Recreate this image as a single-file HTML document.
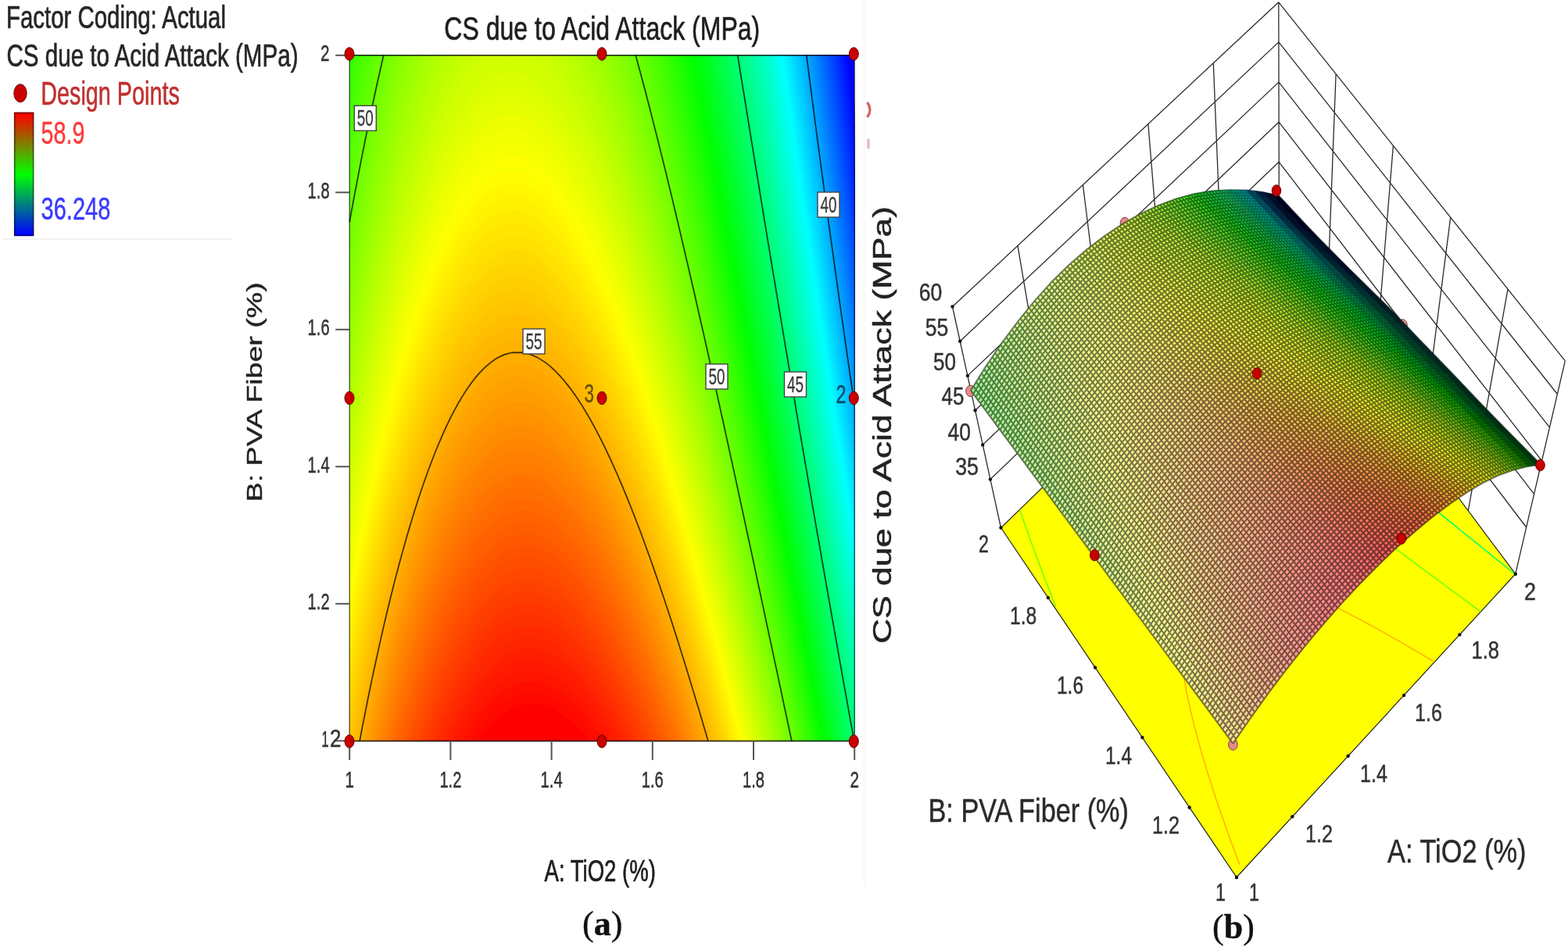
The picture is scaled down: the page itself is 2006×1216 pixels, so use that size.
<!DOCTYPE html>
<html><head><meta charset="utf-8"><title>Figure</title>
<style>html,body{margin:0;padding:0;background:#fff}body{width:2006px;height:1216px;overflow:hidden}svg{display:block}</style>
</head><body>
<svg width="2006" height="1216" viewBox="0 0 2006 1216">
<rect width="2006" height="1216" fill="#fff"/>
<g id="legend">
<text x="8.0" y="35.8" font-family='"Liberation Sans", sans-serif' font-size="40" fill="#262626" textLength="281.0" lengthAdjust="spacingAndGlyphs" stroke="#262626" stroke-width="0.7">Factor Coding: Actual</text>
<text x="8.5" y="85.3" font-family='"Liberation Sans", sans-serif' font-size="40" fill="#262626" textLength="373.0" lengthAdjust="spacingAndGlyphs" stroke="#262626" stroke-width="0.7">CS due to Acid Attack (MPa)</text>
<text x="52.3" y="134.3" font-family='"Liberation Sans", sans-serif' font-size="42" fill="#c03030" textLength="177.5" lengthAdjust="spacingAndGlyphs" stroke="#c03030" stroke-width="0.6">Design Points</text>
<ellipse cx="26.0" cy="119.3" rx="8.2" ry="11.5" fill="#c80000" stroke="#6a0000" stroke-width="1"/>
<defs><linearGradient id="cb" x1="0" y1="0" x2="0" y2="1"><stop offset="0" stop-color="#ff0000"/><stop offset="0.5" stop-color="#00ff00"/><stop offset="1" stop-color="#0000ff"/></linearGradient><linearGradient id="cbd" x1="0" y1="0" x2="0" y2="1"><stop offset="0" stop-color="#800000"/><stop offset="0.5" stop-color="#008000"/><stop offset="1" stop-color="#000080"/></linearGradient></defs>
<rect x="17.9" y="143.6" width="25.5" height="158.6" fill="url(#cbd)"/>
<rect x="19.5" y="145.6" width="22.3" height="155" fill="url(#cb)"/>
<text x="52.6" y="184.0" font-family='"Liberation Sans", sans-serif' font-size="41" fill="#ff3a3a" textLength="55.8" lengthAdjust="spacingAndGlyphs" stroke="#ff3a3a" stroke-width="0.5">58.9</text>
<text x="52.6" y="281.3" font-family='"Liberation Sans", sans-serif' font-size="41" fill="#3a3aff" textLength="88.7" lengthAdjust="spacingAndGlyphs" stroke="#3a3aff" stroke-width="0.5">36.248</text>
<line x1="3" y1="306" x2="298" y2="306" stroke="#f2f2f2" stroke-width="2"/>
<line x1="1105.5" y1="0" x2="1105.5" y2="1135" stroke="#f7f7f7" stroke-width="1.5"/>
<path d="M1109.5,131 q7,9.5 0,19" fill="none" stroke="#cc4444" stroke-width="3.2" stroke-opacity="0.85"/>
<rect x="1109.3" y="177.5" width="3.4" height="13" fill="#d0608a" fill-opacity="0.45"/>
</g>
<g id="contour">
<rect x="447.2" y="70.8" width="646.0" height="877.5" fill="#0000ff"/>
<path d="M447.2,948.3L1093.2,948.3L1093.2,130.8L1087.9,85.5L1086.2,70.8L447.2,70.8L447.2,948.3Z" fill="#0003ff"/>
<path d="M447.2,948.3L1093.2,948.3L1093.2,145.1L1087.9,100.3L1084.5,70.8L447.2,70.8L447.2,948.3Z" fill="#0008ff"/>
<path d="M447.2,948.3L1093.2,948.3L1093.2,159.3L1087.9,115L1082.8,70.8L447.2,70.8L447.2,948.3Z" fill="#000eff"/>
<path d="M447.2,948.3L1093.2,948.3L1093.2,173.5L1088,129.8L1081.9,78.2L1081.1,70.8L447.2,70.8L447.2,948.3Z" fill="#0014ff"/>
<path d="M447.2,948.3L1093.2,948.3L1093.2,187.5L1088,144.5L1081.9,92.9L1079.3,70.8L447.2,70.8L447.2,948.3Z" fill="#001aff"/>
<path d="M447.2,948.3L1093.2,948.3L1093.2,201.4L1088.1,159.3L1081.9,107.7L1077.6,70.8L447.2,70.8L447.2,948.3Z" fill="#001fff"/>
<path d="M447.2,948.3L1093.2,948.3L1093.2,215.2L1087.3,166.7L1081,115L1075.8,70.8L447.2,70.8L447.2,948.3Z" fill="#0025ff"/>
<path d="M447.2,948.3L1093.2,948.3L1093.2,228.9L1087.3,181.4L1081.1,129.8L1074.1,70.8L447.2,70.8L447.2,948.3Z" fill="#002bff"/>
<path d="M447.2,948.3L1093.2,948.3L1093.2,242.5L1087.4,196.2L1081.1,144.5L1074,85.5L1072.3,70.8L447.2,70.8L447.2,948.3Z" fill="#0030ff"/>
<path d="M447.2,948.3L1093.2,948.3L1093.2,256.1L1087.5,210.9L1081.2,159.3L1074,100.3L1070.5,70.8L447.2,70.8L447.2,948.3Z" fill="#0036ff"/>
<path d="M447.2,948.3L1093.2,948.3L1093.2,269.5L1087.6,225.7L1081.2,174L1074,115L1068.7,70.8L447.2,70.8L447.2,948.3Z" fill="#003cff"/>
<path d="M447.2,948.3L1093.2,948.3L1093.2,282.8L1087.8,240.4L1081.3,188.8L1074.1,129.8L1067,70.8L447.2,70.8L447.2,948.3Z" fill="#0041ff"/>
<path d="M447.2,948.3L1093.2,948.3L1093.2,296.1L1087,247.8L1080.5,196.2L1074.1,144.5L1066.9,85.5L1065.2,70.8L447.2,70.8L447.2,948.3Z" fill="#0047ff"/>
<path d="M447.2,948.3L1093.2,948.3L1093.2,309.2L1087.2,262.5L1080.6,210.9L1074.1,159.3L1066.9,100.3L1063.4,70.8L447.2,70.8L447.2,948.3Z" fill="#004dff"/>
<path d="M447.2,948.3L1093.2,948.3L1093.2,322.3L1087.3,277.3L1080.7,225.7L1074.2,174L1066.9,115L1061.5,70.8L447.2,70.8L447.2,948.3Z" fill="#0052ff"/>
<path d="M447.2,948.3L1093.2,948.3L1093.2,335.3L1087.5,292L1080.8,240.4L1074.3,188.8L1066.9,129.8L1059.7,70.8L447.2,70.8L447.2,948.3Z" fill="#0058ff"/>
<path d="M447.2,948.3L1093.2,948.3L1093.2,348.2L1087.7,306.8L1081,255.1L1074.4,203.5L1067,144.5L1059.7,85.5L1057.9,70.8L447.2,70.8L447.2,948.3Z" fill="#005eff"/>
<path d="M447.2,948.3L1093.2,948.3L1093.2,361L1087,314.1L1080.2,262.5L1073.5,210.9L1067,159.3L1059.7,100.3L1056.1,70.8L447.2,70.8L447.2,948.3Z" fill="#0063ff"/>
<path d="M447.2,948.3L1093.2,948.3L1093.2,373.8L1087.2,328.9L1080.4,277.3L1073.6,225.7L1067.1,174L1059.7,115L1054.2,70.8L447.2,70.8L447.2,948.3Z" fill="#0069ff"/>
<path d="M447.2,948.3L1093.2,948.3L1093.2,386.4L1087.4,343.6L1080.5,292L1073.8,240.4L1067.1,188.8L1059.7,129.8L1052.4,70.8L447.2,70.8L447.2,948.3Z" fill="#006eff"/>
<path d="M447.2,948.3L1093.2,948.3L1093.2,399L1087.7,358.4L1080.7,306.8L1073.9,255.1L1067.2,203.5L1059.7,144.5L1052.3,85.5L1050.5,70.8L447.2,70.8L447.2,948.3Z" fill="#0074ff"/>
<path d="M447.2,948.3L1093.2,948.3L1093.2,411.5L1086.9,365.8L1080,314.1L1073.1,262.5L1066.4,210.9L1059.7,159.3L1052.3,100.3L1048.6,70.8L447.2,70.8L447.2,948.3Z" fill="#007aff"/>
<path d="M447.2,948.3L1093.2,948.3L1093.2,424L1087.2,380.5L1080.2,328.9L1073.3,277.3L1066.5,225.7L1059.8,174L1052.3,115L1046.7,70.8L447.2,70.8L447.2,948.3Z" fill="#007fff"/>
<path d="M447.2,948.3L1093.2,948.3L1093.2,436.4L1087.5,395.3L1080.4,343.6L1073.4,292L1066.6,240.4L1059.8,188.8L1052.3,129.8L1044.9,70.8L447.2,70.8L447.2,948.3Z" fill="#0085ff"/>
<path d="M447.2,948.3L1093.2,948.3L1093.2,448.7L1086.8,402.6L1080.7,358.4L1073.6,306.8L1066.7,255.1L1059.9,203.5L1052.3,144.5L1044.8,85.5L1043,70.8L447.2,70.8L447.2,948.3Z" fill="#008bff"/>
<path d="M447.2,948.3L1093.2,948.3L1093.2,460.9L1087.1,417.4L1079.9,365.8L1072.8,314.1L1065.9,262.5L1059.1,210.9L1052.3,159.3L1044.8,100.3L1041.1,70.8L447.2,70.8L447.2,948.3Z" fill="#0090ff"/>
<path d="M447.2,948.3L1093.2,948.3L1093.2,473.1L1087.4,432.1L1080.2,380.5L1073.1,328.9L1066.1,277.3L1059.2,225.7L1052.4,174L1044.8,115L1039.1,70.8L447.2,70.8L447.2,948.3Z" fill="#0096ff"/>
<path d="M447.2,948.3L1093.2,948.3L1093.2,485.2L1083.6,417.4L1075.3,358.4L1067.2,299.4L1059.3,240.4L1052.4,188.8L1044.8,129.8L1038.1,78.2L1037.2,70.8L447.2,70.8L447.2,948.3Z" fill="#009cff"/>
<path d="M447.2,948.3L1093.2,948.3L1093.2,497.2L1087,454.2L1079.7,402.6L1072.5,351L1065.4,299.4L1058.4,247.8L1051.5,196.2L1044.8,144.5L1038.1,92.9L1035.3,70.8L447.2,70.8L447.2,948.3Z" fill="#00a1ff"/>
<path d="M447.2,948.3L1093.2,948.3L1093.2,509.2L1087.4,469L1080,417.4L1072.8,365.8L1065.6,314.1L1058.6,262.5L1051.6,210.9L1044.8,159.3L1038.1,107.7L1033.3,70.8L447.2,70.8L447.2,948.3Z" fill="#00a7ff"/>
<path d="M447.2,948.3L1093.2,948.3L1093.2,521.1L1083.5,454.2L1075.1,395.3L1066.8,336.3L1059.7,284.6L1051.7,225.7L1044.8,174L1038,122.4L1031.4,70.8L447.2,70.8L447.2,948.3Z" fill="#00adff"/>
<path d="M447.2,948.3L1093.2,948.3L1093.2,532.9L1087.1,491.1L1079.6,439.5L1073.3,395.3L1066,343.6L1058.9,292L1051.8,240.4L1044.9,188.8L1038,137.2L1030.4,78.2L1029.4,70.8L447.2,70.8L447.2,948.3Z" fill="#00b2ff"/>
<path d="M447.2,948.3L1093.2,948.3L1093.2,544.7L1083.2,476.4L1074.7,417.4L1066.3,358.4L1059.1,306.8L1052,255.1L1045,203.5L1038.1,151.9L1030.3,92.9L1027.4,70.8L447.2,70.8L447.2,948.3Z" fill="#00b8ff"/>
<path d="M447.2,948.3L1093.2,948.3L1093.2,556.4L1083.5,491.1L1075,432.1L1066.5,373.1L1059.3,321.5L1052.1,269.9L1045,218.3L1038.1,166.7L1030.3,107.7L1025.4,70.8L447.2,70.8L447.2,948.3Z" fill="#00beff"/>
<path d="M447.2,948.3L1093.2,948.3L1093.2,568.1L1087.2,528L1079.6,476.4L1073.2,432.1L1065.8,380.5L1058.5,328.9L1051.2,277.3L1044.1,225.7L1037.1,174L1030.2,122.4L1023.5,70.8L447.2,70.8L447.2,948.3Z" fill="#00c4ff"/>
<path d="M447.2,948.3L1093.2,948.3L1093.2,579.7L1083.3,513.2L1074.6,454.2L1066,395.3L1058.7,343.6L1051.4,292L1044.2,240.4L1037.2,188.8L1030.2,137.2L1023.4,85.5L1021.5,70.8L447.2,70.8L447.2,948.3Z" fill="#00c9ff"/>
<path d="M447.2,948.3L1093.2,948.3L1093.2,591.3L1087,550.1L1080.4,505.9L1072.8,454.2L1065.3,402.6L1058.9,358.4L1051.6,306.8L1044.4,255.1L1037.3,203.5L1030.2,151.9L1023.3,100.3L1019.4,70.8L447.2,70.8L447.2,948.3Z" fill="#00cfff"/>
<path d="M447.2,948.3L1093.2,948.3L1093.2,602.8L1083,535.4L1074.2,476.4L1066.6,424.7L1059.2,373.1L1051.8,321.5L1044.5,269.9L1037.3,218.3L1030.3,166.7L1023.3,115L1017.4,70.8L447.2,70.8L447.2,948.3Z" fill="#00d4ff"/>
<path d="M447.2,948.3L1093.2,948.3L1093.2,614.2L1083.4,550.1L1074.6,491.1L1067,439.5L1059.4,387.9L1052,336.3L1044.7,284.6L1037.4,233L1030.3,181.4L1023.3,129.8L1015.4,70.8L447.2,70.8L447.2,948.3Z" fill="#00daff"/>
<path d="M447.2,948.3L1093.2,948.3L1093.2,625.6L1087.3,587L1080.5,542.7L1072.8,491.1L1065.1,439.5L1058.6,395.3L1051.2,343.6L1043.8,292L1036.5,240.4L1029.3,188.8L1022.3,137.2L1015.3,85.5L1013.3,70.8L447.2,70.8L447.2,948.3Z" fill="#00e0ff"/>
<path d="M447.2,948.3L1093.2,948.3L1093.2,636.9L1083.2,572.2L1074.3,513.2L1066.6,461.6L1058.9,410L1051.4,358.4L1044,306.8L1036.6,255.1L1029.4,203.5L1022.3,151.9L1015.2,100.3L1011.2,70.8L447.2,70.8L447.2,948.3Z" fill="#00e6ff"/>
<path d="M447.2,948.3L1093.2,948.3L1093.2,648.2L1087.1,609.1L1080.3,564.9L1072.5,513.2L1065.8,469L1058.1,417.4L1050.6,365.8L1044.1,321.5L1036.8,269.9L1029.5,218.3L1022.3,166.7L1015.2,115L1009.2,70.8L447.2,70.8L447.2,948.3Z" fill="#00ebff"/>
<path d="M447.2,948.3L1093.2,948.3L1093.2,659.4L1083,594.4L1074,535.4L1066.2,483.7L1058.5,432.1L1050.8,380.5L1044.4,336.3L1036.9,284.6L1029.6,233L1022.3,181.4L1015.1,129.8L1008.1,78.2L1007.1,70.8L447.2,70.8L447.2,948.3Z" fill="#00f1ff"/>
<path d="M447.2,948.3L1093.2,948.3L1093.2,670.6L1082.4,601.7L1073.3,542.7L1065.4,491.1L1058.8,446.9L1051.1,395.3L1043.5,343.6L1037.1,299.4L1029.7,247.8L1022.3,196.2L1015.1,144.5L1008,92.9L1005,70.8L447.2,70.8L447.2,948.3Z" fill="#00f7ff"/>
<path d="M447.2,948.3L1093.2,948.3L1093.2,681.7L1082.9,616.5L1073.7,557.5L1065.8,505.9L1058,454.2L1051.4,410L1043.7,358.4L1036.2,306.8L1029.8,262.5L1022.4,210.9L1015.1,159.3L1007.9,107.7L1002.9,70.8L447.2,70.8L447.2,948.3Z" fill="#00fcff"/>
<path d="M447.2,948.3L1093.2,948.3L1093.2,692.8L1082.3,623.8L1073.1,564.9L1065.1,513.2L1058.4,469L1050.6,417.4L1044,373.1L1036.4,321.5L1028.8,269.9L1022.5,225.7L1015.1,174L1007.9,122.4L1000.7,70.8L447.2,70.8L447.2,948.3Z" fill="#00fffc"/>
<path d="M447.2,948.3L1093.2,948.3L1093.2,703.8L1082.8,638.6L1073.5,579.6L1065.5,528L1058.7,483.7L1050.9,432.1L1044.2,387.9L1036.6,336.3L1029,284.6L1022.6,240.4L1015.2,188.8L1007.9,137.2L1000.6,85.5L998.6,70.8L447.2,70.8L447.2,948.3Z" fill="#00fff6"/>
<path d="M447.2,948.3L1093.2,948.3L1093.2,714.8L1082.2,646L1074,594.4L1065.9,542.7L1058,491.1L1051.2,446.9L1043.4,395.3L1036.8,351L1029.1,299.4L1021.6,247.8L1015.2,203.5L1007.8,151.9L1000.6,100.3L996.4,70.8L447.2,70.8L447.2,948.3Z" fill="#00fff1"/>
<path d="M447.2,948.3L1093.2,948.3L1093.2,725.8L1082.7,660.7L1073.3,601.7L1065.2,550.1L1058.4,505.9L1047,432.1L1038.1,373.1L1030.4,321.5L1022.8,269.9L1015.3,218.3L1007.8,166.7L1000.5,115L994.3,70.8L447.2,70.8L447.2,948.3Z" fill="#00ffeb"/>
<path d="M447.2,948.3L1093.2,948.3L1093.2,736.6L1082.1,668.1L1073.8,616.5L1065.7,564.9L1054.2,491.1L1045.1,432.1L1037.3,380.5L1029.5,328.9L1021.9,277.3L1015.3,233L1007.9,181.4L1000.4,129.8L993.1,78.2L992.1,70.8L447.2,70.8L447.2,948.3Z" fill="#00ffe5"/>
<path d="M447.2,948.3L1093.2,948.3L1093.2,747.5L1082.7,682.8L1073.2,623.8L1061.5,550.1L1052.3,491.1L1044.3,439.5L1036.4,387.9L1029.7,343.6L1022,292L1014.4,240.4L1007.9,196.2L1000.4,144.5L993,92.9L989.9,70.8L447.2,70.8L447.2,948.3Z" fill="#00ffe0"/>
<path d="M447.2,948.3L1093.2,948.3L1093.2,758.3L1082,690.2L1073.7,638.6L1065.5,587L1058.4,542.7L1046.9,469L1037.8,410L1029.9,358.4L1022.2,306.8L1014.5,255.1L1007.9,210.9L1000.4,159.3L993,107.7L987.7,70.8L447.2,70.8L447.2,948.3Z" fill="#00ffda"/>
<path d="M447.2,948.3L1093.2,948.3L1093.2,769L1082.6,705L1073.1,646L1061.2,572.2L1051.9,513.2L1043.8,461.6L1037,417.4L1029.1,365.8L1022.3,321.5L1014.6,269.9L1008,225.7L1000.4,174L992.9,122.4L985.5,70.8L447.2,70.8L447.2,948.3Z" fill="#00ffd4"/>
<path d="M447.2,948.3L1093.2,948.3L1093.2,779.7L1082,712.3L1073.6,660.7L1065.3,609.1L1058.2,564.9L1051.1,520.6L1044.2,476.4L1036.1,424.7L1029.3,380.5L1021.4,328.9L1014.7,284.6L1007,233L1000.4,188.8L992.8,137.2L985.4,85.5L983.2,70.8L447.2,70.8L447.2,948.3Z" fill="#00ffcf"/>
<path d="M447.2,948.3L1093.2,948.3L1093.2,790.4L1082.7,727.1L1073,668.1L1065.8,623.8L1058.6,579.6L1046.9,505.9L1037.6,446.9L1029.6,395.3L1021.6,343.6L1014.9,299.4L1007.1,247.8L1000.5,203.5L992.8,151.9L985.3,100.3L981,70.8L447.2,70.8L447.2,948.3Z" fill="#00ffc9"/>
<path d="M447.2,948.3L1093.2,948.3L1093.2,801L1082.1,734.5L1073.5,682.8L1065.1,631.2L1053.2,557.5L1044.9,505.9L1036.8,454.2L1025.2,380.5L1016.1,321.5L1008.3,269.9L1000.5,218.3L992.8,166.7L986.3,122.4L978.7,70.8L447.2,70.8L447.2,948.3Z" fill="#00ffc4"/>
<path d="M447.2,948.3L1093.2,948.3L1093.2,811.6L1082.7,749.2L1072.9,690.2L1065.6,646L1058.4,601.7L1051.2,557.5L1044.1,513.2L1032.4,439.5L1023.2,380.5L1015.2,328.9L1007.3,277.3L1000.6,233L992.8,181.4L986.2,137.2L978.6,85.5L976.4,70.8L447.2,70.8L447.2,948.3Z" fill="#00ffbe"/>
<path d="M447.2,948.3L1093.2,948.3L1093.2,822.1L1082.1,756.6L1073.5,705L1061.3,631.2L1051.7,572.2L1043.4,520.6L1036.3,476.4L1029.3,432.1L1022.3,387.9L1014.3,336.3L1007.4,292L1000.6,247.8L992.8,196.2L986.2,151.9L978.5,100.3L974.1,70.8L447.2,70.8L447.2,948.3Z" fill="#00ffb8"/>
<path d="M447.2,948.3L1093.2,948.3L1093.2,832.6L1082.8,771.3L1072.9,712.3L1065.5,668.1L1058.2,623.8L1051,579.6L1043.8,535.4L1036.6,491.1L1029.6,446.9L1016.8,365.8L1007.6,306.8L995.1,225.7L986.1,166.7L978.4,115L971.8,70.8L447.2,70.8L447.2,948.3Z" fill="#00ffb3"/>
<path d="M447.2,948.3L1093.2,948.3L1093.2,843.1L1082.2,778.7L1073.5,727.1L1061.2,653.3L1051.4,594.4L1039.4,520.6L1029.9,461.6L1021.7,410L1014.7,365.8L1007.7,321.5L999.7,269.9L992.9,225.7L986.1,181.4L978.3,129.8L971.7,85.5L969.5,70.8L447.2,70.8L447.2,948.3Z" fill="#00ffad"/>
<path d="M447.2,948.3L1093.2,948.3L1093.2,853.5L1081.6,786.1L1072.9,734.5L1065.4,690.2L1058,646L1045.8,572.2L1037.4,520.6L1029.1,469L1022,424.7L1014.9,380.5L1002.1,299.4L993,240.4L986.1,196.2L978.3,144.5L971.6,100.3L967.1,70.8L447.2,70.8L447.2,948.3Z" fill="#00ffa7"/>
<path d="M447.2,948.3L1093.2,948.3L1093.2,863.9L1082.3,800.8L1073.5,749.2L1061,675.5L1051.2,616.5L1043.9,572.2L1036.6,528L1029.4,483.7L1022.3,439.5L1010.5,365.8L1001.1,306.8L993,255.1L980.5,174L971.5,115L964.7,70.8L447.2,70.8L447.2,948.3Z" fill="#00ffa2"/>
<path d="M447.2,948.3L1093.2,948.3L1093.2,874.2L1081.7,808.2L1072.9,756.6L1065.4,712.3L1052.9,638.6L1044.3,587L1032.2,513.2L1022.6,454.2L1014.3,402.6L1007.2,358.4L1000.1,314.1L993.1,269.9L980.5,188.8L971.4,129.8L963.5,78.2L962.4,70.8L447.2,70.8L447.2,948.3Z" fill="#00ff9c"/>
<path d="M447.2,948.3L1093.2,948.3L1093.2,884.5L1082.5,822.9L1073.6,771.3L1061,697.6L1051,638.6L1043.6,594.4L1036.3,550.1L1029,505.9L1021.7,461.6L1014.5,417.4L1007.4,373.1L1000.3,328.9L993.3,284.6L980.5,203.5L971.3,144.5L963.4,92.9L960,70.8L447.2,70.8L447.2,948.3Z" fill="#00ff96"/>
<path d="M447.2,948.3L1093.2,948.3L1093.2,894.8L1081.9,830.3L1073,778.7L1065.4,734.5L1052.8,660.7L1044.1,609.1L1036.7,564.9L1029.3,520.6L1022.1,476.4L1014.8,432.1L1007.6,387.9L1000.5,343.6L987.5,262.5L979.4,210.9L971.3,159.3L958.7,78.2L957.5,70.8L447.2,70.8L447.2,948.3Z" fill="#00ff91"/>
<path d="M447.2,948.3L1093.2,948.3L1093.2,905L1082.6,845.1L1073.6,793.4L1060.9,719.7L1052.1,668.1L1043.4,616.5L1031,542.7L1022.4,491.1L1010.3,417.4L1000.7,358.4L987.6,277.3L978.2,218.3L971.2,174L964.3,129.8L956.2,78.2L955.1,70.8L447.2,70.8L447.2,948.3Z" fill="#00ff8b"/>
<path d="M447.2,948.3L1093.2,948.3L1093.2,915.2L1082.1,852.4L1073.1,800.8L1065.4,756.6L1052.7,682.8L1043.9,631.2L1036.4,587L1024,513.2L1015.4,461.6L1002.1,380.5L993.7,328.9L985.4,277.3L978.3,233L971.2,188.8L964.2,144.5L952.6,70.8L447.2,70.8L447.2,948.3Z" fill="#00ff85"/>
<path d="M447.2,948.3L1093.2,948.3L1093.2,925.3L1081.6,859.8L1072.5,808.2L1060.9,741.8L1052,690.2L1038.1,609.1L1029.4,557.5L1021.9,513.2L1014.6,469L1007.2,424.7L999.9,380.5L992.7,336.3L985.5,292L978.3,247.8L971.2,203.5L964.2,159.3L951.3,78.2L950.1,70.8L447.2,70.8L447.2,948.3Z" fill="#00ff7f"/>
<path d="M447.2,948.3L1093.2,948.3L1093.2,935.4L1082.3,874.6L1073.2,822.9L1065.4,778.7L1052.6,705L1043.7,653.3L1031.1,579.6L1022.3,528L1014.9,483.7L1007.5,439.5L1000.2,395.3L992.9,351L985.6,306.8L978.4,262.5L971.2,218.3L964.1,174L951.1,92.9L947.6,70.8L447.2,70.8L447.2,948.3Z" fill="#00ff7a"/>
<path d="M447.2,948.3L1093.2,948.3L1093.2,945.5L1081.8,881.9L1072.6,830.3L1059.6,756.6L1050.6,705L1037.9,631.2L1029,579.6L1016.5,505.9L1007.8,454.2L1000.4,410L993.1,365.8L985.8,321.5L978.5,277.3L971.3,233L964.1,188.8L956.9,144.5L945.1,70.8L447.2,70.8L447.2,948.3Z" fill="#00ff74"/>
<path d="M447.2,948.3L1091.9,948.3L1081.2,889.3L1068.1,815.6L1059,764L1051.2,719.7L1038.4,646L1029.5,594.4L1021.9,550.1L1009.4,476.4L1000.7,424.7L987.2,343.6L978.6,292L971.3,247.8L964.1,203.5L956.9,159.3L943.7,78.2L942.6,70.8L447.2,70.8L447.2,948.3Z" fill="#00ff6e"/>
<path d="M447.2,948.3L1090,948.3L1080.7,896.7L1072.8,852.4L1059.7,778.7L1045.4,697.6L1036.4,646L1023.6,572.2L1014.8,520.6L1007.2,476.4L994.8,402.6L986.1,351L972.6,269.9L964.1,218.3L956.8,174L949.6,129.8L942.4,85.5L940,70.8L447.2,70.8L447.2,948.3Z" fill="#00ff69"/>
<path d="M447.2,948.3L1088.2,948.3L1080.2,904.1L1066.9,830.3L1052.5,749.2L1043.4,697.6L1030.5,623.8L1016.4,542.7L1007.6,491.1L1000,446.9L987.6,373.1L978.9,321.5L965.3,240.4L956.8,188.8L949.5,144.5L942.2,100.3L937.4,70.8L447.2,70.8L447.2,948.3Z" fill="#00ff63"/>
<path d="M447.2,948.3L1086.4,948.3L1074.3,881.9L1059.7,800.8L1045.3,719.7L1036.2,668.1L1023.3,594.4L1014.3,542.7L1001.6,469L992.8,417.4L980.3,343.6L971.6,292L958,210.9L949.4,159.3L942.1,115L934.8,70.8L447.2,70.8L447.2,948.3Z" fill="#00ff5e"/>
<path d="M447.2,948.3L1084.5,948.3L1073.8,889.3L1060.4,815.6L1051.2,764L1038,690.2L1028.9,638.6L1016,564.9L1007.1,513.2L994.3,439.5L985.5,387.9L973,314.1L964.2,262.5L956.8,218.3L949.4,174L942,129.8L934.6,85.5L932.1,70.8L447.2,70.8L447.2,948.3Z" fill="#00ff58"/>
<path d="M447.2,948.3L1082.7,948.3L1073.2,896.7L1059.8,822.9L1045.2,741.8L1030.8,660.7L1021.7,609.1L1008.7,535.4L994.6,454.2L985.7,402.6L973.1,328.9L964.3,277.3L956.8,233L949.3,188.8L940.6,137.2L929.5,70.8L447.2,70.8L447.2,948.3Z" fill="#00ff52"/>
<path d="M447.2,948.3L1080.8,948.3L1067.3,874.6L1052.5,793.4L1037.9,712.3L1023.5,631.2L1014.4,579.6L1001.4,505.9L987.3,424.7L978.4,373.1L965.7,299.4L956.8,247.8L949.3,203.5L935.5,122.4L926.8,70.8L447.2,70.8L447.2,948.3Z" fill="#00ff4c"/>
<path d="M447.2,948.3L1078.9,948.3L1066.7,881.9L1053.2,808.2L1043.9,756.6L1030.6,682.8L1016.1,601.7L1001.8,520.6L992.7,469L979.8,395.3L970.9,343.6L958.2,269.9L949.3,218.3L936.6,144.5L927.8,92.9L924,70.8L447.2,70.8L447.2,948.3Z" fill="#00ff47"/>
<path d="M447.2,948.3L1077.1,948.3L1066.1,889.3L1052.6,815.6L1037.8,734.5L1023.2,653.3L1008.7,572.2L994.4,491.1L980.1,410L971.1,358.4L958.2,284.6L949.3,233L936.5,159.3L927.7,107.7L921.3,70.8L447.2,70.8L447.2,948.3Z" fill="#00ff41"/>
<path d="M447.2,948.3L1075.2,948.3L1065.6,896.7L1052,822.9L1043.9,778.7L1030.4,705L1015.8,623.8L1001.3,542.7L986.9,461.6L972.6,380.5L962.2,321.5L950.6,255.1L940.3,196.2L928.8,129.8L918.5,70.8L447.2,70.8L447.2,948.3Z" fill="#00ff3b"/>
<path d="M447.2,948.3L1073.3,948.3L1059.5,874.6L1045.9,800.8L1036.4,749.2L1023,675.5L1009.7,601.7L1000.4,550.1L987.2,476.4L972.8,395.3L963.7,343.6L950.7,269.9L940.3,210.9L928.6,144.5L918.3,85.5L915.7,70.8L447.2,70.8L447.2,948.3Z" fill="#00ff36"/>
<path d="M447.2,948.3L1071.4,948.3L1060.3,889.3L1045.2,808.2L1030.3,727.1L1016.8,653.3L1007.5,601.7L994.2,528L979.6,446.9L965.1,365.8L950.7,284.6L940.3,225.7L928.5,159.3L919,105.3L912.9,70.8L447.2,70.8L447.2,948.3Z" fill="#00ff30"/>
<path d="M447.2,948.3L1069.4,948.3L1058.3,889.3L1044.6,815.6L1030.9,741.8L1016,660.7L1001.3,579.6L986.6,498.5L972,417.4L962.5,364.8L950.8,299.4L940.3,240.4L928.4,174L919,121L910,70.8L447.2,70.8L447.2,948.3Z" fill="#00ff2a"/>
<path d="M447.2,948.3L1067.5,948.3L1052.2,867.2L1038.4,793.4L1023.4,712.3L1008.5,631.2L993.6,550.1L984.3,498.5L972.2,432.1L962.5,378.5L950.9,314.1L940.3,255.1L928.4,188.8L919,136.6L907.1,70.8L447.2,70.8L447.2,948.3Z" fill="#00ff25"/>
<path d="M447.2,948.3L1065.6,948.3L1053,881.9L1037.8,800.8L1024,727.1L1014.5,675.5L1000.8,601.7L987.3,528L972.5,446.9L957.7,365.8L948,312.1L936.3,247.8L925.7,188.8L919,151.9L906.9,85.5L904.2,70.8L447.2,70.8L447.2,948.3Z" fill="#00ff1f"/>
<path d="M447.2,948.3L1063.6,948.3L1052.4,889.3L1038.5,815.6L1023.3,734.5L1008.2,653.3L994.5,579.6L979.6,498.5L969.8,445.2L957.9,380.5L948,326.2L935,255.1L925.6,203.5L918.8,166.7L906.6,100.3L901.2,70.8L447.2,70.8L447.2,948.3Z" fill="#00ff19"/>
<path d="M447.2,948.3L1061.6,948.3L1051.8,896.7L1037.8,822.9L1023.9,749.2L1008.7,668.1L993.6,587L979.9,513.2L965,432.1L955.3,379.6L943.2,314.1L933.5,261.4L921.5,196.2L911.7,143.5L898.2,70.8L447.2,70.8L447.2,948.3Z" fill="#00ff14"/>
<path d="M447.2,948.3L1059.7,948.3L1045.6,874.6L1030.1,793.4L1016.2,719.7L1001,638.6L987.2,564.9L972.1,483.7L962.5,432.1L950.2,365.8L940.6,314.1L928.3,247.8L918.7,196.2L911.7,159L899.3,92.9L895.2,70.8L447.2,70.8L447.2,948.3Z" fill="#00ff0e"/>
<path d="M447.2,948.3L1057.7,948.3L1044.9,881.9L1030.8,808.2L1015.4,727.1L1001.5,653.3L991.6,600.5L979.3,535.4L969.7,483.7L957.3,417.4L947.6,365.8L935.2,299.4L925.5,247.8L913,181.4L904.5,135.9L892.1,70.8L447.2,70.8L447.2,948.3Z" fill="#00ff08"/>
<path d="M447.2,948.3L1055.7,948.3L1044.3,889.3L1030.2,815.6L1016.1,741.8L1006.1,689.3L993.7,623.8L979.7,550.1L969.8,497.3L957.5,432.1L947.8,380.5L935.3,314.1L925.5,262.5L913,196.2L904.5,151.6L897.2,113.6L890,75.8L889,70.8L447.2,70.8L447.2,948.3Z" fill="#00ff03"/>
<path d="M447.2,948.3L1053.7,948.3L1043.7,896.7L1030.9,830.3L1015.3,749.2L1001.2,675.5L991.4,623.8L978.8,557.5L964.8,483.7L955,432.1L942.4,365.8L933.5,318.9L921.3,255.1L911.5,203.5L904.4,166.7L897.2,129.4L890,92L885.8,70.8L447.2,70.8L447.2,948.3Z" fill="#03ff00"/>
<path d="M447.2,948.3L1051.7,948.3L1037.3,874.6L1023.1,800.8L1008.9,727.1L998.8,674.8L986.2,609.1L972.2,535.4L962.3,483.7L949.6,417.4L940.8,371L928.4,306.8L918.5,255.1L911.4,218.3L904.3,181.4L897.1,144.5L889.9,107.7L882.6,70.8L447.2,70.8L447.2,948.3Z" fill="#08ff00"/>
<path d="M447.2,948.3L1049.7,948.3L1038.1,889.3L1023.8,815.6L1008.1,734.5L993.8,660.7L983.9,609.1L971.1,542.7L962.5,498L949.9,432.1L939.9,380.5L926.3,309.6L918.5,269.9L911.4,233L904.2,196.2L896.9,159.3L889.7,122.4L882.3,85.5L879.4,70.8L447.2,70.8L447.2,948.3Z" fill="#0eff00"/>
<path d="M447.2,948.3L1047.6,948.3L1036.1,889.3L1023.1,822.9L1008.7,749.2L998.7,697.6L985.8,631.2L977.1,585.9L964.4,520.6L954.4,469L943,410L933,358.4L920,292L911.3,247.8L904.1,210.9L896.8,174L889.4,137.2L882,100.3L876.1,70.8L447.2,70.8L447.2,948.3Z" fill="#14ff00"/>
<path d="M447.2,948.3L1045.6,948.3L1031.1,874.6L1015.1,793.4L1000.7,719.7L986.3,646L972,572.2L961.9,520.6L949,454.2L940.3,410L927.3,343.6L918.6,299.4L911.3,262.5L904,225.7L896.7,188.8L889.2,151.9L882.7,119.6L875.4,84L872.7,70.8L447.2,70.8L447.2,948.3Z" fill="#19ff00"/>
<path d="M447.2,948.3L1043.5,948.3L1030.4,881.9L1015.8,808.2L1001.3,734.5L991.2,682.8L979.6,623.8L969.5,572.2L956.5,505.9L947.8,461.6L934.8,395.3L926,351L918.7,314.1L911.4,277.3L904,240.4L896.5,203.5L889.1,166.7L882.7,135.4L875.4,100.2L869.3,70.8L447.2,70.8L447.2,948.3Z" fill="#1fff00"/>
<path d="M447.2,948.3L1041.5,948.3L1029.7,889.3L1015.1,815.6L1000.5,741.8L991.6,696.4L978.7,631.2L969.8,586L956.9,520.6L948,475.8L940.8,439.2L933.5,402.6L926.2,365.8L918.8,328.9L911.4,292L903.9,255.1L896.5,218.3L890,186.5L882.7,151.2L875.2,115L867.4,78.2L865.9,70.8L447.2,70.8L447.2,948.3Z" fill="#25ff00"/>
<path d="M447.2,948.3L1039.4,948.3L1027.6,889.3L1015.8,830.3L1001.2,756.6L986.5,682.8L976.3,631.2L964.6,572.2L955.3,525.4L942.6,461.6L933.5,416.3L926.3,380.1L918.9,343.6L911.4,306.8L903.9,269.9L896.4,233L890,201.8L882.7,166.7L874.9,129.8L868.2,97.9L862.4,70.8L447.2,70.8L447.2,948.3Z" fill="#2aff00"/>
<path d="M447.2,948.3L1037.3,948.3L1022.5,874.6L1007.7,800.8L998.8,756.2L985.6,690.2L976.8,646L963.6,579.6L954.7,535.4L942.9,476.4L933.5,429.9L926.3,394L919,358.2L911.5,321.5L903.9,284.6L896.3,247.8L890,217.1L882.5,181.4L874.7,144.5L868.2,114.1L860.4,78.2L858.8,70.8L447.2,70.8L447.2,948.3Z" fill="#30ff00"/>
<path d="M447.2,948.3L1035.2,948.3L1023.3,889.3L1008.5,815.6L993.6,741.8L978.8,668.1L969.8,623.1L956.6,557.5L947.7,513.2L933.5,443.4L920.7,380.5L911.6,336.3L904,299.4L896.3,262.5L890,232.3L882.3,196.2L875.4,163.8L868.1,129.8L860.9,96.8L855.2,70.8L448.8,70.8L447.2,79.5L447.2,948.3Z" fill="#36ff00"/>
<path d="M447.2,948.3L1033.1,948.3L1022.6,896.7L1007.7,822.9L998.8,778.7L986.8,719.7L976.4,668.1L964.5,609.1L955.3,563.7L948,528L940.5,491.1L926.3,421.5L919,386.2L911.7,351L904,314.1L896.3,277.3L890,247.3L882.2,210.9L875.4,179.5L867.9,144.5L860.9,113L853.2,78.2L851.5,70.8L452.5,70.8L447.2,99.7L447.2,948.3Z" fill="#3bff00"/>
<path d="M447.2,948.3L1030.9,948.3L1020.4,896.7L1008.4,837.7L993.5,764L984.3,718.9L971,653.3L962,609.1L949.9,550.1L940.8,505.5L933.3,469L925.6,432.1L911.7,365.3L904.1,328.9L896.3,292L890,262.3L882.1,225.7L875.4,195L867.6,159.3L860.9,129.1L853.7,96.8L847.7,70.8L456.2,70.8L447.2,119.9L447.2,948.3Z" fill="#41ff00"/>
<path d="M447.2,948.3L1028.8,948.3L1015.2,881.9L1006.1,837.2L994.1,778.7L983.6,727.1L971.5,668.1L962.5,623.8L948,553.7L935.1,491.1L925.9,446.9L918.2,410L911.7,379.4L904.2,343.6L896.3,306.8L890,277.1L882,240.4L875.4,210.4L867.4,174L860.8,144.5L853.7,113.1L846.4,81.6L843.9,70.8L460.1,70.8L454.5,100.4L447.2,140L447.2,948.3Z" fill="#47ff00"/>
<path d="M447.2,948.3L1026.6,948.3L1014.5,889.3L1000.9,822.9L991.6,777.6L978.1,712.3L964.5,646L955.3,601.5L940.8,531.5L927.7,469L918.4,424.7L911.7,393.3L904.3,358.4L896.4,321.5L890,291.9L881.9,255.1L875.4,225.7L868.2,193.2L860.5,159.3L853.7,129.3L846.4,98L840,70.8L464,70.8L461.1,85.5L454.1,122.4L447.2,160L447.2,948.3Z" fill="#4dff00"/>
<path d="M447.2,948.3L1024.5,948.3L1013.4,894.5L1000.1,830.3L986.4,764L977.1,718.8L963.5,653.3L949.6,587L940.4,542.7L928,483.7L918.6,439.5L910.7,402.6L904.4,373.1L896.4,336.3L890,306.6L881.9,269.9L875.3,240.4L868.2,208.6L860.3,174L853.5,144.5L846.4,114.3L839.2,83.9L836,70.8L468,70.8L461.7,102.4L454.5,140.5L447.2,180L447.2,948.3Z" fill="#52ff00"/>
<path d="M447.2,948.3L1022.3,948.3L1013.1,904.1L1000.8,845.1L991.6,800.4L979.4,741.8L969.8,695.8L956.3,631.2L948,591.8L940.8,557.3L933,520.6L918.9,454.2L910.9,417.4L904.5,387.5L896.5,351L890,321.2L881.8,284.6L875.2,255.1L868.2,224L860.9,192.4L853.2,159.3L846.2,129.8L839.1,100.3L831.9,70.8L472.1,70.8L469,85.9L461.7,122.4L454.5,160.4L447.2,199.8L447.2,948.3Z" fill="#58ff00"/>
<path d="M447.2,948.3L1020.1,948.3L1007.8,889.3L998.5,845.1L986.2,786.1L977,741.8L964.6,682.8L955.3,638.6L942.8,579.6L933.4,535.4L925.5,498.5L919,468.3L911.1,432.1L904.5,401.5L896.6,365.8L890,335.7L881.8,299.4L875.2,269.9L868.2,239.3L860.9,208L852.9,174L845.9,144.5L838.7,115L831.4,85.5L827.7,70.8L476.2,70.8L468.6,107.7L461.3,144.5L454.2,181.4L447.2,219.6L447.2,948.3Z" fill="#5eff00"/>
<path d="M447.2,948.3L1017.9,948.3L1005.5,889.3L993.1,830.3L983.8,786.1L971.4,727.1L962,682.8L949.5,623.8L940.1,579.6L933.5,549L925.8,513.2L919,481.8L911.4,446.9L904.5,415.4L896.8,380.5L890,350.1L881.9,314.1L875.1,284.6L868.2,254.5L860.9,223.4L853.7,192.8L846.4,162.6L839.2,133L831.9,103.9L824.6,75.4L823.4,70.8L480.6,70.8L475.8,92.9L469,125.7L461.7,162.1L454.5,200L447.2,239.4L447.2,948.3Z" fill="#63ff00"/>
<path d="M447.2,948.3L1015.6,948.3L1006.1,903L993.9,845.1L984.3,799.9L972,741.8L962.5,697.3L950,638.6L940.5,594.4L927.7,535.4L919,495.1L911.6,461.6L903.5,424.7L896.9,395.3L890,364.4L881.9,328.9L875.1,299.4L868.2,269.6L860.9,238.8L853.7,208.4L846.4,178.5L839.2,149.1L831.9,120.3L824.6,92.1L819,70.8L484.9,70.8L476.2,110.7L469,145.5L461.7,181.9L454.5,219.7L447.2,259L447.2,948.3Z" fill="#69ff00"/>
<path d="M447.2,948.3L1013.4,948.3L1000.9,889.3L991.5,845.1L978.9,786.1L969.5,741.8L956.9,682.8L947.4,638.6L940.8,608.1L933,572.2L926.3,541.5L918.4,505.9L911.7,475.6L903.7,439.5L897.1,410L890,378.6L881.9,343.6L875.1,314.1L868.2,284.6L860.9,254L853.7,223.9L846.4,194.3L839.2,165.2L831.9,136.6L824.4,107.7L817.4,81.3L814.5,70.8L489.5,70.8L483.5,97.1L476.2,130.4L468.7,166.7L461.3,203.5L454.3,240.4L447.2,278.6L447.2,948.3Z" fill="#6eff00"/>
<path d="M447.2,948.3L1011.1,948.3L998.6,889.3L986,830.3L976.5,786.1L963.8,727.1L955.3,687.5L947.9,653.3L935,594.4L926.3,554.5L918.8,520.6L911.7,489L903.9,454.2L897.2,424.6L890,392.8L882,358.4L875.1,328.9L868.2,299.4L860.9,269.2L853.7,239.3L846.4,209.9L839.2,181.1L831.7,151.9L824.6,125.1L817.4,98L809.9,70.8L494.1,70.8L490.6,85.5L483.5,116.8L475.9,151.9L469,184.9L461.7,221.2L454.5,258.9L447.2,298.1L447.2,948.3Z" fill="#74ff00"/>
<path d="M447.2,948.3L1008.9,948.3L998.8,901.5L984.3,833.9L969.2,764L954.8,697.6L940.3,631.2L933.5,600.2L925.7,564.9L919,534.8L910.8,498.5L904.2,469L897.2,438.4L890,406.9L882.1,373.1L875.2,343.6L868.2,314.1L860.9,284.2L853.7,254.6L846.4,225.5L839,196.2L831.3,166.7L824.6,141.4L817.4,114.6L810.1,88.4L805.1,70.8L498.9,70.8L490.8,104.7L483.3,137.2L476.2,169.8L469,204.5L461.7,240.7L454.5,278.4L447.2,317.6L447.2,948.3Z" fill="#7aff00"/>
<path d="M447.2,948.3L1006.6,948.3L993.8,889.3L984.3,845.1L971.5,786.1L961.9,741.8L955.3,711.7L942.5,653.3L933.5,612.8L926.1,579.6L919,547.9L911.2,513.2L904.5,483.7L897.2,452.2L889.1,417.4L882.2,387.9L875.2,358.4L868.2,328.9L860.9,299.2L853.7,269.8L846.3,240.4L838.7,210.9L831.9,184.8L824.6,157.6L817,129.8L810.1,105.1L802.3,78.2L800.1,70.8L503.8,70.8L498,94L490.8,124.3L483.5,156.1L476.2,189.3L468.6,225.7L461.7,260.2L454.2,299.4L447.2,337L447.2,948.3Z" fill="#80ff00"/>
<path d="M447.2,948.3L1004.3,948.3L991.5,889.3L978.6,830.3L969,786.1L962.5,756.6L949.5,697.6L940.8,658L933.2,623.8L926.3,593.1L918.2,557.5L911.5,528L904.5,497.3L897.2,465.9L889.3,432.1L882.4,402.6L875.3,373.1L868.2,343.6L860.9,314.1L853.6,284.6L846.1,255.1L838.5,225.7L831.9,200.6L824.6,173.7L817.4,147.3L810.1,121.7L802.9,96.8L795,70.8L509,70.8L505.1,85.5L497.7,115L490.6,144.5L483.5,175.6L476.2,208.8L469,243.4L461.7,279.5L454.5,317.2L447.2,356.3L447.2,948.3Z" fill="#85ff00"/>
<path d="M447.2,948.3L1001.9,948.3L991.6,900.7L977.1,834.4L962.5,768.4L955,734.5L940.8,670.3L933.5,638L925.3,601.7L918.6,572.2L911.7,542.1L904.5,510.7L896.5,476.4L889.5,446.9L882.5,417.4L875.4,387.9L868.2,358.2L860.9,328.8L853.5,299.4L846,269.9L839.2,243.7L831.9,216.4L824.4,188.8L817.4,163.6L809.8,137.2L802.9,113.4L795.6,89.5L789.7,70.8L514.2,70.8L512.2,78.2L505.3,104.3L498,133.1L490.8,163.3L483.2,196.2L476.2,228.2L469,262.8L461.6,299.4L454.5,336.5L447.2,375.6L447.2,948.3Z" fill="#8bff00"/>
<path d="M447.2,948.3L999.6,948.3L991.5,911.4L978.5,852.4L969.8,812.8L955.3,747.4L942.5,690.2L933.5,650.4L925.8,616.5L919,586.8L911.7,555.2L903.7,520.6L896.8,491.1L889.8,461.6L882.7,432.1L875.4,402.2L868.2,372.6L860.9,343.5L853.5,314.1L845.9,284.6L839.2,259.1L831.9,232L824.1,203.5L817.4,179.7L810.1,154.5L802.8,129.8L795.6,106.3L788.3,83.4L784.2,70.8L519.7,70.8L512.5,96.4L505.3,123.8L498,152.5L490.8,182.7L483.5,214.4L476.2,247.8L469,282L461.7,318.1L454.5,355.7L447.2,394.8L447.2,948.3Z" fill="#91ff00"/>
<path d="M447.2,948.3L997.2,948.3L984.2,889.3L971.1,830.3L962.5,791.7L949.7,734.5L940.8,694.8L933,660.7L926.3,631.1L919,599.6L910.9,564.9L904,535.4L897.1,505.9L890,476.1L882.7,446L875.4,416.3L868.2,387L860.9,358.1L853.5,328.9L845.8,299.4L839.2,274.4L831.9,247.5L824.6,221.3L817.4,195.7L810.1,170.7L802.3,144.5L795.4,122.4L788.3,100.3L781,78.2L778.5,70.8L525.5,70.8L519.8,90L512.5,115.9L504.9,144.5L498,171.9L490.4,203.5L483.5,233.6L476.2,266.7L469,301.2L461.7,337.3L454.5,374.9L447.2,414L447.2,948.3Z" fill="#96ff00"/>
<path d="M447.2,948.3L994.9,948.3L984.3,900.7L969.8,835.6L957,778.7L948,738.9L940.3,705L933.5,675.2L926.3,643.7L918.2,609.1L911.3,579.6L904.4,550.1L897.2,520L890,489.8L882.7,459.9L875.4,430.4L868.2,401.3L860.9,372.7L853.5,343.6L845.7,314.1L839.2,289.6L831.8,262.5L824.6,236.9L817.2,210.9L810.1,186.8L802.9,162.8L795.6,139.5L788.3,117L781.1,95.4L773.8,74.6L772.4,70.8L531.5,70.8L526.9,85.5L519.8,109.4L512.5,135.2L505.3,162.5L498,191.1L490.8,221.3L483.5,252.8L476.2,285.9L468.7,321.5L461.3,358.4L454.2,395.3L447.2,433.1L447.2,948.3Z" fill="#9cff00"/>
<path d="M447.2,948.3L992.5,948.3L984.3,911.4L969.4,845.1L962.5,814.8L947.7,749.2L940.8,719.1L926.3,656.2L918.7,623.8L911.7,594.2L904.5,563.6L897.2,533.3L890,503.3L882.7,473.7L875.4,444.4L868.2,415.5L860.9,387.1L853.5,358.4L845.7,328.9L839.2,304.7L831.6,277.3L824.6,252.5L816.9,225.7L810.1,202.8L802.9,179L795.6,156L788.3,133.7L781.1,112.2L773.8,91.6L766.1,70.8L537.9,70.8L534.3,81.4L527,104.4L519.5,129.8L512.5,154.5L505.3,181.7L497.9,210.9L490.8,240.4L483.5,271.9L475.9,306.8L469,339.5L461.7,375.5L454.5,413L447.2,452.1L447.2,948.3Z" fill="#a2ff00"/>
<path d="M447.2,948.3L990.1,948.3L976.8,889.3L962.5,826.3L955.1,793.4L948,762.7L933.5,699.8L926.1,668.1L919,637.7L911.7,607.1L904.5,576.7L896.3,542.7L889.1,513.2L881.8,483.7L875.4,458.3L868.2,429.7L860.9,401.5L853.5,373.1L845.6,343.6L839.2,319.7L831.5,292L824.6,268L817.4,243L810,218.3L802.9,195.2L795.6,172.3L788.3,150.3L781.1,129L773.5,107.7L766.6,89.1L759.4,70.8L544.6,70.8L541.6,79.2L534.3,100.7L527,123.6L519.8,147.9L512.4,174L505.3,200.8L498,229.4L490.8,259.5L483.3,292L476.2,324L469,358.5L461.6,395.3L454.4,432.1L447.2,471.1L447.2,948.3Z" fill="#a7ff00"/>
<path d="M447.2,948.3L987.6,948.3L977.1,901.5L964.2,845.1L955.3,806.1L940.5,741.8L933.5,712L926.3,681L917.9,646L910.9,616.5L903.8,587L896.7,557.5L889.4,528L882.1,498.5L874.6,469L868.2,443.7L860.9,415.7L853.6,387.9L845.6,358.4L839.2,334.7L831.3,306.8L824.6,283.4L817.4,258.6L809.6,233L802.8,210.9L795.6,188.6L788.3,166.7L780.7,144.5L773.8,125.4L766.6,106.1L759.3,87.7L752.3,70.8L551.8,70.8L548.8,78.4L541.6,98.4L534.3,119.9L527,142.7L519.8,167L512.5,192.7L505.3,219.9L498,248.5L490.8,278.5L483.5,310L476.1,343.6L469,377.4L461.7,413.4L454.5,450.9L447.2,490L447.2,948.3Z" fill="#adff00"/>
<path d="M447.2,948.3L985.2,948.3L976.8,911.4L962.5,849.2L954.8,815.6L948,786.1L940.8,755.1L932.5,719.7L925.5,690.2L918.5,660.7L911.4,631.2L904.3,601.7L897,572.2L889.7,542.7L882.4,513.2L874.9,483.7L868.2,457.7L860.9,430L853.7,402.6L845.7,373.1L839.2,349.5L831.2,321.5L824.6,298.6L817.4,274.1L810.1,250.3L802.4,225.7L795.2,203.5L787.8,181.4L781.1,162.2L773.8,142.2L766.3,122.4L759.3,104.8L752.1,87.6L744.5,70.8L559.5,70.8L556.1,78.9L548.8,97.5L541.6,117.5L534.3,139L527,161.8L519.8,186.1L512.5,211.7L504.9,240.4L498,267.4L490.8,297.4L483.5,328.9L476.2,361.8L469,396.3L461.7,432.2L454.5,469.8L447.2,508.9L447.2,948.3Z" fill="#b3ff00"/>
<path d="M447.2,948.3L982.7,948.3L969.8,892L962.4,859.8L955.3,829.2L940.8,767L933.1,734.5L926.1,705L919,675.4L911.7,645.3L904.5,615.5L897.2,586L890,556.9L882.7,528L875.1,498.5L867.5,469L860.9,444.1L853.7,417L845.7,387.9L839.2,364.3L831.9,338.8L824.6,313.8L817.4,289.5L810.1,265.9L802.9,242.9L795.6,220.7L788.3,199.2L781.1,178.6L773.8,158.8L766.6,139.9L759.3,121.8L752.1,104.8L744.8,88.7L737.5,73.6L736.1,70.8L567.9,70.8L563.3,80.8L556.1,97.9L548.8,116.5L541.3,137.2L533.9,159.3L526.8,181.4L519.8,205L512.5,230.6L505.3,257.7L498,286.3L490.8,316.3L483.5,347.7L476.2,380.6L469,415.1L461.7,451L454.5,488.6L447.2,527.7L447.2,948.3Z" fill="#b8ff00"/>
<path d="M447.2,948.3L980.2,948.3L969.8,903.1L955.3,840.7L947.7,808.2L940.7,778.7L933.5,748.3L926.3,717.9L919,687.8L911.7,657.9L904.5,628.3L897.2,599L890,570.1L882.7,541.5L875.4,513.2L867.7,483.7L860.9,458.1L853.7,431.2L845.8,402.6L839.2,379L831.9,353.6L824.6,328.9L817.4,304.8L810.1,281.4L802.9,258.6L795.6,236.6L788.3,215.4L781.1,194.9L773.3,174L766.6,156.6L759.3,138.7L752.1,121.8L744.8,105.9L737.5,91L730.3,77.1L726.7,70.8L577.2,70.8L570.6,83.9L563.1,100.3L556.1,116.9L548.8,135.5L541.6,155.5L534.3,176.8L527,199.6L519.8,223.8L512.5,249.5L505.1,277.3L497.6,306.8L490.5,336.3L483.5,366.5L476.2,399.4L469,433.8L461.7,469.8L454.5,507.3L447.2,546.4L447.2,948.3Z" fill="#beff00"/>
<path d="M447.2,948.3L977.7,948.3L969.1,911.4L962.3,881.9L955.3,852.1L948,821.3L933.5,760.3L925.5,727.1L918.4,697.6L911.1,668.1L903.9,638.6L896.5,609.1L889,579.6L882.7,554.9L875.4,526.9L868,498.5L860.9,472.1L853.7,445.4L845.9,417.4L839.2,393.6L831.9,368.4L824.5,343.6L817.4,320L810.1,296.8L802.9,274.3L795.6,252.4L788.3,231.4L781,210.9L773.8,191.7L766.6,173.1L759.3,155.5L752.1,138.8L744.5,122.4L737.2,107.7L730.3,94.5L723,81.9L716,70.8L588,70.8L585.1,75.4L577.9,88.4L570.6,102.8L563.3,118.6L556.1,135.8L548.8,154.3L541.6,174.3L534.1,196.2L527,218.4L519.8,242.6L512.5,268.2L505.3,295.3L498,323.8L490.8,353.7L483.5,385.2L476.2,418.1L468.6,454.2L461.7,488.5L454.1,528L447.2,565.2L447.2,948.3Z" fill="#c3ff00"/>
<path d="M447.2,948.3L975.2,948.3L962.5,894.3L948,832.9L940.4,800.8L933.3,771.3L926.2,741.8L919,712.3L911.7,682.8L904.4,653.3L896.9,623.8L889.4,594.4L881.8,564.9L875.4,540.4L868.2,513L860.3,483.7L853.7,459.5L846,432.1L839.2,408.1L831.9,383.2L824.5,358.4L817.4,335.2L810.1,312.1L802.9,289.8L795.6,268.2L788.3,247.3L780.5,225.7L773.8,208L766.2,188.8L759.3,172.1L752.1,155.6L744.8,140L737.5,125.4L730.3,111.9L723,99.4L715.8,87.9L708.5,77.7L703.1,70.8L600.9,70.8L599.6,72.3L592.4,82.6L585.1,94.2L577.6,107.7L570.2,122.4L563.3,137.4L556.1,154.5L548.5,174L541.6,193L534.3,214.4L527,237.1L519.4,262.5L512.5,286.9L505.2,314.1L497.7,343.6L490.6,373.1L483.5,403.8L476.2,436.7L469,471.1L461.7,507.1L454.5,544.7L447.2,583.8L447.2,948.3Z" fill="#c9ff00"/>
<path d="M447.2,948.3L972.6,948.3L962.2,904.1L955.2,874.6L948,844.5L940.8,814.2L933.5,784.1L926.3,754.3L919,724.8L911.7,695.5L904.5,666.5L897.2,637.8L889.9,609.1L882.2,579.6L875.4,553.8L868.2,526.6L860.6,498.5L853.7,473.6L846.2,446.9L839.2,422.5L831.9,397.8L824.5,373.1L817.4,350.2L810.1,327.4L802.9,305.2L795.6,283.8L788.1,262.5L781.1,243.2L773.8,224.2L766.6,206L759.3,188.7L752.1,172.3L744.8,156.9L737.5,142.5L730.3,129.1L723,116.7L715.8,105.4L708.5,95.3L701.2,86.3L693.7,78.2L686.7,71.7L685.5,70.8L618.6,70.8L614.1,74.6L606.9,82.1L599.6,91L592.4,101.3L585.1,112.9L577.9,125.9L570.6,140.3L563.3,156L555.7,174L548.8,191.7L541.6,211.7L534.3,233L527,255.8L519.8,279.9L512.2,306.8L505.3,332.5L498,361L490.8,391L483.5,422.4L476.2,455.3L468.7,491.1L461.7,525.7L454.2,564.9L447.2,602.4L447.2,948.3Z" fill="#cfff00"/>
<path d="M447.2,948.3L970,948.3L955.3,886.2L947.2,852.4L940.1,822.9L932.9,793.4L925.7,764L918.4,734.5L911,705L903.6,675.5L897.2,650.5L890,622.4L882.6,594.4L874.8,564.9L868.2,540.2L860.8,513.2L853.7,487.5L846.3,461.6L839.2,436.9L831.2,410L824.5,387.9L817.4,365.2L810.1,342.5L802.9,320.6L795.6,299.3L787.8,277.3L781.1,259.2L773.8,240.3L766.6,222.3L759.3,205.1L752,188.8L744.8,173.7L737.5,159.3L730.3,146.1L723,133.9L715.5,122.4L708.5,112.8L701.2,103.9L694,96.1L686.7,89.6L679.5,84.2L672.2,80.1L665,77.2L657.7,75.6L650.4,75.2L643.2,76.1L635.9,78.4L628.7,82L621.4,86.8L614.1,93.1L606.9,100.6L599.6,109.6L592.4,119.8L585.1,131.5L577.8,144.5L570.4,159.3L563.3,174.6L556.1,191.8L548.6,210.9L541.6,230.2L534.3,251.6L527,274.3L519.5,299.4L512.5,324L505.3,351.1L497.8,380.5L490.6,410L483.5,440.9L476.2,473.8L469,508.2L461.7,544.2L454.5,581.8L447.2,621L447.2,948.3Z" fill="#d4ff00"/>
<path d="M447.2,948.3L967.4,948.3L955.1,896.7L948,867.2L940.8,837.5L933.5,807.8L926.3,778.4L919,749.2L911.6,719.7L904.1,690.2L896.6,660.7L890,635.3L882.7,607.7L875.2,579.6L868.2,553.7L860.9,527.3L853.7,501.4L846.4,476L839.2,451.2L831.2,424.7L824.5,402.6L817.4,380L810.1,357.6L802.9,335.8L795.4,314.1L788.3,294.5L781.1,275L773.4,255.1L766.6,238.4L759.3,221.5L752.1,205.4L744.8,190.3L737.5,176.2L730.3,163.1L723,151L715.8,140L708.2,129.8L701.2,121.4L694,113.8L686.7,107.3L679.5,102L672.2,98L665,95.2L657.7,93.6L650.4,93.4L643.2,94.4L635.9,96.7L628.6,100.3L621.4,105.2L614.1,111.5L606.9,119.1L599.6,128L592.4,138.3L585.1,149.9L577.9,163L570.6,177.4L563.3,193.1L555.8,210.9L548.8,228.8L541.6,248.7L534.3,270.1L527,292.8L519.8,316.9L512.2,343.6L505.3,369.5L498,398L490.8,427.9L483.5,459.3L476.2,492.2L468.7,528L461.3,564.9L454.2,601.7L447.2,639.5L447.2,948.3Z" fill="#daff00"/>
<path d="M447.2,948.3L964.8,948.3L955.3,908.8L940.8,849.1L932.5,815.6L925.2,786.1L917.8,756.6L911.7,732.5L904.5,704.1L897.1,675.5L889.4,646L882.7,620.7L875.4,593.7L867.6,564.9L860.9,540.9L853.1,513.2L846.4,490L839.2,465.4L831.4,439.5L824.5,417.4L817.4,394.8L810.1,372.6L802.9,351L795.2,328.9L788.3,310L781.1,290.7L773.8,272.2L766.6,254.5L759.3,237.7L752.1,221.8L744.8,206.9L737.5,192.9L730.3,180L723,168.1L715.8,157.2L708.5,147.4L701.2,138.8L694,131.3L686.7,124.9L679.5,119.8L672.2,115.8L665,113.1L657.7,111.6L650.4,111.4L643.2,112.5L635.5,115L628.7,118.5L621.4,123.5L614.1,129.8L606.9,137.4L599.6,146.3L592.4,156.7L585.1,168.3L577.8,181.4L570.4,196.2L563.3,211.5L556.1,228.7L548.6,247.8L541.6,267.1L534.3,288.4L527,311.2L519.5,336.3L512.5,360.9L505.3,387.9L497.8,417.4L490.6,446.9L483.5,477.7L476.2,510.6L469,545.1L461.7,581.1L454.5,618.7L447.2,658L447.2,948.3Z" fill="#e0ff00"/>
<path d="M447.2,948.3L962.2,948.3L955,918.8L947.8,889.3L940.6,859.8L933.3,830.3L925.9,800.8L918.5,771.3L911,741.8L903.4,712.3L897.2,688.6L889.9,660.7L882,631.2L875.4,606.9L867.9,579.6L860.9,554.5L853.4,528L846.4,504L839.2,479.5L831.5,454.2L824.6,432.1L817.4,409.5L810.1,387.5L802.8,365.8L795,343.6L788.3,325.5L781.1,306.3L773.8,288L766.3,269.9L759.3,253.9L752.1,238.1L744.8,223.4L737.5,209.6L729.9,196.2L723,185L715.6,174L708.5,164.6L701.2,156.1L694,148.7L686.7,142.4L679.1,137.2L672.2,133.5L665,130.9L657.7,129.5L650.4,129.3L643.2,130.5L635.9,132.9L628.7,136.6L621.4,141.6L614.1,147.9L606.9,155.6L599.6,164.6L592.4,174.9L585.1,186.6L577.9,199.7L570.6,214.1L563.3,229.8L555.8,247.8L548.8,265.5L541.6,285.4L534.3,306.8L527,329.5L519.8,353.6L512.2,380.5L505.3,406.2L498,434.7L490.8,464.6L483.5,496L476.2,528.9L468.7,564.9L461.7,599.5L454.2,638.6L447.2,676.4L447.2,948.3Z" fill="#e5ff00"/>
<path d="M447.2,948.3L959.5,948.3L948,901.5L933.5,843L926.3,814L919,785.4L911.6,756.6L904,727.1L896.3,697.6L890,673.7L882.5,646L875.4,620L868.2,593.8L860.9,568L853.7,542.7L846.4,517.8L838.4,491.1L831.6,469L824.6,446.7L817.4,424.2L810.1,402.3L802.7,380.5L795.6,360.6L788.3,340.8L781,321.5L773.8,303.7L766.6,286.4L759.3,269.9L752.1,254.3L744.8,239.7L737.3,225.7L730.3,213.4L723,201.8L715.8,191.2L708.3,181.4L701.2,173.2L694,166L686.7,159.8L679.5,154.9L672.2,151.1L665,148.6L657.7,147.2L650.4,147.2L643.2,148.4L635.9,150.8L628.7,154.6L621.4,159.6L614.1,166L606.6,174L599.6,182.7L592.4,193.1L585.1,204.8L577.6,218.3L570.2,233L563.3,248.1L556.1,265.2L548.5,284.6L541.6,303.7L534.3,325L527,347.7L519.4,373.1L512.5,397.4L505.2,424.7L497.7,454.2L490.5,483.7L483.5,514.3L476.2,547.2L469,581.7L461.7,617.8L454.5,655.5L447.2,694.8L447.2,948.3Z" fill="#ebff00"/>
<path d="M447.2,948.3L956.8,948.3L947.7,911.4L940.4,881.9L933,852.4L925.5,822.9L918,793.4L911.7,769.1L904.5,741.2L896.9,712.3L889,682.8L882.7,659.5L874.9,631.2L868.2,607L860.4,579.6L853.7,556.3L846.4,531.7L838.6,505.9L831.8,483.7L824.6,461L817.4,438.7L810.1,417L802.6,395.3L795.6,375.7L788.3,356.1L780.7,336.3L773.8,319.3L766.6,302.1L758.7,284.6L751.8,269.9L744.3,255.1L737.5,242.5L730.3,230L722.9,218.3L715.8,208L708.5,198.6L701.2,190.3L694,183.1L686.7,177.1L679.5,172.3L672.2,168.6L665,166.1L657.7,164.9L650.4,164.9L643.2,166.1L635.9,168.7L628.7,172.5L621.4,177.6L614.1,184L606.9,191.7L599.6,200.8L592.4,211.2L585.1,222.9L577.9,236L570.6,250.4L563.3,266.2L556.1,283.4L548.8,301.9L541.6,321.8L534.1,343.6L527,365.9L519.8,390L512.5,415.6L505.3,442.6L498,471.1L490.8,501L483.5,532.5L476.2,565.4L468.6,601.7L461.7,636.1L454.1,675.5L447.2,713.1L447.2,948.3Z" fill="#f1ff00"/>
<path d="M447.2,948.3L954,948.3L940.8,895L933.5,866.2L926.3,837.6L918.7,808.2L911.1,778.7L904.5,753.5L897.2,726.1L889.6,697.6L882.7,672.4L875.4,646L868.2,620.2L860.8,594.4L853.7,569.8L846.4,545.4L838.9,520.6L831.9,498.1L824.6,475.3L817.4,453.2L810.1,431.7L802.6,410L795.6,390.7L788.3,371.3L781.1,352.7L773.8,334.8L766.6,317.8L759.3,301.7L752.1,286.5L744.8,272.2L737.5,258.8L730.3,246.4L723,235.1L715.8,224.7L708.5,215.5L701.2,207.3L694,200.2L686.7,194.3L679.5,189.6L672.2,186L665,183.6L657.7,182.4L650.4,182.5L643.2,183.8L635.9,186.4L628.7,190.3L621.4,195.4L614.1,201.9L606.9,209.7L599.6,218.7L592.4,229.2L585.1,240.9L577.9,254L570.6,268.4L563.2,284.6L556.1,301.4L548.8,320L541.6,339.9L534.3,361.2L527,384L519.8,408.1L512.5,433.7L505,461.6L498,489.2L490.4,520.6L483.5,550.6L476.2,583.6L469,618.2L461.7,654.3L454.5,692L447.2,731.4L447.2,948.3Z" fill="#f6ff00"/>
<path d="M447.2,948.3L951.3,948.3L940.2,904.1L932.7,874.6L925.2,845.1L919,821.1L911.7,793.3L904,764L897.2,738.5L890,711.6L882.1,682.8L875.4,659L867.6,631.2L860.9,608.1L853.7,583.3L845.9,557.5L839.2,535.3L831.9,512.2L824.6,489.6L817.4,467.6L810.1,446.2L802.6,424.7L795.6,405.6L788.3,386.4L781.1,367.9L773.8,350.3L766.6,333.5L759.3,317.5L752.1,302.4L744.8,288.2L737.5,275L730.1,262.5L723,251.6L715.8,241.4L708.5,232.2L701.2,224.2L694,217.2L686.7,211.4L679.5,206.7L672.2,203.3L665,201L657.7,199.9L650.4,200L643.2,201.4L635.9,204.1L628.7,208L621.4,213.2L614.1,219.7L606.9,227.5L599.6,236.6L591.9,247.8L585.1,258.8L577.9,271.9L570.6,286.4L563.3,302.2L556.1,319.4L548.8,338L541.4,358.4L533.9,380.5L526.9,402.6L519.8,426.1L512.5,451.7L505.3,478.8L498,507.3L490.8,537.2L483.5,568.7L476.2,601.7L469,636.3L461.7,672.5L454.1,712.3L447.2,749.7L447.2,948.3Z" fill="#fcff00"/>
<path d="M447.2,948.3L948.5,948.3L940.8,917.7L933.5,889.2L926,859.8L918.3,830.3L911.7,805.3L904.5,777.9L896.8,749.2L890,724.1L882.6,697.6L875.4,671.9L868.1,646L860.9,621.3L852.9,594.4L846.3,572.2L839.2,549.1L831.9,526.1L824.6,503.7L817.4,481.9L810.1,460.7L802.6,439.5L795.6,420.5L788.3,401.4L781.1,383.1L773.8,365.6L766.6,349L759.3,333.2L752.1,318.2L744.8,304.2L737.5,291.2L730.3,279.1L723,268L715.8,257.9L708.5,248.9L701.2,240.9L694,234.1L686.7,228.4L679.5,223.8L672.2,220.4L665,218.2L657.7,217.2L650.4,217.5L643.2,218.9L635.9,221.6L628.6,225.7L621.4,230.8L614.1,237.4L606.9,245.2L599.6,254.4L592.4,264.9L584.8,277.3L577.9,289.8L570.6,304.3L563.3,320.1L556.1,337.3L548.8,355.9L541.6,375.8L534.3,397.2L527,419.9L519.8,444.1L512.5,469.7L505.3,496.7L498,525.3L490.8,555.2L483.4,587L476.2,619.8L469,654.4L461.7,690.6L454.5,728.4L447.2,767.9L447.2,948.3Z" fill="#fffc00"/>
<path d="M447.2,948.3L945.7,948.3L933.5,900.7L926.3,872.6L919,844.8L911.3,815.6L903.4,786.1L897.2,763.1L889.4,734.5L882.7,710.5L874.9,682.8L868.2,659.4L860.9,634.5L853.4,609.1L846.4,586.2L839.2,562.8L831.9,540L824.6,517.8L817.4,496.2L810.1,475.2L802.6,454.2L795.6,435.2L788.3,416.4L781.1,398.2L773.6,380.5L766.6,364.4L759.3,348.8L752.1,334L744.8,320.1L737.3,306.8L730.3,295.2L723,284.3L715.8,274.3L708.5,265.4L701.2,257.6L694,250.9L686.7,245.3L679.5,240.8L672.2,237.5L665,235.4L657.7,234.5L650.4,234.8L643.2,236.3L635.9,239.1L628.7,243.1L621.4,248.4L614,255.1L606.9,262.9L599.6,272.1L592.4,282.6L585.1,294.4L577.9,307.6L570.6,322.1L563.3,337.9L556.1,355.1L548.8,373.7L541.6,393.7L534.3,415.1L527,437.8L519.8,462L512.5,487.6L505.3,514.7L498,543.2L490.8,573.2L483.5,604.7L476.1,638.6L469,672.4L461.7,708.7L454.5,746.5L447.2,786.1L447.2,948.3Z" fill="#fff600"/>
<path d="M447.2,948.3L942.8,948.3L933.3,911.4L925.7,881.9L917.9,852.4L911.7,829.2L904.1,800.8L897.2,775.4L890,749L882.7,723.1L875.4,697.5L868.2,672.3L860.4,646L853.7,623.4L846.4,599.7L839.2,576.5L831.9,553.8L824.6,531.8L817.4,510.3L810.1,489.5L802.7,469L795.6,449.9L788.3,431.2L781.1,413.3L773.4,395.3L766.6,379.8L759.3,364.3L752.1,349.6L744.8,335.9L737.5,323.1L730.3,311.3L723,300.5L715.8,290.7L708.5,281.9L701.2,274.2L694,267.6L686.7,262.1L679.5,257.7L672.2,254.5L665,252.5L657.7,251.6L650.4,252L643.2,253.6L635.9,256.4L628.7,260.5L621.4,265.9L614.1,272.5L606.9,280.4L599.6,289.7L592.4,300.2L585.1,312.1L577.9,325.3L570.6,339.8L563.3,355.7L556,373.1L548.8,391.5L541.6,411.5L534.3,432.9L527,455.6L519.8,479.8L512.4,505.9L505.3,532.5L498,561.1L490.8,591.1L483.2,623.8L476.2,655.8L469,690.4L461.6,727.1L454.5,764.6L447.2,804.2L447.2,948.3Z" fill="#fff100"/>
<path d="M447.2,948.3L939.9,948.3L932.3,918.8L926.3,895.7L918.7,867.2L910.8,837.7L904.5,814.1L896.8,786.1L890,761.4L882.4,734.5L875.4,710.2L867.5,682.8L860.9,660.7L853.7,636.7L846.4,613.1L839.2,590.1L831.9,567.6L824.6,545.7L817.4,524.4L810.1,503.8L802.8,483.7L795.6,464.6L788.3,446L781.1,428.2L773.3,410L766.6,395L759.3,379.7L752.1,365.2L744.4,351L737.5,339L730.3,327.3L723,316.6L715.6,306.8L708.5,298.3L701.2,290.7L694,284.2L686.7,278.8L679.5,274.5L672.2,271.4L665,269.5L657.7,268.7L650.4,269.2L643.2,270.8L635.9,273.7L628.7,277.9L621.4,283.3L614.1,290L606.9,297.9L599.6,307.2L592.4,317.8L585.1,329.6L577.5,343.6L570.2,358.4L563.3,373.3L556.1,390.6L548.5,410L541.6,429.2L534.3,450.6L527,473.4L519.5,498.5L512.5,523.2L505.3,550.3L497.8,579.6L490.7,609.1L483.5,640.5L475.9,675.5L469,708.4L461.7,744.7L454.5,782.7L447.2,822.3L447.2,948.3Z" fill="#ffeb00"/>
<path d="M447.2,948.3L937,948.3L926.3,907.2L919,879.9L911.6,852.4L903.6,822.9L897.2,799.8L889.3,771.3L882.7,748.1L875.4,722.9L868,697.6L860.9,673.7L853.7,649.8L846.4,626.5L838.5,601.7L831.3,579.6L823.9,557.5L817.4,538.5L810.1,518L802.9,498.2L795.6,479.1L788.3,460.7L781.1,443.1L773.8,426.3L766.5,410L759.3,395L751.9,380.5L744.8,367.3L737.5,354.8L730.3,343.2L723,332.7L715.8,323.1L708.1,314.1L700.9,306.8L694,300.7L686.7,295.4L679.5,291.3L672.2,288.2L665,286.4L657.7,285.7L650.4,286.2L643.2,287.9L635.9,290.9L628.7,295.1L621.4,300.6L614.1,307.3L606.9,315.3L599.6,324.6L592.4,335.2L585.1,347.1L577.9,360.4L570.6,375L563.3,390.9L556.1,408.2L548.8,426.8L541.5,446.9L534.1,469L527,491.1L519.8,515.3L512.5,541L505.3,568.1L498,596.7L490.8,626.8L483.5,658.4L476.2,691.5L468.8,727.1L461.5,764L454.4,800.8L447.2,840.4L447.2,948.3Z" fill="#ffe500"/>
<path d="M447.2,948.3L934.1,948.3L926.3,918.6L918.4,889.3L911.7,864.6L904.4,837.7L897.2,811.9L890,786L882.7,760.6L875.1,734.5L868.2,710.9L860.9,686.7L853,660.7L846,638.6L839,616.5L831.7,594.4L824.2,572.2L817.4,552.5L810.1,532.2L802.9,512.5L795.6,493.6L788.3,475.4L781.1,457.9L773.8,441.2L766.3,424.7L759.2,410L751.6,395.3L744.8,382.8L737.5,370.5L729.8,358.4L723,348.6L715.8,339.2L708.5,330.8L701.2,323.4L694,317.1L686.7,311.9L679.5,307.9L672.2,304.9L665,303.2L657.7,302.6L650.4,303.2L643.2,305L635.9,308L628.7,312.3L621.4,317.8L614.1,324.6L606.9,332.6L599.6,342L592.4,352.6L585.1,364.6L577.9,377.8L570.6,392.5L563.3,408.4L556.1,425.7L548.8,444.4L541.6,464.4L534.3,485.8L527,508.7L519.8,532.9L512.5,558.6L505,587L498,614.4L490.4,646L483.5,676.1L476.2,709.3L469,744.1L461.7,780.5L454.5,818.6L447.2,858.4L447.2,948.3Z" fill="#ffe000"/>
<path d="M447.2,948.3L931.1,948.3L925.2,926.2L919,903.1L911.2,874.6L904.5,850L896.9,822.9L890,798.2L882.2,771.3L875.4,748.1L868.2,723.6L860.3,697.6L853.5,675.5L846.4,653L839.2,630.5L831.9,608.5L824.6,587L816.8,564.9L810.1,546.2L802.9,526.8L795.6,508L788.3,489.9L781.1,472.6L773.8,456.1L766.1,439.5L758.9,424.7L752.1,411.4L744.8,398.3L737.5,386.1L730.3,374.8L723,364.5L715.8,355.2L708.5,346.9L701.2,339.6L694,333.5L686.7,328.4L679.5,324.4L671.9,321.5L665,319.9L657.7,319.4L650.4,320L643.2,321.9L635.9,325L628.7,329.3L621.4,334.9L614.1,341.7L606.9,349.8L599.6,359.2L592.4,369.9L585.1,381.9L577.8,395.3L570.5,410L563.3,425.8L556.1,443.2L548.8,461.9L541.6,481.9L534.3,503.4L527,526.2L519.8,550.5L512.5,576.2L505.3,603.4L498,632L490.8,662.2L483.5,693.9L476.2,727.1L468.6,764L461.7,798.4L454.2,837.7L447.2,876.4L447.2,948.3Z" fill="#ffda00"/>
<path d="M447.2,948.3L928.1,948.3L919,914.6L911.7,888L903.9,859.8L897.2,835.9L889.3,808.2L882.7,785.3L875.4,760.6L867.6,734.5L860.9,712.3L853.7,689L846.4,666.2L839.2,643.8L831.9,622L824.6,600.8L817.1,579.6L810.1,560.3L802.9,541L795.6,522.3L788.3,504.4L781.1,487.3L773.8,470.9L766,454.2L758.7,439.5L752.1,426.7L744.8,413.7L737.5,401.6L730.3,390.5L723,380.3L715.8,371.1L708.5,362.9L701.2,355.8L694,349.7L686.7,344.7L679.5,340.9L672.2,338.1L665,336.5L657.7,336.1L650.4,336.8L643.2,338.8L635.9,341.9L628.7,346.3L621.4,352L614.1,358.8L606.9,367L599.6,376.4L591.9,387.9L585.1,399.2L577.9,412.5L570.6,427.2L563.3,443.2L555.7,461.6L548.8,479.3L541.6,499.4L534.3,520.8L527,543.7L519.8,568L512.4,594.4L505.3,621L498,649.7L490.8,679.8L483.3,712.3L476.2,744.8L469,779.7L461.7,816.2L454.5,854.4L447.2,894.4L447.2,948.3Z" fill="#ffd400"/>
<path d="M447.2,948.3L925,948.3L919,926.1L910.9,896.7L904.5,873.6L896.4,845.1L890,822.6L882.7,797.6L874.9,771.3L868.2,748.9L860.9,725.2L853.7,702L846.4,679.3L839.2,657.1L831.9,635.5L824.6,614.5L817.4,594L810.1,574.2L802.9,555.1L795.1,535.4L788.3,518.9L781.1,501.9L773.8,485.6L766,469L759.3,455.6L752.1,441.9L744.8,429L737.5,417.1L730.3,406L723,396L715.8,386.9L708.5,378.9L701.2,371.8L693.8,365.8L686.7,361L679.5,357.2L672.2,354.6L665,353.1L657.7,352.7L650.4,353.5L643.2,355.6L635.9,358.8L628.7,363.2L621.4,368.9L614.1,375.9L606.9,384.1L599.6,393.5L592.4,404.3L585.1,416.4L577.9,429.8L570.6,444.5L563.3,460.5L556.1,477.9L548.8,496.6L541.6,516.7L534.3,538.3L527,561.2L519.4,587L512.5,611.3L505.2,638.6L497.8,668.1L490.7,697.6L483.5,729.2L475.9,764L469,797.5L461.7,834L454.5,872.3L447.2,912.3L447.2,948.3Z" fill="#ffcf00"/>
<path d="M447.2,948.3L921.9,948.3L911.7,911.3L903.5,881.9L897.2,859.8L890,834.6L882.2,808.2L875.4,785.4L868.2,761.5L860.9,737.9L852.8,712.3L845.7,690.2L838.4,668.1L831.9,648.9L824.6,628L817.4,607.7L809.7,587L802.9,569.1L795.3,550.1L788.3,533.2L781.1,516.4L773.8,500.3L766.6,485L759.3,470.6L752.1,457L744.8,444.2L737.3,432.1L730.3,421.5L723,411.6L715.7,402.6L708.5,394.7L701.2,387.8L694,382L686.7,377.2L679.5,373.5L672.2,371L665,369.5L657.7,369.3L650.4,370.2L643.2,372.3L635.9,375.5L628.7,380.1L621.4,385.8L614.1,392.8L606.9,401L599.6,410.6L592.4,421.4L585.1,433.5L577.9,446.9L570.6,461.6L563.3,477.7L556.1,495.1L548.8,513.9L541.1,535.4L534.3,555.6L526.7,579.6L519.8,602.9L512.5,628.7L505.3,656L498,684.7L490.8,715L483.5,746.8L476.2,780.2L468.9,815.6L461.6,852.4L454.5,890.1L447.2,930.2L447.2,948.3Z" fill="#ffc900"/>
<path d="M447.2,948.3L918.8,948.3L911.7,922.9L904.4,896.7L897.2,871.7L889.5,845.1L882.7,822L875.4,797.8L867.4,771.3L860.5,749.2L853.5,727.1L846.3,705L838.9,682.8L831.4,660.7L824.6,641.5L817.4,621.4L810.1,601.7L802.9,583.1L795.6,564.9L788.3,547.5L781.1,530.8L773.8,514.9L765.9,498.5L759.3,485.4L752.1,472L744.8,459.4L737,446.9L730.3,437L723,427.2L715.8,418.3L708,410L701.2,403.7L694,398L686.7,393.3L679.5,389.7L672.2,387.3L665,385.9L657.7,385.7L650.4,386.7L643.2,388.9L635.9,392.2L628.7,396.8L621.4,402.6L613.8,410L606.9,418L599.6,427.5L592.4,438.4L585.1,450.5L577.9,464L570.6,478.8L563.3,494.9L555.7,513.2L548.8,531.1L541.6,551.3L534.3,572.9L527,595.9L519.8,620.2L512.5,646.1L505.3,673.4L498,702.2L490.8,732.5L483.5,764.3L476.2,797.8L469,832.8L461.7,869.5L454.5,907.9L447.2,948.1L447.2,948.3Z" fill="#ffc400"/>
<path d="M450.4,948.3L915.6,948.3L911.5,933.6L904.5,908.8L896.7,881.9L890,858.7L882.7,834.2L874.9,808.2L868.1,786.1L860.9,763.3L853.7,740.5L846.4,718.3L839.2,696.6L831.9,675.5L824.1,653.3L817.4,635L810.1,615.7L802.9,597L795.6,579L788.3,561.7L781.1,545.2L773.8,529.4L766,513.2L759.3,500.2L752.1,486.9L744.8,474.5L737.5,462.9L730.3,452.3L723,442.6L715.8,433.9L708.5,426.2L701.2,419.5L694,413.9L686.7,409.3L679.5,405.8L672.2,403.5L665,402.2L657.7,402.1L650.4,403.2L643.2,405.4L635.9,408.8L628.7,413.5L621.4,419.3L614.1,426.4L606.9,434.8L599.6,444.4L592.4,455.3L585.1,467.5L577.9,481L570.6,495.8L563.3,512L556.1,529.5L548.8,548.3L541.6,568.5L534.3,590.1L527,613.1L519.5,638.6L512.5,663.4L505.3,690.8L498,719.7L490.8,749.9L483.5,781.8L476.2,815.6L468.6,852.4L461.3,889.3L454.4,926.2L450.4,948.3Z" fill="#ffbe00"/>
<path d="M453.6,948.3L912.4,948.3L904,918.8L897.2,895.3L890,870.6L882.3,845.1L875.4,822.4L868.2,798.9L860.9,775.8L853.7,753.3L846.4,731.2L839.2,709.7L831.9,688.7L824.6,668.1L817.4,648.5L810.1,629.3L802.2,609.1L795.6,593L788.3,575.9L781.1,559.5L773.3,542.7L766,528L759.3,515L752.1,501.8L744.8,489.5L737.5,478.1L730.3,467.6L723,458L715.8,449.4L708.5,441.8L701.2,435.3L694,429.7L686.7,425.3L679.5,421.9L672.2,419.6L665,418.4L657.7,418.4L650.4,419.6L643.2,421.9L635.9,425.4L628.7,430.1L621.4,436L614.1,443.2L606.9,451.6L599.4,461.6L592.4,472.2L585.1,484.4L577.6,498.5L570.4,513.2L563.3,529L556.1,546.5L548.8,565.4L541.1,587L534.3,607.3L526.8,631.2L519.8,654.8L512.5,680.7L505.3,708.1L498,736.9L490.8,767.3L483.2,800.8L476.2,832.8L469,868L461.7,904.8L454.5,943.4L453.6,948.3Z" fill="#ffb800"/>
<path d="M456.8,948.3L909.1,948.3L904.5,932L896.3,904.1L889.8,881.9L882.7,858.4L875.4,834.6L868.2,811.3L860.2,786.1L853,764L845.6,741.8L839.2,722.7L831.9,701.9L824.6,681.6L816.9,660.7L810.1,643L802.5,623.8L795.6,606.9L788.3,590L781.1,573.7L773.5,557.5L766.2,542.7L759.3,529.6L752.1,516.6L744.8,504.4L737.5,493.1L730.3,482.8L723,473.3L715.8,464.9L708.5,457.4L701.2,450.9L694,445.5L686.7,441.1L679.5,437.9L672.2,435.7L665,434.6L657.7,434.6L650.4,435.9L643.2,438.2L635.9,441.8L628.3,446.9L621.4,452.6L614.1,459.8L606.9,468.3L599.6,478L592.4,489L585.1,501.3L577.9,514.8L570.6,529.7L563.3,546L556.1,563.5L548.8,582.4L541.6,602.7L534.3,624.4L527,647.5L519.8,672L512.5,697.9L505.3,725.3L498,754.3L490.4,786.1L483.5,816.7L476.2,850.3L469,885.5L461.7,922.4L456.8,948.3Z" fill="#ffb300"/>
<path d="M460.2,948.3L905.8,948.3L897.2,918.8L890,894.4L882.7,870.4L874.9,845.1L868,822.9L860.9,800.8L853.7,778.6L846.3,756.6L838.7,734.5L831.9,715L824.6,694.9L817.4,675.4L810.1,656.6L802.9,638.3L795.6,620.8L788.3,604L780.7,587L773.7,572.2L766.3,557.5L759.3,544.2L752.1,531.3L744.8,519.3L737.5,508.1L730.3,497.9L723,488.6L715.8,480.2L708.5,472.9L701.2,466.5L694,461.2L686.7,456.9L679.5,453.7L672.2,451.6L665,450.7L657.7,450.8L650.4,452.1L643.2,454.6L635.9,458.2L628.7,463L621.4,469.1L614.1,476.4L606.9,484.9L599.6,494.7L592.3,505.9L585.1,518L577.9,531.7L570.6,546.6L563.3,562.8L556.1,580.4L548.8,599.4L541.6,619.7L534.3,641.4L527,664.6L519.5,690.2L512.5,715.1L505.3,742.6L498,771.5L490.8,802L483.5,834.1L476.2,867.7L468.8,904.1L461.5,940.9L460.2,948.3Z" fill="#ffad00"/>
<path d="M463.5,948.3L902.5,948.3L895.9,926.2L889.3,904.1L882.6,881.9L875.4,858.9L868.2,835.9L860.9,813.3L853.7,791.2L846.4,769.6L839.2,748.6L831.5,727.1L824.6,708.1L817.4,688.8L810.1,670.1L802.9,652L795.6,634.6L787.7,616.5L781,601.7L773.8,586.8L766.5,572.2L759.3,558.8L752.1,546L744.8,534.1L737.5,523.1L730.3,512.9L723,503.8L715.8,495.5L708.5,488.3L701.2,482L694,476.8L686.7,472.7L679.5,469.6L672.2,467.6L665,466.7L657.7,466.9L650.4,468.3L643.2,470.8L635.9,474.5L628.7,479.4L621.4,485.5L614.1,492.9L606.9,501.4L599.6,511.3L592.4,522.4L584.8,535.4L577.9,548.4L570.6,563.4L563.3,579.7L556.1,597.3L548.8,616.5L541.6,636.7L534.3,658.4L526.7,682.8L519.8,706.2L512.5,732.2L505.3,759.7L498,788.7L490.8,819.3L483.3,852.4L476.2,885.1L469,920.5L463.5,948.3Z" fill="#ffa700"/>
<path d="M466.9,948.3L899,948.3L890,918L882.7,894.3L875.4,871L868.2,848.1L860.9,825.7L853.7,803.8L846.4,782.3L839.2,761.4L831.9,741.1L824,719.7L817.4,702.1L809.8,682.8L802.9,665.6L795.6,648.4L788.1,631.2L781.1,616L773.8,601L766.6,586.7L758.7,572.2L752.1,560.6L744.8,548.8L737.5,537.9L730.3,527.9L723,518.9L715.8,510.7L708.5,503.6L701.2,497.5L694,492.4L686.7,488.3L679.5,485.3L672.2,483.4L665,482.6L657.7,482.9L650.4,484.3L643.2,486.9L635.9,490.7L628.7,495.7L621.4,501.9L614.1,509.3L606.9,517.9L599.5,528L592.4,538.9L585.1,551.4L577.9,565.1L570.6,580.1L563.3,596.5L556.1,614.1L548.8,633.2L541.6,653.6L534.3,675.5L527,698.6L519.8,723.2L512.5,749.3L505.3,776.9L498,805.9L490.5,837.7L483.5,868.7L475.9,904.1L469,937.9L466.9,948.3Z" fill="#ffa100"/>
<path d="M470.4,948.3L895.6,948.3L888.9,926.2L882,904.1L875.1,881.9L868,859.8L860.8,837.7L853.4,815.6L845.9,793.4L839.2,774.2L831.9,754L824.6,734.4L817.4,715.3L810.1,696.9L802.9,679.2L795,660.7L788.3,645.7L781.1,630L773.8,615.1L766.6,601L758.9,587L752.1,575.1L744.8,563.5L737.5,552.7L730.2,542.7L723,533.9L715.8,525.9L708.5,518.9L701.2,512.9L694,507.8L686.7,503.9L679.5,501L672.2,499.2L665,498.4L657.7,498.8L650.4,500.4L643.2,503L635.9,506.9L628.7,511.9L621.4,518.2L614.1,525.6L606.9,534.3L599.6,544.3L592.4,555.5L585.1,567.9L577.9,581.7L570.6,596.8L563.3,613.2L556,631.2L548.8,650L541.6,670.4L534.3,692.3L527,715.5L519.8,740.2L512.5,766.3L505.3,793.9L498,823.1L490.8,853.7L483.5,885.9L476.2,919.8L470.4,948.3Z" fill="#ff9c00"/>
<path d="M473.9,948.3L892,948.3L882.7,918L875.4,895L868.2,872.4L860.9,850.3L853.7,828.7L846.4,807.6L838.8,786.1L831.9,766.9L824.6,747.4L816.8,727.1L810.1,710.3L802.9,692.7L795.5,675.5L788.3,659.5L781.1,643.9L773.8,629.2L766.6,615.2L759.2,601.7L752.1,589.6L744.8,578.1L737.5,567.4L730.1,557.5L723,548.9L715.8,541L708.5,534.1L701,528L694,523.3L686.7,519.4L679.5,516.6L672.2,514.8L665,514.2L657.7,514.7L650.4,516.3L643.2,519.1L635.9,523L628.7,528.1L621.4,534.4L614.1,541.9L606.9,550.7L599.6,560.7L592.2,572.2L585.1,584.5L577.9,598.3L570.6,613.4L563.3,629.8L556.1,647.6L548.8,666.7L541.6,687.2L534.3,709.1L527,732.4L519.8,757.1L512.5,783.3L505.3,811L498,840.1L490.8,870.9L483.3,904.1L476.2,937.1L473.9,948.3Z" fill="#ff9600"/>
<path d="M477.5,948.3L888.5,948.3L881.5,926.2L874.5,904.1L867.3,881.9L860,859.8L853.7,841.1L846.4,820.1L839.2,799.7L831.5,778.7L824.6,760.4L817.4,741.7L810.1,723.6L802.4,705L795.6,689.3L788.3,673.2L781.1,657.8L773.8,643.2L766.6,629.3L759.3,616.2L752.1,604L744.8,592.6L737.5,582.1L730.1,572.2L723,563.7L715.8,556L708.5,549.2L701.2,543.4L694,538.6L686.7,534.8L679.5,532.1L672.2,530.5L665,529.9L657.7,530.5L650.4,532.2L643.2,535L635.9,539L628.7,544.2L621.4,550.6L614.1,558.2L606.9,567L599.6,577L592.4,588.3L584.7,601.7L577.9,614.8L570.6,629.9L563.3,646.4L556.1,664.2L548.8,683.4L541.2,705L533.9,727.1L527,749.2L519.8,774L512.4,800.8L505.3,828L498,857.2L490.4,889.3L483.5,920.3L477.5,948.3Z" fill="#ff9000"/>
<path d="M481.2,948.3L884.8,948.3L875.4,918.8L868.2,896.6L860.9,874.6L853.3,852.4L845.6,830.3L839.2,812.3L831.9,792.5L823.8,771.3L817.4,754.8L810.1,736.8L802.9,719.5L795.6,702.8L788.3,686.8L781.1,671.6L773.8,657.1L766.6,643.4L759.3,630.4L752.1,618.3L744.8,607.1L737.5,596.7L730.1,587L723,578.6L715.8,570.9L708.5,564.2L701.2,558.5L694,553.9L686.5,550.1L679.5,547.6L672.2,546L665,545.6L657.7,546.2L650.4,548L643.2,550.9L635.9,555L628.7,560.2L621.4,566.7L614.1,574.3L606.9,583.2L599.6,593.3L592.4,604.7L585.1,617.3L577.8,631.2L570.6,646.4L563.3,663L556.1,680.8L548.8,700.1L541.6,720.6L534.3,742.6L527,766L519.8,790.8L512.5,817.1L505.2,845.1L497.9,874.6L490.8,905L483.5,937.5L481.2,948.3Z" fill="#ff8b00"/>
<path d="M484.9,948.3L881.1,948.3L875.4,930.7L868.2,908.6L860.9,886.9L853.7,865.7L846.4,845.1L838.4,822.9L831.9,805.3L824.6,786.1L817.4,767.8L809.8,749.2L802.9,732.8L795.6,716.3L788.3,700.5L781.1,685.3L773.8,671L766.6,657.4L759.3,644.6L752.1,632.6L744.8,621.5L737.5,611.2L730.2,601.7L723,593.3L715.8,585.8L708.5,579.2L701.2,573.6L694,569.1L686.7,565.5L679.5,563L672.2,561.5L665,561.1L657.7,561.9L650.4,563.7L643.2,566.7L635.9,570.9L628.7,576.2L621.4,582.7L614.1,590.4L606.9,599.3L599.6,609.5L592.4,620.9L585.1,633.6L577.9,647.6L570.6,662.9L563.3,679.5L556,697.6L548.8,716.6L541.6,737.3L534.3,759.3L527,782.8L519.6,808.2L512.5,834L505.3,861.8L498,891.2L490.8,922.1L484.9,948.3Z" fill="#ff8500"/>
<path d="M488.7,948.3L877.3,948.3L867.6,918.8L860.1,896.7L853.7,878L846.4,857.5L839.2,837.5L831.9,818L824.6,799.1L817.4,780.8L810.1,763.1L802.9,746.1L795.6,729.7L788.3,714L781.1,699L773.8,684.8L766.6,671.4L759.3,658.7L751.5,646L744.8,635.8L737.5,625.7L730.3,616.4L723,608L715.8,600.6L708.5,594.2L701.2,588.7L694,584.2L686.7,580.7L679.5,578.3L672.2,576.9L665,576.7L657.7,577.5L650,579.6L643.2,582.5L635.5,587L628.7,592.1L621.4,598.7L614.1,606.4L606.9,615.4L599.6,625.7L592.4,637.2L585.1,649.9L577.9,663.9L570.6,679.2L563.3,695.9L556.1,713.9L548.4,734.5L541.6,753.9L534.3,776L526.6,800.8L519.8,824.4L512.1,852.4L505.3,878.7L498,908.1L490.3,940.9L488.7,948.3Z" fill="#ff7f00"/>
<path d="M492.6,948.3L873.4,948.3L868.2,932.5L860.9,911.1L853.3,889.3L846.4,869.8L839.2,850L831.8,830.3L824.6,811.9L817.3,793.4L810.1,776.2L802.9,759.3L795,741.8L788.1,727.1L780.9,712.3L773.3,697.6L766.6,685.3L759.3,672.7L751.9,660.7L744.8,650.1L737.5,640.1L730.3,630.9L723,622.7L715.8,615.4L708.5,609L701.2,603.6L694,599.3L686.7,595.9L679.5,593.6L672.2,592.3L665,592.1L657.7,593L650.4,595L643.2,598.2L635.9,602.5L628.7,607.9L621.4,614.6L614.1,622.4L606.9,631.5L599.6,641.8L592.4,653.3L585.1,666.1L577.9,680.2L570.6,695.6L563.3,712.3L556.1,730.3L548.8,749.7L541.3,771.3L534,793.4L527,816.1L519.8,841.1L512.5,867.5L505,896.7L497.7,926.2L492.6,948.3Z" fill="#ff7a00"/>
<path d="M496.5,948.3L869.5,948.3L860.9,923.2L853.7,902.4L846.3,881.9L839.2,862.4L831.9,843.2L824,822.9L817.4,806.6L810.1,789.2L802.4,771.3L795.6,756.4L788.3,740.9L781.1,726.2L773.8,712.3L766.6,699.1L759.3,686.7L752.1,675.1L744.8,664.3L737.5,654.4L730.3,645.4L723,637.3L715.8,630.1L708.5,623.8L701.2,618.6L694,614.3L686.7,611L679.5,608.8L672.2,607.6L665,607.5L657.7,608.5L650.4,610.6L643.2,613.8L635.9,618.2L628.5,623.8L621.4,630.4L613.9,638.6L606.9,647.5L599.6,657.8L592.4,669.4L584.8,682.8L577.9,696.4L570.4,712.3L563.3,728.6L556.1,746.7L548.8,766.1L541.6,786.9L534.3,809.1L527,832.7L519.8,857.7L512.5,884.3L505.3,912.3L498,941.8L496.5,948.3Z" fill="#ff7400"/>
<path d="M500.5,948.3L865.4,948.3L860.4,933.6L853.7,914.5L846.4,894.4L839,874.6L831.9,855.8L824.6,837.3L817.4,819.4L809.5,800.8L802.9,785.6L795.6,769.6L788.3,754.3L781.1,739.8L773.8,725.9L766.2,712.3L759.3,700.6L752.1,689.1L744.8,678.5L737,668.1L730.3,659.8L723,651.8L715.8,644.7L708.5,638.6L701.2,633.4L694,629.2L686.7,626L679,623.8L672.2,622.8L665,622.8L657.7,623.9L650.4,626.1L643.2,629.4L635.9,633.8L628.7,639.4L621.4,646.2L614.1,654.2L606.9,663.4L599.6,673.8L592.4,685.5L585.1,698.4L577.9,712.6L570.6,728.1L563.3,744.9L555.7,764L548.8,782.5L541.6,803.3L534.3,825.6L527,849.2L519.7,874.6L512.5,900.9L505.3,929L500.5,948.3Z" fill="#ff6e00"/>
<path d="M504.6,948.3L861.3,948.3L853.5,926.2L846.4,906.7L839.2,887.2L831.4,867.2L824.6,850L817.4,832.2L810.1,815.1L802.9,798.6L795.6,782.8L788.3,767.7L781.1,753.2L773.8,739.5L766.6,726.6L759.3,714.5L752.1,703.1L744.8,692.6L737.5,682.8L730.3,674.1L723,666.2L715.8,659.3L708.5,653.2L701.2,648.2L694,644.1L686.7,641L679.5,639L672.2,638L665,638.1L657.7,639.2L650.4,641.5L643.2,644.9L635.9,649.4L628.7,655.1L621.4,661.9L614.1,670L606.9,679.2L599.3,690.2L592.4,701.4L585.1,714.4L577.9,728.7L570.6,744.2L563.3,761.1L556.1,779.3L548.8,798.8L541.6,819.7L534.3,842L526.6,867.2L519.8,890.9L512.2,918.8L505.3,945.7L504.6,948.3Z" fill="#ff6900"/>
<path d="M508.9,948.3L857.1,948.3L853.7,938.7L846.4,918.8L839.2,899.5L831.9,880.8L824.6,862.6L817.4,845L810.1,828L802.9,811.6L795.6,796L788.3,781L781.1,766.7L773.8,753.1L766.6,740.3L759.3,728.3L752.1,717L744.8,706.6L737.5,697.1L730.3,688.4L723,680.6L715.8,673.8L708.5,667.9L701.2,662.9L694,658.9L686.7,656L679.5,654L672.2,653.1L664.5,653.3L657.7,654.5L650.4,656.9L643.2,660.3L635.9,664.9L628.7,670.7L621.4,677.6L614.1,685.7L606.9,695L599.6,705.6L592.4,717.4L585.1,730.4L577.9,744.7L570.6,760.3L563.3,777.3L556.1,795.5L548.7,815.6L541.6,836.1L533.9,859.8L527,882.2L519.8,907.5L512.5,934.2L508.9,948.3Z" fill="#ff6300"/>
<path d="M513.2,948.3L852.8,948.3L846.4,931L839,911.4L831.9,893.2L824.4,874.6L817.4,857.7L810.1,840.8L802.9,824.6L795.2,808.2L788,793.4L780.4,778.7L773.8,766.6L766.6,753.9L759.2,741.8L752.1,730.9L744.8,720.6L737.5,711.2L730.3,702.6L723,695L715.8,688.2L708.5,682.4L701.2,677.6L694,673.7L686.7,670.8L679.5,669L672.2,668.2L665,668.4L657.7,669.7L650.4,672.2L643.2,675.7L635.9,680.4L628.7,686.2L621.4,693.2L614.1,701.4L606.9,710.8L599.6,721.4L592.4,733.2L585.1,746.4L577.9,760.7L570.6,776.4L563.3,793.4L556.1,811.7L548.8,831.3L541.5,852.4L534.3,874.8L527,898.7L519.8,924L513.2,948.3Z" fill="#ff5e00"/>
<path d="M517.6,948.3L848.3,948.3L839.2,924.1L831.3,904.1L824.6,887.6L817.4,870.3L809.6,852.4L802.9,837.5L795.6,822.1L788.3,807.4L781.1,793.3L773.8,780L766.6,767.5L759.3,755.7L752.1,744.7L744.7,734.5L737.5,725.3L730.3,716.8L723,709.3L715.8,702.6L708.5,696.9L701.2,692.2L694,688.4L686.7,685.6L679.5,683.9L672.2,683.1L665,683.5L657.7,684.9L650.4,687.4L643.2,691L635.9,695.8L628.7,701.7L621.4,708.8L614.1,717L606.5,727.1L599.6,737.2L592.3,749.2L585.1,762.2L577.9,776.7L570.1,793.4L563.3,809.4L556.1,827.8L548.8,847.5L541.6,868.6L534.3,891.1L527,915L519.6,940.9L517.6,948.3Z" fill="#ff5800"/>
<path d="M522.2,948.3L843.8,948.3L838.1,933.6L831.9,917.9L824.6,900.1L816.9,881.9L810.1,866.3L802.9,850.4L795.6,835.1L788.3,820.5L781.1,806.6L773.8,793.4L766.6,781L759.3,769.3L752.1,758.5L744.8,748.4L737.5,739.3L730.3,730.9L723,723.5L715.8,717L708.5,711.4L701.2,706.7L694,703L686.7,700.4L679.5,698.7L672.2,698.1L665,698.5L657.7,700L650.4,702.6L643.2,706.3L635.9,711.2L628.7,717.1L621.4,724.3L614.1,732.6L606.9,742.1L599.6,752.9L592.4,764.8L584.8,778.7L577.5,793.4L570.6,808.4L563.3,825.5L555.6,845.1L548.8,863.7L541.6,884.8L534.3,907.4L527,931.4L522.2,948.3Z" fill="#ff5200"/>
<path d="M526.9,948.3L839.1,948.3L831.9,930.2L824.2,911.4L817.4,895.5L810.1,879L802.9,863.2L795.6,848.1L788.3,833.6L781.1,819.8L773.8,806.8L765.9,793.4L759.3,782.9L751.4,771.3L744.8,762.3L737.5,753.2L730.3,745L723,737.7L715.8,731.2L708.5,725.7L701.2,721.2L694,717.6L686.7,715.1L679.5,713.5L672.2,713L665,713.5L657.7,715.1L650.4,717.7L643.2,721.5L635.9,726.4L628.7,732.5L621.4,739.7L614.1,748.1L606.9,757.7L599.6,768.5L592.4,780.6L585.1,793.9L577.9,808.4L570.6,824.3L563.3,841.4L556.1,859.9L548.8,879.8L541.6,901L534.3,923.6L526.9,948.3Z" fill="#ff4d00"/>
<path d="M531.7,948.3L834.2,948.3L831.3,940.9L824.6,924.9L817.4,908L810.1,891.7L802.2,874.6L795,859.8L788.3,846.6L781.1,833L773.8,820.1L766.6,807.9L759.3,796.5L752.1,785.9L744.8,776.1L737.5,767.1L730.3,759L723,751.8L715.8,745.5L708.5,740.1L701.2,735.6L694,732.2L686.7,729.7L679.5,728.2L672.2,727.8L665,728.4L657.7,730.1L650.4,732.8L643.2,736.7L635.8,741.8L628.7,747.8L621.4,755.1L613.9,764L606.9,773.3L599.6,784.1L592.4,796.2L585.1,809.6L577.9,824.2L570.6,840.2L563.3,857.4L556.1,875.9L548.5,896.7L541.6,917.1L534,940.9L531.7,948.3Z" fill="#ff4700"/>
<path d="M536.7,948.3L829.2,948.3L824.6,937.3L816.6,918.8L810,904.1L802.9,888.7L795.6,873.8L788.3,859.6L780.5,845.1L773.8,833.3L766.6,821.2L759.3,810L752.1,799.5L744.8,789.8L737.5,780.9L730.3,772.9L723,765.8L715.8,759.6L708.5,754.4L701.2,750L694,746.7L686.7,744.3L679.5,742.9L672.2,742.6L665,743.2L657.7,745L650.4,747.9L643.2,751.8L635.9,756.9L628.7,763.1L621.4,770.5L614.1,779L606.9,788.7L599.6,799.7L592.4,811.9L585.1,825.3L577.9,840L570.6,856L563.3,873.3L556.1,891.9L548.8,911.9L541.5,933.6L536.7,948.3Z" fill="#ff4100"/>
<path d="M541.9,948.3L824.1,948.3L817.4,932.9L810.1,916.8L802.9,901.4L795.6,886.6L788.3,872.6L781.1,859.2L773.8,846.5L766.6,834.6L759,822.9L752.1,813L744.8,803.5L737.5,794.7L730.3,786.9L723,779.9L715.8,773.8L708.5,768.6L701.2,764.4L694,761.1L686.7,758.8L679.5,757.5L672.2,757.3L665,758.1L657.7,759.9L650.4,762.8L643.2,766.9L635.9,772L628.3,778.7L621.1,786.1L614.1,794.4L606.9,804.2L599.4,815.6L592.4,827.4L585.1,840.9L577.9,855.7L570.6,871.7L563.3,889.3L556.1,907.8L548.8,927.9L541.9,948.3Z" fill="#ff3c00"/>
<path d="M547.3,948.3L818.7,948.3L810.1,929.4L802.9,914.1L795.6,899.4L788.3,885.5L781.1,872.2L773.8,859.6L766.6,847.8L759.3,836.8L752.1,826.5L744.8,817.1L737.3,808.2L730.3,800.7L722.6,793.4L715.8,787.8L708.5,782.8L701.2,778.6L694,775.5L686.7,773.3L679.5,772.1L672.2,771.9L665,772.8L657.7,774.7L650.4,777.8L643.2,781.9L635.9,787.1L628.7,793.5L621.4,801L614.1,809.7L606.9,819.6L599.6,830.6L592.4,843L585.1,856.5L577.9,871.4L570.6,887.5L563.3,904.9L556.1,923.7L548.8,943.8L547.3,948.3Z" fill="#ff3600"/>
<path d="M552.9,948.3L813.1,948.3L809.7,940.9L802.6,926.2L795.2,911.4L788.3,898.3L781.1,885.2L773.8,872.7L766.6,861L759.3,850.1L752.1,840L744.5,830.3L737.5,822.2L730.3,814.5L723,807.7L715.8,801.8L708.5,796.9L701.2,792.9L694,789.8L686.7,787.7L679.5,786.6L672.2,786.5L665,787.5L657.7,789.5L650.4,792.6L643.2,796.8L635.9,802.1L628.7,808.6L621.4,816.2L614.1,824.9L606.9,834.9L599.6,846.1L592.4,858.4L585.1,872.1L577.9,887L570.2,904.1L563.3,920.7L556.1,939.5L552.9,948.3Z" fill="#ff3000"/>
<path d="M558.7,948.3L807.2,948.3L802.9,939.2L795.6,924.8L788.3,911.1L781.1,898.1L773.8,885.8L766.6,874.2L759.3,863.4L752.1,853.4L744.8,844.2L737.5,835.8L730.3,828.3L723,821.6L715.4,815.6L708.5,811L701.2,807L694,804.1L686.7,802.1L679.5,801.1L672.2,801.1L665,802.1L657.7,804.3L650.4,807.4L643.2,811.7L635.9,817.1L628.7,823.6L621.4,831.3L614.1,840.2L606.9,850.2L599.6,861.4L592,874.6L585.1,887.6L577.9,902.6L570.6,918.8L563.3,936.4L558.7,948.3Z" fill="#ff2a00"/>
<path d="M564.9,948.3L801.1,948.3L795.6,937.5L788.3,923.9L781.1,911L773.8,898.8L766.6,887.3L759.3,876.7L752.1,866.8L744.8,857.7L737.5,849.4L730.3,842L723,835.4L715.8,829.7L708.5,825L701.2,821.1L694,818.3L686.7,816.4L679.5,815.5L672.2,815.6L665,816.7L657.7,818.9L650.4,822.2L643.2,826.6L635.9,832L628.7,838.7L621.4,846.4L614.1,855.3L606.9,865.4L599.6,876.7L592.3,889.3L584.6,904.1L577.5,918.8L570.6,934.4L564.9,948.3Z" fill="#ff2500"/>
<path d="M571.3,948.3L794.6,948.3L788.3,936.6L781.1,923.8L773.6,911.4L766.6,900.4L758.9,889.3L752.1,880.1L744.8,871.1L737.5,862.9L730.3,855.6L723,849.2L715.8,843.6L708.5,838.9L701.2,835.2L694,832.5L686.7,830.7L679.5,829.8L672.2,830.1L665,831.3L657.7,833.6L650.4,836.9L643.2,841.4L635.9,846.9L628.7,853.6L621.4,861.4L614.1,870.4L606.9,880.6L599.6,892L592.4,904.6L584.9,918.8L577.9,933.6L571.3,948.3Z" fill="#ff1f00"/>
<path d="M578.2,948.3L787.8,948.3L781.1,936.6L773.8,924.7L766.6,913.5L759.3,903L752.1,893.3L744.8,884.5L737.5,876.4L730.3,869.2L723,862.9L715.8,857.4L708.5,852.9L701.2,849.2L694,846.6L686.7,844.9L679.5,844.2L672.2,844.5L665,845.8L657.7,848.2L650.4,851.6L643.2,856.1L635.9,861.8L628.7,868.5L621.4,876.4L614.1,885.5L606.9,895.8L599.6,907.2L592.4,919.9L585.1,933.8L578.2,948.3Z" fill="#ff1900"/>
<path d="M585.6,948.3L780.4,948.3L773.8,937.6L766.4,926.2L759.3,916.1L752.1,906.6L744.8,897.8L737,889.3L730.3,882.8L723,876.5L715.8,871.2L708.5,866.7L701.2,863.2L694,860.7L686.7,859L679.5,858.4L672.2,858.8L665,860.2L657.7,862.7L650.4,866.2L643.2,870.8L635.9,876.6L628.7,883.4L621.4,891.4L614.1,900.5L606.5,911.4L599.6,922.4L592.4,935.2L585.6,948.3Z" fill="#ff1400"/>
<path d="M593.5,948.3L772.4,948.3L766.6,939.4L759.3,929.2L752.1,919.7L744.8,911.1L737.5,903.3L730.3,896.3L723,890.2L715.8,884.9L708.5,880.6L701.2,877.2L693.4,874.6L686.7,873.2L679.5,872.6L672.2,873.1L665,874.6L657.7,877.2L650.4,880.8L643.2,885.5L635.9,891.3L628.7,898.2L621.4,906.3L614.1,915.5L606.7,926.2L599.6,937.5L593.5,948.3Z" fill="#ff0e00"/>
<path d="M602.3,948.3L763.7,948.3L758.3,940.9L752.1,932.9L744.8,924.3L737.5,916.6L730.3,909.8L723,903.7L715.8,898.6L708.5,894.4L701.2,891L694,888.7L686.7,887.2L679.5,886.8L672.2,887.4L665,889L657.7,891.6L650.4,895.3L643.2,900.1L635.9,906L628.7,913L621.4,921.2L614.1,930.5L606.9,940.9L602.3,948.3Z" fill="#ff0800"/>
<path d="M612.1,948.3L753.9,948.3L752.1,946L744.8,937.6L737.5,929.9L730.3,923.2L723,917.3L715.8,912.2L708.5,908.1L701.2,904.9L694,902.6L686.7,901.3L679.5,900.9L672.2,901.6L665,903.3L657.7,906L650.4,909.8L643.2,914.7L635.9,920.7L628.7,927.7L621.4,936L614.1,945.4L612.1,948.3Z" fill="#ff0000"/>
<polyline points="1093.2,518.9 1091.6,507.9 1090,496.6 1088.1,484.1 1086.7,474 1084.7,460.4 1083.3,450.3 1081.3,436.7 1079.9,426.5 1078,413 1076.5,402.8 1074.6,389.3 1073.2,379.1 1071.3,365.6 1069.9,355.4 1068,341.8 1066.6,331.7 1064.7,318.1 1063.3,308 1061.4,294.4 1060,284.2 1058.2,270.7 1056.8,260.5 1055,247 1053.6,236.8 1051.8,223.3 1050.4,213.1 1048.6,199.5 1047.2,189.4 1045.4,175.8 1044.1,165.7 1042.3,152.1 1041,141.9 1039.2,128.4 1037.9,118.2 1036.1,104.7 1034.8,94.2 1033.1,81 1031.8,70.8" fill="none" stroke="#000" stroke-opacity="0.75" stroke-width="1.7"/>
<polyline points="1092.7,948.3 1090.3,934.7 1088.4,924.6 1086.6,914.4 1084.2,900.9 1082.4,890.7 1080.2,878.7 1078.1,867 1076.3,856.8 1073.9,843.3 1072.1,833.1 1070.3,822.9 1067.9,809.4 1066.1,799.2 1064,787.3 1061.9,775.5 1060.1,765.3 1057.7,751.8 1056,741.6 1054.2,731.5 1051.8,717.9 1050,707.7 1047.8,694.6 1045.9,684 1044.1,673.9 1041.8,660.3 1040,650.2 1038,638.4 1036,626.4 1034.2,616.3 1031.9,602.7 1030.1,592.6 1028.3,581.7 1026.1,568.8 1024.3,558.7 1022,545.1 1020.3,535 1018.5,524.6 1016.3,511.2 1014.6,501.1 1012.3,487.5 1010.5,477.4 1008.8,467 1006.6,453.6 1004.8,443.5 1002.6,429.9 1000.9,419.8 999.1,408.9 996.9,396.1 995.2,385.9 993,372.3 991.3,362.2 989.3,350.4 987.3,338.5 985.7,328.3 983.4,314.7 981.7,304.6 979.6,291.4 977.8,280.9 976.2,270.7 973.9,257.1 972.3,247 970.1,233.4 968.4,223.3 966.6,212.2 964.5,199.5 962.9,189.4 960.7,175.8 959,165.7 956.9,152.2 955.2,141.9 953.6,131.8 951.4,118.2 949.7,108.1 947.5,94.5 945.9,84.4 943.9,71.7 943.7,70.8" fill="none" stroke="#000" stroke-opacity="0.75" stroke-width="1.7"/>
<polyline points="1012.8,948.3 1010.6,938.1 1008.5,928 1005.6,914.4 1003.4,904.3 1001.3,894.1 999.1,883.7 996.2,870.4 994.1,860.2 991.9,850 989.3,837.9 986.9,826.3 984.7,816.2 982.5,806 979.6,792.5 977.5,782.3 975.3,772.1 973.1,761.8 970.2,748.4 968,738.2 965.9,728.1 963.4,716.3 960.8,704.4 958.6,694.2 956.4,684 953.6,671 951.3,660.3 949.1,650.2 946.9,640 944,626.4 941.8,616.3 939.6,606.1 937.4,595.9 934.4,582.4 932.2,572.2 930,562.1 927.6,551.4 924.8,538.3 922.5,528.2 920.3,518 917.9,507.1 915.1,494.3 912.8,484.1 910.5,474 908.2,463.3 905.3,450.3 903,440.1 900.7,429.9 898.4,419.8 895.3,406.2 893,396.1 890.7,385.9 888.4,375.7 885.4,362.8 882.9,352 880.6,341.8 878.2,331.7 875.7,320.7 872.7,308 870.3,297.8 867.9,287.6 865.5,277.5 862.7,265.7 859.9,253.8 857.4,243.6 854.9,233.4 852.5,223.3 849.7,212.1 846.6,199.5 844.1,189.4 841.6,179.2 839,169.1 836.4,158.9 833.5,147.4 830.4,135.2 827.7,125 825.1,114.8 822.4,104.7 819.7,94.5 816.9,84.4 814,73.6 813.2,70.8" fill="none" stroke="#000" stroke-opacity="0.75" stroke-width="1.7"/>
<polyline points="490.7,70.8 488.4,81 486.1,91.1 483,104.7 480.8,114.8 478.6,125 476.4,135.2 473.5,148.7 471.4,158.9 469.3,169.1 466.7,182.1 464.5,192.8 462.5,202.9 460.2,214.9 457.9,226.6 456,236.8 453.7,248.9 451.5,260.5 449.6,270.7 447.2,284.1 447.2,284.1" fill="none" stroke="#000" stroke-opacity="0.75" stroke-width="1.7"/>
<polyline points="905.8,948.3 902.9,938.1 899.9,928 896.9,917.8 893.9,907.6 890.8,897.5 887.8,887.3 884.7,877.2 881.6,867 878.5,856.8 875.4,846.7 872.2,836.5 869,826.3 865.8,816.2 862.5,806 859.3,795.8 856,785.7 852.6,775.5 849.2,765.3 845.8,755.2 842.3,745 838.8,734.9 835.3,724.7 831.7,714.5 828,704.4 824.3,694.2 820.6,684 817.3,675.3 814,666.7 810.2,656.9 806.2,646.8 802.1,636.6 797.9,626.4 794.5,618.4 790.7,609.5 786.2,599.3 781.6,589.2 778.3,582.1 773.6,572.2 768.6,562.1 765.1,555.3 759.7,545.1 755.6,537.7 750.1,528.2 745.9,521.1 739.5,511.2 734.9,504.5 729.6,497.1 723.1,488.9 716.6,481.3 710.1,474.6 703.7,468.7 697.2,463.6 687.4,457.4 678.7,453.6 667.9,451.1 655,451.3 645.2,453.9 635.5,458.6 627.9,463.8 620,470.6 613.4,477.4 607.6,484.1 602.4,490.9 596.5,499.4 591.2,507.9 586.8,515.2 581.5,524.8 577,533.4 573,541.7 568.2,551.9 564.1,561.3 560.8,569 556.7,579 552.7,589.2 548.9,599.3 545.2,609.5 541.6,619.7 538.2,629.8 534.8,639.9 531.6,650 528.4,660.3 525.3,670.5 522.3,680.6 519.3,690.8 516.5,701 513.7,711.1 510.9,721.3 508.2,731.5 505.5,741.6 502.4,754 499.6,765.3 497.1,775.5 494.6,785.7 492.2,795.8 489.4,808 486.8,819.6 484.5,829.7 482.3,839.9 479.7,851.8 477.1,863.6 475,873.8 472.9,883.9 470.1,897.5 468.1,907.6 466.1,917.8 463.4,931.3 461.5,941.5 460.2,948.3" fill="none" stroke="#000" stroke-opacity="0.75" stroke-width="1.7"/>
<rect x="447.2" y="70.8" width="646.0" height="877.5" fill="none" stroke="#000" stroke-opacity="0.6" stroke-width="1.5"/>
<path d="M447.2,70.8H1093.2M447.2,948.8H1093.2" fill="none" stroke="#000" stroke-opacity="0.55" stroke-width="1.6"/>
<line x1="447.2" y1="948.3" x2="447.2" y2="972.8" stroke="#555" stroke-width="2"/>
<line x1="429.2" y1="948.3" x2="447.2" y2="948.3" stroke="#555" stroke-width="2"/>
<text x="441.4" y="1008.3" font-family='"Liberation Sans", sans-serif' font-size="30" fill="#333" textLength="11.5" lengthAdjust="spacingAndGlyphs" stroke="#333" stroke-width="0.5">1</text>
<line x1="576.4" y1="948.3" x2="576.4" y2="972.8" stroke="#555" stroke-width="2"/>
<line x1="429.2" y1="772.8" x2="447.2" y2="772.8" stroke="#555" stroke-width="2"/>
<text x="562.4" y="1008.3" font-family='"Liberation Sans", sans-serif' font-size="30" fill="#333" textLength="28.0" lengthAdjust="spacingAndGlyphs" stroke="#333" stroke-width="0.5">1.2</text>
<text x="393.6" y="780.2" font-family='"Liberation Sans", sans-serif' font-size="30" fill="#333" textLength="28.0" lengthAdjust="spacingAndGlyphs" stroke="#333" stroke-width="0.5">1.2</text>
<line x1="705.6" y1="948.3" x2="705.6" y2="972.8" stroke="#555" stroke-width="2"/>
<line x1="429.2" y1="597.3" x2="447.2" y2="597.3" stroke="#555" stroke-width="2"/>
<text x="691.6" y="1008.3" font-family='"Liberation Sans", sans-serif' font-size="30" fill="#333" textLength="28.0" lengthAdjust="spacingAndGlyphs" stroke="#333" stroke-width="0.5">1.4</text>
<text x="393.6" y="604.7" font-family='"Liberation Sans", sans-serif' font-size="30" fill="#333" textLength="28.0" lengthAdjust="spacingAndGlyphs" stroke="#333" stroke-width="0.5">1.4</text>
<line x1="834.8" y1="948.3" x2="834.8" y2="972.8" stroke="#555" stroke-width="2"/>
<line x1="429.2" y1="421.8" x2="447.2" y2="421.8" stroke="#555" stroke-width="2"/>
<text x="820.8" y="1008.3" font-family='"Liberation Sans", sans-serif' font-size="30" fill="#333" textLength="28.0" lengthAdjust="spacingAndGlyphs" stroke="#333" stroke-width="0.5">1.6</text>
<text x="393.6" y="429.2" font-family='"Liberation Sans", sans-serif' font-size="30" fill="#333" textLength="28.0" lengthAdjust="spacingAndGlyphs" stroke="#333" stroke-width="0.5">1.6</text>
<line x1="964.0" y1="948.3" x2="964.0" y2="972.8" stroke="#555" stroke-width="2"/>
<line x1="429.2" y1="246.3" x2="447.2" y2="246.3" stroke="#555" stroke-width="2"/>
<text x="950.0" y="1008.3" font-family='"Liberation Sans", sans-serif' font-size="30" fill="#333" textLength="28.0" lengthAdjust="spacingAndGlyphs" stroke="#333" stroke-width="0.5">1.8</text>
<text x="393.6" y="253.7" font-family='"Liberation Sans", sans-serif' font-size="30" fill="#333" textLength="28.0" lengthAdjust="spacingAndGlyphs" stroke="#333" stroke-width="0.5">1.8</text>
<line x1="1093.2" y1="948.3" x2="1093.2" y2="972.8" stroke="#555" stroke-width="2"/>
<line x1="429.2" y1="70.8" x2="447.2" y2="70.8" stroke="#555" stroke-width="2"/>
<text x="1087.5" y="1008.3" font-family='"Liberation Sans", sans-serif' font-size="30" fill="#333" textLength="11.5" lengthAdjust="spacingAndGlyphs" stroke="#333" stroke-width="0.5">2</text>
<text x="410.1" y="78.2" font-family='"Liberation Sans", sans-serif' font-size="30" fill="#333" textLength="11.5" lengthAdjust="spacingAndGlyphs" stroke="#333" stroke-width="0.5">2</text>
<text x="411.5" y="956.0" font-family='"Liberation Sans", sans-serif' font-size="30" fill="#333" textLength="9.0" lengthAdjust="spacingAndGlyphs" stroke="#333" stroke-width="0.5">1</text>
<text x="422.0" y="956.0" font-family='"Liberation Sans", sans-serif' font-size="32" fill="#333" textLength="14.5" lengthAdjust="spacingAndGlyphs" stroke="#333" stroke-width="0.5">2</text>
<rect x="453.3" y="135.3" width="28" height="32" fill="#fff" stroke="#444" stroke-width="1.4"/>
<text x="456.8" y="161.3" font-family='"Liberation Sans", sans-serif' font-size="30" fill="#3a3a3a" textLength="21.0" lengthAdjust="spacingAndGlyphs" stroke="#3a3a3a" stroke-width="0.3">50</text>
<rect x="669.0" y="421.0" width="28" height="32" fill="#fff" stroke="#444" stroke-width="1.4"/>
<text x="672.5" y="447.0" font-family='"Liberation Sans", sans-serif' font-size="30" fill="#3a3a3a" textLength="21.0" lengthAdjust="spacingAndGlyphs" stroke="#3a3a3a" stroke-width="0.3">55</text>
<rect x="903.0" y="466.0" width="28" height="32" fill="#fff" stroke="#444" stroke-width="1.4"/>
<text x="906.5" y="492.0" font-family='"Liberation Sans", sans-serif' font-size="30" fill="#3a3a3a" textLength="21.0" lengthAdjust="spacingAndGlyphs" stroke="#3a3a3a" stroke-width="0.3">50</text>
<rect x="1003.5" y="476.0" width="28" height="32" fill="#fff" stroke="#444" stroke-width="1.4"/>
<text x="1007.0" y="502.0" font-family='"Liberation Sans", sans-serif' font-size="30" fill="#3a3a3a" textLength="21.0" lengthAdjust="spacingAndGlyphs" stroke="#3a3a3a" stroke-width="0.3">45</text>
<rect x="1046.0" y="246.0" width="28" height="32" fill="#fff" stroke="#444" stroke-width="1.4"/>
<text x="1049.5" y="272.0" font-family='"Liberation Sans", sans-serif' font-size="30" fill="#3a3a3a" textLength="21.0" lengthAdjust="spacingAndGlyphs" stroke="#3a3a3a" stroke-width="0.3">40</text>
<ellipse cx="447.0" cy="948.9" rx="6.0" ry="8.2" fill="#c80000" stroke="#6a0000" stroke-width="1"/>
<ellipse cx="447.0" cy="509.5" rx="6.0" ry="8.2" fill="#c80000" stroke="#6a0000" stroke-width="1"/>
<ellipse cx="447.0" cy="69.0" rx="6.0" ry="8.2" fill="#c80000" stroke="#6a0000" stroke-width="1"/>
<ellipse cx="770.0" cy="948.9" rx="6.0" ry="8.2" fill="#c80000" stroke="#6a0000" stroke-width="1"/>
<ellipse cx="770.0" cy="509.5" rx="6.0" ry="8.2" fill="#c80000" stroke="#6a0000" stroke-width="1"/>
<ellipse cx="770.0" cy="69.0" rx="6.0" ry="8.2" fill="#c80000" stroke="#6a0000" stroke-width="1"/>
<ellipse cx="1092.3" cy="948.9" rx="6.0" ry="8.2" fill="#c80000" stroke="#6a0000" stroke-width="1"/>
<ellipse cx="1092.3" cy="509.5" rx="6.0" ry="8.2" fill="#c80000" stroke="#6a0000" stroke-width="1"/>
<ellipse cx="1092.3" cy="69.0" rx="6.0" ry="8.2" fill="#c80000" stroke="#6a0000" stroke-width="1"/>
<text x="747.6" y="514.5" font-family='"Liberation Sans", sans-serif' font-size="34" fill="#6a5200" textLength="12.5" lengthAdjust="spacingAndGlyphs" stroke="#6a5200" stroke-width="0.5">3</text>
<text x="1069.5" y="515.5" font-family='"Liberation Sans", sans-serif' font-size="34" fill="#0a4a6a" textLength="13.0" lengthAdjust="spacingAndGlyphs" stroke="#0a4a6a" stroke-width="0.5">2</text>
<text x="568.3" y="51.0" font-family='"Liberation Sans", sans-serif' font-size="43" fill="#1e1e1e" textLength="404.0" lengthAdjust="spacingAndGlyphs" stroke="#1e1e1e" stroke-width="0.7">CS due to Acid Attack (MPa)</text>
<text x="696.5" y="1128.0" font-family='"Liberation Sans", sans-serif' font-size="38" fill="#1e1e1e" textLength="142.5" lengthAdjust="spacingAndGlyphs" stroke="#1e1e1e" stroke-width="0.7">A: TiO2 (%)</text>
<text x="335.3" y="642.3" font-family='"Liberation Sans", sans-serif' font-size="28" fill="#222" textLength="281.0" lengthAdjust="spacingAndGlyphs" transform="rotate(-90 335.3 642.3)" stroke="#222" stroke-width="0.4">B: PVA Fiber (%)</text>
<text x="745.0" y="1197.0" font-family='"Liberation Serif", serif' font-size="44" fill="#111" stroke="#111" stroke-width="0.4">(<tspan font-weight="bold">a</tspan>)</text>
</g>
<g id="p3d">
<path d="M1266.9,613.6L1636.3,258.4M1636.3,258.4L1952.7,675.0M1257.2,569.4L1636.2,207.3M1636.2,207.3L1962.6,632.4M1247.6,525.2L1636.1,156.2M1636.1,156.2L1972.5,589.8M1237.9,480.9L1636.0,105.1M1636.0,105.1L1982.5,547.1M1228.2,436.7L1635.9,53.9M1635.9,53.9L1992.4,504.5M1218.5,392.5L1635.8,2.8M1635.8,2.8L2002.3,461.9M1351.7,606.4L1302.0,314.6M1878.3,653.8L1929.0,370.1M1422.9,537.3L1385.4,236.6M1817.9,572.8L1855.7,278.3M1494.1,468.2L1468.9,158.7M1757.4,491.9L1782.4,186.4M1565.3,399.1L1552.3,80.7M1697.0,410.9L1709.1,94.6M1280.5,675.5L1218.5,392.5M1636.5,330.0L1635.8,2.8M1938.8,734.7L2002.3,461.9" fill="none" stroke="#2a2a2a" stroke-width="1.3"/>
<polygon points="1280.5,675.5 1582.0,1123.0 1938.8,734.7 1636.5,330.0" fill="#ffff00" stroke="#222" stroke-width="1.2"/>
<polyline points="1790.9,536.7 1783.3,529.9 1776.1,523.5 1768.9,517.1 1761.7,510.6 1753.1,502.8 1746.0,496.4 1738.8,489.9 1731.7,483.4 1723.5,476.0 1716.0,469.0 1708.8,462.5 1701.7,455.9 1693.9,448.7 1686.1,441.5 1678.9,434.9 1671.9,428.3 1663.8,420.7 1656.3,413.7 1649.2,407.0 1642.1,400.4 1633.6,392.4 1626.6,385.7 1619.5,379.0 1612.4,372.2 1604.0,364.2" fill="none" stroke="#00a9ff" stroke-width="1.5"/>
<polyline points="1938.5,735.0 1931.0,729.0 1923.5,723.0 1915.7,716.8 1907.7,710.4 1899.6,703.9 1892.0,697.7 1884.5,691.7 1877.0,685.6 1869.5,679.5 1862.0,673.4 1854.5,667.3 1847.0,661.2 1839.6,655.1 1832.1,648.9 1824.6,642.8 1817.2,636.6 1809.7,630.4 1801.6,623.6 1793.3,616.8 1785.9,610.6 1778.5,604.4 1771.0,598.1 1763.6,591.9 1756.2,585.6 1748.8,579.3 1741.3,573.1 1733.9,566.8 1726.4,560.4 1718.0,553.2 1710.2,546.6 1702.8,540.2 1695.4,533.9 1688.1,527.5 1680.7,521.1 1673.3,514.8 1665.9,508.4 1658.4,501.9 1649.9,494.4 1642.3,487.8 1634.9,481.4 1627.6,475.0 1620.2,468.5 1612.9,462.0 1605.5,455.6 1598.1,449.0 1589.4,441.3 1582.0,434.8 1574.7,428.2 1567.3,421.7 1560.0,415.2" fill="none" stroke="#00ff74" stroke-width="1.5"/>
<polyline points="1894.4,783.0 1886.6,777.3 1878.7,771.5 1871.6,766.2 1864.6,761.0 1856.8,755.3 1849.0,749.5 1841.2,743.7 1833.4,737.9 1825.5,732.1 1817.7,726.3 1809.9,720.4 1802.0,714.6 1794.2,708.7 1787.2,703.5 1780.1,698.2 1772.3,692.3 1764.4,686.4 1756.6,680.6 1748.7,674.7 1740.9,668.8 1733.0,662.9 1725.1,657.0 1717.6,651.4 1710.7,646.2 1703.1,640.5 1695.2,634.6 1687.3,628.7 1679.4,622.7 1671.5,616.8 1663.5,610.9 1656.1,605.3 1649.3,600.3 1641.3,594.3 1633.4,588.4 1625.4,582.5 1617.4,576.6 1609.4,570.7 1602.7,565.7 1595.0,560.1 1587.0,554.2 1578.9,548.3 1570.9,542.4 1563.7,537.2 1556.3,531.8 1548.2,526.0 1540.0,520.1 1532.1,514.5 1525.3,509.7 1517.1,503.9 1508.9,498.1 1501.5,492.9 1493.9,487.7 1485.6,482.0" fill="none" stroke="#6dff00" stroke-width="1.5"/>
<polyline points="1304.5,652.2 1308.2,662.9 1311.9,673.5 1315.3,683.1 1318.7,692.6 1322.6,703.1 1326.5,713.6 1330.4,724.1 1334.3,734.5 1338.3,745.0 1342.4,755.4 1346.4,765.7 1350.5,776.1" fill="none" stroke="#6dff00" stroke-width="1.5"/>
<polyline points="1835.3,847.3 1828.1,843.1 1819.9,838.2 1811.4,833.2 1804.4,829.1 1795.7,824.1 1788.7,820.1 1780.0,815.1 1773.0,811.1 1764.2,806.2 1757.1,802.3 1748.2,797.5 1741.1,793.6 1732.1,788.8 1724.8,785.1 1716.7,780.9 1708.4,776.7 1701.0,773.1 1692.4,768.9 1684.1,765.1 1676.5,761.6 1668.8,758.2 1660.3,754.6 1651.6,751.1 1643.1,747.9 1635.0,745.0 1626.6,742.2 1618.7,739.8 1611.1,737.8 1602.5,735.8 1593.1,734.0 1585.7,733.1 1576.4,732.4 1567.2,732.5 1558.7,733.5 1549.7,735.8 1539.7,740.2 1529.2,748.5 1521.4,759.2 1516.5,769.9 1513.2,781.8 1511.4,792.2 1510.5,801.8 1510.1,813.7 1510.2,822.8 1510.8,833.3 1511.7,843.9 1512.9,854.3 1514.4,864.5 1516.3,876.3 1518.2,886.6 1520.2,896.2 1522.8,908.1 1525.0,917.5 1527.9,929.1 1530.3,938.3 1533.4,949.7 1536.0,959.1 1539.2,970.0 1542.5,981.2 1545.7,991.6 1548.8,1001.1 1552.3,1012.1 1555.9,1023.1 1559.6,1033.9 1563.3,1044.8 1566.8,1054.5 1570.2,1064.2 1574.1,1074.9 1578.0,1085.5 1581.9,1096.2 1585.9,1106.8" fill="none" stroke="#ffb000" stroke-width="1.5"/>
<circle cx="1582.0" cy="1123.0" r="2.2" fill="#111"/>
<circle cx="1582.0" cy="1123.0" r="2.2" fill="#111"/>
<circle cx="1521.7" cy="1033.5" r="2.2" fill="#111"/>
<circle cx="1653.4" cy="1045.3" r="2.2" fill="#111"/>
<circle cx="1461.4" cy="944.0" r="2.2" fill="#111"/>
<circle cx="1724.7" cy="967.7" r="2.2" fill="#111"/>
<circle cx="1401.1" cy="854.5" r="2.2" fill="#111"/>
<circle cx="1796.1" cy="890.0" r="2.2" fill="#111"/>
<circle cx="1340.8" cy="765.0" r="2.2" fill="#111"/>
<circle cx="1867.4" cy="812.4" r="2.2" fill="#111"/>
<circle cx="1280.5" cy="675.5" r="2.2" fill="#111"/>
<circle cx="1938.8" cy="734.7" r="2.2" fill="#111"/>
<circle cx="1266.9" cy="613.6" r="2.2" fill="#111"/>
<circle cx="1257.2" cy="569.4" r="2.2" fill="#111"/>
<circle cx="1247.6" cy="525.2" r="2.2" fill="#111"/>
<circle cx="1237.9" cy="480.9" r="2.2" fill="#111"/>
<circle cx="1228.2" cy="436.7" r="2.2" fill="#111"/>
<circle cx="1218.5" cy="392.5" r="2.2" fill="#111"/>
<ellipse cx="1439.0" cy="285.5" rx="5.8" ry="7.2" fill="#e88a8a" stroke="#7a3a3a" stroke-width="1"/>
<ellipse cx="1241.5" cy="500.5" rx="5.8" ry="7.2" fill="#e88a8a" stroke="#7a3a3a" stroke-width="1"/>
<ellipse cx="1794.5" cy="416.0" rx="5.8" ry="7.2" fill="#e88a8a" stroke="#7a3a3a" stroke-width="1"/>
<ellipse cx="1577.4" cy="953.0" rx="5.8" ry="7.2" fill="#e88a8a" stroke="#7a3a3a" stroke-width="1"/>
<defs><filter id="soft" x="-2%" y="-2%" width="104%" height="104%"><feGaussianBlur stdDeviation="0.6"/></filter></defs>
<g filter="url(#soft)">
<path d="M1634.8,257.7L1645.2,260.4L1636.3,250.9L1625.9,248.1 Z" fill="#00023f" stroke="#00023f" stroke-width="0.8"/>
<path d="M1624.4,255.6L1634.8,257.7L1625.9,248.1L1615.4,246.0 Z" fill="#001552" stroke="#001552" stroke-width="0.8"/>
<path d="M1643.7,267.3L1654.0,269.9L1645.2,260.4L1634.8,257.7 Z" fill="#000540" stroke="#000540" stroke-width="0.8"/>
<path d="M1633.3,265.3L1643.7,267.3L1634.8,257.7L1624.4,255.6 Z" fill="#001852" stroke="#001852" stroke-width="0.8"/>
<path d="M1613.8,254.2L1624.4,255.6L1615.4,246.0L1604.8,244.4 Z" fill="#02407b" stroke="#02407b" stroke-width="0.8"/>
<path d="M1652.7,276.9L1662.9,279.4L1654.0,269.9L1643.7,267.3 Z" fill="#000741" stroke="#000741" stroke-width="0.8"/>
<path d="M1603.1,253.4L1613.8,254.2L1604.8,244.4L1594.0,243.5 Z" fill="#0582a8" stroke="#0582a8" stroke-width="0.8"/>
<path d="M1622.8,264.0L1633.3,265.3L1624.4,255.6L1613.8,254.2 Z" fill="#02477d" stroke="#02477d" stroke-width="0.8"/>
<path d="M1642.3,275.0L1652.7,276.9L1643.7,267.3L1633.3,265.3 Z" fill="#001c53" stroke="#001c53" stroke-width="0.8"/>
<path d="M1661.6,286.4L1671.8,288.9L1662.9,279.4L1652.7,276.9 Z" fill="#000a41" stroke="#000a41" stroke-width="0.8"/>
<path d="M1592.3,253.2L1603.1,253.4L1594.0,243.5L1583.2,243.3 Z" fill="#09d3d0" stroke="#09d3d0" stroke-width="0.8"/>
<path d="M1612.1,263.3L1622.8,264.0L1613.8,254.2L1603.1,253.4 Z" fill="#058ba9" stroke="#058ba9" stroke-width="0.8"/>
<path d="M1651.3,284.6L1661.6,286.4L1652.7,276.9L1642.3,275.0 Z" fill="#002053" stroke="#002053" stroke-width="0.8"/>
<path d="M1670.6,296.0L1680.7,298.3L1671.8,288.9L1661.6,286.4 Z" fill="#000c42" stroke="#000c42" stroke-width="0.8"/>
<path d="M1631.8,273.7L1642.3,275.0L1633.3,265.3L1622.8,264.0 Z" fill="#024d7e" stroke="#024d7e" stroke-width="0.8"/>
<path d="M1581.4,253.3L1592.3,253.2L1583.2,243.3L1572.2,243.3 Z" fill="#0cdfaa" stroke="#0cdfaa" stroke-width="0.8"/>
<path d="M1601.4,263.2L1612.1,263.3L1603.1,253.4L1592.3,253.2 Z" fill="#09d4c7" stroke="#09d4c7" stroke-width="0.8"/>
<path d="M1660.4,294.3L1670.6,296.0L1661.6,286.4L1651.3,284.6 Z" fill="#012554" stroke="#012554" stroke-width="0.8"/>
<path d="M1679.6,305.4L1689.7,307.6L1680.7,298.3L1670.6,296.0 Z" fill="#000f42" stroke="#000f42" stroke-width="0.8"/>
<path d="M1621.2,273.1L1631.8,273.7L1622.8,264.0L1612.1,263.3 Z" fill="#0594aa" stroke="#0594aa" stroke-width="0.8"/>
<path d="M1640.9,283.5L1651.3,284.6L1642.3,275.0L1631.8,273.7 Z" fill="#02557f" stroke="#02557f" stroke-width="0.8"/>
<path d="M1590.5,263.4L1601.4,263.2L1592.3,253.2L1581.4,253.3 Z" fill="#0ddfa0" stroke="#0ddfa0" stroke-width="0.8"/>
<path d="M1669.4,303.8L1679.6,305.4L1670.6,296.0L1660.4,294.3 Z" fill="#012a55" stroke="#012a55" stroke-width="0.8"/>
<path d="M1570.4,253.8L1581.4,253.3L1572.2,243.3L1561.2,243.6 Z" fill="#11e37e" stroke="#11e37e" stroke-width="0.8"/>
<path d="M1610.5,273.1L1621.2,273.1L1612.1,263.3L1601.4,263.2 Z" fill="#09d6be" stroke="#09d6be" stroke-width="0.8"/>
<path d="M1630.3,283.0L1640.9,283.5L1631.8,273.7L1621.2,273.1 Z" fill="#059eac" stroke="#059eac" stroke-width="0.8"/>
<path d="M1650.0,293.2L1660.4,294.3L1651.3,284.6L1640.9,283.5 Z" fill="#025c81" stroke="#025c81" stroke-width="0.8"/>
<path d="M1688.7,314.6L1698.7,316.6L1689.7,307.6L1679.6,305.4 Z" fill="#001243" stroke="#001243" stroke-width="0.8"/>
<path d="M1559.3,254.8L1570.4,253.8L1561.2,243.6L1550.1,244.6 Z" fill="#16e85f" stroke="#16e85f" stroke-width="0.8"/>
<path d="M1579.5,263.9L1590.5,263.4L1581.4,253.3L1570.4,253.8 Z" fill="#11e376" stroke="#11e376" stroke-width="0.8"/>
<path d="M1599.7,273.4L1610.5,273.1L1601.4,263.2L1590.5,263.4 Z" fill="#0ddf96" stroke="#0ddf96" stroke-width="0.8"/>
<path d="M1619.6,283.1L1630.3,283.0L1621.2,273.1L1610.5,273.1 Z" fill="#09d7b5" stroke="#09d7b5" stroke-width="0.8"/>
<path d="M1639.5,292.8L1650.0,293.2L1640.9,283.5L1630.3,283.0 Z" fill="#05a8ad" stroke="#05a8ad" stroke-width="0.8"/>
<path d="M1659.1,302.9L1669.4,303.8L1660.4,294.3L1650.0,293.2 Z" fill="#026482" stroke="#026482" stroke-width="0.8"/>
<path d="M1678.5,313.2L1688.7,314.6L1679.6,305.4L1669.4,303.8 Z" fill="#013057" stroke="#013057" stroke-width="0.8"/>
<path d="M1697.8,323.8L1707.7,325.7L1698.7,316.6L1688.7,314.6 Z" fill="#001644" stroke="#001644" stroke-width="0.8"/>
<path d="M1548.1,256.5L1559.3,254.8L1550.1,244.6L1538.9,246.1 Z" fill="#1bec43" stroke="#1bec43" stroke-width="0.8"/>
<path d="M1568.5,265.1L1579.5,263.9L1570.4,253.8L1559.3,254.8 Z" fill="#16e857" stroke="#16e857" stroke-width="0.8"/>
<path d="M1608.9,283.5L1619.6,283.1L1610.5,273.1L1599.7,273.4 Z" fill="#0ddf8b" stroke="#0ddf8b" stroke-width="0.8"/>
<path d="M1628.8,293.0L1639.5,292.8L1630.3,283.0L1619.6,283.1 Z" fill="#09d9ac" stroke="#09d9ac" stroke-width="0.8"/>
<path d="M1648.6,302.6L1659.1,302.9L1650.0,293.2L1639.5,292.8 Z" fill="#05afab" stroke="#05afab" stroke-width="0.8"/>
<path d="M1687.7,322.6L1697.8,323.8L1688.7,314.6L1678.5,313.2 Z" fill="#013659" stroke="#013659" stroke-width="0.8"/>
<path d="M1706.9,333.1L1716.8,334.8L1707.7,325.7L1697.8,323.8 Z" fill="#001a44" stroke="#001a44" stroke-width="0.8"/>
<path d="M1588.7,274.1L1599.7,273.4L1590.5,263.4L1579.5,263.9 Z" fill="#11e36e" stroke="#11e36e" stroke-width="0.8"/>
<path d="M1668.2,312.4L1678.5,313.2L1669.4,303.8L1659.1,302.9 Z" fill="#036d84" stroke="#036d84" stroke-width="0.8"/>
<path d="M1536.9,258.8L1548.1,256.5L1538.9,246.1L1527.6,248.3 Z" fill="#20ee28" stroke="#20ee28" stroke-width="0.8"/>
<path d="M1557.4,266.9L1568.5,265.1L1559.3,254.8L1548.1,256.5 Z" fill="#1bec3b" stroke="#1bec3b" stroke-width="0.8"/>
<path d="M1618.1,293.5L1628.8,293.0L1619.6,283.1L1608.9,283.5 Z" fill="#0ddf80" stroke="#0ddf80" stroke-width="0.8"/>
<path d="M1638.0,302.9L1648.6,302.6L1639.5,292.8L1628.8,293.0 Z" fill="#09daa2" stroke="#09daa2" stroke-width="0.8"/>
<path d="M1696.8,332.0L1706.9,333.1L1697.8,323.8L1687.7,322.6 Z" fill="#013d5a" stroke="#013d5a" stroke-width="0.8"/>
<path d="M1716.0,342.3L1725.9,343.9L1716.8,334.8L1706.9,333.1 Z" fill="#001f45" stroke="#001f45" stroke-width="0.8"/>
<path d="M1577.7,275.4L1588.7,274.1L1579.5,263.9L1568.5,265.1 Z" fill="#16e850" stroke="#16e850" stroke-width="0.8"/>
<path d="M1598.0,284.3L1608.9,283.5L1599.7,273.4L1588.7,274.1 Z" fill="#12e466" stroke="#12e466" stroke-width="0.8"/>
<path d="M1657.8,312.3L1668.2,312.4L1659.1,302.9L1648.6,302.6 Z" fill="#06b0a3" stroke="#06b0a3" stroke-width="0.8"/>
<path d="M1677.4,321.9L1687.7,322.6L1678.5,313.2L1668.2,312.4 Z" fill="#037686" stroke="#037686" stroke-width="0.8"/>
<path d="M1525.6,261.7L1536.9,258.8L1527.6,248.3L1516.3,251.1 Z" fill="#39f025" stroke="#39f025" stroke-width="0.8"/>
<path d="M1546.2,269.3L1557.4,266.9L1548.1,256.5L1536.9,258.8 Z" fill="#20ee21" stroke="#20ee21" stroke-width="0.8"/>
<path d="M1627.3,303.5L1638.0,302.9L1628.8,293.0L1618.1,293.5 Z" fill="#0de077" stroke="#0de077" stroke-width="0.8"/>
<path d="M1706.0,341.3L1716.0,342.3L1706.9,333.1L1696.8,332.0 Z" fill="#01435c" stroke="#01435c" stroke-width="0.8"/>
<path d="M1725.2,351.5L1735.0,352.9L1725.9,343.9L1716.0,342.3 Z" fill="#002446" stroke="#002446" stroke-width="0.8"/>
<path d="M1566.6,277.3L1577.7,275.4L1568.5,265.1L1557.4,266.9 Z" fill="#1bec33" stroke="#1bec33" stroke-width="0.8"/>
<path d="M1587.0,285.7L1598.0,284.3L1588.7,274.1L1577.7,275.4 Z" fill="#16e848" stroke="#16e848" stroke-width="0.8"/>
<path d="M1607.2,294.4L1618.1,293.5L1608.9,283.5L1598.0,284.3 Z" fill="#12e45e" stroke="#12e45e" stroke-width="0.8"/>
<path d="M1647.2,312.7L1657.8,312.3L1648.6,302.6L1638.0,302.9 Z" fill="#0adb97" stroke="#0adb97" stroke-width="0.8"/>
<path d="M1667.0,321.9L1677.4,321.9L1668.2,312.4L1657.8,312.3 Z" fill="#06b29a" stroke="#06b29a" stroke-width="0.8"/>
<path d="M1686.6,331.5L1696.8,332.0L1687.7,322.6L1677.4,321.9 Z" fill="#037f87" stroke="#037f87" stroke-width="0.8"/>
<path d="M1534.9,272.3L1546.2,269.3L1536.9,258.8L1525.6,261.7 Z" fill="#41f025" stroke="#41f025" stroke-width="0.8"/>
<path d="M1715.2,350.7L1725.2,351.5L1716.0,342.3L1706.0,341.3 Z" fill="#014a5e" stroke="#014a5e" stroke-width="0.8"/>
<path d="M1514.2,265.1L1525.6,261.7L1516.3,251.1L1504.9,254.4 Z" fill="#58f22a" stroke="#58f22a" stroke-width="0.8"/>
<path d="M1555.5,279.8L1566.6,277.3L1557.4,266.9L1546.2,269.3 Z" fill="#27ee20" stroke="#27ee20" stroke-width="0.8"/>
<path d="M1575.9,287.7L1587.0,285.7L1577.7,275.4L1566.6,277.3 Z" fill="#1cec2c" stroke="#1cec2c" stroke-width="0.8"/>
<path d="M1596.3,296.0L1607.2,294.4L1598.0,284.3L1587.0,285.7 Z" fill="#17e840" stroke="#17e840" stroke-width="0.8"/>
<path d="M1616.5,304.6L1627.3,303.5L1618.1,293.5L1607.2,294.4 Z" fill="#12e456" stroke="#12e456" stroke-width="0.8"/>
<path d="M1636.6,313.5L1647.2,312.7L1638.0,302.9L1627.3,303.5 Z" fill="#0de06e" stroke="#0de06e" stroke-width="0.8"/>
<path d="M1656.5,322.6L1667.0,321.9L1657.8,312.3L1647.2,312.7 Z" fill="#0adb8c" stroke="#0adb8c" stroke-width="0.8"/>
<path d="M1676.3,331.6L1686.6,331.5L1677.4,321.9L1667.0,321.9 Z" fill="#06b392" stroke="#06b392" stroke-width="0.8"/>
<path d="M1695.8,341.0L1706.0,341.3L1696.8,332.0L1686.6,331.5 Z" fill="#038989" stroke="#038989" stroke-width="0.8"/>
<path d="M1734.4,360.7L1744.2,362.0L1735.0,352.9L1725.2,351.5 Z" fill="#002846" stroke="#002846" stroke-width="0.8"/>
<path d="M1502.9,269.2L1514.2,265.1L1504.9,254.4L1493.5,258.4 Z" fill="#74f22f" stroke="#74f22f" stroke-width="0.8"/>
<path d="M1523.6,275.8L1534.9,272.3L1525.6,261.7L1514.2,265.1 Z" fill="#60f22a" stroke="#60f22a" stroke-width="0.8"/>
<path d="M1544.2,282.9L1555.5,279.8L1546.2,269.3L1534.9,272.3 Z" fill="#49f025" stroke="#49f025" stroke-width="0.8"/>
<path d="M1564.8,290.3L1575.9,287.7L1566.6,277.3L1555.5,279.8 Z" fill="#2fef20" stroke="#2fef20" stroke-width="0.8"/>
<path d="M1585.2,298.1L1596.3,296.0L1587.0,285.7L1575.9,287.7 Z" fill="#1ced24" stroke="#1ced24" stroke-width="0.8"/>
<path d="M1605.6,306.3L1616.5,304.6L1607.2,294.4L1596.3,296.0 Z" fill="#17e838" stroke="#17e838" stroke-width="0.8"/>
<path d="M1645.9,323.5L1656.5,322.6L1647.2,312.7L1636.6,313.5 Z" fill="#0ee066" stroke="#0ee066" stroke-width="0.8"/>
<path d="M1665.8,332.4L1676.3,331.6L1667.0,321.9L1656.5,322.6 Z" fill="#0adc80" stroke="#0adc80" stroke-width="0.8"/>
<path d="M1685.5,341.3L1695.8,341.0L1686.6,331.5L1676.3,331.6 Z" fill="#06b589" stroke="#06b589" stroke-width="0.8"/>
<path d="M1705.1,350.6L1715.2,350.7L1706.0,341.3L1695.8,341.0 Z" fill="#038b83" stroke="#038b83" stroke-width="0.8"/>
<path d="M1724.5,360.1L1734.4,360.7L1725.2,351.5L1715.2,350.7 Z" fill="#015260" stroke="#015260" stroke-width="0.8"/>
<path d="M1743.6,370.0L1753.3,371.1L1744.2,362.0L1734.4,360.7 Z" fill="#002d47" stroke="#002d47" stroke-width="0.8"/>
<path d="M1625.8,314.8L1636.6,313.5L1627.3,303.5L1616.5,304.6 Z" fill="#12e44e" stroke="#12e44e" stroke-width="0.8"/>
<path d="M1491.5,273.8L1502.9,269.2L1493.5,258.4L1482.1,262.9 Z" fill="#8cf234" stroke="#8cf234" stroke-width="0.8"/>
<path d="M1512.2,280.0L1523.6,275.8L1514.2,265.1L1502.9,269.2 Z" fill="#7bf22f" stroke="#7bf22f" stroke-width="0.8"/>
<path d="M1553.6,293.5L1564.8,290.3L1555.5,279.8L1544.2,282.9 Z" fill="#50f025" stroke="#50f025" stroke-width="0.8"/>
<path d="M1574.1,300.8L1585.2,298.1L1575.9,287.7L1564.8,290.3 Z" fill="#37ef21" stroke="#37ef21" stroke-width="0.8"/>
<path d="M1594.6,308.5L1605.6,306.3L1596.3,296.0L1585.2,298.1 Z" fill="#1ced1c" stroke="#1ced1c" stroke-width="0.8"/>
<path d="M1655.2,333.5L1665.8,332.4L1656.5,322.6L1645.9,323.5 Z" fill="#0ee05d" stroke="#0ee05d" stroke-width="0.8"/>
<path d="M1675.1,342.2L1685.5,341.3L1676.3,331.6L1665.8,332.4 Z" fill="#0adc75" stroke="#0adc75" stroke-width="0.8"/>
<path d="M1694.8,351.0L1705.1,350.6L1695.8,341.0L1685.5,341.3 Z" fill="#06b780" stroke="#06b780" stroke-width="0.8"/>
<path d="M1733.7,369.5L1743.6,370.0L1734.4,360.7L1724.5,360.1 Z" fill="#015961" stroke="#015961" stroke-width="0.8"/>
<path d="M1752.9,379.2L1762.6,380.1L1753.3,371.1L1743.6,370.0 Z" fill="#003348" stroke="#003348" stroke-width="0.8"/>
<path d="M1532.9,286.6L1544.2,282.9L1534.9,272.3L1523.6,275.8 Z" fill="#67f22a" stroke="#67f22a" stroke-width="0.8"/>
<path d="M1614.9,316.5L1625.8,314.8L1616.5,304.6L1605.6,306.3 Z" fill="#17e830" stroke="#17e830" stroke-width="0.8"/>
<path d="M1635.1,324.9L1645.9,323.5L1636.6,313.5L1625.8,314.8 Z" fill="#12e446" stroke="#12e446" stroke-width="0.8"/>
<path d="M1714.4,360.1L1724.5,360.1L1715.2,350.7L1705.1,350.6 Z" fill="#038d7c" stroke="#038d7c" stroke-width="0.8"/>
<path d="M1480.0,279.0L1491.5,273.8L1482.1,262.9L1470.7,268.0 Z" fill="#a2f239" stroke="#a2f239" stroke-width="0.8"/>
<path d="M1500.8,284.7L1512.2,280.0L1502.9,269.2L1491.5,273.8 Z" fill="#93f234" stroke="#93f234" stroke-width="0.8"/>
<path d="M1562.9,304.1L1574.1,300.8L1564.8,290.3L1553.6,293.5 Z" fill="#58f026" stroke="#58f026" stroke-width="0.8"/>
<path d="M1583.5,311.3L1594.6,308.5L1585.2,298.1L1574.1,300.8 Z" fill="#3fef21" stroke="#3fef21" stroke-width="0.8"/>
<path d="M1664.5,343.5L1675.1,342.2L1665.8,332.4L1655.2,333.5 Z" fill="#0ee054" stroke="#0ee054" stroke-width="0.8"/>
<path d="M1684.4,352.1L1694.8,351.0L1685.5,341.3L1675.1,342.2 Z" fill="#0adc6c" stroke="#0adc6c" stroke-width="0.8"/>
<path d="M1743.0,378.9L1752.9,379.2L1743.6,370.0L1733.7,369.5 Z" fill="#016163" stroke="#016163" stroke-width="0.8"/>
<path d="M1762.2,388.4L1771.8,389.2L1762.6,380.1L1752.9,379.2 Z" fill="#003849" stroke="#003849" stroke-width="0.8"/>
<path d="M1521.6,290.8L1532.9,286.6L1523.6,275.8L1512.2,280.0 Z" fill="#82f22f" stroke="#82f22f" stroke-width="0.8"/>
<path d="M1542.3,297.3L1553.6,293.5L1544.2,282.9L1532.9,286.6 Z" fill="#6ef22a" stroke="#6ef22a" stroke-width="0.8"/>
<path d="M1603.9,318.9L1614.9,316.5L1605.6,306.3L1594.6,308.5 Z" fill="#24ed1c" stroke="#24ed1c" stroke-width="0.8"/>
<path d="M1624.3,326.8L1635.1,324.9L1625.8,314.8L1614.9,316.5 Z" fill="#17e928" stroke="#17e928" stroke-width="0.8"/>
<path d="M1644.5,335.1L1655.2,333.5L1645.9,323.5L1635.1,324.9 Z" fill="#12e43d" stroke="#12e43d" stroke-width="0.8"/>
<path d="M1704.1,360.7L1714.4,360.1L1705.1,350.6L1694.8,351.0 Z" fill="#06b876" stroke="#06b876" stroke-width="0.8"/>
<path d="M1723.7,369.6L1733.7,369.5L1724.5,360.1L1714.4,360.1 Z" fill="#038e75" stroke="#038e75" stroke-width="0.8"/>
<path d="M1489.4,290.0L1500.8,284.7L1491.5,273.8L1480.0,279.0 Z" fill="#a8f239" stroke="#a8f239" stroke-width="0.8"/>
<path d="M1572.3,314.7L1583.5,311.3L1574.1,300.8L1562.9,304.1 Z" fill="#60f026" stroke="#60f026" stroke-width="0.8"/>
<path d="M1673.9,353.5L1684.4,352.1L1675.1,342.2L1664.5,343.5 Z" fill="#0ee04b" stroke="#0ee04b" stroke-width="0.8"/>
<path d="M1752.4,388.3L1762.2,388.4L1752.9,379.2L1743.0,378.9 Z" fill="#016561" stroke="#016561" stroke-width="0.8"/>
<path d="M1468.6,284.7L1480.0,279.0L1470.7,268.0L1459.2,273.6 Z" fill="#b5f23e" stroke="#b5f23e" stroke-width="0.8"/>
<path d="M1510.2,295.6L1521.6,290.8L1512.2,280.0L1500.8,284.7 Z" fill="#9af234" stroke="#9af234" stroke-width="0.8"/>
<path d="M1531.0,301.6L1542.3,297.3L1532.9,286.6L1521.6,290.8 Z" fill="#89f22f" stroke="#89f22f" stroke-width="0.8"/>
<path d="M1551.7,308.0L1562.9,304.1L1553.6,293.5L1542.3,297.3 Z" fill="#76f22b" stroke="#76f22b" stroke-width="0.8"/>
<path d="M1592.9,321.8L1603.9,318.9L1594.6,308.5L1583.5,311.3 Z" fill="#47ef21" stroke="#47ef21" stroke-width="0.8"/>
<path d="M1613.3,329.3L1624.3,326.8L1614.9,316.5L1603.9,318.9 Z" fill="#2ded1c" stroke="#2ded1c" stroke-width="0.8"/>
<path d="M1633.7,337.1L1644.5,335.1L1635.1,324.9L1624.3,326.8 Z" fill="#17e920" stroke="#17e920" stroke-width="0.8"/>
<path d="M1653.8,345.3L1664.5,343.5L1655.2,333.5L1644.5,335.1 Z" fill="#13e535" stroke="#13e535" stroke-width="0.8"/>
<path d="M1693.8,361.9L1704.1,360.7L1694.8,351.0L1684.4,352.1 Z" fill="#0adc63" stroke="#0adc63" stroke-width="0.8"/>
<path d="M1713.5,370.4L1723.7,369.6L1714.4,360.1L1704.1,360.7 Z" fill="#06ba6c" stroke="#06ba6c" stroke-width="0.8"/>
<path d="M1733.0,379.2L1743.0,378.9L1733.7,369.5L1723.7,369.6 Z" fill="#03906e" stroke="#03906e" stroke-width="0.8"/>
<path d="M1771.5,397.6L1781.1,398.3L1771.8,389.2L1762.2,388.4 Z" fill="#003d4a" stroke="#003d4a" stroke-width="0.8"/>
<path d="M1457.1,291.0L1468.6,284.7L1459.2,273.6L1447.7,279.9 Z" fill="#c3f243" stroke="#c3f243" stroke-width="0.8"/>
<path d="M1478.0,295.8L1489.4,290.0L1480.0,279.0L1468.6,284.7 Z" fill="#bbf23e" stroke="#bbf23e" stroke-width="0.8"/>
<path d="M1498.8,301.0L1510.2,295.6L1500.8,284.7L1489.4,290.0 Z" fill="#aff23a" stroke="#aff23a" stroke-width="0.8"/>
<path d="M1519.6,306.6L1531.0,301.6L1521.6,290.8L1510.2,295.6 Z" fill="#a1f235" stroke="#a1f235" stroke-width="0.8"/>
<path d="M1540.4,312.5L1551.7,308.0L1542.3,297.3L1531.0,301.6 Z" fill="#91f230" stroke="#91f230" stroke-width="0.8"/>
<path d="M1561.1,318.7L1572.3,314.7L1562.9,304.1L1551.7,308.0 Z" fill="#7ef22b" stroke="#7ef22b" stroke-width="0.8"/>
<path d="M1581.8,325.4L1592.9,321.8L1583.5,311.3L1572.3,314.7 Z" fill="#68f026" stroke="#68f026" stroke-width="0.8"/>
<path d="M1602.3,332.4L1613.3,329.3L1603.9,318.9L1592.9,321.8 Z" fill="#50ef21" stroke="#50ef21" stroke-width="0.8"/>
<path d="M1622.7,339.7L1633.7,337.1L1624.3,326.8L1613.3,329.3 Z" fill="#35ed1c" stroke="#35ed1c" stroke-width="0.8"/>
<path d="M1643.1,347.4L1653.8,345.3L1644.5,335.1L1633.7,337.1 Z" fill="#18e918" stroke="#18e918" stroke-width="0.8"/>
<path d="M1663.2,355.4L1673.9,353.5L1664.5,343.5L1653.8,345.3 Z" fill="#13e52c" stroke="#13e52c" stroke-width="0.8"/>
<path d="M1683.3,363.5L1693.8,361.9L1684.4,352.1L1673.9,353.5 Z" fill="#0ee142" stroke="#0ee142" stroke-width="0.8"/>
<path d="M1703.2,371.8L1713.5,370.4L1704.1,360.7L1693.8,361.9 Z" fill="#0adc59" stroke="#0adc59" stroke-width="0.8"/>
<path d="M1722.9,380.1L1733.0,379.2L1723.7,369.6L1713.5,370.4 Z" fill="#07bc63" stroke="#07bc63" stroke-width="0.8"/>
<path d="M1742.4,388.7L1752.4,388.3L1743.0,378.9L1733.0,379.2 Z" fill="#039267" stroke="#039267" stroke-width="0.8"/>
<path d="M1761.8,397.6L1771.5,397.6L1762.2,388.4L1752.4,388.3 Z" fill="#01675c" stroke="#01675c" stroke-width="0.8"/>
<path d="M1780.8,407.4L1790.4,407.9L1781.1,398.3L1771.5,397.6 Z" fill="#00434a" stroke="#00434a" stroke-width="0.8"/>
<path d="M1445.7,297.9L1457.1,291.0L1447.7,279.9L1436.3,286.6 Z" fill="#ccf248" stroke="#ccf248" stroke-width="0.8"/>
<path d="M1466.5,302.2L1478.0,295.8L1468.6,284.7L1457.1,291.0 Z" fill="#c6f244" stroke="#c6f244" stroke-width="0.8"/>
<path d="M1487.4,307.0L1498.8,301.0L1489.4,290.0L1478.0,295.8 Z" fill="#c0f23f" stroke="#c0f23f" stroke-width="0.8"/>
<path d="M1508.2,312.0L1519.6,306.6L1510.2,295.6L1498.8,301.0 Z" fill="#b6f23a" stroke="#b6f23a" stroke-width="0.8"/>
<path d="M1529.1,317.5L1540.4,312.5L1531.0,301.6L1519.6,306.6 Z" fill="#a8f235" stroke="#a8f235" stroke-width="0.8"/>
<path d="M1549.8,323.3L1561.1,318.7L1551.7,308.0L1540.4,312.5 Z" fill="#98f230" stroke="#98f230" stroke-width="0.8"/>
<path d="M1591.2,336.0L1602.3,332.4L1592.9,321.8L1581.8,325.4 Z" fill="#70f026" stroke="#70f026" stroke-width="0.8"/>
<path d="M1611.7,342.9L1622.7,339.7L1613.3,329.3L1602.3,332.4 Z" fill="#58ef21" stroke="#58ef21" stroke-width="0.8"/>
<path d="M1632.2,350.1L1643.1,347.4L1633.7,337.1L1622.7,339.7 Z" fill="#3eed1d" stroke="#3eed1d" stroke-width="0.8"/>
<path d="M1652.5,357.7L1663.2,355.4L1653.8,345.3L1643.1,347.4 Z" fill="#21e918" stroke="#21e918" stroke-width="0.8"/>
<path d="M1692.7,373.5L1703.2,371.8L1693.8,361.9L1683.3,363.5 Z" fill="#0ee139" stroke="#0ee139" stroke-width="0.8"/>
<path d="M1712.6,381.6L1722.9,380.1L1713.5,370.4L1703.2,371.8 Z" fill="#0add50" stroke="#0add50" stroke-width="0.8"/>
<path d="M1732.3,389.8L1742.4,388.7L1733.0,379.2L1722.9,380.1 Z" fill="#07be5c" stroke="#07be5c" stroke-width="0.8"/>
<path d="M1751.8,398.3L1761.8,397.6L1752.4,388.3L1742.4,388.7 Z" fill="#04945f" stroke="#04945f" stroke-width="0.8"/>
<path d="M1771.1,407.4L1780.8,407.4L1771.5,397.6L1761.8,397.6 Z" fill="#016958" stroke="#016958" stroke-width="0.8"/>
<path d="M1790.2,417.2L1799.7,417.6L1790.4,407.9L1780.8,407.4 Z" fill="#00474b" stroke="#00474b" stroke-width="0.8"/>
<path d="M1570.6,329.5L1581.8,325.4L1572.3,314.7L1561.1,318.7 Z" fill="#85f22b" stroke="#85f22b" stroke-width="0.8"/>
<path d="M1672.7,365.6L1683.3,363.5L1673.9,353.5L1663.2,355.4 Z" fill="#13e523" stroke="#13e523" stroke-width="0.8"/>
<path d="M1434.3,305.3L1445.7,297.9L1436.3,286.6L1424.9,293.9 Z" fill="#d3f24e" stroke="#d3f24e" stroke-width="0.8"/>
<path d="M1455.1,309.2L1466.5,302.2L1457.1,291.0L1445.7,297.9 Z" fill="#cff249" stroke="#cff249" stroke-width="0.8"/>
<path d="M1496.8,318.1L1508.2,312.0L1498.8,301.0L1487.4,307.0 Z" fill="#c4f23f" stroke="#c4f23f" stroke-width="0.8"/>
<path d="M1517.7,323.1L1529.1,317.5L1519.6,306.6L1508.2,312.0 Z" fill="#bdf23a" stroke="#bdf23a" stroke-width="0.8"/>
<path d="M1538.5,328.4L1549.8,323.3L1540.4,312.5L1529.1,317.5 Z" fill="#aff235" stroke="#aff235" stroke-width="0.8"/>
<path d="M1600.7,346.6L1611.7,342.9L1602.3,332.4L1591.2,336.0 Z" fill="#78f026" stroke="#78f026" stroke-width="0.8"/>
<path d="M1621.2,353.4L1632.2,350.1L1622.7,339.7L1611.7,342.9 Z" fill="#60ef22" stroke="#60ef22" stroke-width="0.8"/>
<path d="M1641.6,360.5L1652.5,357.7L1643.1,347.4L1632.2,350.1 Z" fill="#46ed1d" stroke="#46ed1d" stroke-width="0.8"/>
<path d="M1702.2,383.5L1712.6,381.6L1703.2,371.8L1692.7,373.5 Z" fill="#0fe130" stroke="#0fe130" stroke-width="0.8"/>
<path d="M1722.0,391.5L1732.3,389.8L1722.9,380.1L1712.6,381.6 Z" fill="#0bdd46" stroke="#0bdd46" stroke-width="0.8"/>
<path d="M1741.7,399.5L1751.8,398.3L1742.4,388.7L1732.3,389.8 Z" fill="#07c054" stroke="#07c054" stroke-width="0.8"/>
<path d="M1780.5,417.3L1790.2,417.2L1780.8,407.4L1771.1,407.4 Z" fill="#016b54" stroke="#016b54" stroke-width="0.8"/>
<path d="M1799.5,427.0L1809.0,427.4L1799.7,417.6L1790.2,417.2 Z" fill="#004c4c" stroke="#004c4c" stroke-width="0.8"/>
<path d="M1476.0,313.5L1487.4,307.0L1478.0,295.8L1466.5,302.2 Z" fill="#caf244" stroke="#caf244" stroke-width="0.8"/>
<path d="M1559.3,334.1L1570.6,329.5L1561.1,318.7L1549.8,323.3 Z" fill="#9ff230" stroke="#9ff230" stroke-width="0.8"/>
<path d="M1580.0,340.2L1591.2,336.0L1581.8,325.4L1570.6,329.5 Z" fill="#8df22b" stroke="#8df22b" stroke-width="0.8"/>
<path d="M1662.0,368.0L1672.7,365.6L1663.2,355.4L1652.5,357.7 Z" fill="#29e918" stroke="#29e918" stroke-width="0.8"/>
<path d="M1682.1,375.8L1692.7,373.5L1683.3,363.5L1672.7,365.6 Z" fill="#13e51b" stroke="#13e51b" stroke-width="0.8"/>
<path d="M1761.2,408.1L1771.1,407.4L1761.8,397.6L1751.8,398.3 Z" fill="#049657" stroke="#049657" stroke-width="0.8"/>
<path d="M1422.8,313.3L1434.3,305.3L1424.9,293.9L1413.4,301.8 Z" fill="#daf354" stroke="#daf354" stroke-width="0.8"/>
<path d="M1443.7,316.7L1455.1,309.2L1445.7,297.9L1434.3,305.3 Z" fill="#d6f24e" stroke="#d6f24e" stroke-width="0.8"/>
<path d="M1506.3,329.2L1517.7,323.1L1508.2,312.0L1496.8,318.1 Z" fill="#c8f23f" stroke="#c8f23f" stroke-width="0.8"/>
<path d="M1527.2,334.1L1538.5,328.4L1529.1,317.5L1517.7,323.1 Z" fill="#c1f23a" stroke="#c1f23a" stroke-width="0.8"/>
<path d="M1610.1,357.3L1621.2,353.4L1611.7,342.9L1600.7,346.6 Z" fill="#80f126" stroke="#80f126" stroke-width="0.8"/>
<path d="M1630.7,363.9L1641.6,360.5L1632.2,350.1L1621.2,353.4 Z" fill="#68ef22" stroke="#68ef22" stroke-width="0.8"/>
<path d="M1711.6,393.6L1722.0,391.5L1712.6,381.6L1702.2,383.5 Z" fill="#0fe127" stroke="#0fe127" stroke-width="0.8"/>
<path d="M1731.5,401.3L1741.7,399.5L1732.3,389.8L1722.0,391.5 Z" fill="#0bdd3d" stroke="#0bdd3d" stroke-width="0.8"/>
<path d="M1789.9,427.2L1799.5,427.0L1790.2,417.2L1780.5,417.3 Z" fill="#016e50" stroke="#016e50" stroke-width="0.8"/>
<path d="M1808.9,436.8L1818.3,437.2L1809.0,427.4L1799.5,427.0 Z" fill="#004d49" stroke="#004d49" stroke-width="0.8"/>
<path d="M1464.5,320.5L1476.0,313.5L1466.5,302.2L1455.1,309.2 Z" fill="#d3f249" stroke="#d3f249" stroke-width="0.8"/>
<path d="M1485.4,324.7L1496.8,318.1L1487.4,307.0L1476.0,313.5 Z" fill="#cef244" stroke="#cef244" stroke-width="0.8"/>
<path d="M1548.0,339.4L1559.3,334.1L1549.8,323.3L1538.5,328.4 Z" fill="#b6f235" stroke="#b6f235" stroke-width="0.8"/>
<path d="M1568.8,345.0L1580.0,340.2L1570.6,329.5L1559.3,334.1 Z" fill="#a7f230" stroke="#a7f230" stroke-width="0.8"/>
<path d="M1589.5,351.0L1600.7,346.6L1591.2,336.0L1580.0,340.2 Z" fill="#95f22b" stroke="#95f22b" stroke-width="0.8"/>
<path d="M1651.1,371.0L1662.0,368.0L1652.5,357.7L1641.6,360.5 Z" fill="#4fed1d" stroke="#4fed1d" stroke-width="0.8"/>
<path d="M1671.4,378.3L1682.1,375.8L1672.7,365.6L1662.0,368.0 Z" fill="#32e918" stroke="#32e918" stroke-width="0.8"/>
<path d="M1691.6,386.0L1702.2,383.5L1692.7,373.5L1682.1,375.8 Z" fill="#15e513" stroke="#15e513" stroke-width="0.8"/>
<path d="M1751.2,409.4L1761.2,408.1L1751.8,398.3L1741.7,399.5 Z" fill="#07c24d" stroke="#07c24d" stroke-width="0.8"/>
<path d="M1770.7,418.1L1780.5,417.3L1771.1,407.4L1761.2,408.1 Z" fill="#049851" stroke="#049851" stroke-width="0.8"/>
<path d="M1432.3,324.7L1443.7,316.7L1434.3,305.3L1422.8,313.3 Z" fill="#ddf354" stroke="#ddf354" stroke-width="0.8"/>
<path d="M1515.8,340.3L1527.2,334.1L1517.7,323.1L1506.3,329.2 Z" fill="#ccf23f" stroke="#ccf23f" stroke-width="0.8"/>
<path d="M1619.7,367.9L1630.7,363.9L1621.2,353.4L1610.1,357.3 Z" fill="#88f127" stroke="#88f127" stroke-width="0.8"/>
<path d="M1721.1,403.6L1731.5,401.3L1722.0,391.5L1711.6,393.6 Z" fill="#0fe11e" stroke="#0fe11e" stroke-width="0.8"/>
<path d="M1799.4,437.1L1808.9,436.8L1799.5,427.0L1789.9,427.2 Z" fill="#02704c" stroke="#02704c" stroke-width="0.8"/>
<path d="M1411.5,321.7L1422.8,313.3L1413.4,301.8L1402.1,310.2 Z" fill="#dbf55c" stroke="#dbf55c" stroke-width="0.8"/>
<path d="M1453.1,328.1L1464.5,320.5L1455.1,309.2L1443.7,316.7 Z" fill="#daf24e" stroke="#daf24e" stroke-width="0.8"/>
<path d="M1474.0,331.8L1485.4,324.7L1476.0,313.5L1464.5,320.5 Z" fill="#d6f249" stroke="#d6f249" stroke-width="0.8"/>
<path d="M1494.9,335.9L1506.3,329.2L1496.8,318.1L1485.4,324.7 Z" fill="#d2f244" stroke="#d2f244" stroke-width="0.8"/>
<path d="M1536.6,345.2L1548.0,339.4L1538.5,328.4L1527.2,334.1 Z" fill="#c5f23a" stroke="#c5f23a" stroke-width="0.8"/>
<path d="M1557.5,350.3L1568.8,345.0L1559.3,334.1L1548.0,339.4 Z" fill="#bdf235" stroke="#bdf235" stroke-width="0.8"/>
<path d="M1578.3,355.8L1589.5,351.0L1580.0,340.2L1568.8,345.0 Z" fill="#aef230" stroke="#aef230" stroke-width="0.8"/>
<path d="M1599.0,361.7L1610.1,357.3L1600.7,346.6L1589.5,351.0 Z" fill="#9df22b" stroke="#9df22b" stroke-width="0.8"/>
<path d="M1640.2,374.5L1651.1,371.0L1641.6,360.5L1630.7,363.9 Z" fill="#71ef22" stroke="#71ef22" stroke-width="0.8"/>
<path d="M1660.6,381.4L1671.4,378.3L1662.0,368.0L1651.1,371.0 Z" fill="#58ed1d" stroke="#58ed1d" stroke-width="0.8"/>
<path d="M1681.0,388.6L1691.6,386.0L1682.1,375.8L1671.4,378.3 Z" fill="#3bea18" stroke="#3bea18" stroke-width="0.8"/>
<path d="M1701.1,396.2L1711.6,393.6L1702.2,383.5L1691.6,386.0 Z" fill="#1ee514" stroke="#1ee514" stroke-width="0.8"/>
<path d="M1741.0,411.4L1751.2,409.4L1741.7,399.5L1731.5,401.3 Z" fill="#0bdd34" stroke="#0bdd34" stroke-width="0.8"/>
<path d="M1760.7,419.5L1770.7,418.1L1761.2,408.1L1751.2,409.4 Z" fill="#07c446" stroke="#07c446" stroke-width="0.8"/>
<path d="M1780.1,428.0L1789.9,427.2L1780.5,417.3L1770.7,418.1 Z" fill="#049b4c" stroke="#049b4c" stroke-width="0.8"/>
<path d="M1818.4,446.6L1827.7,446.9L1818.3,437.2L1808.9,436.8 Z" fill="#004e46" stroke="#004e46" stroke-width="0.8"/>
<path d="M1400.1,330.7L1411.5,321.7L1402.1,310.2L1390.7,319.1 Z" fill="#ddf664" stroke="#ddf664" stroke-width="0.8"/>
<path d="M1420.9,333.3L1432.3,324.7L1422.8,313.3L1411.5,321.7 Z" fill="#dff55c" stroke="#dff55c" stroke-width="0.8"/>
<path d="M1441.7,336.2L1453.1,328.1L1443.7,316.7L1432.3,324.7 Z" fill="#e0f355" stroke="#e0f355" stroke-width="0.8"/>
<path d="M1462.6,339.5L1474.0,331.8L1464.5,320.5L1453.1,328.1 Z" fill="#ddf24e" stroke="#ddf24e" stroke-width="0.8"/>
<path d="M1483.4,343.1L1494.9,335.9L1485.4,324.7L1474.0,331.8 Z" fill="#daf249" stroke="#daf249" stroke-width="0.8"/>
<path d="M1504.4,347.1L1515.8,340.3L1506.3,329.2L1494.9,335.9 Z" fill="#d5f244" stroke="#d5f244" stroke-width="0.8"/>
<path d="M1546.2,356.2L1557.5,350.3L1548.0,339.4L1536.6,345.2 Z" fill="#c9f23a" stroke="#c9f23a" stroke-width="0.8"/>
<path d="M1567.0,361.3L1578.3,355.8L1568.8,345.0L1557.5,350.3 Z" fill="#c1f235" stroke="#c1f235" stroke-width="0.8"/>
<path d="M1587.8,366.7L1599.0,361.7L1589.5,351.0L1578.3,355.8 Z" fill="#b6f231" stroke="#b6f231" stroke-width="0.8"/>
<path d="M1608.5,372.5L1619.7,367.9L1610.1,357.3L1599.0,361.7 Z" fill="#a5f22c" stroke="#a5f22c" stroke-width="0.8"/>
<path d="M1629.2,378.6L1640.2,374.5L1630.7,363.9L1619.7,367.9 Z" fill="#90f127" stroke="#90f127" stroke-width="0.8"/>
<path d="M1649.7,385.0L1660.6,381.4L1651.1,371.0L1640.2,374.5 Z" fill="#79ef22" stroke="#79ef22" stroke-width="0.8"/>
<path d="M1670.2,391.8L1681.0,388.6L1671.4,378.3L1660.6,381.4 Z" fill="#60ed1d" stroke="#60ed1d" stroke-width="0.8"/>
<path d="M1690.5,399.0L1701.1,396.2L1691.6,386.0L1681.0,388.6 Z" fill="#44ea19" stroke="#44ea19" stroke-width="0.8"/>
<path d="M1730.7,413.7L1741.0,411.4L1731.5,401.3L1721.1,403.6 Z" fill="#0fe115" stroke="#0fe115" stroke-width="0.8"/>
<path d="M1750.5,421.4L1760.7,419.5L1751.2,409.4L1741.0,411.4 Z" fill="#0bdd2b" stroke="#0bdd2b" stroke-width="0.8"/>
<path d="M1770.2,429.5L1780.1,428.0L1770.7,418.1L1760.7,419.5 Z" fill="#07c63f" stroke="#07c63f" stroke-width="0.8"/>
<path d="M1789.6,438.0L1799.4,437.1L1789.9,427.2L1780.1,428.0 Z" fill="#049d47" stroke="#049d47" stroke-width="0.8"/>
<path d="M1808.8,447.0L1818.4,446.6L1808.9,436.8L1799.4,437.1 Z" fill="#027247" stroke="#027247" stroke-width="0.8"/>
<path d="M1827.8,456.5L1837.1,456.6L1827.7,446.9L1818.4,446.6 Z" fill="#004f43" stroke="#004f43" stroke-width="0.8"/>
<path d="M1525.3,351.5L1536.6,345.2L1527.2,334.1L1515.8,340.3 Z" fill="#d0f23f" stroke="#d0f23f" stroke-width="0.8"/>
<path d="M1710.6,406.3L1721.1,403.6L1711.6,393.6L1701.1,396.2 Z" fill="#28e614" stroke="#28e614" stroke-width="0.8"/>
<path d="M1388.8,340.2L1400.1,330.7L1390.7,319.1L1379.4,328.6 Z" fill="#def86c" stroke="#def86c" stroke-width="0.8"/>
<path d="M1409.5,342.3L1420.9,333.3L1411.5,321.7L1400.1,330.7 Z" fill="#e0f664" stroke="#e0f664" stroke-width="0.8"/>
<path d="M1451.1,347.7L1462.6,339.5L1453.1,328.1L1441.7,336.2 Z" fill="#e3f355" stroke="#e3f355" stroke-width="0.8"/>
<path d="M1472.0,350.9L1483.4,343.1L1474.0,331.8L1462.6,339.5 Z" fill="#e1f24e" stroke="#e1f24e" stroke-width="0.8"/>
<path d="M1492.9,354.4L1504.4,347.1L1494.9,335.9L1483.4,343.1 Z" fill="#def249" stroke="#def249" stroke-width="0.8"/>
<path d="M1555.7,367.3L1567.0,361.3L1557.5,350.3L1546.2,356.2 Z" fill="#cdf23b" stroke="#cdf23b" stroke-width="0.8"/>
<path d="M1576.5,372.2L1587.8,366.7L1578.3,355.8L1567.0,361.3 Z" fill="#c5f236" stroke="#c5f236" stroke-width="0.8"/>
<path d="M1597.4,377.6L1608.5,372.5L1599.0,361.7L1587.8,366.7 Z" fill="#bcf231" stroke="#bcf231" stroke-width="0.8"/>
<path d="M1638.8,389.2L1649.7,385.0L1640.2,374.5L1629.2,378.6 Z" fill="#98f127" stroke="#98f127" stroke-width="0.8"/>
<path d="M1659.3,395.6L1670.2,391.8L1660.6,381.4L1649.7,385.0 Z" fill="#82ef22" stroke="#82ef22" stroke-width="0.8"/>
<path d="M1679.7,402.3L1690.5,399.0L1681.0,388.6L1670.2,391.8 Z" fill="#69ee1e" stroke="#69ee1e" stroke-width="0.8"/>
<path d="M1740.2,423.9L1750.5,421.4L1741.0,411.4L1730.7,413.7 Z" fill="#13e20f" stroke="#13e20f" stroke-width="0.8"/>
<path d="M1760.1,431.5L1770.2,429.5L1760.7,419.5L1750.5,421.4 Z" fill="#0bde22" stroke="#0bde22" stroke-width="0.8"/>
<path d="M1779.7,439.5L1789.6,438.0L1780.1,428.0L1770.2,429.5 Z" fill="#08c837" stroke="#08c837" stroke-width="0.8"/>
<path d="M1818.4,456.9L1827.8,456.5L1818.4,446.6L1808.8,447.0 Z" fill="#027442" stroke="#027442" stroke-width="0.8"/>
<path d="M1837.3,466.3L1846.5,466.4L1837.1,456.6L1827.8,456.5 Z" fill="#00503f" stroke="#00503f" stroke-width="0.8"/>
<path d="M1430.3,344.8L1441.7,336.2L1432.3,324.7L1420.9,333.3 Z" fill="#e2f55d" stroke="#e2f55d" stroke-width="0.8"/>
<path d="M1513.9,358.4L1525.3,351.5L1515.8,340.3L1504.4,347.1 Z" fill="#d9f244" stroke="#d9f244" stroke-width="0.8"/>
<path d="M1534.8,362.6L1546.2,356.2L1536.6,345.2L1525.3,351.5 Z" fill="#d4f23f" stroke="#d4f23f" stroke-width="0.8"/>
<path d="M1618.1,383.2L1629.2,378.6L1619.7,367.9L1608.5,372.5 Z" fill="#adf22c" stroke="#adf22c" stroke-width="0.8"/>
<path d="M1700.1,409.3L1710.6,406.3L1701.1,396.2L1690.5,399.0 Z" fill="#4dea19" stroke="#4dea19" stroke-width="0.8"/>
<path d="M1720.2,416.6L1730.7,413.7L1721.1,403.6L1710.6,406.3 Z" fill="#31e614" stroke="#31e614" stroke-width="0.8"/>
<path d="M1799.2,448.0L1808.8,447.0L1799.4,437.1L1789.6,438.0 Z" fill="#049f41" stroke="#049f41" stroke-width="0.8"/>
<path d="M1377.6,350.3L1388.8,340.2L1379.4,328.6L1368.2,338.5 Z" fill="#def975" stroke="#def975" stroke-width="0.8"/>
<path d="M1398.2,351.9L1409.5,342.3L1400.1,330.7L1388.8,340.2 Z" fill="#e2f86d" stroke="#e2f86d" stroke-width="0.8"/>
<path d="M1460.6,359.1L1472.0,350.9L1462.6,339.5L1451.1,347.7 Z" fill="#e7f355" stroke="#e7f355" stroke-width="0.8"/>
<path d="M1481.5,362.3L1492.9,354.4L1483.4,343.1L1472.0,350.9 Z" fill="#e4f24e" stroke="#e4f24e" stroke-width="0.8"/>
<path d="M1565.2,378.3L1576.5,372.2L1567.0,361.3L1555.7,367.3 Z" fill="#d1f23b" stroke="#d1f23b" stroke-width="0.8"/>
<path d="M1586.1,383.2L1597.4,377.6L1587.8,366.7L1576.5,372.2 Z" fill="#caf236" stroke="#caf236" stroke-width="0.8"/>
<path d="M1648.3,399.9L1659.3,395.6L1649.7,385.0L1638.8,389.2 Z" fill="#a1f127" stroke="#a1f127" stroke-width="0.8"/>
<path d="M1668.9,406.1L1679.7,402.3L1670.2,391.8L1659.3,395.6 Z" fill="#8bef23" stroke="#8bef23" stroke-width="0.8"/>
<path d="M1749.8,434.0L1760.1,431.5L1750.5,421.4L1740.2,423.9 Z" fill="#1ce210" stroke="#1ce210" stroke-width="0.8"/>
<path d="M1769.6,441.6L1779.7,439.5L1770.2,429.5L1760.1,431.5 Z" fill="#0bde19" stroke="#0bde19" stroke-width="0.8"/>
<path d="M1827.9,466.8L1837.3,466.3L1827.8,456.5L1818.4,456.9 Z" fill="#02773e" stroke="#02773e" stroke-width="0.8"/>
<path d="M1846.8,476.1L1855.9,476.1L1846.5,466.4L1837.3,466.3 Z" fill="#00513b" stroke="#00513b" stroke-width="0.8"/>
<path d="M1418.9,354.0L1430.3,344.8L1420.9,333.3L1409.5,342.3 Z" fill="#e4f665" stroke="#e4f665" stroke-width="0.8"/>
<path d="M1439.8,356.4L1451.1,347.7L1441.7,336.2L1430.3,344.8 Z" fill="#e6f55d" stroke="#e6f55d" stroke-width="0.8"/>
<path d="M1502.4,365.8L1513.9,358.4L1504.4,347.1L1492.9,354.4 Z" fill="#e1f249" stroke="#e1f249" stroke-width="0.8"/>
<path d="M1523.4,369.6L1534.8,362.6L1525.3,351.5L1513.9,358.4 Z" fill="#ddf245" stroke="#ddf245" stroke-width="0.8"/>
<path d="M1544.3,373.8L1555.7,367.3L1546.2,356.2L1534.8,362.6 Z" fill="#d8f240" stroke="#d8f240" stroke-width="0.8"/>
<path d="M1606.9,388.4L1618.1,383.2L1608.5,372.5L1597.4,377.6 Z" fill="#c1f231" stroke="#c1f231" stroke-width="0.8"/>
<path d="M1627.7,394.0L1638.8,389.2L1629.2,378.6L1618.1,383.2 Z" fill="#b5f22c" stroke="#b5f22c" stroke-width="0.8"/>
<path d="M1689.3,412.7L1700.1,409.3L1690.5,399.0L1679.7,402.3 Z" fill="#72ee1e" stroke="#72ee1e" stroke-width="0.8"/>
<path d="M1709.6,419.6L1720.2,416.6L1710.6,406.3L1700.1,409.3 Z" fill="#57ea19" stroke="#57ea19" stroke-width="0.8"/>
<path d="M1729.8,426.8L1740.2,423.9L1730.7,413.7L1720.2,416.6 Z" fill="#3ae614" stroke="#3ae614" stroke-width="0.8"/>
<path d="M1789.3,449.5L1799.2,448.0L1789.6,438.0L1779.7,439.5 Z" fill="#08ca30" stroke="#08ca30" stroke-width="0.8"/>
<path d="M1808.7,457.9L1818.4,456.9L1808.8,447.0L1799.2,448.0 Z" fill="#04a13c" stroke="#04a13c" stroke-width="0.8"/>
<path d="M1387.0,362.0L1398.2,351.9L1388.8,340.2L1377.6,350.3 Z" fill="#e2f975" stroke="#e2f975" stroke-width="0.8"/>
<path d="M1470.1,370.6L1481.5,362.3L1472.0,350.9L1460.6,359.1 Z" fill="#eaf355" stroke="#eaf355" stroke-width="0.8"/>
<path d="M1574.8,389.4L1586.1,383.2L1576.5,372.2L1565.2,378.3 Z" fill="#d6f23b" stroke="#d6f23b" stroke-width="0.8"/>
<path d="M1657.9,410.6L1668.9,406.1L1659.3,395.6L1648.3,399.9 Z" fill="#a9f127" stroke="#a9f127" stroke-width="0.8"/>
<path d="M1759.4,444.2L1769.6,441.6L1760.1,431.5L1749.8,434.0 Z" fill="#26e210" stroke="#26e210" stroke-width="0.8"/>
<path d="M1837.4,476.7L1846.8,476.1L1837.3,466.3L1827.9,466.8 Z" fill="#02793a" stroke="#02793a" stroke-width="0.8"/>
<path d="M1366.4,360.8L1377.6,350.3L1368.2,338.5L1357.0,349.0 Z" fill="#defb7d" stroke="#defb7d" stroke-width="0.8"/>
<path d="M1407.6,363.6L1418.9,354.0L1409.5,342.3L1398.2,351.9 Z" fill="#e5f86d" stroke="#e5f86d" stroke-width="0.8"/>
<path d="M1428.4,365.6L1439.8,356.4L1430.3,344.8L1418.9,354.0 Z" fill="#e8f665" stroke="#e8f665" stroke-width="0.8"/>
<path d="M1449.2,367.9L1460.6,359.1L1451.1,347.7L1439.8,356.4 Z" fill="#e9f55d" stroke="#e9f55d" stroke-width="0.8"/>
<path d="M1491.0,373.7L1502.4,365.8L1492.9,354.4L1481.5,362.3 Z" fill="#e8f24f" stroke="#e8f24f" stroke-width="0.8"/>
<path d="M1512.0,377.1L1523.4,369.6L1513.9,358.4L1502.4,365.8 Z" fill="#e5f24a" stroke="#e5f24a" stroke-width="0.8"/>
<path d="M1532.9,380.9L1544.3,373.8L1534.8,362.6L1523.4,369.6 Z" fill="#e1f245" stroke="#e1f245" stroke-width="0.8"/>
<path d="M1553.9,385.0L1565.2,378.3L1555.7,367.3L1544.3,373.8 Z" fill="#dcf240" stroke="#dcf240" stroke-width="0.8"/>
<path d="M1595.7,394.2L1606.9,388.4L1597.4,377.6L1586.1,383.2 Z" fill="#cef236" stroke="#cef236" stroke-width="0.8"/>
<path d="M1616.5,399.3L1627.7,394.0L1618.1,383.2L1606.9,388.4 Z" fill="#c5f231" stroke="#c5f231" stroke-width="0.8"/>
<path d="M1637.3,404.8L1648.3,399.9L1638.8,389.2L1627.7,394.0 Z" fill="#bbf22c" stroke="#bbf22c" stroke-width="0.8"/>
<path d="M1678.5,416.7L1689.3,412.7L1679.7,402.3L1668.9,406.1 Z" fill="#93ef23" stroke="#93ef23" stroke-width="0.8"/>
<path d="M1699.0,423.2L1709.6,419.6L1700.1,409.3L1689.3,412.7 Z" fill="#7bee1e" stroke="#7bee1e" stroke-width="0.8"/>
<path d="M1719.3,430.0L1729.8,426.8L1720.2,416.6L1709.6,419.6 Z" fill="#60ea19" stroke="#60ea19" stroke-width="0.8"/>
<path d="M1739.4,437.0L1749.8,434.0L1740.2,423.9L1729.8,426.8 Z" fill="#44e615" stroke="#44e615" stroke-width="0.8"/>
<path d="M1779.3,451.7L1789.3,449.5L1779.7,439.5L1769.6,441.6 Z" fill="#0cde11" stroke="#0cde11" stroke-width="0.8"/>
<path d="M1798.9,459.5L1808.7,457.9L1799.2,448.0L1789.3,449.5 Z" fill="#08cc28" stroke="#08cc28" stroke-width="0.8"/>
<path d="M1818.3,467.9L1827.9,466.8L1818.4,456.9L1808.7,457.9 Z" fill="#05a336" stroke="#05a336" stroke-width="0.8"/>
<path d="M1856.3,485.9L1865.4,485.9L1855.9,476.1L1846.8,476.1 Z" fill="#005238" stroke="#005238" stroke-width="0.8"/>
<path d="M1355.3,372.1L1366.4,360.8L1357.0,349.0L1346.0,360.3 Z" fill="#dffc81" stroke="#dffc81" stroke-width="0.8"/>
<path d="M1375.8,372.6L1387.0,362.0L1377.6,350.3L1366.4,360.8 Z" fill="#e2fb7d" stroke="#e2fb7d" stroke-width="0.8"/>
<path d="M1396.4,373.8L1407.6,363.6L1398.2,351.9L1387.0,362.0 Z" fill="#e6f975" stroke="#e6f975" stroke-width="0.8"/>
<path d="M1417.1,375.4L1428.4,365.6L1418.9,354.0L1407.6,363.6 Z" fill="#e9f86d" stroke="#e9f86d" stroke-width="0.8"/>
<path d="M1437.9,377.3L1449.2,367.9L1439.8,356.4L1428.4,365.6 Z" fill="#ebf665" stroke="#ebf665" stroke-width="0.8"/>
<path d="M1458.7,379.5L1470.1,370.6L1460.6,359.1L1449.2,367.9 Z" fill="#edf55d" stroke="#edf55d" stroke-width="0.8"/>
<path d="M1479.6,382.1L1491.0,373.7L1481.5,362.3L1470.1,370.6 Z" fill="#edf356" stroke="#edf356" stroke-width="0.8"/>
<path d="M1500.6,385.1L1512.0,377.1L1502.4,365.8L1491.0,373.7 Z" fill="#ebf24f" stroke="#ebf24f" stroke-width="0.8"/>
<path d="M1521.5,388.4L1532.9,380.9L1523.4,369.6L1512.0,377.1 Z" fill="#e9f24a" stroke="#e9f24a" stroke-width="0.8"/>
<path d="M1542.5,392.1L1553.9,385.0L1544.3,373.8L1532.9,380.9 Z" fill="#e5f245" stroke="#e5f245" stroke-width="0.8"/>
<path d="M1563.5,396.1L1574.8,389.4L1565.2,378.3L1553.9,385.0 Z" fill="#e0f240" stroke="#e0f240" stroke-width="0.8"/>
<path d="M1584.4,400.5L1595.7,394.2L1586.1,383.2L1574.8,389.4 Z" fill="#daf23b" stroke="#daf23b" stroke-width="0.8"/>
<path d="M1605.3,405.2L1616.5,399.3L1606.9,388.4L1595.7,394.2 Z" fill="#d3f236" stroke="#d3f236" stroke-width="0.8"/>
<path d="M1626.1,410.2L1637.3,404.8L1627.7,394.0L1616.5,399.3 Z" fill="#caf231" stroke="#caf231" stroke-width="0.8"/>
<path d="M1646.9,415.6L1657.9,410.6L1648.3,399.9L1637.3,404.8 Z" fill="#c0f22d" stroke="#c0f22d" stroke-width="0.8"/>
<path d="M1667.6,421.2L1678.5,416.7L1668.9,406.1L1657.9,410.6 Z" fill="#b2f128" stroke="#b2f128" stroke-width="0.8"/>
<path d="M1688.2,427.3L1699.0,423.2L1689.3,412.7L1678.5,416.7 Z" fill="#9cef23" stroke="#9cef23" stroke-width="0.8"/>
<path d="M1708.6,433.6L1719.3,430.0L1709.6,419.6L1699.0,423.2 Z" fill="#84ee1e" stroke="#84ee1e" stroke-width="0.8"/>
<path d="M1728.9,440.3L1739.4,437.0L1729.8,426.8L1719.3,430.0 Z" fill="#69eb1a" stroke="#69eb1a" stroke-width="0.8"/>
<path d="M1749.1,447.3L1759.4,444.2L1749.8,434.0L1739.4,437.0 Z" fill="#4de615" stroke="#4de615" stroke-width="0.8"/>
<path d="M1769.1,454.3L1779.3,451.7L1769.6,441.6L1759.4,444.2 Z" fill="#2fe210" stroke="#2fe210" stroke-width="0.8"/>
<path d="M1788.9,461.8L1798.9,459.5L1789.3,449.5L1779.3,451.7 Z" fill="#10de0c" stroke="#10de0c" stroke-width="0.8"/>
<path d="M1808.5,469.6L1818.3,467.9L1808.7,457.9L1798.9,459.5 Z" fill="#08cf20" stroke="#08cf20" stroke-width="0.8"/>
<path d="M1827.9,477.8L1837.4,476.7L1827.9,466.8L1818.3,467.9 Z" fill="#05a630" stroke="#05a630" stroke-width="0.8"/>
<path d="M1847.0,486.5L1856.3,485.9L1846.8,476.1L1837.4,476.7 Z" fill="#027c36" stroke="#027c36" stroke-width="0.8"/>
<path d="M1865.8,496.0L1874.9,496.0L1865.4,485.9L1856.3,485.9 Z" fill="#005334" stroke="#005334" stroke-width="0.8"/>
<path d="M1344.4,384.0L1355.3,372.1L1346.0,360.3L1335.1,372.1 Z" fill="#dffe85" stroke="#dffe85" stroke-width="0.8"/>
<path d="M1364.7,384.0L1375.8,372.6L1366.4,360.8L1355.3,372.1 Z" fill="#e3fd81" stroke="#e3fd81" stroke-width="0.8"/>
<path d="M1385.2,384.5L1396.4,373.8L1387.0,362.0L1375.8,372.6 Z" fill="#e7fb7d" stroke="#e7fb7d" stroke-width="0.8"/>
<path d="M1405.8,385.6L1417.1,375.4L1407.6,363.6L1396.4,373.8 Z" fill="#eaf975" stroke="#eaf975" stroke-width="0.8"/>
<path d="M1426.5,387.1L1437.9,377.3L1428.4,365.6L1417.1,375.4 Z" fill="#edf86d" stroke="#edf86d" stroke-width="0.8"/>
<path d="M1447.3,388.9L1458.7,379.5L1449.2,367.9L1437.9,377.3 Z" fill="#eff665" stroke="#eff665" stroke-width="0.8"/>
<path d="M1489.1,393.7L1500.6,385.1L1491.0,373.7L1479.6,382.1 Z" fill="#f1f356" stroke="#f1f356" stroke-width="0.8"/>
<path d="M1510.1,396.6L1521.5,388.4L1512.0,377.1L1500.6,385.1 Z" fill="#eff24f" stroke="#eff24f" stroke-width="0.8"/>
<path d="M1531.1,399.8L1542.5,392.1L1532.9,380.9L1521.5,388.4 Z" fill="#ecf24a" stroke="#ecf24a" stroke-width="0.8"/>
<path d="M1552.1,403.4L1563.5,396.1L1553.9,385.0L1542.5,392.1 Z" fill="#e9f245" stroke="#e9f245" stroke-width="0.8"/>
<path d="M1573.1,407.3L1584.4,400.5L1574.8,389.4L1563.5,396.1 Z" fill="#e4f240" stroke="#e4f240" stroke-width="0.8"/>
<path d="M1594.0,411.6L1605.3,405.2L1595.7,394.2L1584.4,400.5 Z" fill="#def23b" stroke="#def23b" stroke-width="0.8"/>
<path d="M1614.9,416.2L1626.1,410.2L1616.5,399.3L1605.3,405.2 Z" fill="#d7f236" stroke="#d7f236" stroke-width="0.8"/>
<path d="M1635.8,421.1L1646.9,415.6L1637.3,404.8L1626.1,410.2 Z" fill="#cff232" stroke="#cff232" stroke-width="0.8"/>
<path d="M1656.6,426.3L1667.6,421.2L1657.9,410.6L1646.9,415.6 Z" fill="#c5f22d" stroke="#c5f22d" stroke-width="0.8"/>
<path d="M1677.2,431.9L1688.2,427.3L1678.5,416.7L1667.6,421.2 Z" fill="#b9f128" stroke="#b9f128" stroke-width="0.8"/>
<path d="M1697.8,437.8L1708.6,433.6L1699.0,423.2L1688.2,427.3 Z" fill="#a5ef23" stroke="#a5ef23" stroke-width="0.8"/>
<path d="M1718.3,444.1L1728.9,440.3L1719.3,430.0L1708.6,433.6 Z" fill="#8dee1f" stroke="#8dee1f" stroke-width="0.8"/>
<path d="M1738.6,450.7L1749.1,447.3L1739.4,437.0L1728.9,440.3 Z" fill="#73eb1a" stroke="#73eb1a" stroke-width="0.8"/>
<path d="M1778.7,464.5L1788.9,461.8L1779.3,451.7L1769.1,454.3 Z" fill="#39e310" stroke="#39e310" stroke-width="0.8"/>
<path d="M1798.6,471.9L1808.5,469.6L1798.9,459.5L1788.9,461.8 Z" fill="#19de0c" stroke="#19de0c" stroke-width="0.8"/>
<path d="M1818.2,479.6L1827.9,477.8L1818.3,467.9L1808.5,469.6 Z" fill="#09d118" stroke="#09d118" stroke-width="0.8"/>
<path d="M1837.5,487.8L1847.0,486.5L1837.4,476.7L1827.9,477.8 Z" fill="#05a82a" stroke="#05a82a" stroke-width="0.8"/>
<path d="M1856.6,496.7L1865.8,496.0L1856.3,485.9L1847.0,486.5 Z" fill="#027e32" stroke="#027e32" stroke-width="0.8"/>
<path d="M1875.4,506.2L1884.3,506.1L1874.9,496.0L1865.8,496.0 Z" fill="#015431" stroke="#015431" stroke-width="0.8"/>
<path d="M1468.2,391.1L1479.6,382.1L1470.1,370.6L1458.7,379.5 Z" fill="#f0f55e" stroke="#f0f55e" stroke-width="0.8"/>
<path d="M1758.7,457.5L1769.1,454.3L1759.4,444.2L1749.1,447.3 Z" fill="#57e715" stroke="#57e715" stroke-width="0.8"/>
<path d="M1333.5,396.4L1344.4,384.0L1335.1,372.1L1324.2,384.4 Z" fill="#ddff88" stroke="#ddff88" stroke-width="0.8"/>
<path d="M1353.7,395.9L1364.7,384.0L1355.3,372.1L1344.4,384.0 Z" fill="#e3fe85" stroke="#e3fe85" stroke-width="0.8"/>
<path d="M1394.6,396.3L1405.8,385.6L1396.4,373.8L1385.2,384.5 Z" fill="#ebfb7e" stroke="#ebfb7e" stroke-width="0.8"/>
<path d="M1415.2,397.4L1426.5,387.1L1417.1,375.4L1405.8,385.6 Z" fill="#eefa76" stroke="#eefa76" stroke-width="0.8"/>
<path d="M1436.0,398.8L1447.3,388.9L1437.9,377.3L1426.5,387.1 Z" fill="#f1f86e" stroke="#f1f86e" stroke-width="0.8"/>
<path d="M1498.7,405.2L1510.1,396.6L1500.6,385.1L1489.1,393.7 Z" fill="#f3f356" stroke="#f3f356" stroke-width="0.8"/>
<path d="M1519.7,408.0L1531.1,399.8L1521.5,388.4L1510.1,396.6 Z" fill="#f2f24f" stroke="#f2f24f" stroke-width="0.8"/>
<path d="M1540.7,411.2L1552.1,403.4L1542.5,392.1L1531.1,399.8 Z" fill="#f0f24a" stroke="#f0f24a" stroke-width="0.8"/>
<path d="M1582.7,418.5L1594.0,411.6L1584.4,400.5L1573.1,407.3 Z" fill="#e8f240" stroke="#e8f240" stroke-width="0.8"/>
<path d="M1603.7,422.7L1614.9,416.2L1605.3,405.2L1594.0,411.6 Z" fill="#e3f23c" stroke="#e3f23c" stroke-width="0.8"/>
<path d="M1624.6,427.2L1635.8,421.1L1626.1,410.2L1614.9,416.2 Z" fill="#dcf237" stroke="#dcf237" stroke-width="0.8"/>
<path d="M1645.5,432.0L1656.6,426.3L1646.9,415.6L1635.8,421.1 Z" fill="#d3f232" stroke="#d3f232" stroke-width="0.8"/>
<path d="M1686.9,442.6L1697.8,437.8L1688.2,427.3L1677.2,431.9 Z" fill="#bef128" stroke="#bef128" stroke-width="0.8"/>
<path d="M1707.5,448.4L1718.3,444.1L1708.6,433.6L1697.8,437.8 Z" fill="#aef023" stroke="#aef023" stroke-width="0.8"/>
<path d="M1728.0,454.6L1738.6,450.7L1728.9,440.3L1718.3,444.1 Z" fill="#97ee1f" stroke="#97ee1f" stroke-width="0.8"/>
<path d="M1788.4,474.7L1798.6,471.9L1788.9,461.8L1778.7,464.5 Z" fill="#42e311" stroke="#42e311" stroke-width="0.8"/>
<path d="M1808.2,482.0L1818.2,479.6L1808.5,469.6L1798.6,471.9 Z" fill="#23df0c" stroke="#23df0c" stroke-width="0.8"/>
<path d="M1827.8,489.7L1837.5,487.8L1827.9,477.8L1818.2,479.6 Z" fill="#09d30f" stroke="#09d30f" stroke-width="0.8"/>
<path d="M1866.2,506.9L1875.4,506.2L1865.8,496.0L1856.6,496.7 Z" fill="#02812f" stroke="#02812f" stroke-width="0.8"/>
<path d="M1885.0,516.1L1893.9,516.0L1884.3,506.1L1875.4,506.2 Z" fill="#01562e" stroke="#01562e" stroke-width="0.8"/>
<path d="M1374.1,395.9L1385.2,384.5L1375.8,372.6L1364.7,384.0 Z" fill="#e8fd81" stroke="#e8fd81" stroke-width="0.8"/>
<path d="M1456.8,400.6L1468.2,391.1L1458.7,379.5L1447.3,388.9 Z" fill="#f3f766" stroke="#f3f766" stroke-width="0.8"/>
<path d="M1477.7,402.7L1489.1,393.7L1479.6,382.1L1468.2,391.1 Z" fill="#f4f55e" stroke="#f4f55e" stroke-width="0.8"/>
<path d="M1561.7,414.7L1573.1,407.3L1563.5,396.1L1552.1,403.4 Z" fill="#edf245" stroke="#edf245" stroke-width="0.8"/>
<path d="M1666.2,437.2L1677.2,431.9L1667.6,421.2L1656.6,426.3 Z" fill="#caf22d" stroke="#caf22d" stroke-width="0.8"/>
<path d="M1748.3,461.0L1758.7,457.5L1749.1,447.3L1738.6,450.7 Z" fill="#7ceb1a" stroke="#7ceb1a" stroke-width="0.8"/>
<path d="M1768.4,467.8L1778.7,464.5L1769.1,454.3L1758.7,457.5 Z" fill="#60e715" stroke="#60e715" stroke-width="0.8"/>
<path d="M1847.2,498.0L1856.6,496.7L1847.0,486.5L1837.5,487.8 Z" fill="#05aa23" stroke="#05aa23" stroke-width="0.8"/>
<path d="M1322.7,409.2L1333.5,396.4L1324.2,384.4L1313.5,397.3 Z" fill="#d9ff8b" stroke="#d9ff8b" stroke-width="0.8"/>
<path d="M1342.8,408.4L1353.7,395.9L1344.4,384.0L1333.5,396.4 Z" fill="#e1ff88" stroke="#e1ff88" stroke-width="0.8"/>
<path d="M1404.0,408.2L1415.2,397.4L1405.8,385.6L1394.6,396.3 Z" fill="#effb7e" stroke="#effb7e" stroke-width="0.8"/>
<path d="M1424.7,409.2L1436.0,398.8L1426.5,387.1L1415.2,397.4 Z" fill="#f3fa76" stroke="#f3fa76" stroke-width="0.8"/>
<path d="M1508.3,416.7L1519.7,408.0L1510.1,396.6L1498.7,405.2 Z" fill="#f4ef57" stroke="#f4ef57" stroke-width="0.8"/>
<path d="M1529.3,419.5L1540.7,411.2L1531.1,399.8L1519.7,408.0 Z" fill="#f2ef4f" stroke="#f2ef4f" stroke-width="0.8"/>
<path d="M1592.4,429.7L1603.7,422.7L1594.0,411.6L1582.7,418.5 Z" fill="#ecf241" stroke="#ecf241" stroke-width="0.8"/>
<path d="M1613.3,433.8L1624.6,427.2L1614.9,416.2L1603.7,422.7 Z" fill="#e7f23c" stroke="#e7f23c" stroke-width="0.8"/>
<path d="M1634.3,438.2L1645.5,432.0L1635.8,421.1L1624.6,427.2 Z" fill="#e0f237" stroke="#e0f237" stroke-width="0.8"/>
<path d="M1696.6,453.3L1707.5,448.4L1697.8,437.8L1686.9,442.6 Z" fill="#c3f128" stroke="#c3f128" stroke-width="0.8"/>
<path d="M1717.2,459.0L1728.0,454.6L1718.3,444.1L1707.5,448.4 Z" fill="#b6f024" stroke="#b6f024" stroke-width="0.8"/>
<path d="M1798.2,484.9L1808.2,482.0L1798.6,471.9L1788.4,474.7 Z" fill="#4ce311" stroke="#4ce311" stroke-width="0.8"/>
<path d="M1818.0,492.1L1827.8,489.7L1818.2,479.6L1808.2,482.0 Z" fill="#2ddf0c" stroke="#2ddf0c" stroke-width="0.8"/>
<path d="M1875.9,516.9L1885.0,516.1L1875.4,506.2L1866.2,506.9 Z" fill="#03832b" stroke="#03832b" stroke-width="0.8"/>
<path d="M1894.6,526.0L1903.5,525.8L1893.9,516.0L1885.0,516.1 Z" fill="#01592c" stroke="#01592c" stroke-width="0.8"/>
<path d="M1363.1,407.9L1374.1,395.9L1364.7,384.0L1353.7,395.9 Z" fill="#e7fe85" stroke="#e7fe85" stroke-width="0.8"/>
<path d="M1383.5,407.8L1394.6,396.3L1385.2,384.5L1374.1,395.9 Z" fill="#ecfd81" stroke="#ecfd81" stroke-width="0.8"/>
<path d="M1445.5,410.6L1456.8,400.6L1447.3,388.9L1436.0,398.8 Z" fill="#f5f86e" stroke="#f5f86e" stroke-width="0.8"/>
<path d="M1466.4,412.3L1477.7,402.7L1468.2,391.1L1456.8,400.6 Z" fill="#f7f666" stroke="#f7f666" stroke-width="0.8"/>
<path d="M1487.3,414.3L1498.7,405.2L1489.1,393.7L1477.7,402.7 Z" fill="#f5f25e" stroke="#f5f25e" stroke-width="0.8"/>
<path d="M1550.3,422.5L1561.7,414.7L1552.1,403.4L1540.7,411.2 Z" fill="#f2f14a" stroke="#f2f14a" stroke-width="0.8"/>
<path d="M1571.3,426.0L1582.7,418.5L1573.1,407.3L1561.7,414.7 Z" fill="#f1f246" stroke="#f1f246" stroke-width="0.8"/>
<path d="M1655.1,442.9L1666.2,437.2L1656.6,426.3L1645.5,432.0 Z" fill="#d8f232" stroke="#d8f232" stroke-width="0.8"/>
<path d="M1675.9,448.0L1686.9,442.6L1677.2,431.9L1666.2,437.2 Z" fill="#cff22d" stroke="#cff22d" stroke-width="0.8"/>
<path d="M1737.7,465.0L1748.3,461.0L1738.6,450.7L1728.0,454.6 Z" fill="#a0ee1f" stroke="#a0ee1f" stroke-width="0.8"/>
<path d="M1758.0,471.4L1768.4,467.8L1758.7,457.5L1748.3,461.0 Z" fill="#86eb1a" stroke="#86eb1a" stroke-width="0.8"/>
<path d="M1778.2,478.0L1788.4,474.7L1778.7,464.5L1768.4,467.8 Z" fill="#6ae716" stroke="#6ae716" stroke-width="0.8"/>
<path d="M1837.5,499.9L1847.2,498.0L1837.5,487.8L1827.8,489.7 Z" fill="#0bd609" stroke="#0bd609" stroke-width="0.8"/>
<path d="M1856.8,508.2L1866.2,506.9L1856.6,496.7L1847.2,498.0 Z" fill="#05ad1e" stroke="#05ad1e" stroke-width="0.8"/>
<path d="M1312.1,422.6L1322.7,409.2L1313.5,397.3L1302.9,410.6 Z" fill="#d5ff8e" stroke="#d5ff8e" stroke-width="0.8"/>
<path d="M1332.0,421.2L1342.8,408.4L1333.5,396.4L1322.7,409.2 Z" fill="#ddff8b" stroke="#ddff8b" stroke-width="0.8"/>
<path d="M1413.5,420.1L1424.7,409.2L1415.2,397.4L1404.0,408.2 Z" fill="#f3fb7e" stroke="#f3fb7e" stroke-width="0.8"/>
<path d="M1517.9,428.3L1529.3,419.5L1519.7,408.0L1508.3,416.7 Z" fill="#f4ec57" stroke="#f4ec57" stroke-width="0.8"/>
<path d="M1602.0,440.9L1613.3,433.8L1603.7,422.7L1592.4,429.7 Z" fill="#f0f241" stroke="#f0f241" stroke-width="0.8"/>
<path d="M1623.0,444.9L1634.3,438.2L1624.6,427.2L1613.3,433.8 Z" fill="#ebf23c" stroke="#ebf23c" stroke-width="0.8"/>
<path d="M1706.4,464.1L1717.2,459.0L1707.5,448.4L1696.6,453.3 Z" fill="#c8f129" stroke="#c8f129" stroke-width="0.8"/>
<path d="M1807.9,495.1L1818.0,492.1L1808.2,482.0L1798.2,484.9 Z" fill="#56e311" stroke="#56e311" stroke-width="0.8"/>
<path d="M1885.6,526.9L1894.6,526.0L1885.0,516.1L1875.9,516.9 Z" fill="#038626" stroke="#038626" stroke-width="0.8"/>
<path d="M1904.3,536.0L1913.1,535.7L1903.5,525.8L1894.6,526.0 Z" fill="#015c29" stroke="#015c29" stroke-width="0.8"/>
<path d="M1352.1,420.3L1363.1,407.9L1353.7,395.9L1342.8,408.4 Z" fill="#e5ff88" stroke="#e5ff88" stroke-width="0.8"/>
<path d="M1372.4,419.8L1383.5,407.8L1374.1,395.9L1363.1,407.9 Z" fill="#ebfe85" stroke="#ebfe85" stroke-width="0.8"/>
<path d="M1392.9,419.7L1404.0,408.2L1394.6,396.3L1383.5,407.8 Z" fill="#f0fd81" stroke="#f0fd81" stroke-width="0.8"/>
<path d="M1434.2,421.0L1445.5,410.6L1436.0,398.8L1424.7,409.2 Z" fill="#f7fa76" stroke="#f7fa76" stroke-width="0.8"/>
<path d="M1455.0,422.3L1466.4,412.3L1456.8,400.6L1445.5,410.6 Z" fill="#f8f76e" stroke="#f8f76e" stroke-width="0.8"/>
<path d="M1475.9,424.0L1487.3,414.3L1477.7,402.7L1466.4,412.3 Z" fill="#f7f266" stroke="#f7f266" stroke-width="0.8"/>
<path d="M1496.9,425.9L1508.3,416.7L1498.7,405.2L1487.3,414.3 Z" fill="#f5ef5f" stroke="#f5ef5f" stroke-width="0.8"/>
<path d="M1538.9,430.9L1550.3,422.5L1540.7,411.2L1529.3,419.5 Z" fill="#f2eb50" stroke="#f2eb50" stroke-width="0.8"/>
<path d="M1559.9,433.9L1571.3,426.0L1561.7,414.7L1550.3,422.5 Z" fill="#f2ed4b" stroke="#f2ed4b" stroke-width="0.8"/>
<path d="M1581.0,437.3L1592.4,429.7L1582.7,418.5L1571.3,426.0 Z" fill="#f2f046" stroke="#f2f046" stroke-width="0.8"/>
<path d="M1644.0,449.2L1655.1,442.9L1645.5,432.0L1634.3,438.2 Z" fill="#e5f237" stroke="#e5f237" stroke-width="0.8"/>
<path d="M1664.9,453.8L1675.9,448.0L1666.2,437.2L1655.1,442.9 Z" fill="#ddf232" stroke="#ddf232" stroke-width="0.8"/>
<path d="M1685.7,458.8L1696.6,453.3L1686.9,442.6L1675.9,448.0 Z" fill="#d4f22d" stroke="#d4f22d" stroke-width="0.8"/>
<path d="M1727.0,469.6L1737.7,465.0L1728.0,454.6L1717.2,459.0 Z" fill="#bbf024" stroke="#bbf024" stroke-width="0.8"/>
<path d="M1747.4,475.5L1758.0,471.4L1748.3,461.0L1737.7,465.0 Z" fill="#a9ee1f" stroke="#a9ee1f" stroke-width="0.8"/>
<path d="M1767.8,481.8L1778.2,478.0L1768.4,467.8L1758.0,471.4 Z" fill="#90ec1b" stroke="#90ec1b" stroke-width="0.8"/>
<path d="M1787.9,488.3L1798.2,484.9L1788.4,474.7L1778.2,478.0 Z" fill="#74e716" stroke="#74e716" stroke-width="0.8"/>
<path d="M1827.7,502.3L1837.5,499.9L1827.8,489.7L1818.0,492.1 Z" fill="#36df0d" stroke="#36df0d" stroke-width="0.8"/>
<path d="M1847.2,510.1L1856.8,508.2L1847.2,498.0L1837.5,499.9 Z" fill="#14d809" stroke="#14d809" stroke-width="0.8"/>
<path d="M1866.5,518.3L1875.9,516.9L1866.2,506.9L1856.8,508.2 Z" fill="#06af17" stroke="#06af17" stroke-width="0.8"/>
<path d="M1321.3,434.6L1332.0,421.2L1322.7,409.2L1312.1,422.6 Z" fill="#d8ff8e" stroke="#d8ff8e" stroke-width="0.8"/>
<path d="M1895.3,536.9L1904.3,536.0L1894.6,526.0L1885.6,526.9 Z" fill="#038921" stroke="#038921" stroke-width="0.8"/>
<path d="M1301.6,436.4L1312.1,422.6L1302.9,410.6L1292.4,424.3 Z" fill="#ceff8f" stroke="#ceff8f" stroke-width="0.8"/>
<path d="M1341.3,433.3L1352.1,420.3L1342.8,408.4L1332.0,421.2 Z" fill="#e1ff8b" stroke="#e1ff8b" stroke-width="0.8"/>
<path d="M1361.5,432.3L1372.4,419.8L1363.1,407.9L1352.1,420.3 Z" fill="#e9ff89" stroke="#e9ff89" stroke-width="0.8"/>
<path d="M1381.8,431.8L1392.9,419.7L1383.5,407.8L1372.4,419.8 Z" fill="#effe85" stroke="#effe85" stroke-width="0.8"/>
<path d="M1402.3,431.7L1413.5,420.1L1404.0,408.2L1392.9,419.7 Z" fill="#f4fd82" stroke="#f4fd82" stroke-width="0.8"/>
<path d="M1443.7,432.9L1455.0,422.3L1445.5,410.6L1434.2,421.0 Z" fill="#faf976" stroke="#faf976" stroke-width="0.8"/>
<path d="M1464.5,434.1L1475.9,424.0L1466.4,412.3L1455.0,422.3 Z" fill="#f8f36e" stroke="#f8f36e" stroke-width="0.8"/>
<path d="M1485.5,435.7L1496.9,425.9L1487.3,414.3L1475.9,424.0 Z" fill="#f7ef67" stroke="#f7ef67" stroke-width="0.8"/>
<path d="M1506.4,437.6L1517.9,428.3L1508.3,416.7L1496.9,425.9 Z" fill="#f5eb5f" stroke="#f5eb5f" stroke-width="0.8"/>
<path d="M1527.5,439.8L1538.9,430.9L1529.3,419.5L1517.9,428.3 Z" fill="#f4e857" stroke="#f4e857" stroke-width="0.8"/>
<path d="M1548.5,442.4L1559.9,433.9L1550.3,422.5L1538.9,430.9 Z" fill="#f2e750" stroke="#f2e750" stroke-width="0.8"/>
<path d="M1569.6,445.3L1581.0,437.3L1571.3,426.0L1559.9,433.9 Z" fill="#f2e94b" stroke="#f2e94b" stroke-width="0.8"/>
<path d="M1590.7,448.6L1602.0,440.9L1592.4,429.7L1581.0,437.3 Z" fill="#f2ec46" stroke="#f2ec46" stroke-width="0.8"/>
<path d="M1611.7,452.1L1623.0,444.9L1613.3,433.8L1602.0,440.9 Z" fill="#f2f041" stroke="#f2f041" stroke-width="0.8"/>
<path d="M1632.7,456.0L1644.0,449.2L1634.3,438.2L1623.0,444.9 Z" fill="#f0f23c" stroke="#f0f23c" stroke-width="0.8"/>
<path d="M1653.7,460.2L1664.9,453.8L1655.1,442.9L1644.0,449.2 Z" fill="#e9f237" stroke="#e9f237" stroke-width="0.8"/>
<path d="M1674.6,464.8L1685.7,458.8L1675.9,448.0L1664.9,453.8 Z" fill="#e2f233" stroke="#e2f233" stroke-width="0.8"/>
<path d="M1695.4,469.6L1706.4,464.1L1696.6,453.3L1685.7,458.8 Z" fill="#d9f22e" stroke="#d9f22e" stroke-width="0.8"/>
<path d="M1716.1,474.8L1727.0,469.6L1717.2,459.0L1706.4,464.1 Z" fill="#cef129" stroke="#cef129" stroke-width="0.8"/>
<path d="M1736.8,480.3L1747.4,475.5L1737.7,465.0L1727.0,469.6 Z" fill="#c1f024" stroke="#c1f024" stroke-width="0.8"/>
<path d="M1757.2,486.0L1767.8,481.8L1758.0,471.4L1747.4,475.5 Z" fill="#b2ee20" stroke="#b2ee20" stroke-width="0.8"/>
<path d="M1777.6,492.2L1787.9,488.3L1778.2,478.0L1767.8,481.8 Z" fill="#99ec1b" stroke="#99ec1b" stroke-width="0.8"/>
<path d="M1817.7,505.3L1827.7,502.3L1818.0,492.1L1807.9,495.1 Z" fill="#60e311" stroke="#60e311" stroke-width="0.8"/>
<path d="M1837.5,512.6L1847.2,510.1L1837.5,499.9L1827.7,502.3 Z" fill="#3fdf0d" stroke="#3fdf0d" stroke-width="0.8"/>
<path d="M1857.0,520.2L1866.5,518.3L1856.8,508.2L1847.2,510.1 Z" fill="#1ddb0a" stroke="#1ddb0a" stroke-width="0.8"/>
<path d="M1876.3,528.3L1885.6,526.9L1875.9,516.9L1866.5,518.3 Z" fill="#06b210" stroke="#06b210" stroke-width="0.8"/>
<path d="M1914.0,545.9L1922.7,545.5L1913.1,535.7L1904.3,536.0 Z" fill="#015e26" stroke="#015e26" stroke-width="0.8"/>
<path d="M1422.9,432.0L1434.2,421.0L1424.7,409.2L1413.5,420.1 Z" fill="#f7fb7e" stroke="#f7fb7e" stroke-width="0.8"/>
<path d="M1797.7,498.6L1807.9,495.1L1798.2,484.9L1787.9,488.3 Z" fill="#7ee816" stroke="#7ee816" stroke-width="0.8"/>
<path d="M1291.2,450.6L1301.6,436.4L1292.4,424.3L1282.0,438.5 Z" fill="#c7ff90" stroke="#c7ff90" stroke-width="0.8"/>
<path d="M1310.8,448.4L1321.3,434.6L1312.1,422.6L1301.6,436.4 Z" fill="#d2ff8f" stroke="#d2ff8f" stroke-width="0.8"/>
<path d="M1350.6,445.3L1361.5,432.3L1352.1,420.3L1341.3,433.3 Z" fill="#e5ff8c" stroke="#e5ff8c" stroke-width="0.8"/>
<path d="M1370.9,444.3L1381.8,431.8L1372.4,419.8L1361.5,432.3 Z" fill="#edff89" stroke="#edff89" stroke-width="0.8"/>
<path d="M1391.2,443.8L1402.3,431.7L1392.9,419.7L1381.8,431.8 Z" fill="#f3fe85" stroke="#f3fe85" stroke-width="0.8"/>
<path d="M1453.2,444.7L1464.5,434.1L1455.0,422.3L1443.7,432.9 Z" fill="#faf477" stroke="#faf477" stroke-width="0.8"/>
<path d="M1474.1,445.9L1485.5,435.7L1475.9,424.0L1464.5,434.1 Z" fill="#f8ef6f" stroke="#f8ef6f" stroke-width="0.8"/>
<path d="M1495.0,447.4L1506.4,437.6L1496.9,425.9L1485.5,435.7 Z" fill="#f7eb67" stroke="#f7eb67" stroke-width="0.8"/>
<path d="M1537.1,451.4L1548.5,442.4L1538.9,430.9L1527.5,439.8 Z" fill="#f4e558" stroke="#f4e558" stroke-width="0.8"/>
<path d="M1558.2,453.9L1569.6,445.3L1559.9,433.9L1548.5,442.4 Z" fill="#f2e450" stroke="#f2e450" stroke-width="0.8"/>
<path d="M1579.3,456.7L1590.7,448.6L1581.0,437.3L1569.6,445.3 Z" fill="#f2e54b" stroke="#f2e54b" stroke-width="0.8"/>
<path d="M1642.5,467.2L1653.7,460.2L1644.0,449.2L1632.7,456.0 Z" fill="#f2f13d" stroke="#f2f13d" stroke-width="0.8"/>
<path d="M1663.5,471.3L1674.6,464.8L1664.9,453.8L1653.7,460.2 Z" fill="#eef238" stroke="#eef238" stroke-width="0.8"/>
<path d="M1684.4,475.7L1695.4,469.6L1685.7,458.8L1674.6,464.8 Z" fill="#e7f233" stroke="#e7f233" stroke-width="0.8"/>
<path d="M1725.9,485.5L1736.8,480.3L1727.0,469.6L1716.1,474.8 Z" fill="#d3f129" stroke="#d3f129" stroke-width="0.8"/>
<path d="M1746.6,490.9L1757.2,486.0L1747.4,475.5L1736.8,480.3 Z" fill="#c6f024" stroke="#c6f024" stroke-width="0.8"/>
<path d="M1767.0,496.6L1777.6,492.2L1767.8,481.8L1757.2,486.0 Z" fill="#b8ee20" stroke="#b8ee20" stroke-width="0.8"/>
<path d="M1827.5,515.6L1837.5,512.6L1827.7,502.3L1817.7,505.3 Z" fill="#69e412" stroke="#69e412" stroke-width="0.8"/>
<path d="M1847.3,522.8L1857.0,520.2L1847.2,510.1L1837.5,512.6 Z" fill="#49e00d" stroke="#49e00d" stroke-width="0.8"/>
<path d="M1866.8,530.3L1876.3,528.3L1866.5,518.3L1857.0,520.2 Z" fill="#27dc0a" stroke="#27dc0a" stroke-width="0.8"/>
<path d="M1905.1,546.9L1914.0,545.9L1904.3,536.0L1895.3,536.9 Z" fill="#038b1c" stroke="#038b1c" stroke-width="0.8"/>
<path d="M1923.7,555.8L1932.4,555.4L1922.7,545.5L1914.0,545.9 Z" fill="#016123" stroke="#016123" stroke-width="0.8"/>
<path d="M1330.6,446.7L1341.3,433.3L1332.0,421.2L1321.3,434.6 Z" fill="#dcff8e" stroke="#dcff8e" stroke-width="0.8"/>
<path d="M1411.8,443.6L1422.9,432.0L1413.5,420.1L1402.3,431.7 Z" fill="#f8fd82" stroke="#f8fd82" stroke-width="0.8"/>
<path d="M1432.4,443.9L1443.7,432.9L1434.2,421.0L1422.9,432.0 Z" fill="#fbfb7e" stroke="#fbfb7e" stroke-width="0.8"/>
<path d="M1516.0,449.2L1527.5,439.8L1517.9,428.3L1506.4,437.6 Z" fill="#f5e75f" stroke="#f5e75f" stroke-width="0.8"/>
<path d="M1600.4,459.9L1611.7,452.1L1602.0,440.9L1590.7,448.6 Z" fill="#f2e846" stroke="#f2e846" stroke-width="0.8"/>
<path d="M1621.4,463.4L1632.7,456.0L1623.0,444.9L1611.7,452.1 Z" fill="#f2ec41" stroke="#f2ec41" stroke-width="0.8"/>
<path d="M1705.2,480.5L1716.1,474.8L1706.4,464.1L1695.4,469.6 Z" fill="#def22e" stroke="#def22e" stroke-width="0.8"/>
<path d="M1787.4,502.6L1797.7,498.6L1787.9,488.3L1777.6,492.2 Z" fill="#a3ec1b" stroke="#a3ec1b" stroke-width="0.8"/>
<path d="M1807.5,508.9L1817.7,505.3L1807.9,495.1L1797.7,498.6 Z" fill="#87e816" stroke="#87e816" stroke-width="0.8"/>
<path d="M1886.1,538.4L1895.3,536.9L1885.6,526.9L1876.3,528.3 Z" fill="#06b509" stroke="#06b509" stroke-width="0.8"/>
<path d="M1280.9,465.3L1291.2,450.6L1282.0,438.5L1271.8,453.2 Z" fill="#bfff91" stroke="#bfff91" stroke-width="0.8"/>
<path d="M1300.3,462.7L1310.8,448.4L1301.6,436.4L1291.2,450.6 Z" fill="#cbff90" stroke="#cbff90" stroke-width="0.8"/>
<path d="M1360.0,457.3L1370.9,444.3L1361.5,432.3L1350.6,445.3 Z" fill="#e8ff8c" stroke="#e8ff8c" stroke-width="0.8"/>
<path d="M1380.2,456.4L1391.2,443.8L1381.8,431.8L1370.9,444.3 Z" fill="#f0ff89" stroke="#f0ff89" stroke-width="0.8"/>
<path d="M1462.7,456.6L1474.1,445.9L1464.5,434.1L1453.2,444.7 Z" fill="#faf077" stroke="#faf077" stroke-width="0.8"/>
<path d="M1483.7,457.7L1495.0,447.4L1485.5,435.7L1474.1,445.9 Z" fill="#f8eb6f" stroke="#f8eb6f" stroke-width="0.8"/>
<path d="M1546.8,463.0L1558.2,453.9L1548.5,442.4L1537.1,451.4 Z" fill="#f4e158" stroke="#f4e158" stroke-width="0.8"/>
<path d="M1567.9,465.4L1579.3,456.7L1569.6,445.3L1558.2,453.9 Z" fill="#f2e050" stroke="#f2e050" stroke-width="0.8"/>
<path d="M1652.2,478.3L1663.5,471.3L1653.7,460.2L1642.5,467.2 Z" fill="#f2ec3d" stroke="#f2ec3d" stroke-width="0.8"/>
<path d="M1673.2,482.3L1684.4,475.7L1674.6,464.8L1663.5,471.3 Z" fill="#f2f238" stroke="#f2f238" stroke-width="0.8"/>
<path d="M1735.8,496.3L1746.6,490.9L1736.8,480.3L1725.9,485.5 Z" fill="#d8f229" stroke="#d8f229" stroke-width="0.8"/>
<path d="M1756.4,501.5L1767.0,496.6L1757.2,486.0L1746.6,490.9 Z" fill="#ccf025" stroke="#ccf025" stroke-width="0.8"/>
<path d="M1837.4,525.9L1847.3,522.8L1837.5,512.6L1827.5,515.6 Z" fill="#73e412" stroke="#73e412" stroke-width="0.8"/>
<path d="M1857.1,532.9L1866.8,530.3L1857.0,520.2L1847.3,522.8 Z" fill="#52e00e" stroke="#52e00e" stroke-width="0.8"/>
<path d="M1914.8,556.8L1923.7,555.8L1914.0,545.9L1905.1,546.9 Z" fill="#038e16" stroke="#038e16" stroke-width="0.8"/>
<path d="M1933.5,565.7L1942.1,565.2L1932.4,555.4L1923.7,555.8 Z" fill="#016420" stroke="#016420" stroke-width="0.8"/>
<path d="M1320.0,460.5L1330.6,446.7L1321.3,434.6L1310.8,448.4 Z" fill="#d6ff8f" stroke="#d6ff8f" stroke-width="0.8"/>
<path d="M1339.9,458.7L1350.6,445.3L1341.3,433.3L1330.6,446.7 Z" fill="#e0ff8f" stroke="#e0ff8f" stroke-width="0.8"/>
<path d="M1400.7,455.8L1411.8,443.6L1402.3,431.7L1391.2,443.8 Z" fill="#f7fe85" stroke="#f7fe85" stroke-width="0.8"/>
<path d="M1421.2,455.6L1432.4,443.9L1422.9,432.0L1411.8,443.6 Z" fill="#fcfd82" stroke="#fcfd82" stroke-width="0.8"/>
<path d="M1441.9,455.8L1453.2,444.7L1443.7,432.9L1432.4,443.9 Z" fill="#fbf77e" stroke="#fbf77e" stroke-width="0.8"/>
<path d="M1504.6,459.1L1516.0,449.2L1506.4,437.6L1495.0,447.4 Z" fill="#f7e767" stroke="#f7e767" stroke-width="0.8"/>
<path d="M1525.7,460.9L1537.1,451.4L1527.5,439.8L1516.0,449.2 Z" fill="#f5e460" stroke="#f5e460" stroke-width="0.8"/>
<path d="M1589.0,468.2L1600.4,459.9L1590.7,448.6L1579.3,456.7 Z" fill="#f2e24b" stroke="#f2e24b" stroke-width="0.8"/>
<path d="M1610.1,471.2L1621.4,463.4L1611.7,452.1L1600.4,459.9 Z" fill="#f2e446" stroke="#f2e446" stroke-width="0.8"/>
<path d="M1631.2,474.6L1642.5,467.2L1632.7,456.0L1621.4,463.4 Z" fill="#f2e742" stroke="#f2e742" stroke-width="0.8"/>
<path d="M1694.2,486.7L1705.2,480.5L1695.4,469.6L1684.4,475.7 Z" fill="#ebf233" stroke="#ebf233" stroke-width="0.8"/>
<path d="M1715.0,491.3L1725.9,485.5L1716.1,474.8L1705.2,480.5 Z" fill="#e3f22e" stroke="#e3f22e" stroke-width="0.8"/>
<path d="M1776.9,507.1L1787.4,502.6L1777.6,492.2L1767.0,496.6 Z" fill="#beee20" stroke="#beee20" stroke-width="0.8"/>
<path d="M1797.2,513.0L1807.5,508.9L1797.7,498.6L1787.4,502.6 Z" fill="#adec1b" stroke="#adec1b" stroke-width="0.8"/>
<path d="M1817.4,519.2L1827.5,515.6L1817.7,505.3L1807.5,508.9 Z" fill="#91e817" stroke="#91e817" stroke-width="0.8"/>
<path d="M1876.6,540.5L1886.1,538.4L1876.3,528.3L1866.8,530.3 Z" fill="#30dc0a" stroke="#30dc0a" stroke-width="0.8"/>
<path d="M1895.9,548.4L1905.1,546.9L1895.3,536.9L1886.1,538.4 Z" fill="#0bb706" stroke="#0bb706" stroke-width="0.8"/>
<path d="M1290.0,477.4L1300.3,462.7L1291.2,450.6L1280.9,465.3 Z" fill="#c2ff91" stroke="#c2ff91" stroke-width="0.8"/>
<path d="M1369.3,469.4L1380.2,456.4L1370.9,444.3L1360.0,457.3 Z" fill="#ecff8c" stroke="#ecff8c" stroke-width="0.8"/>
<path d="M1472.3,468.4L1483.7,457.7L1474.1,445.9L1462.7,456.6 Z" fill="#faec77" stroke="#faec77" stroke-width="0.8"/>
<path d="M1556.4,474.6L1567.9,465.4L1558.2,453.9L1546.8,463.0 Z" fill="#f4dd58" stroke="#f4dd58" stroke-width="0.8"/>
<path d="M1662.0,489.5L1673.2,482.3L1663.5,471.3L1652.2,478.3 Z" fill="#f2e83d" stroke="#f2e83d" stroke-width="0.8"/>
<path d="M1745.6,507.0L1756.4,501.5L1746.6,490.9L1735.8,496.3 Z" fill="#def22a" stroke="#def22a" stroke-width="0.8"/>
<path d="M1847.2,536.1L1857.1,532.9L1847.3,522.8L1837.4,525.9 Z" fill="#7de412" stroke="#7de412" stroke-width="0.8"/>
<path d="M1924.7,566.8L1933.5,565.7L1923.7,555.8L1914.8,556.8 Z" fill="#039111" stroke="#039111" stroke-width="0.8"/>
<path d="M1270.8,480.4L1280.9,465.3L1271.8,453.2L1261.7,468.3 Z" fill="#b5ff91" stroke="#b5ff91" stroke-width="0.8"/>
<path d="M1309.5,474.8L1320.0,460.5L1310.8,448.4L1300.3,462.7 Z" fill="#ceff90" stroke="#ceff90" stroke-width="0.8"/>
<path d="M1329.3,472.6L1339.9,458.7L1330.6,446.7L1320.0,460.5 Z" fill="#d9ff8f" stroke="#d9ff8f" stroke-width="0.8"/>
<path d="M1349.2,470.8L1360.0,457.3L1350.6,445.3L1339.9,458.7 Z" fill="#e3ff8f" stroke="#e3ff8f" stroke-width="0.8"/>
<path d="M1389.6,468.4L1400.7,455.8L1391.2,443.8L1380.2,456.4 Z" fill="#f4ff89" stroke="#f4ff89" stroke-width="0.8"/>
<path d="M1410.1,467.8L1421.2,455.6L1411.8,443.6L1400.7,455.8 Z" fill="#fbfe86" stroke="#fbfe86" stroke-width="0.8"/>
<path d="M1430.7,467.6L1441.9,455.8L1432.4,443.9L1421.2,455.6 Z" fill="#fdf982" stroke="#fdf982" stroke-width="0.8"/>
<path d="M1451.4,467.7L1462.7,456.6L1453.2,444.7L1441.9,455.8 Z" fill="#fbf27e" stroke="#fbf27e" stroke-width="0.8"/>
<path d="M1493.2,469.5L1504.6,459.1L1495.0,447.4L1483.7,457.7 Z" fill="#f8e76f" stroke="#f8e76f" stroke-width="0.8"/>
<path d="M1514.3,470.9L1525.7,460.9L1516.0,449.2L1504.6,459.1 Z" fill="#f7e368" stroke="#f7e368" stroke-width="0.8"/>
<path d="M1535.3,472.6L1546.8,463.0L1537.1,451.4L1525.7,460.9 Z" fill="#f5df60" stroke="#f5df60" stroke-width="0.8"/>
<path d="M1577.6,476.9L1589.0,468.2L1579.3,456.7L1567.9,465.4 Z" fill="#f2dd51" stroke="#f2dd51" stroke-width="0.8"/>
<path d="M1598.7,479.6L1610.1,471.2L1600.4,459.9L1589.0,468.2 Z" fill="#f2de4c" stroke="#f2de4c" stroke-width="0.8"/>
<path d="M1619.8,482.6L1631.2,474.6L1621.4,463.4L1610.1,471.2 Z" fill="#f2e047" stroke="#f2e047" stroke-width="0.8"/>
<path d="M1641.0,485.9L1652.2,478.3L1642.5,467.2L1631.2,474.6 Z" fill="#f2e342" stroke="#f2e342" stroke-width="0.8"/>
<path d="M1683.0,493.4L1694.2,486.7L1684.4,475.7L1673.2,482.3 Z" fill="#f2ed38" stroke="#f2ed38" stroke-width="0.8"/>
<path d="M1704.0,497.6L1715.0,491.3L1705.2,480.5L1694.2,486.7 Z" fill="#f0f233" stroke="#f0f233" stroke-width="0.8"/>
<path d="M1724.9,502.2L1735.8,496.3L1725.9,485.5L1715.0,491.3 Z" fill="#e8f22f" stroke="#e8f22f" stroke-width="0.8"/>
<path d="M1766.2,512.2L1776.9,507.1L1767.0,496.6L1756.4,501.5 Z" fill="#d1f025" stroke="#d1f025" stroke-width="0.8"/>
<path d="M1786.8,517.6L1797.2,513.0L1787.4,502.6L1776.9,507.1 Z" fill="#c4ee20" stroke="#c4ee20" stroke-width="0.8"/>
<path d="M1807.1,523.4L1817.4,519.2L1807.5,508.9L1797.2,513.0 Z" fill="#b4ed1c" stroke="#b4ed1c" stroke-width="0.8"/>
<path d="M1827.3,529.5L1837.4,525.9L1827.5,515.6L1817.4,519.2 Z" fill="#9be817" stroke="#9be817" stroke-width="0.8"/>
<path d="M1867.0,543.1L1876.6,540.5L1866.8,530.3L1857.1,532.9 Z" fill="#5ce00e" stroke="#5ce00e" stroke-width="0.8"/>
<path d="M1886.5,550.6L1895.9,548.4L1886.1,538.4L1876.6,540.5 Z" fill="#3adc0a" stroke="#3adc0a" stroke-width="0.8"/>
<path d="M1905.7,558.5L1914.8,556.8L1905.1,546.9L1895.9,548.4 Z" fill="#13ba06" stroke="#13ba06" stroke-width="0.8"/>
<path d="M1943.3,575.7L1951.8,575.1L1942.1,565.2L1933.5,565.7 Z" fill="#01671d" stroke="#01671d" stroke-width="0.8"/>
<path d="M1260.8,496.0L1270.8,480.4L1261.7,468.3L1251.8,483.9 Z" fill="#abff92" stroke="#abff92" stroke-width="0.8"/>
<path d="M1279.9,492.6L1290.0,477.4L1280.9,465.3L1270.8,480.4 Z" fill="#b9ff91" stroke="#b9ff91" stroke-width="0.8"/>
<path d="M1299.2,489.5L1309.5,474.8L1300.3,462.7L1290.0,477.4 Z" fill="#c6ff91" stroke="#c6ff91" stroke-width="0.8"/>
<path d="M1318.8,486.9L1329.3,472.6L1320.0,460.5L1309.5,474.8 Z" fill="#d2ff90" stroke="#d2ff90" stroke-width="0.8"/>
<path d="M1338.5,484.7L1349.2,470.8L1339.9,458.7L1329.3,472.6 Z" fill="#ddff8f" stroke="#ddff8f" stroke-width="0.8"/>
<path d="M1358.5,482.9L1369.3,469.4L1360.0,457.3L1349.2,470.8 Z" fill="#e7ff8f" stroke="#e7ff8f" stroke-width="0.8"/>
<path d="M1378.7,481.5L1389.6,468.4L1380.2,456.4L1369.3,469.4 Z" fill="#f0ff8c" stroke="#f0ff8c" stroke-width="0.8"/>
<path d="M1399.1,480.5L1410.1,467.8L1400.7,455.8L1389.6,468.4 Z" fill="#f8ff89" stroke="#f8ff89" stroke-width="0.8"/>
<path d="M1419.6,479.8L1430.7,467.6L1421.2,455.6L1410.1,467.8 Z" fill="#fefd86" stroke="#fefd86" stroke-width="0.8"/>
<path d="M1440.2,479.5L1451.4,467.7L1441.9,455.8L1430.7,467.6 Z" fill="#fdf582" stroke="#fdf582" stroke-width="0.8"/>
<path d="M1461.0,479.7L1472.3,468.4L1462.7,456.6L1451.4,467.7 Z" fill="#fbee7f" stroke="#fbee7f" stroke-width="0.8"/>
<path d="M1481.9,480.3L1493.2,469.5L1483.7,457.7L1472.3,468.4 Z" fill="#fae878" stroke="#fae878" stroke-width="0.8"/>
<path d="M1502.8,481.3L1514.3,470.9L1504.6,459.1L1493.2,469.5 Z" fill="#f8e270" stroke="#f8e270" stroke-width="0.8"/>
<path d="M1523.9,482.6L1535.3,472.6L1525.7,460.9L1514.3,470.9 Z" fill="#f7dd68" stroke="#f7dd68" stroke-width="0.8"/>
<path d="M1545.0,484.2L1556.4,474.6L1546.8,463.0L1535.3,472.6 Z" fill="#f5da60" stroke="#f5da60" stroke-width="0.8"/>
<path d="M1566.1,486.2L1577.6,476.9L1567.9,465.4L1556.4,474.6 Z" fill="#f4d759" stroke="#f4d759" stroke-width="0.8"/>
<path d="M1587.3,488.5L1598.7,479.6L1589.0,468.2L1577.6,476.9 Z" fill="#f2d651" stroke="#f2d651" stroke-width="0.8"/>
<path d="M1608.5,491.1L1619.8,482.6L1610.1,471.2L1598.7,479.6 Z" fill="#f2d84c" stroke="#f2d84c" stroke-width="0.8"/>
<path d="M1629.6,494.0L1641.0,485.9L1631.2,474.6L1619.8,482.6 Z" fill="#f2dc47" stroke="#f2dc47" stroke-width="0.8"/>
<path d="M1650.8,497.2L1662.0,489.5L1652.2,478.3L1641.0,485.9 Z" fill="#f2df42" stroke="#f2df42" stroke-width="0.8"/>
<path d="M1671.8,500.7L1683.0,493.4L1673.2,482.3L1662.0,489.5 Z" fill="#f2e33d" stroke="#f2e33d" stroke-width="0.8"/>
<path d="M1692.9,504.5L1704.0,497.6L1694.2,486.7L1683.0,493.4 Z" fill="#f2e938" stroke="#f2e938" stroke-width="0.8"/>
<path d="M1713.8,508.6L1724.9,502.2L1715.0,491.3L1704.0,497.6 Z" fill="#f2ef34" stroke="#f2ef34" stroke-width="0.8"/>
<path d="M1734.7,513.1L1745.6,507.0L1735.8,496.3L1724.9,502.2 Z" fill="#edf22f" stroke="#edf22f" stroke-width="0.8"/>
<path d="M1755.5,517.8L1766.2,512.2L1756.4,501.5L1745.6,507.0 Z" fill="#e3f22a" stroke="#e3f22a" stroke-width="0.8"/>
<path d="M1776.1,522.8L1786.8,517.6L1776.9,507.1L1766.2,512.2 Z" fill="#d7f025" stroke="#d7f025" stroke-width="0.8"/>
<path d="M1796.7,528.2L1807.1,523.4L1797.2,513.0L1786.8,517.6 Z" fill="#caef21" stroke="#caef21" stroke-width="0.8"/>
<path d="M1817.0,533.8L1827.3,529.5L1817.4,519.2L1807.1,523.4 Z" fill="#baed1c" stroke="#baed1c" stroke-width="0.8"/>
<path d="M1837.2,539.8L1847.2,536.1L1837.4,525.9L1827.3,529.5 Z" fill="#a5e917" stroke="#a5e917" stroke-width="0.8"/>
<path d="M1857.2,546.4L1867.0,543.1L1857.1,532.9L1847.2,536.1 Z" fill="#87e513" stroke="#87e513" stroke-width="0.8"/>
<path d="M1876.9,553.3L1886.5,550.6L1876.6,540.5L1867.0,543.1 Z" fill="#66e00e" stroke="#66e00e" stroke-width="0.8"/>
<path d="M1896.4,560.7L1905.7,558.5L1895.9,548.4L1886.5,550.6 Z" fill="#44dc0a" stroke="#44dc0a" stroke-width="0.8"/>
<path d="M1915.6,568.6L1924.7,566.8L1914.8,556.8L1905.7,558.5 Z" fill="#1cbd07" stroke="#1cbd07" stroke-width="0.8"/>
<path d="M1934.5,576.9L1943.3,575.7L1933.5,565.7L1924.7,566.8 Z" fill="#04940b" stroke="#04940b" stroke-width="0.8"/>
<path d="M1953.1,585.6L1961.6,584.9L1951.8,575.1L1943.3,575.7 Z" fill="#016a19" stroke="#016a19" stroke-width="0.8"/>
<path d="M1251.0,512.0L1260.8,496.0L1251.8,483.9L1242.0,499.9 Z" fill="#a0ff93" stroke="#a0ff93" stroke-width="0.8"/>
<path d="M1269.9,508.2L1279.9,492.6L1270.8,480.4L1260.8,496.0 Z" fill="#afff92" stroke="#afff92" stroke-width="0.8"/>
<path d="M1289.0,504.7L1299.2,489.5L1290.0,477.4L1279.9,492.6 Z" fill="#bdff91" stroke="#bdff91" stroke-width="0.8"/>
<path d="M1308.4,501.7L1318.8,486.9L1309.5,474.8L1299.2,489.5 Z" fill="#c9ff91" stroke="#c9ff91" stroke-width="0.8"/>
<path d="M1328.0,499.1L1338.5,484.7L1329.3,472.6L1318.8,486.9 Z" fill="#d5ff90" stroke="#d5ff90" stroke-width="0.8"/>
<path d="M1347.8,496.8L1358.5,482.9L1349.2,470.8L1338.5,484.7 Z" fill="#e1ff8f" stroke="#e1ff8f" stroke-width="0.8"/>
<path d="M1367.9,495.0L1378.7,481.5L1369.3,469.4L1358.5,482.9 Z" fill="#ebff8f" stroke="#ebff8f" stroke-width="0.8"/>
<path d="M1388.1,493.6L1399.1,480.5L1389.6,468.4L1378.7,481.5 Z" fill="#f4ff8c" stroke="#f4ff8c" stroke-width="0.8"/>
<path d="M1408.5,492.5L1419.6,479.8L1410.1,467.8L1399.1,480.5 Z" fill="#fcff89" stroke="#fcff89" stroke-width="0.8"/>
<path d="M1429.0,491.9L1440.2,479.5L1430.7,467.6L1419.6,479.8 Z" fill="#fef986" stroke="#fef986" stroke-width="0.8"/>
<path d="M1449.7,491.5L1461.0,479.7L1451.4,467.7L1440.2,479.5 Z" fill="#fdf182" stroke="#fdf182" stroke-width="0.8"/>
<path d="M1470.5,491.6L1481.9,480.3L1472.3,468.4L1461.0,479.7 Z" fill="#fbea7f" stroke="#fbea7f" stroke-width="0.8"/>
<path d="M1491.5,492.2L1502.8,481.3L1493.2,469.5L1481.9,480.3 Z" fill="#fae378" stroke="#fae378" stroke-width="0.8"/>
<path d="M1512.5,493.1L1523.9,482.6L1514.3,470.9L1502.8,481.3 Z" fill="#f9dd70" stroke="#f9dd70" stroke-width="0.8"/>
<path d="M1533.6,494.4L1545.0,484.2L1535.3,472.6L1523.9,482.6 Z" fill="#f7d868" stroke="#f7d868" stroke-width="0.8"/>
<path d="M1554.7,495.9L1566.1,486.2L1556.4,474.6L1545.0,484.2 Z" fill="#f6d461" stroke="#f6d461" stroke-width="0.8"/>
<path d="M1575.9,497.8L1587.3,488.5L1577.6,476.9L1566.1,486.2 Z" fill="#f4d259" stroke="#f4d259" stroke-width="0.8"/>
<path d="M1597.0,500.0L1608.5,491.1L1598.7,479.6L1587.3,488.5 Z" fill="#f3d051" stroke="#f3d051" stroke-width="0.8"/>
<path d="M1618.2,502.5L1629.6,494.0L1619.8,482.6L1608.5,491.1 Z" fill="#f2d24c" stroke="#f2d24c" stroke-width="0.8"/>
<path d="M1639.4,505.3L1650.8,497.2L1641.0,485.9L1629.6,494.0 Z" fill="#f2d647" stroke="#f2d647" stroke-width="0.8"/>
<path d="M1660.6,508.4L1671.8,500.7L1662.0,489.5L1650.8,497.2 Z" fill="#f2db42" stroke="#f2db42" stroke-width="0.8"/>
<path d="M1681.7,511.9L1692.9,504.5L1683.0,493.4L1671.8,500.7 Z" fill="#f2df3e" stroke="#f2df3e" stroke-width="0.8"/>
<path d="M1702.7,515.6L1713.8,508.6L1704.0,497.6L1692.9,504.5 Z" fill="#f2e439" stroke="#f2e439" stroke-width="0.8"/>
<path d="M1723.7,519.6L1734.7,513.1L1724.9,502.2L1713.8,508.6 Z" fill="#f2ea34" stroke="#f2ea34" stroke-width="0.8"/>
<path d="M1744.6,523.9L1755.5,517.8L1745.6,507.0L1734.7,513.1 Z" fill="#f2f22f" stroke="#f2f22f" stroke-width="0.8"/>
<path d="M1765.4,528.6L1776.1,522.8L1766.2,512.2L1755.5,517.8 Z" fill="#e9f22a" stroke="#e9f22a" stroke-width="0.8"/>
<path d="M1786.1,533.5L1796.7,528.2L1786.8,517.6L1776.1,522.8 Z" fill="#ddf026" stroke="#ddf026" stroke-width="0.8"/>
<path d="M1806.6,538.7L1817.0,533.8L1807.1,523.4L1796.7,528.2 Z" fill="#cfef21" stroke="#cfef21" stroke-width="0.8"/>
<path d="M1827.0,544.3L1837.2,539.8L1827.3,529.5L1817.0,533.8 Z" fill="#c1ed1c" stroke="#c1ed1c" stroke-width="0.8"/>
<path d="M1847.1,550.2L1857.2,546.4L1847.2,536.1L1837.2,539.8 Z" fill="#aee918" stroke="#aee918" stroke-width="0.8"/>
<path d="M1867.1,556.6L1876.9,553.3L1867.0,543.1L1857.2,546.4 Z" fill="#91e513" stroke="#91e513" stroke-width="0.8"/>
<path d="M1886.8,563.6L1896.4,560.7L1886.5,550.6L1876.9,553.3 Z" fill="#70e10e" stroke="#70e10e" stroke-width="0.8"/>
<path d="M1906.3,570.9L1915.6,568.6L1905.7,558.5L1896.4,560.7 Z" fill="#4edd0a" stroke="#4edd0a" stroke-width="0.8"/>
<path d="M1925.5,578.7L1934.5,576.9L1924.7,566.8L1915.6,568.6 Z" fill="#25c007" stroke="#25c007" stroke-width="0.8"/>
<path d="M1944.4,586.9L1953.1,585.6L1943.3,575.7L1934.5,576.9 Z" fill="#049704" stroke="#049704" stroke-width="0.8"/>
<path d="M1963.0,595.5L1971.4,594.8L1961.6,584.9L1953.1,585.6 Z" fill="#016d15" stroke="#016d15" stroke-width="0.8"/>
<path d="M1260.1,524.2L1269.9,508.2L1260.8,496.0L1251.0,512.0 Z" fill="#a4ff93" stroke="#a4ff93" stroke-width="0.8"/>
<path d="M1298.2,516.9L1308.4,501.7L1299.2,489.5L1289.0,504.7 Z" fill="#c0ff91" stroke="#c0ff91" stroke-width="0.8"/>
<path d="M1317.6,513.8L1328.0,499.1L1318.8,486.9L1308.4,501.7 Z" fill="#cdff91" stroke="#cdff91" stroke-width="0.8"/>
<path d="M1337.3,511.2L1347.8,496.8L1338.5,484.7L1328.0,499.1 Z" fill="#d9ff90" stroke="#d9ff90" stroke-width="0.8"/>
<path d="M1377.2,507.2L1388.1,493.6L1378.7,481.5L1367.9,495.0 Z" fill="#efff8f" stroke="#efff8f" stroke-width="0.8"/>
<path d="M1397.5,505.7L1408.5,492.5L1399.1,480.5L1388.1,493.6 Z" fill="#f8ff8c" stroke="#f8ff8c" stroke-width="0.8"/>
<path d="M1417.9,504.6L1429.0,491.9L1419.6,479.8L1408.5,492.5 Z" fill="#fffe89" stroke="#fffe89" stroke-width="0.8"/>
<path d="M1438.5,503.9L1449.7,491.5L1440.2,479.5L1429.0,491.9 Z" fill="#fff586" stroke="#fff586" stroke-width="0.8"/>
<path d="M1480.1,503.6L1491.5,492.2L1481.9,480.3L1470.5,491.6 Z" fill="#fce67f" stroke="#fce67f" stroke-width="0.8"/>
<path d="M1501.1,504.1L1512.5,493.1L1502.8,481.3L1491.5,492.2 Z" fill="#fadf78" stroke="#fadf78" stroke-width="0.8"/>
<path d="M1522.1,505.0L1533.6,494.4L1523.9,482.6L1512.5,493.1 Z" fill="#f9d970" stroke="#f9d970" stroke-width="0.8"/>
<path d="M1543.2,506.2L1554.7,495.9L1545.0,484.2L1533.6,494.4 Z" fill="#f7d369" stroke="#f7d369" stroke-width="0.8"/>
<path d="M1585.6,509.5L1597.0,500.0L1587.3,488.5L1575.9,497.8 Z" fill="#f4cc59" stroke="#f4cc59" stroke-width="0.8"/>
<path d="M1606.8,511.6L1618.2,502.5L1608.5,491.1L1597.0,500.0 Z" fill="#f3ca52" stroke="#f3ca52" stroke-width="0.8"/>
<path d="M1628.0,514.0L1639.4,505.3L1629.6,494.0L1618.2,502.5 Z" fill="#f2cc4c" stroke="#f2cc4c" stroke-width="0.8"/>
<path d="M1670.4,519.7L1681.7,511.9L1671.8,500.7L1660.6,508.4 Z" fill="#f2d443" stroke="#f2d443" stroke-width="0.8"/>
<path d="M1691.5,523.1L1702.7,515.6L1692.9,504.5L1681.7,511.9 Z" fill="#f2da3e" stroke="#f2da3e" stroke-width="0.8"/>
<path d="M1712.6,526.7L1723.7,519.6L1713.8,508.6L1702.7,515.6 Z" fill="#f2df39" stroke="#f2df39" stroke-width="0.8"/>
<path d="M1733.6,530.6L1744.6,523.9L1734.7,513.1L1723.7,519.6 Z" fill="#f2e634" stroke="#f2e634" stroke-width="0.8"/>
<path d="M1775.3,539.4L1786.1,533.5L1776.1,522.8L1765.4,528.6 Z" fill="#eef22b" stroke="#eef22b" stroke-width="0.8"/>
<path d="M1796.0,544.2L1806.6,538.7L1796.7,528.2L1786.1,533.5 Z" fill="#e2f026" stroke="#e2f026" stroke-width="0.8"/>
<path d="M1816.5,549.3L1827.0,544.3L1817.0,533.8L1806.6,538.7 Z" fill="#d5ef21" stroke="#d5ef21" stroke-width="0.8"/>
<path d="M1836.9,554.7L1847.1,550.2L1837.2,539.8L1827.0,544.3 Z" fill="#c7ed1d" stroke="#c7ed1d" stroke-width="0.8"/>
<path d="M1877.1,566.9L1886.8,563.6L1876.9,553.3L1867.1,556.6 Z" fill="#9be513" stroke="#9be513" stroke-width="0.8"/>
<path d="M1896.8,573.8L1906.3,570.9L1896.4,560.7L1886.8,563.6 Z" fill="#7ae10f" stroke="#7ae10f" stroke-width="0.8"/>
<path d="M1916.3,581.0L1925.5,578.7L1915.6,568.6L1906.3,570.9 Z" fill="#58dd0b" stroke="#58dd0b" stroke-width="0.8"/>
<path d="M1954.3,596.9L1963.0,595.5L1953.1,585.6L1944.4,586.9 Z" fill="#0a9a04" stroke="#0a9a04" stroke-width="0.8"/>
<path d="M1279.0,520.3L1289.0,504.7L1279.9,492.6L1269.9,508.2 Z" fill="#b2ff92" stroke="#b2ff92" stroke-width="0.8"/>
<path d="M1357.1,509.0L1367.9,495.0L1358.5,482.9L1347.8,496.8 Z" fill="#e4ff8f" stroke="#e4ff8f" stroke-width="0.8"/>
<path d="M1459.3,503.6L1470.5,491.6L1461.0,479.7L1449.7,491.5 Z" fill="#fded82" stroke="#fded82" stroke-width="0.8"/>
<path d="M1564.4,507.7L1575.9,497.8L1566.1,486.2L1554.7,495.9 Z" fill="#f6cf61" stroke="#f6cf61" stroke-width="0.8"/>
<path d="M1649.2,516.7L1660.6,508.4L1650.8,497.2L1639.4,505.3 Z" fill="#f2cf47" stroke="#f2cf47" stroke-width="0.8"/>
<path d="M1754.5,534.9L1765.4,528.6L1755.5,517.8L1744.6,523.9 Z" fill="#f2ed2f" stroke="#f2ed2f" stroke-width="0.8"/>
<path d="M1857.1,560.5L1867.1,556.6L1857.2,546.4L1847.1,550.2 Z" fill="#b4e918" stroke="#b4e918" stroke-width="0.8"/>
<path d="M1935.4,588.7L1944.4,586.9L1934.5,576.9L1925.5,578.7 Z" fill="#2ec207" stroke="#2ec207" stroke-width="0.8"/>
<path d="M1307.3,529.1L1317.6,513.8L1308.4,501.7L1298.2,516.9 Z" fill="#c4ff91" stroke="#c4ff91" stroke-width="0.8"/>
<path d="M1326.8,526.0L1337.3,511.2L1328.0,499.1L1317.6,513.8 Z" fill="#d1ff91" stroke="#d1ff91" stroke-width="0.8"/>
<path d="M1386.6,519.3L1397.5,505.7L1388.1,493.6L1377.2,507.2 Z" fill="#f2ff8f" stroke="#f2ff8f" stroke-width="0.8"/>
<path d="M1406.9,517.8L1417.9,504.6L1408.5,492.5L1397.5,505.7 Z" fill="#fcff8c" stroke="#fcff8c" stroke-width="0.8"/>
<path d="M1427.4,516.7L1438.5,503.9L1429.0,491.9L1417.9,504.6 Z" fill="#fffa89" stroke="#fffa89" stroke-width="0.8"/>
<path d="M1489.7,515.6L1501.1,504.1L1491.5,492.2L1480.1,503.6 Z" fill="#fce17f" stroke="#fce17f" stroke-width="0.8"/>
<path d="M1510.7,516.1L1522.1,505.0L1512.5,493.1L1501.1,504.1 Z" fill="#fada79" stroke="#fada79" stroke-width="0.8"/>
<path d="M1531.8,516.9L1543.2,506.2L1533.6,494.4L1522.1,505.0 Z" fill="#f9d471" stroke="#f9d471" stroke-width="0.8"/>
<path d="M1595.4,521.1L1606.8,511.6L1597.0,500.0L1585.6,509.5 Z" fill="#f4c65a" stroke="#f4c65a" stroke-width="0.8"/>
<path d="M1616.6,523.1L1628.0,514.0L1618.2,502.5L1606.8,511.6 Z" fill="#f3c452" stroke="#f3c452" stroke-width="0.8"/>
<path d="M1680.3,531.1L1691.5,523.1L1681.7,511.9L1670.4,519.7 Z" fill="#f2cd43" stroke="#f2cd43" stroke-width="0.8"/>
<path d="M1701.4,534.3L1712.6,526.7L1702.7,515.6L1691.5,523.1 Z" fill="#f2d33e" stroke="#f2d33e" stroke-width="0.8"/>
<path d="M1722.5,537.8L1733.6,530.6L1723.7,519.6L1712.6,526.7 Z" fill="#f2db39" stroke="#f2db39" stroke-width="0.8"/>
<path d="M1785.3,550.2L1796.0,544.2L1786.1,533.5L1775.3,539.4 Z" fill="#f2f02b" stroke="#f2f02b" stroke-width="0.8"/>
<path d="M1806.0,554.9L1816.5,549.3L1806.6,538.7L1796.0,544.2 Z" fill="#e8f026" stroke="#e8f026" stroke-width="0.8"/>
<path d="M1826.5,559.9L1836.9,554.7L1827.0,544.3L1816.5,549.3 Z" fill="#dbef21" stroke="#dbef21" stroke-width="0.8"/>
<path d="M1887.1,577.2L1896.8,573.8L1886.8,563.6L1877.1,566.9 Z" fill="#a5e513" stroke="#a5e513" stroke-width="0.8"/>
<path d="M1906.8,584.0L1916.3,581.0L1906.3,570.9L1896.8,573.8 Z" fill="#85e10f" stroke="#85e10f" stroke-width="0.8"/>
<path d="M1269.1,536.4L1279.0,520.3L1269.9,508.2L1260.1,524.2 Z" fill="#a7ff93" stroke="#a7ff93" stroke-width="0.8"/>
<path d="M1288.1,532.5L1298.2,516.9L1289.0,504.7L1279.0,520.3 Z" fill="#b6ff92" stroke="#b6ff92" stroke-width="0.8"/>
<path d="M1346.5,523.4L1357.1,509.0L1347.8,496.8L1337.3,511.2 Z" fill="#ddff90" stroke="#ddff90" stroke-width="0.8"/>
<path d="M1366.5,521.2L1377.2,507.2L1367.9,495.0L1357.1,509.0 Z" fill="#e8ff90" stroke="#e8ff90" stroke-width="0.8"/>
<path d="M1448.1,516.0L1459.3,503.6L1449.7,491.5L1438.5,503.9 Z" fill="#fff186" stroke="#fff186" stroke-width="0.8"/>
<path d="M1468.8,515.6L1480.1,503.6L1470.5,491.6L1459.3,503.6 Z" fill="#fde983" stroke="#fde983" stroke-width="0.8"/>
<path d="M1552.9,518.0L1564.4,507.7L1554.7,495.9L1543.2,506.2 Z" fill="#f7ce69" stroke="#f7ce69" stroke-width="0.8"/>
<path d="M1574.1,519.4L1585.6,509.5L1575.9,497.8L1564.4,507.7 Z" fill="#f6ca61" stroke="#f6ca61" stroke-width="0.8"/>
<path d="M1637.8,525.5L1649.2,516.7L1639.4,505.3L1628.0,514.0 Z" fill="#f2c54d" stroke="#f2c54d" stroke-width="0.8"/>
<path d="M1659.1,528.1L1670.4,519.7L1660.6,508.4L1649.2,516.7 Z" fill="#f2c848" stroke="#f2c848" stroke-width="0.8"/>
<path d="M1743.5,541.6L1754.5,534.9L1744.6,523.9L1733.6,530.6 Z" fill="#f2e134" stroke="#f2e134" stroke-width="0.8"/>
<path d="M1764.5,545.8L1775.3,539.4L1765.4,528.6L1754.5,534.9 Z" fill="#f2e830" stroke="#f2e830" stroke-width="0.8"/>
<path d="M1846.9,565.2L1857.1,560.5L1847.1,550.2L1836.9,554.7 Z" fill="#cded1d" stroke="#cded1d" stroke-width="0.8"/>
<path d="M1867.1,570.9L1877.1,566.9L1867.1,556.6L1857.1,560.5 Z" fill="#bbe918" stroke="#bbe918" stroke-width="0.8"/>
<path d="M1926.2,591.2L1935.4,588.7L1925.5,578.7L1916.3,581.0 Z" fill="#62dd0b" stroke="#62dd0b" stroke-width="0.8"/>
<path d="M1945.4,598.8L1954.3,596.9L1944.4,586.9L1935.4,588.7 Z" fill="#38c507" stroke="#38c507" stroke-width="0.8"/>
<path d="M1316.5,541.3L1326.8,526.0L1317.6,513.8L1307.3,529.1 Z" fill="#c7ff91" stroke="#c7ff91" stroke-width="0.8"/>
<path d="M1396.0,531.5L1406.9,517.8L1397.5,505.7L1386.6,519.3 Z" fill="#f6ff8f" stroke="#f6ff8f" stroke-width="0.8"/>
<path d="M1416.4,530.0L1427.4,516.7L1417.9,504.6L1406.9,517.8 Z" fill="#ffff8c" stroke="#ffff8c" stroke-width="0.8"/>
<path d="M1499.3,527.6L1510.7,516.1L1501.1,504.1L1489.7,515.6 Z" fill="#fcdd7f" stroke="#fcdd7f" stroke-width="0.8"/>
<path d="M1520.4,528.0L1531.8,516.9L1522.1,505.0L1510.7,516.1 Z" fill="#fad679" stroke="#fad679" stroke-width="0.8"/>
<path d="M1605.1,532.8L1616.6,523.1L1606.8,511.6L1595.4,521.1 Z" fill="#f4c05a" stroke="#f4c05a" stroke-width="0.8"/>
<path d="M1690.2,542.4L1701.4,534.3L1691.5,523.1L1680.3,531.1 Z" fill="#f2c543" stroke="#f2c543" stroke-width="0.8"/>
<path d="M1711.3,545.5L1722.5,537.8L1712.6,526.7L1701.4,534.3 Z" fill="#f2cc3e" stroke="#f2cc3e" stroke-width="0.8"/>
<path d="M1795.3,561.0L1806.0,554.9L1796.0,544.2L1785.3,550.2 Z" fill="#f2eb2b" stroke="#f2eb2b" stroke-width="0.8"/>
<path d="M1816.0,565.6L1826.5,559.9L1816.5,549.3L1806.0,554.9 Z" fill="#eef126" stroke="#eef126" stroke-width="0.8"/>
<path d="M1897.1,587.5L1906.8,584.0L1896.8,573.8L1887.1,577.2 Z" fill="#ade614" stroke="#ade614" stroke-width="0.8"/>
<path d="M1278.1,548.5L1288.1,532.5L1279.0,520.3L1269.1,536.4 Z" fill="#abff93" stroke="#abff93" stroke-width="0.8"/>
<path d="M1297.2,544.7L1307.3,529.1L1298.2,516.9L1288.1,532.5 Z" fill="#b9ff92" stroke="#b9ff92" stroke-width="0.8"/>
<path d="M1336.0,538.2L1346.5,523.4L1337.3,511.2L1326.8,526.0 Z" fill="#d4ff91" stroke="#d4ff91" stroke-width="0.8"/>
<path d="M1355.8,535.6L1366.5,521.2L1357.1,509.0L1346.5,523.4 Z" fill="#e0ff90" stroke="#e0ff90" stroke-width="0.8"/>
<path d="M1375.8,533.4L1386.6,519.3L1377.2,507.2L1366.5,521.2 Z" fill="#ecff90" stroke="#ecff90" stroke-width="0.8"/>
<path d="M1436.9,528.8L1448.1,516.0L1438.5,503.9L1427.4,516.7 Z" fill="#fff689" stroke="#fff689" stroke-width="0.8"/>
<path d="M1457.6,528.1L1468.8,515.6L1459.3,503.6L1448.1,516.0 Z" fill="#ffed86" stroke="#ffed86" stroke-width="0.8"/>
<path d="M1478.4,527.7L1489.7,515.6L1480.1,503.6L1468.8,515.6 Z" fill="#fde583" stroke="#fde583" stroke-width="0.8"/>
<path d="M1541.5,528.7L1552.9,518.0L1543.2,506.2L1531.8,516.9 Z" fill="#f9cf71" stroke="#f9cf71" stroke-width="0.8"/>
<path d="M1562.7,529.8L1574.1,519.4L1564.4,507.7L1552.9,518.0 Z" fill="#f7c969" stroke="#f7c969" stroke-width="0.8"/>
<path d="M1583.9,531.1L1595.4,521.1L1585.6,509.5L1574.1,519.4 Z" fill="#f6c462" stroke="#f6c462" stroke-width="0.8"/>
<path d="M1626.4,534.7L1637.8,525.5L1628.0,514.0L1616.6,523.1 Z" fill="#f3be53" stroke="#f3be53" stroke-width="0.8"/>
<path d="M1647.7,537.0L1659.1,528.1L1649.2,516.7L1637.8,525.5 Z" fill="#f2bf4d" stroke="#f2bf4d" stroke-width="0.8"/>
<path d="M1668.9,539.5L1680.3,531.1L1670.4,519.7L1659.1,528.1 Z" fill="#f2c148" stroke="#f2c148" stroke-width="0.8"/>
<path d="M1732.5,549.0L1743.5,541.6L1733.6,530.6L1722.5,537.8 Z" fill="#f2d43a" stroke="#f2d43a" stroke-width="0.8"/>
<path d="M1753.5,552.7L1764.5,545.8L1754.5,534.9L1743.5,541.6 Z" fill="#f2dc35" stroke="#f2dc35" stroke-width="0.8"/>
<path d="M1774.4,556.7L1785.3,550.2L1775.3,539.4L1764.5,545.8 Z" fill="#f2e330" stroke="#f2e330" stroke-width="0.8"/>
<path d="M1836.5,570.5L1846.9,565.2L1836.9,554.7L1826.5,559.9 Z" fill="#e1ef22" stroke="#e1ef22" stroke-width="0.8"/>
<path d="M1857.0,575.7L1867.1,570.9L1857.1,560.5L1846.9,565.2 Z" fill="#d3ed1d" stroke="#d3ed1d" stroke-width="0.8"/>
<path d="M1877.2,581.2L1887.1,577.2L1877.1,566.9L1867.1,570.9 Z" fill="#c1ea18" stroke="#c1ea18" stroke-width="0.8"/>
<path d="M1916.8,594.3L1926.2,591.2L1916.3,581.0L1906.8,584.0 Z" fill="#8fe20f" stroke="#8fe20f" stroke-width="0.8"/>
<path d="M1936.3,601.4L1945.4,598.8L1935.4,588.7L1926.2,591.2 Z" fill="#6cdd0b" stroke="#6cdd0b" stroke-width="0.8"/>
<path d="M1405.4,543.7L1416.4,530.0L1406.9,517.8L1396.0,531.5 Z" fill="#faff8f" stroke="#faff8f" stroke-width="0.8"/>
<path d="M1805.3,571.8L1816.0,565.6L1806.0,554.9L1795.3,561.0 Z" fill="#f2e62b" stroke="#f2e62b" stroke-width="0.8"/>
<path d="M1287.2,560.8L1297.2,544.7L1288.1,532.5L1278.1,548.5 Z" fill="#aeff93" stroke="#aeff93" stroke-width="0.8"/>
<path d="M1306.3,556.9L1316.5,541.3L1307.3,529.1L1297.2,544.7 Z" fill="#bdff92" stroke="#bdff92" stroke-width="0.8"/>
<path d="M1345.3,550.5L1355.8,535.6L1346.5,523.4L1336.0,538.2 Z" fill="#d8ff91" stroke="#d8ff91" stroke-width="0.8"/>
<path d="M1365.1,547.8L1375.8,533.4L1366.5,521.2L1355.8,535.6 Z" fill="#e4ff90" stroke="#e4ff90" stroke-width="0.8"/>
<path d="M1385.2,545.6L1396.0,531.5L1386.6,519.3L1375.8,533.4 Z" fill="#efff90" stroke="#efff90" stroke-width="0.8"/>
<path d="M1425.8,542.1L1436.9,528.8L1427.4,516.7L1416.4,530.0 Z" fill="#fffb8c" stroke="#fffb8c" stroke-width="0.8"/>
<path d="M1446.4,541.0L1457.6,528.1L1448.1,516.0L1436.9,528.8 Z" fill="#fff28a" stroke="#fff28a" stroke-width="0.8"/>
<path d="M1467.1,540.2L1478.4,527.7L1468.8,515.6L1457.6,528.1 Z" fill="#ffe987" stroke="#ffe987" stroke-width="0.8"/>
<path d="M1488.0,539.7L1499.3,527.6L1489.7,515.6L1478.4,527.7 Z" fill="#fde083" stroke="#fde083" stroke-width="0.8"/>
<path d="M1509.0,539.6L1520.4,528.0L1510.7,516.1L1499.3,527.6 Z" fill="#fcd97f" stroke="#fcd97f" stroke-width="0.8"/>
<path d="M1530.0,540.0L1541.5,528.7L1531.8,516.9L1520.4,528.0 Z" fill="#fad27a" stroke="#fad27a" stroke-width="0.8"/>
<path d="M1551.2,540.6L1562.7,529.8L1552.9,518.0L1541.5,528.7 Z" fill="#f9ca72" stroke="#f9ca72" stroke-width="0.8"/>
<path d="M1572.4,541.6L1583.9,531.1L1574.1,519.4L1562.7,529.8 Z" fill="#f7c46a" stroke="#f7c46a" stroke-width="0.8"/>
<path d="M1593.7,542.9L1605.1,532.8L1595.4,521.1L1583.9,531.1 Z" fill="#f6bf62" stroke="#f6bf62" stroke-width="0.8"/>
<path d="M1614.9,544.5L1626.4,534.7L1616.6,523.1L1605.1,532.8 Z" fill="#f4bb5a" stroke="#f4bb5a" stroke-width="0.8"/>
<path d="M1636.2,546.3L1647.7,537.0L1637.8,525.5L1626.4,534.7 Z" fill="#f3b853" stroke="#f3b853" stroke-width="0.8"/>
<path d="M1657.5,548.5L1668.9,539.5L1659.1,528.1L1647.7,537.0 Z" fill="#f2b84d" stroke="#f2b84d" stroke-width="0.8"/>
<path d="M1678.8,551.0L1690.2,542.4L1680.3,531.1L1668.9,539.5 Z" fill="#f2ba48" stroke="#f2ba48" stroke-width="0.8"/>
<path d="M1700.1,553.7L1711.3,545.5L1701.4,534.3L1690.2,542.4 Z" fill="#f2be43" stroke="#f2be43" stroke-width="0.8"/>
<path d="M1721.3,556.8L1732.5,549.0L1722.5,537.8L1711.3,545.5 Z" fill="#f2c43f" stroke="#f2c43f" stroke-width="0.8"/>
<path d="M1742.4,560.1L1753.5,552.7L1743.5,541.6L1732.5,549.0 Z" fill="#f2cc3a" stroke="#f2cc3a" stroke-width="0.8"/>
<path d="M1763.5,563.7L1774.4,556.7L1764.5,545.8L1753.5,552.7 Z" fill="#f2d535" stroke="#f2d535" stroke-width="0.8"/>
<path d="M1784.4,567.6L1795.3,561.0L1785.3,550.2L1774.4,556.7 Z" fill="#f2de30" stroke="#f2de30" stroke-width="0.8"/>
<path d="M1826.0,576.3L1836.5,570.5L1826.5,559.9L1816.0,565.6 Z" fill="#f1ee27" stroke="#f1ee27" stroke-width="0.8"/>
<path d="M1846.6,581.1L1857.0,575.7L1846.9,565.2L1836.5,570.5 Z" fill="#e7ef22" stroke="#e7ef22" stroke-width="0.8"/>
<path d="M1867.0,586.2L1877.2,581.2L1867.1,570.9L1857.0,575.7 Z" fill="#d9ee1e" stroke="#d9ee1e" stroke-width="0.8"/>
<path d="M1907.2,597.9L1916.8,594.3L1906.8,584.0L1897.1,587.5 Z" fill="#b3e614" stroke="#b3e614" stroke-width="0.8"/>
<path d="M1926.9,604.5L1936.3,601.4L1926.2,591.2L1916.8,594.3 Z" fill="#99e210" stroke="#99e210" stroke-width="0.8"/>
<path d="M1325.7,553.5L1336.0,538.2L1326.8,526.0L1316.5,541.3 Z" fill="#cbff91" stroke="#cbff91" stroke-width="0.8"/>
<path d="M1887.2,591.6L1897.1,587.5L1887.1,577.2L1877.2,581.2 Z" fill="#c7ea19" stroke="#c7ea19" stroke-width="0.8"/>
<path d="M1296.3,573.0L1306.3,556.9L1297.2,544.7L1287.2,560.8 Z" fill="#b2ff93" stroke="#b2ff93" stroke-width="0.8"/>
<path d="M1354.6,562.7L1365.1,547.8L1355.8,535.6L1345.3,550.5 Z" fill="#dcff91" stroke="#dcff91" stroke-width="0.8"/>
<path d="M1374.5,560.1L1385.2,545.6L1375.8,533.4L1365.1,547.8 Z" fill="#e8ff90" stroke="#e8ff90" stroke-width="0.8"/>
<path d="M1394.6,557.8L1405.4,543.7L1396.0,531.5L1385.2,545.6 Z" fill="#f3ff90" stroke="#f3ff90" stroke-width="0.8"/>
<path d="M1435.3,554.3L1446.4,541.0L1436.9,528.8L1425.8,542.1 Z" fill="#fff78d" stroke="#fff78d" stroke-width="0.8"/>
<path d="M1455.9,553.1L1467.1,540.2L1457.6,528.1L1446.4,541.0 Z" fill="#ffee8a" stroke="#ffee8a" stroke-width="0.8"/>
<path d="M1476.7,552.3L1488.0,539.7L1478.4,527.7L1467.1,540.2 Z" fill="#ffe587" stroke="#ffe587" stroke-width="0.8"/>
<path d="M1539.7,552.0L1551.2,540.6L1541.5,528.7L1530.0,540.0 Z" fill="#facd7a" stroke="#facd7a" stroke-width="0.8"/>
<path d="M1560.9,552.6L1572.4,541.6L1562.7,529.8L1551.2,540.6 Z" fill="#f9c672" stroke="#f9c672" stroke-width="0.8"/>
<path d="M1582.2,553.5L1593.7,542.9L1583.9,531.1L1572.4,541.6 Z" fill="#f7bf6a" stroke="#f7bf6a" stroke-width="0.8"/>
<path d="M1624.8,556.2L1636.2,546.3L1626.4,534.7L1614.9,544.5 Z" fill="#f4b55b" stroke="#f4b55b" stroke-width="0.8"/>
<path d="M1646.1,557.9L1657.5,548.5L1647.7,537.0L1636.2,546.3 Z" fill="#f3b253" stroke="#f3b253" stroke-width="0.8"/>
<path d="M1667.4,560.0L1678.8,551.0L1668.9,539.5L1657.5,548.5 Z" fill="#f2b14d" stroke="#f2b14d" stroke-width="0.8"/>
<path d="M1731.3,568.0L1742.4,560.1L1732.5,549.0L1721.3,556.8 Z" fill="#f2bc3f" stroke="#f2bc3f" stroke-width="0.8"/>
<path d="M1752.4,571.3L1763.5,563.7L1753.5,552.7L1742.4,560.1 Z" fill="#f2c43a" stroke="#f2c43a" stroke-width="0.8"/>
<path d="M1773.5,574.8L1784.4,567.6L1774.4,556.7L1763.5,563.7 Z" fill="#f2cd35" stroke="#f2cd35" stroke-width="0.8"/>
<path d="M1815.3,582.7L1826.0,576.3L1816.0,565.6L1805.3,571.8 Z" fill="#f2e02c" stroke="#f2e02c" stroke-width="0.8"/>
<path d="M1836.1,587.1L1846.6,581.1L1836.5,570.5L1826.0,576.3 Z" fill="#f1e827" stroke="#f1e827" stroke-width="0.8"/>
<path d="M1856.7,591.7L1867.0,586.2L1857.0,575.7L1846.6,581.1 Z" fill="#edef22" stroke="#edef22" stroke-width="0.8"/>
<path d="M1917.3,608.2L1926.9,604.5L1916.8,594.3L1907.2,597.9 Z" fill="#bae614" stroke="#bae614" stroke-width="0.8"/>
<path d="M1315.5,569.2L1325.7,553.5L1316.5,541.3L1306.3,556.9 Z" fill="#c1ff92" stroke="#c1ff92" stroke-width="0.8"/>
<path d="M1334.9,565.7L1345.3,550.5L1336.0,538.2L1325.7,553.5 Z" fill="#cfff92" stroke="#cfff92" stroke-width="0.8"/>
<path d="M1414.8,555.9L1425.8,542.1L1416.4,530.0L1405.4,543.7 Z" fill="#feff8f" stroke="#feff8f" stroke-width="0.8"/>
<path d="M1497.6,551.8L1509.0,539.6L1499.3,527.6L1488.0,539.7 Z" fill="#fddc83" stroke="#fddc83" stroke-width="0.8"/>
<path d="M1518.6,551.7L1530.0,540.0L1520.4,528.0L1509.0,539.6 Z" fill="#fcd57f" stroke="#fcd57f" stroke-width="0.8"/>
<path d="M1603.5,554.7L1614.9,544.5L1605.1,532.8L1593.7,542.9 Z" fill="#f6b962" stroke="#f6b962" stroke-width="0.8"/>
<path d="M1688.7,562.4L1700.1,553.7L1690.2,542.4L1678.8,551.0 Z" fill="#f2b349" stroke="#f2b349" stroke-width="0.8"/>
<path d="M1710.0,565.1L1721.3,556.8L1711.3,545.5L1700.1,553.7 Z" fill="#f2b744" stroke="#f2b744" stroke-width="0.8"/>
<path d="M1794.5,578.6L1805.3,571.8L1795.3,561.0L1784.4,567.6 Z" fill="#f2d831" stroke="#f2d831" stroke-width="0.8"/>
<path d="M1877.1,596.7L1887.2,591.6L1877.2,581.2L1867.0,586.2 Z" fill="#dfee1e" stroke="#dfee1e" stroke-width="0.8"/>
<path d="M1897.4,602.1L1907.2,597.9L1897.1,587.5L1887.2,591.6 Z" fill="#ceea19" stroke="#ceea19" stroke-width="0.8"/>
<path d="M1363.8,575.0L1374.5,560.1L1365.1,547.8L1354.6,562.7 Z" fill="#dfff91" stroke="#dfff91" stroke-width="0.8"/>
<path d="M1383.8,572.3L1394.6,557.8L1385.2,545.6L1374.5,560.1 Z" fill="#ecff90" stroke="#ecff90" stroke-width="0.8"/>
<path d="M1444.8,566.5L1455.9,553.1L1446.4,541.0L1435.3,554.3 Z" fill="#fff38d" stroke="#fff38d" stroke-width="0.8"/>
<path d="M1465.5,565.3L1476.7,552.3L1467.1,540.2L1455.9,553.1 Z" fill="#ffea8a" stroke="#ffea8a" stroke-width="0.8"/>
<path d="M1549.5,563.9L1560.9,552.6L1551.2,540.6L1539.7,552.0 Z" fill="#fac97a" stroke="#fac97a" stroke-width="0.8"/>
<path d="M1570.7,564.5L1582.2,553.5L1572.4,541.6L1560.9,552.6 Z" fill="#f9c172" stroke="#f9c172" stroke-width="0.8"/>
<path d="M1634.6,567.9L1646.1,557.9L1636.2,546.3L1624.8,556.2 Z" fill="#f4af5b" stroke="#f4af5b" stroke-width="0.8"/>
<path d="M1656.0,569.6L1667.4,560.0L1657.5,548.5L1646.1,557.9 Z" fill="#f3ac54" stroke="#f3ac54" stroke-width="0.8"/>
<path d="M1741.2,579.3L1752.4,571.3L1742.4,560.1L1731.3,568.0 Z" fill="#f2b53f" stroke="#f2b53f" stroke-width="0.8"/>
<path d="M1762.4,582.4L1773.5,574.8L1763.5,563.7L1752.4,571.3 Z" fill="#f2bc3a" stroke="#f2bc3a" stroke-width="0.8"/>
<path d="M1825.4,593.6L1836.1,587.1L1826.0,576.3L1815.3,582.7 Z" fill="#f2db2c" stroke="#f2db2c" stroke-width="0.8"/>
<path d="M1846.2,597.8L1856.7,591.7L1846.6,581.1L1836.1,587.1 Z" fill="#f1e327" stroke="#f1e327" stroke-width="0.8"/>
<path d="M1305.4,585.3L1315.5,569.2L1306.3,556.9L1296.3,573.0 Z" fill="#b5ff93" stroke="#b5ff93" stroke-width="0.8"/>
<path d="M1324.6,581.4L1334.9,565.7L1325.7,553.5L1315.5,569.2 Z" fill="#c4ff92" stroke="#c4ff92" stroke-width="0.8"/>
<path d="M1344.1,578.0L1354.6,562.7L1345.3,550.5L1334.9,565.7 Z" fill="#d2ff92" stroke="#d2ff92" stroke-width="0.8"/>
<path d="M1404.0,570.0L1414.8,555.9L1405.4,543.7L1394.6,557.8 Z" fill="#f7ff90" stroke="#f7ff90" stroke-width="0.8"/>
<path d="M1424.3,568.1L1435.3,554.3L1425.8,542.1L1414.8,555.9 Z" fill="#fffd8f" stroke="#fffd8f" stroke-width="0.8"/>
<path d="M1486.3,564.4L1497.6,551.8L1488.0,539.7L1476.7,552.3 Z" fill="#ffe187" stroke="#ffe187" stroke-width="0.8"/>
<path d="M1507.3,563.9L1518.6,551.7L1509.0,539.6L1497.6,551.8 Z" fill="#fdd883" stroke="#fdd883" stroke-width="0.8"/>
<path d="M1528.3,563.7L1539.7,552.0L1530.0,540.0L1518.6,551.7 Z" fill="#fcd080" stroke="#fcd080" stroke-width="0.8"/>
<path d="M1592.0,565.3L1603.5,554.7L1593.7,542.9L1582.2,553.5 Z" fill="#f7ba6b" stroke="#f7ba6b" stroke-width="0.8"/>
<path d="M1613.3,566.4L1624.8,556.2L1614.9,544.5L1603.5,554.7 Z" fill="#f6b463" stroke="#f6b463" stroke-width="0.8"/>
<path d="M1677.4,571.6L1688.7,562.4L1678.8,551.0L1667.4,560.0 Z" fill="#f2ab4e" stroke="#f2ab4e" stroke-width="0.8"/>
<path d="M1698.7,573.9L1710.0,565.1L1700.1,553.7L1688.7,562.4 Z" fill="#f2ac49" stroke="#f2ac49" stroke-width="0.8"/>
<path d="M1720.0,576.4L1731.3,568.0L1721.3,556.8L1710.0,565.1 Z" fill="#f2b044" stroke="#f2b044" stroke-width="0.8"/>
<path d="M1783.5,585.9L1794.5,578.6L1784.4,567.6L1773.5,574.8 Z" fill="#f2c536" stroke="#f2c536" stroke-width="0.8"/>
<path d="M1804.5,589.6L1815.3,582.7L1805.3,571.8L1794.5,578.6 Z" fill="#f2d031" stroke="#f2d031" stroke-width="0.8"/>
<path d="M1866.8,602.4L1877.1,596.7L1867.0,586.2L1856.7,591.7 Z" fill="#efec23" stroke="#efec23" stroke-width="0.8"/>
<path d="M1887.2,607.2L1897.4,602.1L1887.2,591.6L1877.1,596.7 Z" fill="#e6ee1e" stroke="#e6ee1e" stroke-width="0.8"/>
<path d="M1907.5,612.5L1917.3,608.2L1907.2,597.9L1897.4,602.1 Z" fill="#d4eb19" stroke="#d4eb19" stroke-width="0.8"/>
<path d="M1373.2,587.3L1383.8,572.3L1374.5,560.1L1363.8,575.0 Z" fill="#e3ff91" stroke="#e3ff91" stroke-width="0.8"/>
<path d="M1454.3,578.8L1465.5,565.3L1455.9,553.1L1444.8,566.5 Z" fill="#ffef8d" stroke="#ffef8d" stroke-width="0.8"/>
<path d="M1559.2,576.0L1570.7,564.5L1560.9,552.6L1549.5,563.9 Z" fill="#fac47b" stroke="#fac47b" stroke-width="0.8"/>
<path d="M1644.5,579.6L1656.0,569.6L1646.1,557.9L1634.6,567.9 Z" fill="#f5a95c" stroke="#f5a95c" stroke-width="0.8"/>
<path d="M1751.3,590.6L1762.4,582.4L1752.4,571.3L1741.2,579.3 Z" fill="#f2ad40" stroke="#f2ad40" stroke-width="0.8"/>
<path d="M1835.5,604.5L1846.2,597.8L1836.1,587.1L1825.4,593.6 Z" fill="#f2d42c" stroke="#f2d42c" stroke-width="0.8"/>
<path d="M1314.5,597.5L1324.6,581.4L1315.5,569.2L1305.4,585.3 Z" fill="#b9ff93" stroke="#b9ff93" stroke-width="0.8"/>
<path d="M1333.8,593.7L1344.1,578.0L1334.9,565.7L1324.6,581.4 Z" fill="#c8ff92" stroke="#c8ff92" stroke-width="0.8"/>
<path d="M1353.4,590.3L1363.8,575.0L1354.6,562.7L1344.1,578.0 Z" fill="#d6ff92" stroke="#d6ff92" stroke-width="0.8"/>
<path d="M1393.2,584.6L1404.0,570.0L1394.6,557.8L1383.8,572.3 Z" fill="#efff90" stroke="#efff90" stroke-width="0.8"/>
<path d="M1413.4,582.3L1424.3,568.1L1414.8,555.9L1404.0,570.0 Z" fill="#fbff90" stroke="#fbff90" stroke-width="0.8"/>
<path d="M1433.8,580.4L1444.8,566.5L1435.3,554.3L1424.3,568.1 Z" fill="#fff98f" stroke="#fff98f" stroke-width="0.8"/>
<path d="M1475.1,577.5L1486.3,564.4L1476.7,552.3L1465.5,565.3 Z" fill="#ffe68a" stroke="#ffe68a" stroke-width="0.8"/>
<path d="M1495.9,576.6L1507.3,563.9L1497.6,551.8L1486.3,564.4 Z" fill="#ffdd87" stroke="#ffdd87" stroke-width="0.8"/>
<path d="M1516.9,576.0L1528.3,563.7L1518.6,551.7L1507.3,563.9 Z" fill="#fdd483" stroke="#fdd483" stroke-width="0.8"/>
<path d="M1538.0,575.8L1549.5,563.9L1539.7,552.0L1528.3,563.7 Z" fill="#fccc80" stroke="#fccc80" stroke-width="0.8"/>
<path d="M1580.5,576.4L1592.0,565.3L1582.2,553.5L1570.7,564.5 Z" fill="#f9bc73" stroke="#f9bc73" stroke-width="0.8"/>
<path d="M1601.8,577.2L1613.3,566.4L1603.5,554.7L1592.0,565.3 Z" fill="#f8b56b" stroke="#f8b56b" stroke-width="0.8"/>
<path d="M1623.1,578.2L1634.6,567.9L1624.8,556.2L1613.3,566.4 Z" fill="#f6ae63" stroke="#f6ae63" stroke-width="0.8"/>
<path d="M1665.9,581.2L1677.4,571.6L1667.4,560.0L1656.0,569.6 Z" fill="#f3a654" stroke="#f3a654" stroke-width="0.8"/>
<path d="M1687.3,583.1L1698.7,573.9L1688.7,562.4L1677.4,571.6 Z" fill="#f2a44e" stroke="#f2a44e" stroke-width="0.8"/>
<path d="M1708.7,585.3L1720.0,576.4L1710.0,565.1L1698.7,573.9 Z" fill="#f2a649" stroke="#f2a649" stroke-width="0.8"/>
<path d="M1730.0,587.8L1741.2,579.3L1731.3,568.0L1720.0,576.4 Z" fill="#f2a844" stroke="#f2a844" stroke-width="0.8"/>
<path d="M1772.5,593.6L1783.5,585.9L1773.5,574.8L1762.4,582.4 Z" fill="#f2b43b" stroke="#f2b43b" stroke-width="0.8"/>
<path d="M1793.6,597.0L1804.5,589.6L1794.5,578.6L1783.5,585.9 Z" fill="#f2bc36" stroke="#f2bc36" stroke-width="0.8"/>
<path d="M1814.6,600.6L1825.4,593.6L1815.3,582.7L1804.5,589.6 Z" fill="#f2c731" stroke="#f2c731" stroke-width="0.8"/>
<path d="M1856.3,608.6L1866.8,602.4L1856.7,591.7L1846.2,597.8 Z" fill="#f1dd28" stroke="#f1dd28" stroke-width="0.8"/>
<path d="M1876.9,613.1L1887.2,607.2L1877.1,596.7L1866.8,602.4 Z" fill="#efe623" stroke="#efe623" stroke-width="0.8"/>
<path d="M1897.4,617.8L1907.5,612.5L1897.4,602.1L1887.2,607.2 Z" fill="#ecee1e" stroke="#ecee1e" stroke-width="0.8"/>
<path d="M1323.7,609.8L1333.8,593.7L1324.6,581.4L1314.5,597.5 Z" fill="#bcff93" stroke="#bcff93" stroke-width="0.8"/>
<path d="M1343.0,606.0L1353.4,590.3L1344.1,578.0L1333.8,593.7 Z" fill="#cbff92" stroke="#cbff92" stroke-width="0.8"/>
<path d="M1362.6,602.6L1373.2,587.3L1363.8,575.0L1353.4,590.3 Z" fill="#d9ff92" stroke="#d9ff92" stroke-width="0.8"/>
<path d="M1382.5,599.6L1393.2,584.6L1383.8,572.3L1373.2,587.3 Z" fill="#e7ff91" stroke="#e7ff91" stroke-width="0.8"/>
<path d="M1402.5,596.9L1413.4,582.3L1404.0,570.0L1393.2,584.6 Z" fill="#f3ff90" stroke="#f3ff90" stroke-width="0.8"/>
<path d="M1422.8,594.6L1433.8,580.4L1424.3,568.1L1413.4,582.3 Z" fill="#feff90" stroke="#feff90" stroke-width="0.8"/>
<path d="M1443.3,592.6L1454.3,578.8L1444.8,566.5L1433.8,580.4 Z" fill="#fff58f" stroke="#fff58f" stroke-width="0.8"/>
<path d="M1463.9,591.0L1475.1,577.5L1465.5,565.3L1454.3,578.8 Z" fill="#ffeb8d" stroke="#ffeb8d" stroke-width="0.8"/>
<path d="M1484.6,589.7L1495.9,576.6L1486.3,564.4L1475.1,577.5 Z" fill="#ffe28a" stroke="#ffe28a" stroke-width="0.8"/>
<path d="M1505.6,588.8L1516.9,576.0L1507.3,563.9L1495.9,576.6 Z" fill="#ffd987" stroke="#ffd987" stroke-width="0.8"/>
<path d="M1526.6,588.2L1538.0,575.8L1528.3,563.7L1516.9,576.0 Z" fill="#fed084" stroke="#fed084" stroke-width="0.8"/>
<path d="M1547.7,587.9L1559.2,576.0L1549.5,563.9L1538.0,575.8 Z" fill="#fcc780" stroke="#fcc780" stroke-width="0.8"/>
<path d="M1569.0,588.0L1580.5,576.4L1570.7,564.5L1559.2,576.0 Z" fill="#fbc07b" stroke="#fbc07b" stroke-width="0.8"/>
<path d="M1590.2,588.4L1601.8,577.2L1592.0,565.3L1580.5,576.4 Z" fill="#f9b773" stroke="#f9b773" stroke-width="0.8"/>
<path d="M1611.6,589.1L1623.1,578.2L1613.3,566.4L1601.8,577.2 Z" fill="#f8b06b" stroke="#f8b06b" stroke-width="0.8"/>
<path d="M1633.0,590.1L1644.5,579.6L1634.6,567.9L1623.1,578.2 Z" fill="#f6a964" stroke="#f6a964" stroke-width="0.8"/>
<path d="M1654.4,591.3L1665.9,581.2L1656.0,569.6L1644.5,579.6 Z" fill="#f5a45c" stroke="#f5a45c" stroke-width="0.8"/>
<path d="M1675.8,592.9L1687.3,583.1L1677.4,571.6L1665.9,581.2 Z" fill="#f3a055" stroke="#f3a055" stroke-width="0.8"/>
<path d="M1697.3,594.7L1708.7,585.3L1698.7,573.9L1687.3,583.1 Z" fill="#f29e4e" stroke="#f29e4e" stroke-width="0.8"/>
<path d="M1718.6,596.8L1730.0,587.8L1720.0,576.4L1708.7,585.3 Z" fill="#f29f49" stroke="#f29f49" stroke-width="0.8"/>
<path d="M1740.0,599.2L1751.3,590.6L1741.2,579.3L1730.0,587.8 Z" fill="#f2a145" stroke="#f2a145" stroke-width="0.8"/>
<path d="M1761.3,601.9L1772.5,593.6L1762.4,582.4L1751.3,590.6 Z" fill="#f2a640" stroke="#f2a640" stroke-width="0.8"/>
<path d="M1782.5,604.9L1793.6,597.0L1783.5,585.9L1772.5,593.6 Z" fill="#f2ac3b" stroke="#f2ac3b" stroke-width="0.8"/>
<path d="M1803.7,608.1L1814.6,600.6L1804.5,589.6L1793.6,597.0 Z" fill="#f2b436" stroke="#f2b436" stroke-width="0.8"/>
<path d="M1824.7,611.6L1835.5,604.5L1825.4,593.6L1814.6,600.6 Z" fill="#f2be31" stroke="#f2be31" stroke-width="0.8"/>
<path d="M1845.7,615.4L1856.3,608.6L1846.2,597.8L1835.5,604.5 Z" fill="#f2cb2d" stroke="#f2cb2d" stroke-width="0.8"/>
<path d="M1866.5,619.4L1876.9,613.1L1866.8,602.4L1856.3,608.6 Z" fill="#f1d728" stroke="#f1d728" stroke-width="0.8"/>
<path d="M1887.1,623.7L1897.4,617.8L1887.2,607.2L1876.9,613.1 Z" fill="#f0e023" stroke="#f0e023" stroke-width="0.8"/>
<path d="M1332.8,622.2L1343.0,606.0L1333.8,593.7L1323.7,609.8 Z" fill="#c0ff93" stroke="#c0ff93" stroke-width="0.8"/>
<path d="M1352.2,618.4L1362.6,602.6L1353.4,590.3L1343.0,606.0 Z" fill="#cfff92" stroke="#cfff92" stroke-width="0.8"/>
<path d="M1371.9,615.0L1382.5,599.6L1373.2,587.3L1362.6,602.6 Z" fill="#ddff92" stroke="#ddff92" stroke-width="0.8"/>
<path d="M1391.8,611.9L1402.5,596.9L1393.2,584.6L1382.5,599.6 Z" fill="#eaff91" stroke="#eaff91" stroke-width="0.8"/>
<path d="M1411.9,609.2L1422.8,594.6L1413.4,582.3L1402.5,596.9 Z" fill="#f7ff90" stroke="#f7ff90" stroke-width="0.8"/>
<path d="M1432.3,606.9L1443.3,592.6L1433.8,580.4L1422.8,594.6 Z" fill="#fffc90" stroke="#fffc90" stroke-width="0.8"/>
<path d="M1452.8,604.9L1463.9,591.0L1454.3,578.8L1443.3,592.6 Z" fill="#fff18f" stroke="#fff18f" stroke-width="0.8"/>
<path d="M1473.4,603.3L1484.6,589.7L1475.1,577.5L1463.9,591.0 Z" fill="#ffe78d" stroke="#ffe78d" stroke-width="0.8"/>
<path d="M1494.3,601.9L1505.6,588.8L1495.9,576.6L1484.6,589.7 Z" fill="#ffde8a" stroke="#ffde8a" stroke-width="0.8"/>
<path d="M1515.2,601.0L1526.6,588.2L1516.9,576.0L1505.6,588.8 Z" fill="#ffd587" stroke="#ffd587" stroke-width="0.8"/>
<path d="M1536.3,600.3L1547.7,587.9L1538.0,575.8L1526.6,588.2 Z" fill="#fecb84" stroke="#fecb84" stroke-width="0.8"/>
<path d="M1557.5,600.0L1569.0,588.0L1559.2,576.0L1547.7,587.9 Z" fill="#fcc380" stroke="#fcc380" stroke-width="0.8"/>
<path d="M1578.7,600.0L1590.2,588.4L1580.5,576.4L1569.0,588.0 Z" fill="#fbbb7c" stroke="#fbbb7c" stroke-width="0.8"/>
<path d="M1600.1,600.4L1611.6,589.1L1601.8,577.2L1590.2,588.4 Z" fill="#f9b274" stroke="#f9b274" stroke-width="0.8"/>
<path d="M1621.5,601.0L1633.0,590.1L1623.1,578.2L1611.6,589.1 Z" fill="#f8ab6c" stroke="#f8ab6c" stroke-width="0.8"/>
<path d="M1642.9,601.9L1654.4,591.3L1644.5,579.6L1633.0,590.1 Z" fill="#f6a464" stroke="#f6a464" stroke-width="0.8"/>
<path d="M1664.3,603.1L1675.8,592.9L1665.9,581.2L1654.4,591.3 Z" fill="#f59e5d" stroke="#f59e5d" stroke-width="0.8"/>
<path d="M1685.8,604.6L1697.3,594.7L1687.3,583.1L1675.8,592.9 Z" fill="#f39955" stroke="#f39955" stroke-width="0.8"/>
<path d="M1707.2,606.3L1718.6,596.8L1708.7,585.3L1697.3,594.7 Z" fill="#f2974e" stroke="#f2974e" stroke-width="0.8"/>
<path d="M1728.7,608.3L1740.0,599.2L1730.0,587.8L1718.6,596.8 Z" fill="#f2984a" stroke="#f2984a" stroke-width="0.8"/>
<path d="M1750.0,610.7L1761.3,601.9L1751.3,590.6L1740.0,599.2 Z" fill="#f29a45" stroke="#f29a45" stroke-width="0.8"/>
<path d="M1771.4,613.2L1782.5,604.9L1772.5,593.6L1761.3,601.9 Z" fill="#f29e40" stroke="#f29e40" stroke-width="0.8"/>
<path d="M1792.6,616.1L1803.7,608.1L1793.6,597.0L1782.5,604.9 Z" fill="#f2a43b" stroke="#f2a43b" stroke-width="0.8"/>
<path d="M1813.8,619.2L1824.7,611.6L1814.6,600.6L1803.7,608.1 Z" fill="#f2ac37" stroke="#f2ac37" stroke-width="0.8"/>
<path d="M1834.9,622.6L1845.7,615.4L1835.5,604.5L1824.7,611.6 Z" fill="#f2b532" stroke="#f2b532" stroke-width="0.8"/>
<path d="M1855.8,626.3L1866.5,619.4L1856.3,608.6L1845.7,615.4 Z" fill="#f2c12d" stroke="#f2c12d" stroke-width="0.8"/>
<path d="M1876.7,630.2L1887.1,623.7L1876.9,613.1L1866.5,619.4 Z" fill="#f1cf28" stroke="#f1cf28" stroke-width="0.8"/>
<path d="M1342.0,634.5L1352.2,618.4L1343.0,606.0L1332.8,622.2 Z" fill="#c4ff93" stroke="#c4ff93" stroke-width="0.8"/>
<path d="M1381.2,627.3L1391.8,611.9L1382.5,599.6L1371.9,615.0 Z" fill="#e1ff92" stroke="#e1ff92" stroke-width="0.8"/>
<path d="M1401.2,624.3L1411.9,609.2L1402.5,596.9L1391.8,611.9 Z" fill="#eeff91" stroke="#eeff91" stroke-width="0.8"/>
<path d="M1421.4,621.6L1432.3,606.9L1422.8,594.6L1411.9,609.2 Z" fill="#faff90" stroke="#faff90" stroke-width="0.8"/>
<path d="M1441.7,619.2L1452.8,604.9L1443.3,592.6L1432.3,606.9 Z" fill="#fff890" stroke="#fff890" stroke-width="0.8"/>
<path d="M1462.3,617.2L1473.4,603.3L1463.9,591.0L1452.8,604.9 Z" fill="#ffed8f" stroke="#ffed8f" stroke-width="0.8"/>
<path d="M1483.0,615.5L1494.3,601.9L1484.6,589.7L1473.4,603.3 Z" fill="#ffe38d" stroke="#ffe38d" stroke-width="0.8"/>
<path d="M1503.9,614.2L1515.2,601.0L1505.6,588.8L1494.3,601.9 Z" fill="#ffda8a" stroke="#ffda8a" stroke-width="0.8"/>
<path d="M1524.9,613.2L1536.3,600.3L1526.6,588.2L1515.2,601.0 Z" fill="#ffd188" stroke="#ffd188" stroke-width="0.8"/>
<path d="M1567.2,612.1L1578.7,600.0L1569.0,588.0L1557.5,600.0 Z" fill="#fcbf80" stroke="#fcbf80" stroke-width="0.8"/>
<path d="M1588.5,612.1L1600.1,600.4L1590.2,588.4L1578.7,600.0 Z" fill="#fbb77c" stroke="#fbb77c" stroke-width="0.8"/>
<path d="M1609.9,612.4L1621.5,601.0L1611.6,589.1L1600.1,600.4 Z" fill="#f9ae74" stroke="#f9ae74" stroke-width="0.8"/>
<path d="M1631.3,612.9L1642.9,601.9L1633.0,590.1L1621.5,601.0 Z" fill="#f8a56c" stroke="#f8a56c" stroke-width="0.8"/>
<path d="M1674.3,614.9L1685.8,604.6L1675.8,592.9L1664.3,603.1 Z" fill="#f5985d" stroke="#f5985d" stroke-width="0.8"/>
<path d="M1695.8,616.3L1707.2,606.3L1697.3,594.7L1685.8,604.6 Z" fill="#f39356" stroke="#f39356" stroke-width="0.8"/>
<path d="M1717.3,617.9L1728.7,608.3L1718.6,596.8L1707.2,606.3 Z" fill="#f2904f" stroke="#f2904f" stroke-width="0.8"/>
<path d="M1738.7,619.9L1750.0,610.7L1740.0,599.2L1728.7,608.3 Z" fill="#f2914a" stroke="#f2914a" stroke-width="0.8"/>
<path d="M1760.1,622.1L1771.4,613.2L1761.3,601.9L1750.0,610.7 Z" fill="#f29345" stroke="#f29345" stroke-width="0.8"/>
<path d="M1781.5,624.6L1792.6,616.1L1782.5,604.9L1771.4,613.2 Z" fill="#f29640" stroke="#f29640" stroke-width="0.8"/>
<path d="M1802.8,627.3L1813.8,619.2L1803.7,608.1L1792.6,616.1 Z" fill="#f29c3c" stroke="#f29c3c" stroke-width="0.8"/>
<path d="M1824.0,630.4L1834.9,622.6L1824.7,611.6L1813.8,619.2 Z" fill="#f2a337" stroke="#f2a337" stroke-width="0.8"/>
<path d="M1866.0,637.2L1876.7,630.2L1866.5,619.4L1855.8,626.3 Z" fill="#f2b82d" stroke="#f2b82d" stroke-width="0.8"/>
<path d="M1361.5,630.7L1371.9,615.0L1362.6,602.6L1352.2,618.4 Z" fill="#d3ff92" stroke="#d3ff92" stroke-width="0.8"/>
<path d="M1546.0,612.5L1557.5,600.0L1547.7,587.9L1536.3,600.3 Z" fill="#fec784" stroke="#fec784" stroke-width="0.8"/>
<path d="M1652.8,613.8L1664.3,603.1L1654.4,591.3L1642.9,601.9 Z" fill="#f69e65" stroke="#f69e65" stroke-width="0.8"/>
<path d="M1845.1,633.7L1855.8,626.3L1845.7,615.4L1834.9,622.6 Z" fill="#f2ad32" stroke="#f2ad32" stroke-width="0.8"/>
<path d="M1390.5,639.7L1401.2,624.3L1391.8,611.9L1381.2,627.3 Z" fill="#e4ff92" stroke="#e4ff92" stroke-width="0.8"/>
<path d="M1410.6,636.6L1421.4,621.6L1411.9,609.2L1401.2,624.3 Z" fill="#f2ff91" stroke="#f2ff91" stroke-width="0.8"/>
<path d="M1430.8,633.9L1441.7,619.2L1432.3,606.9L1421.4,621.6 Z" fill="#feff90" stroke="#feff90" stroke-width="0.8"/>
<path d="M1471.8,629.5L1483.0,615.5L1473.4,603.3L1462.3,617.2 Z" fill="#ffe98f" stroke="#ffe98f" stroke-width="0.8"/>
<path d="M1492.6,627.8L1503.9,614.2L1494.3,601.9L1483.0,615.5 Z" fill="#ffdf8d" stroke="#ffdf8d" stroke-width="0.8"/>
<path d="M1513.5,626.5L1524.9,613.2L1515.2,601.0L1503.9,614.2 Z" fill="#ffd68b" stroke="#ffd68b" stroke-width="0.8"/>
<path d="M1577.0,624.2L1588.5,612.1L1578.7,600.0L1567.2,612.1 Z" fill="#fcba81" stroke="#fcba81" stroke-width="0.8"/>
<path d="M1598.3,624.2L1609.9,612.4L1600.1,600.4L1588.5,612.1 Z" fill="#fbb27c" stroke="#fbb27c" stroke-width="0.8"/>
<path d="M1619.8,624.4L1631.3,612.9L1621.5,601.0L1609.9,612.4 Z" fill="#f9a975" stroke="#f9a975" stroke-width="0.8"/>
<path d="M1684.2,626.7L1695.8,616.3L1685.8,604.6L1674.3,614.9 Z" fill="#f5925e" stroke="#f5925e" stroke-width="0.8"/>
<path d="M1705.8,628.0L1717.3,617.9L1707.2,606.3L1695.8,616.3 Z" fill="#f38d56" stroke="#f38d56" stroke-width="0.8"/>
<path d="M1727.3,629.6L1738.7,619.9L1728.7,608.3L1717.3,617.9 Z" fill="#f28a4f" stroke="#f28a4f" stroke-width="0.8"/>
<path d="M1770.2,633.5L1781.5,624.6L1771.4,613.2L1760.1,622.1 Z" fill="#f28b46" stroke="#f28b46" stroke-width="0.8"/>
<path d="M1791.6,635.9L1802.8,627.3L1792.6,616.1L1781.5,624.6 Z" fill="#f28f41" stroke="#f28f41" stroke-width="0.8"/>
<path d="M1812.9,638.6L1824.0,630.4L1813.8,619.2L1802.8,627.3 Z" fill="#f2943c" stroke="#f2943c" stroke-width="0.8"/>
<path d="M1351.2,646.9L1361.5,630.7L1352.2,618.4L1342.0,634.5 Z" fill="#c7ff93" stroke="#c7ff93" stroke-width="0.8"/>
<path d="M1370.7,643.1L1381.2,627.3L1371.9,615.0L1361.5,630.7 Z" fill="#d6ff92" stroke="#d6ff92" stroke-width="0.8"/>
<path d="M1451.2,631.6L1462.3,617.2L1452.8,604.9L1441.7,619.2 Z" fill="#fff490" stroke="#fff490" stroke-width="0.8"/>
<path d="M1534.6,625.4L1546.0,612.5L1536.3,600.3L1524.9,613.2 Z" fill="#ffcc88" stroke="#ffcc88" stroke-width="0.8"/>
<path d="M1555.7,624.7L1567.2,612.1L1557.5,600.0L1546.0,612.5 Z" fill="#fec384" stroke="#fec384" stroke-width="0.8"/>
<path d="M1641.2,624.9L1652.8,613.8L1642.9,601.9L1631.3,612.9 Z" fill="#f8a06d" stroke="#f8a06d" stroke-width="0.8"/>
<path d="M1662.7,625.6L1674.3,614.9L1664.3,603.1L1652.8,613.8 Z" fill="#f69965" stroke="#f69965" stroke-width="0.8"/>
<path d="M1748.8,631.4L1760.1,622.1L1750.0,610.7L1738.7,619.9 Z" fill="#f28a4a" stroke="#f28a4a" stroke-width="0.8"/>
<path d="M1834.1,641.5L1845.1,633.7L1834.9,622.6L1824.0,630.4 Z" fill="#f29b37" stroke="#f29b37" stroke-width="0.8"/>
<path d="M1855.3,644.7L1866.0,637.2L1855.8,626.3L1845.1,633.7 Z" fill="#f2a432" stroke="#f2a432" stroke-width="0.8"/>
<path d="M1399.9,652.1L1410.6,636.6L1401.2,624.3L1390.5,639.7 Z" fill="#e8ff92" stroke="#e8ff92" stroke-width="0.8"/>
<path d="M1420.0,649.0L1430.8,633.9L1421.4,621.6L1410.6,636.6 Z" fill="#f5ff91" stroke="#f5ff91" stroke-width="0.8"/>
<path d="M1481.4,641.9L1492.6,627.8L1483.0,615.5L1471.8,629.5 Z" fill="#ffe68f" stroke="#ffe68f" stroke-width="0.8"/>
<path d="M1502.2,640.2L1513.5,626.5L1503.9,614.2L1492.6,627.8 Z" fill="#ffdb8e" stroke="#ffdb8e" stroke-width="0.8"/>
<path d="M1586.8,636.4L1598.3,624.2L1588.5,612.1L1577.0,624.2 Z" fill="#fcb681" stroke="#fcb681" stroke-width="0.8"/>
<path d="M1608.2,636.3L1619.8,624.4L1609.9,612.4L1598.3,624.2 Z" fill="#fbae7d" stroke="#fbae7d" stroke-width="0.8"/>
<path d="M1694.2,638.5L1705.8,628.0L1695.8,616.3L1684.2,626.7 Z" fill="#f58d5e" stroke="#f58d5e" stroke-width="0.8"/>
<path d="M1715.8,639.7L1727.3,629.6L1717.3,617.9L1705.8,628.0 Z" fill="#f48757" stroke="#f48757" stroke-width="0.8"/>
<path d="M1780.3,645.0L1791.6,635.9L1781.5,624.6L1770.2,633.5 Z" fill="#f28446" stroke="#f28446" stroke-width="0.8"/>
<path d="M1801.8,647.3L1812.9,638.6L1802.8,627.3L1791.6,635.9 Z" fill="#f28741" stroke="#f28741" stroke-width="0.8"/>
<path d="M1360.4,659.3L1370.7,643.1L1361.5,630.7L1351.2,646.9 Z" fill="#cbff93" stroke="#cbff93" stroke-width="0.8"/>
<path d="M1380.0,655.5L1390.5,639.7L1381.2,627.3L1370.7,643.1 Z" fill="#daff92" stroke="#daff92" stroke-width="0.8"/>
<path d="M1440.3,646.3L1451.2,631.6L1441.7,619.2L1430.8,633.9 Z" fill="#fffc90" stroke="#fffc90" stroke-width="0.8"/>
<path d="M1460.7,643.9L1471.8,629.5L1462.3,617.2L1451.2,631.6 Z" fill="#fff090" stroke="#fff090" stroke-width="0.8"/>
<path d="M1523.2,638.7L1534.6,625.4L1524.9,613.2L1513.5,626.5 Z" fill="#ffd18b" stroke="#ffd18b" stroke-width="0.8"/>
<path d="M1544.3,637.7L1555.7,624.7L1546.0,612.5L1534.6,625.4 Z" fill="#ffc888" stroke="#ffc888" stroke-width="0.8"/>
<path d="M1565.5,636.9L1577.0,624.2L1567.2,612.1L1555.7,624.7 Z" fill="#febf84" stroke="#febf84" stroke-width="0.8"/>
<path d="M1629.6,636.4L1641.2,624.9L1631.3,612.9L1619.8,624.4 Z" fill="#f9a475" stroke="#f9a475" stroke-width="0.8"/>
<path d="M1651.2,636.8L1662.7,625.6L1652.8,613.8L1641.2,624.9 Z" fill="#f89b6d" stroke="#f89b6d" stroke-width="0.8"/>
<path d="M1672.7,637.5L1684.2,626.7L1674.3,614.9L1662.7,625.6 Z" fill="#f69366" stroke="#f69366" stroke-width="0.8"/>
<path d="M1737.4,641.2L1748.8,631.4L1738.7,619.9L1727.3,629.6 Z" fill="#f2834f" stroke="#f2834f" stroke-width="0.8"/>
<path d="M1758.9,643.0L1770.2,633.5L1760.1,622.1L1748.8,631.4 Z" fill="#f2834b" stroke="#f2834b" stroke-width="0.8"/>
<path d="M1823.1,649.9L1834.1,641.5L1824.0,630.4L1812.9,638.6 Z" fill="#f28c3c" stroke="#f28c3c" stroke-width="0.8"/>
<path d="M1844.3,652.7L1855.3,644.7L1845.1,633.7L1834.1,641.5 Z" fill="#f29238" stroke="#f29238" stroke-width="0.8"/>
<path d="M1491.0,654.3L1502.2,640.2L1492.6,627.8L1481.4,641.9 Z" fill="#ffe28f" stroke="#ffe28f" stroke-width="0.8"/>
<path d="M1704.3,650.3L1715.8,639.7L1705.8,628.0L1694.2,638.5 Z" fill="#f5875e" stroke="#f5875e" stroke-width="0.8"/>
<path d="M1369.6,671.7L1380.0,655.5L1370.7,643.1L1360.4,659.3 Z" fill="#ceff93" stroke="#ceff93" stroke-width="0.8"/>
<path d="M1389.3,667.9L1399.9,652.1L1390.5,639.7L1380.0,655.5 Z" fill="#ddff92" stroke="#ddff92" stroke-width="0.8"/>
<path d="M1409.2,664.5L1420.0,649.0L1410.6,636.6L1399.9,652.1 Z" fill="#ecff92" stroke="#ecff92" stroke-width="0.8"/>
<path d="M1429.4,661.5L1440.3,646.3L1430.8,633.9L1420.0,649.0 Z" fill="#f9ff91" stroke="#f9ff91" stroke-width="0.8"/>
<path d="M1449.7,658.7L1460.7,643.9L1451.2,631.6L1440.3,646.3 Z" fill="#fff890" stroke="#fff890" stroke-width="0.8"/>
<path d="M1470.3,656.3L1481.4,641.9L1471.8,629.5L1460.7,643.9 Z" fill="#ffed90" stroke="#ffed90" stroke-width="0.8"/>
<path d="M1511.9,652.5L1523.2,638.7L1513.5,626.5L1502.2,640.2 Z" fill="#ffd78e" stroke="#ffd78e" stroke-width="0.8"/>
<path d="M1532.9,651.1L1544.3,637.7L1534.6,625.4L1523.2,638.7 Z" fill="#ffcd8b" stroke="#ffcd8b" stroke-width="0.8"/>
<path d="M1554.0,649.9L1565.5,636.9L1555.7,624.7L1544.3,637.7 Z" fill="#ffc488" stroke="#ffc488" stroke-width="0.8"/>
<path d="M1575.3,649.1L1586.8,636.4L1577.0,624.2L1565.5,636.9 Z" fill="#feba85" stroke="#feba85" stroke-width="0.8"/>
<path d="M1596.6,648.6L1608.2,636.3L1598.3,624.2L1586.8,636.4 Z" fill="#fcb281" stroke="#fcb281" stroke-width="0.8"/>
<path d="M1618.1,648.4L1629.6,636.4L1619.8,624.4L1608.2,636.3 Z" fill="#fbaa7d" stroke="#fbaa7d" stroke-width="0.8"/>
<path d="M1639.6,648.4L1651.2,636.8L1641.2,624.9L1629.6,636.4 Z" fill="#faa076" stroke="#faa076" stroke-width="0.8"/>
<path d="M1661.1,648.8L1672.7,637.5L1662.7,625.6L1651.2,636.8 Z" fill="#f8966e" stroke="#f8966e" stroke-width="0.8"/>
<path d="M1682.7,649.4L1694.2,638.5L1684.2,626.7L1672.7,637.5 Z" fill="#f78e66" stroke="#f78e66" stroke-width="0.8"/>
<path d="M1725.9,651.5L1737.4,641.2L1727.3,629.6L1715.8,639.7 Z" fill="#f48157" stroke="#f48157" stroke-width="0.8"/>
<path d="M1747.4,652.9L1758.9,643.0L1748.8,631.4L1737.4,641.2 Z" fill="#f27d50" stroke="#f27d50" stroke-width="0.8"/>
<path d="M1769.0,654.6L1780.3,645.0L1770.2,633.5L1758.9,643.0 Z" fill="#f27c4b" stroke="#f27c4b" stroke-width="0.8"/>
<path d="M1790.5,656.5L1801.8,647.3L1791.6,635.9L1780.3,645.0 Z" fill="#f27d46" stroke="#f27d46" stroke-width="0.8"/>
<path d="M1811.9,658.7L1823.1,649.9L1812.9,638.6L1801.8,647.3 Z" fill="#f27f41" stroke="#f27f41" stroke-width="0.8"/>
<path d="M1833.3,661.2L1844.3,652.7L1834.1,641.5L1823.1,649.9 Z" fill="#f2843d" stroke="#f2843d" stroke-width="0.8"/>
<path d="M1378.9,684.2L1389.3,667.9L1380.0,655.5L1369.6,671.7 Z" fill="#d2ff93" stroke="#d2ff93" stroke-width="0.8"/>
<path d="M1438.8,673.9L1449.7,658.7L1440.3,646.3L1429.4,661.5 Z" fill="#fdff91" stroke="#fdff91" stroke-width="0.8"/>
<path d="M1459.2,671.2L1470.3,656.3L1460.7,643.9L1449.7,658.7 Z" fill="#fff590" stroke="#fff590" stroke-width="0.8"/>
<path d="M1479.8,668.7L1491.0,654.3L1481.4,641.9L1470.3,656.3 Z" fill="#ffe990" stroke="#ffe990" stroke-width="0.8"/>
<path d="M1521.5,664.9L1532.9,651.1L1523.2,638.7L1511.9,652.5 Z" fill="#ffd48e" stroke="#ffd48e" stroke-width="0.8"/>
<path d="M1542.6,663.4L1554.0,649.9L1544.3,637.7L1532.9,651.1 Z" fill="#ffc98b" stroke="#ffc98b" stroke-width="0.8"/>
<path d="M1563.8,662.2L1575.3,649.1L1565.5,636.9L1554.0,649.9 Z" fill="#ffc088" stroke="#ffc088" stroke-width="0.8"/>
<path d="M1627.9,660.5L1639.6,648.4L1629.6,636.4L1618.1,648.4 Z" fill="#fba57e" stroke="#fba57e" stroke-width="0.8"/>
<path d="M1649.5,660.5L1661.1,648.8L1651.2,636.8L1639.6,648.4 Z" fill="#fa9b76" stroke="#fa9b76" stroke-width="0.8"/>
<path d="M1671.1,660.8L1682.7,649.4L1672.7,637.5L1661.1,648.8 Z" fill="#f8916e" stroke="#f8916e" stroke-width="0.8"/>
<path d="M1714.3,662.2L1725.9,651.5L1715.8,639.7L1704.3,650.3 Z" fill="#f5815f" stroke="#f5815f" stroke-width="0.8"/>
<path d="M1735.9,663.2L1747.4,652.9L1737.4,641.2L1725.9,651.5 Z" fill="#f47b57" stroke="#f47b57" stroke-width="0.8"/>
<path d="M1757.6,664.6L1769.0,654.6L1758.9,643.0L1747.4,652.9 Z" fill="#f27650" stroke="#f27650" stroke-width="0.8"/>
<path d="M1822.1,670.1L1833.3,661.2L1823.1,649.9L1811.9,658.7 Z" fill="#f27842" stroke="#f27842" stroke-width="0.8"/>
<path d="M1398.6,680.4L1409.2,664.5L1399.9,652.1L1389.3,667.9 Z" fill="#e1ff92" stroke="#e1ff92" stroke-width="0.8"/>
<path d="M1418.6,677.0L1429.4,661.5L1420.0,649.0L1409.2,664.5 Z" fill="#efff92" stroke="#efff92" stroke-width="0.8"/>
<path d="M1500.6,666.6L1511.9,652.5L1502.2,640.2L1491.0,654.3 Z" fill="#ffde8f" stroke="#ffde8f" stroke-width="0.8"/>
<path d="M1585.1,661.3L1596.6,648.6L1586.8,636.4L1575.3,649.1 Z" fill="#feb685" stroke="#feb685" stroke-width="0.8"/>
<path d="M1606.5,660.8L1618.1,648.4L1608.2,636.3L1596.6,648.6 Z" fill="#fdad81" stroke="#fdad81" stroke-width="0.8"/>
<path d="M1692.7,661.3L1704.3,650.3L1694.2,638.5L1682.7,649.4 Z" fill="#f78967" stroke="#f78967" stroke-width="0.8"/>
<path d="M1779.1,666.2L1790.5,656.5L1780.3,645.0L1769.0,654.6 Z" fill="#f2754b" stroke="#f2754b" stroke-width="0.8"/>
<path d="M1800.7,668.0L1811.9,658.7L1801.8,647.3L1790.5,656.5 Z" fill="#f27547" stroke="#f27547" stroke-width="0.8"/>
<path d="M1448.3,686.4L1459.2,671.2L1449.7,658.7L1438.8,673.9 Z" fill="#fffd91" stroke="#fffd91" stroke-width="0.8"/>
<path d="M1468.7,683.6L1479.8,668.7L1470.3,656.3L1459.2,671.2 Z" fill="#fff191" stroke="#fff191" stroke-width="0.8"/>
<path d="M1531.2,677.2L1542.6,663.4L1532.9,651.1L1521.5,664.9 Z" fill="#ffd08e" stroke="#ffd08e" stroke-width="0.8"/>
<path d="M1552.3,675.7L1563.8,662.2L1554.0,649.9L1542.6,663.4 Z" fill="#ffc58b" stroke="#ffc58b" stroke-width="0.8"/>
<path d="M1637.8,672.7L1649.5,660.5L1639.6,648.4L1627.9,660.5 Z" fill="#fba07e" stroke="#fba07e" stroke-width="0.8"/>
<path d="M1659.4,672.6L1671.1,660.8L1661.1,648.8L1649.5,660.5 Z" fill="#fa9677" stroke="#fa9677" stroke-width="0.8"/>
<path d="M1724.4,674.0L1735.9,663.2L1725.9,651.5L1714.3,662.2 Z" fill="#f57b5f" stroke="#f57b5f" stroke-width="0.8"/>
<path d="M1746.0,675.0L1757.6,664.6L1747.4,652.9L1735.9,663.2 Z" fill="#f47558" stroke="#f47558" stroke-width="0.8"/>
<path d="M1388.2,696.6L1398.6,680.4L1389.3,667.9L1378.9,684.2 Z" fill="#d5ff93" stroke="#d5ff93" stroke-width="0.8"/>
<path d="M1408.0,692.9L1418.6,677.0L1409.2,664.5L1398.6,680.4 Z" fill="#e5ff92" stroke="#e5ff92" stroke-width="0.8"/>
<path d="M1428.0,689.5L1438.8,673.9L1429.4,661.5L1418.6,677.0 Z" fill="#f3ff92" stroke="#f3ff92" stroke-width="0.8"/>
<path d="M1489.4,681.2L1500.6,666.6L1491.0,654.3L1479.8,668.7 Z" fill="#ffe590" stroke="#ffe590" stroke-width="0.8"/>
<path d="M1510.2,679.0L1521.5,664.9L1511.9,652.5L1500.6,666.6 Z" fill="#ffda8f" stroke="#ffda8f" stroke-width="0.8"/>
<path d="M1573.5,674.5L1585.1,661.3L1575.3,649.1L1563.8,662.2 Z" fill="#ffbc88" stroke="#ffbc88" stroke-width="0.8"/>
<path d="M1594.9,673.6L1606.5,660.8L1596.6,648.6L1585.1,661.3 Z" fill="#feb285" stroke="#feb285" stroke-width="0.8"/>
<path d="M1616.3,673.0L1627.9,660.5L1618.1,648.4L1606.5,660.8 Z" fill="#fda981" stroke="#fda981" stroke-width="0.8"/>
<path d="M1681.1,672.8L1692.7,661.3L1682.7,649.4L1671.1,660.8 Z" fill="#f88c6f" stroke="#f88c6f" stroke-width="0.8"/>
<path d="M1702.7,673.3L1714.3,662.2L1704.3,650.3L1692.7,661.3 Z" fill="#f78367" stroke="#f78367" stroke-width="0.8"/>
<path d="M1767.7,676.3L1779.1,666.2L1769.0,654.6L1757.6,664.6 Z" fill="#f27051" stroke="#f27051" stroke-width="0.8"/>
<path d="M1789.3,677.8L1800.7,668.0L1790.5,656.5L1779.1,666.2 Z" fill="#f26e4c" stroke="#f26e4c" stroke-width="0.8"/>
<path d="M1810.9,679.6L1822.1,670.1L1811.9,658.7L1800.7,668.0 Z" fill="#f26e47" stroke="#f26e47" stroke-width="0.8"/>
<path d="M1457.7,698.9L1468.7,683.6L1459.2,671.2L1448.3,686.4 Z" fill="#fffa91" stroke="#fffa91" stroke-width="0.8"/>
<path d="M1540.9,689.6L1552.3,675.7L1542.6,663.4L1531.2,677.2 Z" fill="#ffcc8e" stroke="#ffcc8e" stroke-width="0.8"/>
<path d="M1647.8,684.8L1659.4,672.6L1649.5,660.5L1637.8,672.7 Z" fill="#fb9c7e" stroke="#fb9c7e" stroke-width="0.8"/>
<path d="M1734.5,685.9L1746.0,675.0L1735.9,663.2L1724.4,674.0 Z" fill="#f57660" stroke="#f57660" stroke-width="0.8"/>
<path d="M1397.4,709.1L1408.0,692.9L1398.6,680.4L1388.2,696.6 Z" fill="#d9ff93" stroke="#d9ff93" stroke-width="0.8"/>
<path d="M1417.3,705.4L1428.0,689.5L1418.6,677.0L1408.0,692.9 Z" fill="#e8ff92" stroke="#e8ff92" stroke-width="0.8"/>
<path d="M1437.4,701.9L1448.3,686.4L1438.8,673.9L1428.0,689.5 Z" fill="#f7ff92" stroke="#f7ff92" stroke-width="0.8"/>
<path d="M1478.3,696.1L1489.4,681.2L1479.8,668.7L1468.7,683.6 Z" fill="#ffed91" stroke="#ffed91" stroke-width="0.8"/>
<path d="M1499.0,693.6L1510.2,679.0L1500.6,666.6L1489.4,681.2 Z" fill="#ffe190" stroke="#ffe190" stroke-width="0.8"/>
<path d="M1519.8,691.5L1531.2,677.2L1521.5,664.9L1510.2,679.0 Z" fill="#ffd68f" stroke="#ffd68f" stroke-width="0.8"/>
<path d="M1562.0,688.1L1573.5,674.5L1563.8,662.2L1552.3,675.7 Z" fill="#ffc18b" stroke="#ffc18b" stroke-width="0.8"/>
<path d="M1583.3,686.8L1594.9,673.6L1585.1,661.3L1573.5,674.5 Z" fill="#ffb788" stroke="#ffb788" stroke-width="0.8"/>
<path d="M1604.7,685.9L1616.3,673.0L1606.5,660.8L1594.9,673.6 Z" fill="#feae85" stroke="#feae85" stroke-width="0.8"/>
<path d="M1626.2,685.2L1637.8,672.7L1627.9,660.5L1616.3,673.0 Z" fill="#fda482" stroke="#fda482" stroke-width="0.8"/>
<path d="M1669.4,684.7L1681.1,672.8L1671.1,660.8L1659.4,672.6 Z" fill="#fa9177" stroke="#fa9177" stroke-width="0.8"/>
<path d="M1691.1,684.9L1702.7,673.3L1692.7,661.3L1681.1,672.8 Z" fill="#f8876f" stroke="#f8876f" stroke-width="0.8"/>
<path d="M1712.8,685.3L1724.4,674.0L1714.3,662.2L1702.7,673.3 Z" fill="#f77e68" stroke="#f77e68" stroke-width="0.8"/>
<path d="M1756.2,686.8L1767.7,676.3L1757.6,664.6L1746.0,675.0 Z" fill="#f46f59" stroke="#f46f59" stroke-width="0.8"/>
<path d="M1777.9,688.0L1789.3,677.8L1779.1,666.2L1767.7,676.3 Z" fill="#f26951" stroke="#f26951" stroke-width="0.8"/>
<path d="M1799.5,689.4L1810.9,679.6L1800.7,668.0L1789.3,677.8 Z" fill="#f2674c" stroke="#f2674c" stroke-width="0.8"/>
<path d="M1406.7,721.6L1417.3,705.4L1408.0,692.9L1397.4,709.1 Z" fill="#ddff93" stroke="#ddff93" stroke-width="0.8"/>
<path d="M1426.7,717.9L1437.4,701.9L1428.0,689.5L1417.3,705.4 Z" fill="#ecff92" stroke="#ecff92" stroke-width="0.8"/>
<path d="M1446.8,714.5L1457.7,698.9L1448.3,686.4L1437.4,701.9 Z" fill="#faff92" stroke="#faff92" stroke-width="0.8"/>
<path d="M1467.2,711.4L1478.3,696.1L1468.7,683.6L1457.7,698.9 Z" fill="#fff691" stroke="#fff691" stroke-width="0.8"/>
<path d="M1487.8,708.6L1499.0,693.6L1489.4,681.2L1478.3,696.1 Z" fill="#ffe991" stroke="#ffe991" stroke-width="0.8"/>
<path d="M1508.6,706.1L1519.8,691.5L1510.2,679.0L1499.0,693.6 Z" fill="#ffdd90" stroke="#ffdd90" stroke-width="0.8"/>
<path d="M1529.5,703.9L1540.9,689.6L1531.2,677.2L1519.8,691.5 Z" fill="#ffd28f" stroke="#ffd28f" stroke-width="0.8"/>
<path d="M1550.6,702.1L1562.0,688.1L1552.3,675.7L1540.9,689.6 Z" fill="#ffc88e" stroke="#ffc88e" stroke-width="0.8"/>
<path d="M1571.8,700.5L1583.3,686.8L1573.5,674.5L1562.0,688.1 Z" fill="#ffbd8b" stroke="#ffbd8b" stroke-width="0.8"/>
<path d="M1593.1,699.2L1604.7,685.9L1594.9,673.6L1583.3,686.8 Z" fill="#ffb389" stroke="#ffb389" stroke-width="0.8"/>
<path d="M1614.6,698.2L1626.2,685.2L1616.3,673.0L1604.7,685.9 Z" fill="#fea985" stroke="#fea985" stroke-width="0.8"/>
<path d="M1636.1,697.4L1647.8,684.8L1637.8,672.7L1626.2,685.2 Z" fill="#fda082" stroke="#fda082" stroke-width="0.8"/>
<path d="M1657.7,697.0L1669.4,684.7L1659.4,672.6L1647.8,684.8 Z" fill="#fb977e" stroke="#fb977e" stroke-width="0.8"/>
<path d="M1679.4,696.8L1691.1,684.9L1681.1,672.8L1669.4,684.7 Z" fill="#fa8d78" stroke="#fa8d78" stroke-width="0.8"/>
<path d="M1701.1,696.9L1712.8,685.3L1702.7,673.3L1691.1,684.9 Z" fill="#f88270" stroke="#f88270" stroke-width="0.8"/>
<path d="M1722.8,697.2L1734.5,685.9L1724.4,674.0L1712.8,685.3 Z" fill="#f77968" stroke="#f77968" stroke-width="0.8"/>
<path d="M1744.6,697.8L1756.2,686.8L1746.0,675.0L1734.5,685.9 Z" fill="#f67061" stroke="#f67061" stroke-width="0.8"/>
<path d="M1766.3,698.7L1777.9,688.0L1767.7,676.3L1756.2,686.8 Z" fill="#f46959" stroke="#f46959" stroke-width="0.8"/>
<path d="M1788.0,699.8L1799.5,689.4L1789.3,677.8L1777.9,688.0 Z" fill="#f36352" stroke="#f36352" stroke-width="0.8"/>
<path d="M1416.1,734.2L1426.7,717.9L1417.3,705.4L1406.7,721.6 Z" fill="#e0ff93" stroke="#e0ff93" stroke-width="0.8"/>
<path d="M1436.1,730.4L1446.8,714.5L1437.4,701.9L1426.7,717.9 Z" fill="#f0ff93" stroke="#f0ff93" stroke-width="0.8"/>
<path d="M1456.3,727.0L1467.2,711.4L1457.7,698.9L1446.8,714.5 Z" fill="#feff92" stroke="#feff92" stroke-width="0.8"/>
<path d="M1476.7,723.9L1487.8,708.6L1478.3,696.1L1467.2,711.4 Z" fill="#fff291" stroke="#fff291" stroke-width="0.8"/>
<path d="M1497.4,721.1L1508.6,706.1L1499.0,693.6L1487.8,708.6 Z" fill="#ffe591" stroke="#ffe591" stroke-width="0.8"/>
<path d="M1518.2,718.6L1529.5,703.9L1519.8,691.5L1508.6,706.1 Z" fill="#ffd990" stroke="#ffd990" stroke-width="0.8"/>
<path d="M1539.2,716.4L1550.6,702.1L1540.9,689.6L1529.5,703.9 Z" fill="#ffce8f" stroke="#ffce8f" stroke-width="0.8"/>
<path d="M1560.3,714.5L1571.8,700.5L1562.0,688.1L1550.6,702.1 Z" fill="#ffc48e" stroke="#ffc48e" stroke-width="0.8"/>
<path d="M1581.6,712.9L1593.1,699.2L1583.3,686.8L1571.8,700.5 Z" fill="#ffb98c" stroke="#ffb98c" stroke-width="0.8"/>
<path d="M1603.0,711.6L1614.6,698.2L1604.7,685.9L1593.1,699.2 Z" fill="#ffaf89" stroke="#ffaf89" stroke-width="0.8"/>
<path d="M1624.5,710.5L1636.1,697.4L1626.2,685.2L1614.6,698.2 Z" fill="#fea586" stroke="#fea586" stroke-width="0.8"/>
<path d="M1646.1,709.7L1657.7,697.0L1647.8,684.8L1636.1,697.4 Z" fill="#fd9b82" stroke="#fd9b82" stroke-width="0.8"/>
<path d="M1667.7,709.2L1679.4,696.8L1669.4,684.7L1657.7,697.0 Z" fill="#fb937f" stroke="#fb937f" stroke-width="0.8"/>
<path d="M1689.4,709.0L1701.1,696.9L1691.1,684.9L1679.4,696.8 Z" fill="#fa8878" stroke="#fa8878" stroke-width="0.8"/>
<path d="M1711.2,709.0L1722.8,697.2L1712.8,685.3L1701.1,696.9 Z" fill="#f97d70" stroke="#f97d70" stroke-width="0.8"/>
<path d="M1732.9,709.3L1744.6,697.8L1734.5,685.9L1722.8,697.2 Z" fill="#f77369" stroke="#f77369" stroke-width="0.8"/>
<path d="M1754.7,709.8L1766.3,698.7L1756.2,686.8L1744.6,697.8 Z" fill="#f66a61" stroke="#f66a61" stroke-width="0.8"/>
<path d="M1776.5,710.5L1788.0,699.8L1777.9,688.0L1766.3,698.7 Z" fill="#f4635a" stroke="#f4635a" stroke-width="0.8"/>
<path d="M1425.4,746.8L1436.1,730.4L1426.7,717.9L1416.1,734.2 Z" fill="#e4ff93" stroke="#e4ff93" stroke-width="0.8"/>
<path d="M1465.8,739.6L1476.7,723.9L1467.2,711.4L1456.3,727.0 Z" fill="#fffc92" stroke="#fffc92" stroke-width="0.8"/>
<path d="M1486.3,736.5L1497.4,721.1L1487.8,708.6L1476.7,723.9 Z" fill="#ffef91" stroke="#ffef91" stroke-width="0.8"/>
<path d="M1507.0,733.6L1518.2,718.6L1508.6,706.1L1497.4,721.1 Z" fill="#ffe291" stroke="#ffe291" stroke-width="0.8"/>
<path d="M1527.8,731.1L1539.2,716.4L1529.5,703.9L1518.2,718.6 Z" fill="#ffd690" stroke="#ffd690" stroke-width="0.8"/>
<path d="M1548.9,728.9L1560.3,714.5L1550.6,702.1L1539.2,716.4 Z" fill="#ffca8f" stroke="#ffca8f" stroke-width="0.8"/>
<path d="M1570.1,727.0L1581.6,712.9L1571.8,700.5L1560.3,714.5 Z" fill="#ffc08f" stroke="#ffc08f" stroke-width="0.8"/>
<path d="M1591.4,725.3L1603.0,711.6L1593.1,699.2L1581.6,712.9 Z" fill="#ffb58c" stroke="#ffb58c" stroke-width="0.8"/>
<path d="M1612.8,723.9L1624.5,710.5L1614.6,698.2L1603.0,711.6 Z" fill="#ffab89" stroke="#ffab89" stroke-width="0.8"/>
<path d="M1634.4,722.8L1646.1,709.7L1636.1,697.4L1624.5,710.5 Z" fill="#fea186" stroke="#fea186" stroke-width="0.8"/>
<path d="M1656.0,722.0L1667.7,709.2L1657.7,697.0L1646.1,709.7 Z" fill="#fd9782" stroke="#fd9782" stroke-width="0.8"/>
<path d="M1677.7,721.5L1689.4,709.0L1679.4,696.8L1667.7,709.2 Z" fill="#fc8e7f" stroke="#fc8e7f" stroke-width="0.8"/>
<path d="M1699.5,721.1L1711.2,709.0L1701.1,696.9L1689.4,709.0 Z" fill="#fa8479" stroke="#fa8479" stroke-width="0.8"/>
<path d="M1721.2,721.1L1732.9,709.3L1722.8,697.2L1711.2,709.0 Z" fill="#f97871" stroke="#f97871" stroke-width="0.8"/>
<path d="M1764.9,721.7L1776.5,710.5L1766.3,698.7L1754.7,709.8 Z" fill="#f66562" stroke="#f66562" stroke-width="0.8"/>
<path d="M1445.5,743.0L1456.3,727.0L1446.8,714.5L1436.1,730.4 Z" fill="#f3ff93" stroke="#f3ff93" stroke-width="0.8"/>
<path d="M1743.1,721.3L1754.7,709.8L1744.6,697.8L1732.9,709.3 Z" fill="#f76e69" stroke="#f76e69" stroke-width="0.8"/>
<path d="M1475.3,752.2L1486.3,736.5L1476.7,723.9L1465.8,739.6 Z" fill="#fff992" stroke="#fff992" stroke-width="0.8"/>
<path d="M1495.8,749.0L1507.0,733.6L1497.4,721.1L1486.3,736.5 Z" fill="#ffeb91" stroke="#ffeb91" stroke-width="0.8"/>
<path d="M1516.6,746.2L1527.8,731.1L1518.2,718.6L1507.0,733.6 Z" fill="#ffde91" stroke="#ffde91" stroke-width="0.8"/>
<path d="M1558.6,741.4L1570.1,727.0L1560.3,714.5L1548.9,728.9 Z" fill="#ffc78f" stroke="#ffc78f" stroke-width="0.8"/>
<path d="M1579.8,739.5L1591.4,725.3L1581.6,712.9L1570.1,727.0 Z" fill="#ffbc8f" stroke="#ffbc8f" stroke-width="0.8"/>
<path d="M1601.2,737.8L1612.8,723.9L1603.0,711.6L1591.4,725.3 Z" fill="#ffb18c" stroke="#ffb18c" stroke-width="0.8"/>
<path d="M1622.7,736.4L1634.4,722.8L1624.5,710.5L1612.8,723.9 Z" fill="#ffa789" stroke="#ffa789" stroke-width="0.8"/>
<path d="M1666.0,734.3L1677.7,721.5L1667.7,709.2L1656.0,722.0 Z" fill="#fd9383" stroke="#fd9383" stroke-width="0.8"/>
<path d="M1687.7,733.7L1699.5,721.1L1689.4,709.0L1677.7,721.5 Z" fill="#fc8a7f" stroke="#fc8a7f" stroke-width="0.8"/>
<path d="M1709.5,733.3L1721.2,721.1L1711.2,709.0L1699.5,721.1 Z" fill="#fa7f79" stroke="#fa7f79" stroke-width="0.8"/>
<path d="M1434.8,759.4L1445.5,743.0L1436.1,730.4L1425.4,746.8 Z" fill="#e7ff93" stroke="#e7ff93" stroke-width="0.8"/>
<path d="M1454.9,755.6L1465.8,739.6L1456.3,727.0L1445.5,743.0 Z" fill="#f7ff93" stroke="#f7ff93" stroke-width="0.8"/>
<path d="M1537.5,743.7L1548.9,728.9L1539.2,716.4L1527.8,731.1 Z" fill="#ffd290" stroke="#ffd290" stroke-width="0.8"/>
<path d="M1644.3,735.2L1656.0,722.0L1646.1,709.7L1634.4,722.8 Z" fill="#ff9d86" stroke="#ff9d86" stroke-width="0.8"/>
<path d="M1731.4,733.2L1743.1,721.3L1732.9,709.3L1721.2,721.1 Z" fill="#f97471" stroke="#f97471" stroke-width="0.8"/>
<path d="M1753.2,733.3L1764.9,721.7L1754.7,709.8L1743.1,721.3 Z" fill="#f76a6a" stroke="#f76a6a" stroke-width="0.8"/>
<path d="M1484.8,764.8L1495.8,749.0L1486.3,736.5L1475.3,752.2 Z" fill="#fff592" stroke="#fff592" stroke-width="0.8"/>
<path d="M1505.4,761.6L1516.6,746.2L1507.0,733.6L1495.8,749.0 Z" fill="#ffe791" stroke="#ffe791" stroke-width="0.8"/>
<path d="M1568.3,754.0L1579.8,739.5L1570.1,727.0L1558.6,741.4 Z" fill="#ffc38f" stroke="#ffc38f" stroke-width="0.8"/>
<path d="M1589.6,752.0L1601.2,737.8L1591.4,725.3L1579.8,739.5 Z" fill="#ffb88f" stroke="#ffb88f" stroke-width="0.8"/>
<path d="M1611.1,750.2L1622.7,736.4L1612.8,723.9L1601.2,737.8 Z" fill="#ffad8c" stroke="#ffad8c" stroke-width="0.8"/>
<path d="M1676.0,746.7L1687.7,733.7L1677.7,721.5L1666.0,734.3 Z" fill="#fd8e83" stroke="#fd8e83" stroke-width="0.8"/>
<path d="M1697.8,746.0L1709.5,733.3L1699.5,721.1L1687.7,733.7 Z" fill="#fc857f" stroke="#fc857f" stroke-width="0.8"/>
<path d="M1444.2,772.0L1454.9,755.6L1445.5,743.0L1434.8,759.4 Z" fill="#ebff93" stroke="#ebff93" stroke-width="0.8"/>
<path d="M1464.3,768.2L1475.3,752.2L1465.8,739.6L1454.9,755.6 Z" fill="#faff93" stroke="#faff93" stroke-width="0.8"/>
<path d="M1526.2,758.8L1537.5,743.7L1527.8,731.1L1516.6,746.2 Z" fill="#ffda91" stroke="#ffda91" stroke-width="0.8"/>
<path d="M1547.2,756.2L1558.6,741.4L1548.9,728.9L1537.5,743.7 Z" fill="#ffce90" stroke="#ffce90" stroke-width="0.8"/>
<path d="M1632.6,748.8L1644.3,735.2L1634.4,722.8L1622.7,736.4 Z" fill="#ffa289" stroke="#ffa289" stroke-width="0.8"/>
<path d="M1654.3,747.6L1666.0,734.3L1656.0,722.0L1644.3,735.2 Z" fill="#ff9886" stroke="#ff9886" stroke-width="0.8"/>
<path d="M1719.6,745.6L1731.4,733.2L1721.2,721.1L1709.5,733.3 Z" fill="#fa7b7a" stroke="#fa7b7a" stroke-width="0.8"/>
<path d="M1741.5,745.4L1753.2,733.3L1743.1,721.3L1731.4,733.2 Z" fill="#f97272" stroke="#f97272" stroke-width="0.8"/>
<path d="M1578.1,766.5L1589.6,752.0L1579.8,739.5L1568.3,754.0 Z" fill="#ffbf90" stroke="#ffbf90" stroke-width="0.8"/>
<path d="M1599.5,764.5L1611.1,750.2L1601.2,737.8L1589.6,752.0 Z" fill="#ffb48f" stroke="#ffb48f" stroke-width="0.8"/>
<path d="M1453.5,784.6L1464.3,768.2L1454.9,755.6L1444.2,772.0 Z" fill="#eeff93" stroke="#eeff93" stroke-width="0.8"/>
<path d="M1473.8,780.9L1484.8,764.8L1475.3,752.2L1464.3,768.2 Z" fill="#feff93" stroke="#feff93" stroke-width="0.8"/>
<path d="M1494.3,777.4L1505.4,761.6L1495.8,749.0L1484.8,764.8 Z" fill="#fff192" stroke="#fff192" stroke-width="0.8"/>
<path d="M1515.0,774.3L1526.2,758.8L1516.6,746.2L1505.4,761.6 Z" fill="#ffe391" stroke="#ffe391" stroke-width="0.8"/>
<path d="M1535.8,771.4L1547.2,756.2L1537.5,743.7L1526.2,758.8 Z" fill="#ffd691" stroke="#ffd691" stroke-width="0.8"/>
<path d="M1556.9,768.8L1568.3,754.0L1558.6,741.4L1547.2,756.2 Z" fill="#ffca90" stroke="#ffca90" stroke-width="0.8"/>
<path d="M1620.9,762.7L1632.6,748.8L1622.7,736.4L1611.1,750.2 Z" fill="#ffa98c" stroke="#ffa98c" stroke-width="0.8"/>
<path d="M1642.5,761.2L1654.3,747.6L1644.3,735.2L1632.6,748.8 Z" fill="#ff9e8a" stroke="#ff9e8a" stroke-width="0.8"/>
<path d="M1664.2,760.0L1676.0,746.7L1666.0,734.3L1654.3,747.6 Z" fill="#ff9487" stroke="#ff9487" stroke-width="0.8"/>
<path d="M1686.0,759.0L1697.8,746.0L1687.7,733.7L1676.0,746.7 Z" fill="#fd8a83" stroke="#fd8a83" stroke-width="0.8"/>
<path d="M1707.8,758.3L1719.6,745.6L1709.5,733.3L1697.8,746.0 Z" fill="#fc8080" stroke="#fc8080" stroke-width="0.8"/>
<path d="M1729.7,757.8L1741.5,745.4L1731.4,733.2L1719.6,745.6 Z" fill="#fa7a7a" stroke="#fa7a7a" stroke-width="0.8"/>
<path d="M1463.0,797.3L1473.8,780.9L1464.3,768.2L1453.5,784.6 Z" fill="#f2ff93" stroke="#f2ff93" stroke-width="0.8"/>
<path d="M1524.6,786.9L1535.8,771.4L1526.2,758.8L1515.0,774.3 Z" fill="#ffe091" stroke="#ffe091" stroke-width="0.8"/>
<path d="M1545.5,784.1L1556.9,768.8L1547.2,756.2L1535.8,771.4 Z" fill="#ffd391" stroke="#ffd391" stroke-width="0.8"/>
<path d="M1566.6,781.5L1578.1,766.5L1568.3,754.0L1556.9,768.8 Z" fill="#ffc690" stroke="#ffc690" stroke-width="0.8"/>
<path d="M1587.9,779.1L1599.5,764.5L1589.6,752.0L1578.1,766.5 Z" fill="#ffbb90" stroke="#ffbb90" stroke-width="0.8"/>
<path d="M1609.3,777.1L1620.9,762.7L1611.1,750.2L1599.5,764.5 Z" fill="#ffb08f" stroke="#ffb08f" stroke-width="0.8"/>
<path d="M1630.8,775.3L1642.5,761.2L1632.6,748.8L1620.9,762.7 Z" fill="#ffa58d" stroke="#ffa58d" stroke-width="0.8"/>
<path d="M1652.5,773.7L1664.2,760.0L1654.3,747.6L1642.5,761.2 Z" fill="#ff9a8a" stroke="#ff9a8a" stroke-width="0.8"/>
<path d="M1717.9,770.6L1729.7,757.8L1719.6,745.6L1707.8,758.3 Z" fill="#fc8080" stroke="#fc8080" stroke-width="0.8"/>
<path d="M1483.3,793.6L1494.3,777.4L1484.8,764.8L1473.8,780.9 Z" fill="#fffc93" stroke="#fffc93" stroke-width="0.8"/>
<path d="M1503.8,790.1L1515.0,774.3L1505.4,761.6L1494.3,777.4 Z" fill="#ffee92" stroke="#ffee92" stroke-width="0.8"/>
<path d="M1674.2,772.4L1686.0,759.0L1676.0,746.7L1664.2,760.0 Z" fill="#ff9087" stroke="#ff9087" stroke-width="0.8"/>
<path d="M1696.0,771.4L1707.8,758.3L1697.8,746.0L1686.0,759.0 Z" fill="#fd8583" stroke="#fd8583" stroke-width="0.8"/>
<path d="M1534.2,799.6L1545.5,784.1L1535.8,771.4L1524.6,786.9 Z" fill="#ffdc91" stroke="#ffdc91" stroke-width="0.8"/>
<path d="M1555.2,796.7L1566.6,781.5L1556.9,768.8L1545.5,784.1 Z" fill="#ffcf91" stroke="#ffcf91" stroke-width="0.8"/>
<path d="M1619.1,789.6L1630.8,775.3L1620.9,762.7L1609.3,777.1 Z" fill="#ffac8f" stroke="#ffac8f" stroke-width="0.8"/>
<path d="M1640.7,787.8L1652.5,773.7L1642.5,761.2L1630.8,775.3 Z" fill="#ffa18d" stroke="#ffa18d" stroke-width="0.8"/>
<path d="M1472.4,810.0L1483.3,793.6L1473.8,780.9L1463.0,797.3 Z" fill="#f6ff93" stroke="#f6ff93" stroke-width="0.8"/>
<path d="M1492.8,806.3L1503.8,790.1L1494.3,777.4L1483.3,793.6 Z" fill="#fff993" stroke="#fff993" stroke-width="0.8"/>
<path d="M1513.4,802.8L1524.6,786.9L1515.0,774.3L1503.8,790.1 Z" fill="#ffea92" stroke="#ffea92" stroke-width="0.8"/>
<path d="M1576.4,794.1L1587.9,779.1L1578.1,766.5L1566.6,781.5 Z" fill="#ffc290" stroke="#ffc290" stroke-width="0.8"/>
<path d="M1597.7,791.7L1609.3,777.1L1599.5,764.5L1587.9,779.1 Z" fill="#ffb790" stroke="#ffb790" stroke-width="0.8"/>
<path d="M1662.4,786.2L1674.2,772.4L1664.2,760.0L1652.5,773.7 Z" fill="#ff968a" stroke="#ff968a" stroke-width="0.8"/>
<path d="M1684.2,784.9L1696.0,771.4L1686.0,759.0L1674.2,772.4 Z" fill="#ff8c87" stroke="#ff8c87" stroke-width="0.8"/>
<path d="M1706.1,783.8L1717.9,770.6L1707.8,758.3L1696.0,771.4 Z" fill="#fe8484" stroke="#fe8484" stroke-width="0.8"/>
<path d="M1543.8,812.3L1555.2,796.7L1545.5,784.1L1534.2,799.6 Z" fill="#ffd892" stroke="#ffd892" stroke-width="0.8"/>
<path d="M1629.0,802.3L1640.7,787.8L1630.8,775.3L1619.1,789.6 Z" fill="#ffa88f" stroke="#ffa88f" stroke-width="0.8"/>
<path d="M1481.8,822.7L1492.8,806.3L1483.3,793.6L1472.4,810.0 Z" fill="#f9ff93" stroke="#f9ff93" stroke-width="0.8"/>
<path d="M1502.3,819.0L1513.4,802.8L1503.8,790.1L1492.8,806.3 Z" fill="#fff593" stroke="#fff593" stroke-width="0.8"/>
<path d="M1523.0,815.5L1534.2,799.6L1524.6,786.9L1513.4,802.8 Z" fill="#ffe692" stroke="#ffe692" stroke-width="0.8"/>
<path d="M1564.9,809.4L1576.4,794.1L1566.6,781.5L1555.2,796.7 Z" fill="#ffcb91" stroke="#ffcb91" stroke-width="0.8"/>
<path d="M1586.1,806.8L1597.7,791.7L1587.9,779.1L1576.4,794.1 Z" fill="#ffbf90" stroke="#ffbf90" stroke-width="0.8"/>
<path d="M1607.5,804.4L1619.1,789.6L1609.3,777.1L1597.7,791.7 Z" fill="#ffb390" stroke="#ffb390" stroke-width="0.8"/>
<path d="M1650.7,800.4L1662.4,786.2L1652.5,773.7L1640.7,787.8 Z" fill="#ff9d8d" stroke="#ff9d8d" stroke-width="0.8"/>
<path d="M1672.4,798.8L1684.2,784.9L1674.2,772.4L1662.4,786.2 Z" fill="#ff928a" stroke="#ff928a" stroke-width="0.8"/>
<path d="M1694.3,797.4L1706.1,783.8L1696.0,771.4L1684.2,784.9 Z" fill="#ff8787" stroke="#ff8787" stroke-width="0.8"/>
<path d="M1491.3,835.5L1502.3,819.0L1492.8,806.3L1481.8,822.7 Z" fill="#fdff93" stroke="#fdff93" stroke-width="0.8"/>
<path d="M1511.8,831.7L1523.0,815.5L1513.4,802.8L1502.3,819.0 Z" fill="#fff293" stroke="#fff293" stroke-width="0.8"/>
<path d="M1532.6,828.3L1543.8,812.3L1534.2,799.6L1523.0,815.5 Z" fill="#ffe392" stroke="#ffe392" stroke-width="0.8"/>
<path d="M1553.5,825.1L1564.9,809.4L1555.2,796.7L1543.8,812.3 Z" fill="#ffd592" stroke="#ffd592" stroke-width="0.8"/>
<path d="M1574.6,822.1L1586.1,806.8L1576.4,794.1L1564.9,809.4 Z" fill="#ffc791" stroke="#ffc791" stroke-width="0.8"/>
<path d="M1595.9,819.5L1607.5,804.4L1597.7,791.7L1586.1,806.8 Z" fill="#ffbb90" stroke="#ffbb90" stroke-width="0.8"/>
<path d="M1617.3,817.1L1629.0,802.3L1619.1,789.6L1607.5,804.4 Z" fill="#ffaf90" stroke="#ffaf90" stroke-width="0.8"/>
<path d="M1638.9,814.9L1650.7,800.4L1640.7,787.8L1629.0,802.3 Z" fill="#ffa48f" stroke="#ffa48f" stroke-width="0.8"/>
<path d="M1660.6,813.0L1672.4,798.8L1662.4,786.2L1650.7,800.4 Z" fill="#ff998d" stroke="#ff998d" stroke-width="0.8"/>
<path d="M1682.4,811.3L1694.3,797.4L1684.2,784.9L1672.4,798.8 Z" fill="#ff8e8a" stroke="#ff8e8a" stroke-width="0.8"/>
<path d="M1500.8,848.3L1511.8,831.7L1502.3,819.0L1491.3,835.5 Z" fill="#fffe93" stroke="#fffe93" stroke-width="0.8"/>
<path d="M1521.4,844.5L1532.6,828.3L1523.0,815.5L1511.8,831.7 Z" fill="#ffee93" stroke="#ffee93" stroke-width="0.8"/>
<path d="M1542.2,841.0L1553.5,825.1L1543.8,812.3L1532.6,828.3 Z" fill="#ffdf92" stroke="#ffdf92" stroke-width="0.8"/>
<path d="M1563.2,837.8L1574.6,822.1L1564.9,809.4L1553.5,825.1 Z" fill="#ffd192" stroke="#ffd192" stroke-width="0.8"/>
<path d="M1584.4,834.9L1595.9,819.5L1586.1,806.8L1574.6,822.1 Z" fill="#ffc491" stroke="#ffc491" stroke-width="0.8"/>
<path d="M1605.7,832.2L1617.3,817.1L1607.5,804.4L1595.9,819.5 Z" fill="#ffb790" stroke="#ffb790" stroke-width="0.8"/>
<path d="M1627.2,829.7L1638.9,814.9L1629.0,802.3L1617.3,817.1 Z" fill="#ffab90" stroke="#ffab90" stroke-width="0.8"/>
<path d="M1648.8,827.6L1660.6,813.0L1650.7,800.4L1638.9,814.9 Z" fill="#ffa08f" stroke="#ffa08f" stroke-width="0.8"/>
<path d="M1670.6,825.6L1682.4,811.3L1672.4,798.8L1660.6,813.0 Z" fill="#ff958d" stroke="#ff958d" stroke-width="0.8"/>
<path d="M1510.3,861.1L1521.4,844.5L1511.8,831.7L1500.8,848.3 Z" fill="#fffa94" stroke="#fffa94" stroke-width="0.8"/>
<path d="M1531.0,857.3L1542.2,841.0L1532.6,828.3L1521.4,844.5 Z" fill="#ffeb93" stroke="#ffeb93" stroke-width="0.8"/>
<path d="M1551.8,853.8L1563.2,837.8L1553.5,825.1L1542.2,841.0 Z" fill="#ffdb92" stroke="#ffdb92" stroke-width="0.8"/>
<path d="M1572.9,850.6L1584.4,834.9L1574.6,822.1L1563.2,837.8 Z" fill="#ffcd92" stroke="#ffcd92" stroke-width="0.8"/>
<path d="M1594.1,847.6L1605.7,832.2L1595.9,819.5L1584.4,834.9 Z" fill="#ffc091" stroke="#ffc091" stroke-width="0.8"/>
<path d="M1615.5,844.9L1627.2,829.7L1617.3,817.1L1605.7,832.2 Z" fill="#ffb390" stroke="#ffb390" stroke-width="0.8"/>
<path d="M1637.1,842.5L1648.8,827.6L1638.9,814.9L1627.2,829.7 Z" fill="#ffa790" stroke="#ffa790" stroke-width="0.8"/>
<path d="M1658.8,840.3L1670.6,825.6L1660.6,813.0L1648.8,827.6 Z" fill="#ff9c8f" stroke="#ff9c8f" stroke-width="0.8"/>
<path d="M1519.8,873.9L1531.0,857.3L1521.4,844.5L1510.3,861.1 Z" fill="#fff794" stroke="#fff794" stroke-width="0.8"/>
<path d="M1561.5,866.7L1572.9,850.6L1563.2,837.8L1551.8,853.8 Z" fill="#ffd892" stroke="#ffd892" stroke-width="0.8"/>
<path d="M1582.6,863.4L1594.1,847.6L1584.4,834.9L1572.9,850.6 Z" fill="#ffca92" stroke="#ffca92" stroke-width="0.8"/>
<path d="M1603.9,860.4L1615.5,844.9L1605.7,832.2L1594.1,847.6 Z" fill="#ffbc91" stroke="#ffbc91" stroke-width="0.8"/>
<path d="M1647.0,855.2L1658.8,840.3L1648.8,827.6L1637.1,842.5 Z" fill="#ffa390" stroke="#ffa390" stroke-width="0.8"/>
<path d="M1540.6,870.2L1551.8,853.8L1542.2,841.0L1531.0,857.3 Z" fill="#ffe793" stroke="#ffe793" stroke-width="0.8"/>
<path d="M1625.4,857.7L1637.1,842.5L1627.2,829.7L1615.5,844.9 Z" fill="#ffaf90" stroke="#ffaf90" stroke-width="0.8"/>
<path d="M1571.2,879.5L1582.6,863.4L1572.9,850.6L1561.5,866.7 Z" fill="#ffd492" stroke="#ffd492" stroke-width="0.8"/>
<path d="M1592.3,876.3L1603.9,860.4L1594.1,847.6L1582.6,863.4 Z" fill="#ffc692" stroke="#ffc692" stroke-width="0.8"/>
<path d="M1529.4,886.8L1540.6,870.2L1531.0,857.3L1519.8,873.9 Z" fill="#fff394" stroke="#fff394" stroke-width="0.8"/>
<path d="M1550.2,883.0L1561.5,866.7L1551.8,853.8L1540.6,870.2 Z" fill="#ffe393" stroke="#ffe393" stroke-width="0.8"/>
<path d="M1613.7,873.3L1625.4,857.7L1615.5,844.9L1603.9,860.4 Z" fill="#ffb891" stroke="#ffb891" stroke-width="0.8"/>
<path d="M1635.2,870.5L1647.0,855.2L1637.1,842.5L1625.4,857.7 Z" fill="#ffac90" stroke="#ffac90" stroke-width="0.8"/>
<path d="M1538.9,899.7L1550.2,883.0L1540.6,870.2L1529.4,886.8 Z" fill="#fff094" stroke="#fff094" stroke-width="0.8"/>
<path d="M1559.8,895.9L1571.2,879.5L1561.5,866.7L1550.2,883.0 Z" fill="#ffe093" stroke="#ffe093" stroke-width="0.8"/>
<path d="M1580.9,892.4L1592.3,876.3L1582.6,863.4L1571.2,879.5 Z" fill="#ffd192" stroke="#ffd192" stroke-width="0.8"/>
<path d="M1602.1,889.2L1613.7,873.3L1603.9,860.4L1592.3,876.3 Z" fill="#ffc292" stroke="#ffc292" stroke-width="0.8"/>
<path d="M1623.5,886.1L1635.2,870.5L1625.4,857.7L1613.7,873.3 Z" fill="#ffb591" stroke="#ffb591" stroke-width="0.8"/>
<path d="M1548.5,912.6L1559.8,895.9L1550.2,883.0L1538.9,899.7 Z" fill="#ffec94" stroke="#ffec94" stroke-width="0.8"/>
<path d="M1611.9,902.1L1623.5,886.1L1613.7,873.3L1602.1,889.2 Z" fill="#ffbf92" stroke="#ffbf92" stroke-width="0.8"/>
<path d="M1569.4,908.8L1580.9,892.4L1571.2,879.5L1559.8,895.9 Z" fill="#ffdc93" stroke="#ffdc93" stroke-width="0.8"/>
<path d="M1590.6,905.3L1602.1,889.2L1592.3,876.3L1580.9,892.4 Z" fill="#ffcd92" stroke="#ffcd92" stroke-width="0.8"/>
<path d="M1558.1,925.6L1569.4,908.8L1559.8,895.9L1548.5,912.6 Z" fill="#ffe994" stroke="#ffe994" stroke-width="0.8"/>
<path d="M1579.1,921.8L1590.6,905.3L1580.9,892.4L1569.4,908.8 Z" fill="#ffd993" stroke="#ffd993" stroke-width="0.8"/>
<path d="M1600.3,918.3L1611.9,902.1L1602.1,889.2L1590.6,905.3 Z" fill="#ffca92" stroke="#ffca92" stroke-width="0.8"/>
<path d="M1567.7,938.6L1579.1,921.8L1569.4,908.8L1558.1,925.6 Z" fill="#ffe694" stroke="#ffe694" stroke-width="0.8"/>
<path d="M1588.8,934.8L1600.3,918.3L1590.6,905.3L1579.1,921.8 Z" fill="#ffd593" stroke="#ffd593" stroke-width="0.8"/>
<path d="M1577.4,951.6L1588.8,934.8L1579.1,921.8L1567.7,938.6 Z" fill="#ffe294" stroke="#ffe294" stroke-width="0.8"/>
<path d="M1577.4,951.6L1558.1,925.6L1538.9,899.7L1519.8,873.9L1500.8,848.3L1481.8,822.7L1463.0,797.3L1444.2,772.0L1425.4,746.8L1406.7,721.6L1388.2,696.6L1369.6,671.7L1351.2,646.9L1332.8,622.2L1314.5,597.5L1296.3,573.0L1278.1,548.5L1260.1,524.2L1242.0,499.9M1577.4,951.6L1600.3,918.3L1623.5,886.1L1647.0,855.2L1670.6,825.6L1694.3,797.4L1717.9,770.6L1741.5,745.4L1764.9,721.7L1788.0,699.8L1810.9,679.6L1833.3,661.2L1855.3,644.7L1876.7,630.2L1897.4,617.8L1917.3,608.2L1936.3,601.4L1954.3,596.9L1971.4,594.8M1581.3,945.8L1562.0,919.8L1542.8,893.9L1523.7,868.1L1504.6,842.5L1485.6,817.0L1466.7,791.6L1447.9,766.3L1429.1,741.1L1410.4,716.0L1391.8,691.0L1373.2,666.1L1354.7,641.3L1336.3,616.5L1318.0,591.9L1299.7,567.4L1281.6,542.9L1263.4,518.6L1245.4,494.3M1574.0,947.1L1596.9,913.8L1620.1,881.7L1643.6,850.8L1667.1,821.2L1690.8,793.1L1714.4,766.3L1738.0,741.2L1761.4,717.6L1784.5,695.7L1807.3,675.6L1829.8,657.3L1851.7,640.9L1873.1,626.5L1893.9,614.1L1913.8,604.6L1932.8,597.9L1950.9,593.4L1968.0,591.3M1585.3,939.9L1565.9,914.0L1546.7,888.1L1527.5,862.4L1508.4,836.8L1489.4,811.3L1470.5,785.9L1451.6,760.6L1432.8,735.4L1414.0,710.3L1395.4,685.4L1376.8,660.5L1358.3,635.7L1339.9,611.0L1321.5,586.3L1303.2,561.8L1285.0,537.4L1266.8,513.1L1248.8,488.8M1570.7,942.6L1593.6,909.3L1616.7,877.2L1640.1,846.4L1663.7,816.9L1687.3,788.7L1710.9,762.1L1734.5,737.0L1757.8,713.4L1781.0,691.6L1803.8,671.6L1826.2,653.4L1848.2,637.1L1869.6,622.7L1890.4,610.5L1910.3,601.1L1929.3,594.3L1947.4,589.9L1964.6,587.9M1589.2,934.2L1569.9,908.2L1550.6,882.4L1531.4,856.7L1512.3,831.1L1493.2,805.6L1474.2,780.3L1455.3,755.0L1436.5,729.8L1417.7,704.8L1399.0,679.8L1380.4,654.9L1361.9,630.1L1343.4,605.4L1325.0,580.8L1306.7,556.3L1288.5,531.9L1270.3,507.6L1252.2,483.3M1567.4,938.1L1590.2,904.8L1613.3,872.8L1636.7,842.0L1660.2,812.5L1683.8,784.4L1707.4,757.8L1731.0,732.7L1754.3,709.3L1777.5,687.6L1800.3,667.6L1822.7,649.4L1844.7,633.2L1866.1,619.0L1886.9,606.8L1906.8,597.5L1925.9,590.8L1944.0,586.5L1961.2,584.5M1593.2,928.4L1573.8,902.5L1554.5,876.7L1535.3,851.0L1516.1,825.5L1497.0,800.0L1478.0,774.7L1459.1,749.4L1440.2,724.3L1421.4,699.2L1402.7,674.2L1384.1,649.4L1365.5,624.6L1347.0,599.9L1328.6,575.4L1310.2,550.9L1291.9,526.4L1273.7,502.1L1255.6,477.9M1564.0,933.6L1586.8,900.4L1609.9,868.3L1633.3,837.6L1656.8,808.1L1680.4,780.1L1704.0,753.5L1727.5,728.5L1750.8,705.2L1773.9,683.5L1796.8,663.6L1819.2,645.5L1841.1,629.4L1862.6,615.3L1883.3,603.2L1903.3,593.9L1922.4,587.3L1940.6,583.0L1957.8,581.1M1597.2,922.7L1577.8,896.8L1558.4,871.0L1539.2,845.4L1520.0,819.9L1500.8,794.4L1481.8,769.1L1462.8,743.9L1443.9,718.7L1425.1,693.7L1406.4,668.8L1387.7,643.9L1369.1,619.2L1350.6,594.5L1332.1,569.9L1313.7,545.4L1295.4,521.0L1277.2,496.7L1259.0,472.5M1560.7,929.1L1583.5,895.9L1606.5,863.9L1629.9,833.2L1653.3,803.8L1676.9,775.8L1700.5,749.3L1724.0,724.4L1747.3,701.0L1770.4,679.4L1793.2,659.6L1815.7,641.6L1837.6,625.6L1859.0,611.5L1879.8,599.5L1899.8,590.3L1918.9,583.8L1937.2,579.5L1954.4,577.7M1601.2,917.0L1581.7,891.2L1562.4,865.4L1543.1,839.8L1523.8,814.3L1504.7,788.9L1485.6,763.6L1466.6,738.4L1447.7,713.3L1428.8,688.2L1410.1,663.3L1391.4,638.5L1372.7,613.8L1354.2,589.1L1335.7,564.6L1317.3,540.1L1298.9,515.7L1280.7,491.4L1262.5,467.2M1557.4,924.6L1580.1,891.4L1603.2,859.5L1626.4,828.8L1649.9,799.4L1673.4,771.5L1697.0,745.0L1720.5,720.2L1743.8,696.9L1766.9,675.4L1789.7,655.6L1812.1,637.7L1834.1,621.8L1855.5,607.8L1876.3,595.9L1896.3,586.8L1915.5,580.3L1933.8,576.1L1951.1,574.3M1605.2,911.4L1585.7,885.5L1566.3,859.8L1547.0,834.2L1527.7,808.8L1508.5,783.4L1489.4,758.1L1470.4,732.9L1451.4,707.8L1432.6,682.8L1413.8,657.9L1395.0,633.1L1376.4,608.4L1357.8,583.8L1339.3,559.2L1320.8,534.8L1302.5,510.4L1284.2,486.1L1265.9,461.9M1554.1,920.1L1576.7,887.0L1599.8,855.0L1623.0,824.4L1646.5,795.1L1670.0,767.2L1693.5,740.8L1717.0,716.0L1740.3,692.8L1763.4,671.3L1786.2,651.6L1808.6,633.8L1830.6,617.9L1852.0,604.1L1872.8,592.2L1892.9,583.2L1912.0,576.7L1930.3,572.6L1947.7,570.9M1609.2,905.8L1589.7,880.0L1570.2,854.3L1550.9,828.7L1531.6,803.3L1512.4,777.9L1493.3,752.6L1474.2,727.5L1455.2,702.4L1436.3,677.5L1417.5,652.6L1398.7,627.8L1380.0,603.1L1361.4,578.5L1342.9,554.0L1324.4,529.5L1306.0,505.2L1287.7,480.9L1269.4,456.7M1550.7,915.6L1573.4,882.5L1596.4,850.6L1619.6,820.0L1643.0,790.7L1666.5,762.9L1690.0,736.5L1713.5,711.8L1736.8,688.7L1759.9,667.3L1782.7,647.7L1805.1,629.9L1827.1,614.1L1848.5,600.3L1869.3,588.6L1889.4,579.6L1908.6,573.2L1926.9,569.2L1944.3,567.5M1613.2,900.2L1593.7,874.4L1574.2,848.8L1554.8,823.2L1535.5,797.8L1516.3,772.5L1497.1,747.2L1478.0,722.1L1459.0,697.1L1440.1,672.1L1421.2,647.3L1402.4,622.5L1383.7,597.8L1365.1,573.2L1346.5,548.7L1328.0,524.3L1309.6,500.0L1291.2,475.7L1272.9,451.5M1547.4,911.1L1570.0,878.0L1593.0,846.2L1616.2,815.6L1639.6,786.4L1663.1,758.6L1686.6,732.3L1710.0,707.6L1733.3,684.5L1756.4,663.2L1779.2,643.7L1801.6,626.0L1823.6,610.3L1845.0,596.6L1865.9,585.0L1885.9,576.0L1905.2,569.7L1923.5,565.7L1941.0,564.1M1617.2,894.7L1597.7,868.9L1578.2,843.3L1558.8,817.8L1539.4,792.4L1520.1,767.1L1501.0,741.9L1481.8,716.8L1462.8,691.8L1443.8,666.8L1424.9,642.0L1406.1,617.3L1387.4,592.6L1368.7,568.0L1350.1,543.6L1331.6,519.1L1313.2,494.8L1294.8,470.6L1276.5,446.4M1544.1,906.6L1566.7,873.6L1589.6,841.7L1612.8,811.2L1636.2,782.0L1659.6,754.3L1683.1,728.0L1706.5,703.4L1729.8,680.4L1752.9,659.2L1775.7,639.7L1798.1,622.1L1820.1,606.5L1841.5,592.9L1862.4,581.3L1882.5,572.5L1901.7,566.2L1920.1,562.2L1937.6,560.7M1621.3,889.2L1601.7,863.5L1582.2,837.9L1562.7,812.4L1543.3,787.0L1524.0,761.8L1504.8,736.6L1485.7,711.5L1466.6,686.5L1447.6,661.6L1428.7,636.8L1409.9,612.1L1391.1,587.5L1372.4,562.9L1353.8,538.4L1335.2,514.0L1316.8,489.7L1298.4,465.5L1280.0,441.3M1540.8,902.2L1563.3,869.1L1586.2,837.3L1609.4,806.8L1632.7,777.7L1656.2,750.0L1679.6,723.8L1703.0,699.2L1726.3,676.3L1749.4,655.1L1772.2,635.7L1794.6,618.2L1816.6,602.7L1838.0,589.1L1858.9,577.7L1879.0,568.9L1898.3,562.7L1916.7,558.8L1934.2,557.3M1625.3,883.7L1605.7,858.0L1586.1,832.5L1566.7,807.0L1547.3,781.7L1527.9,756.5L1508.7,731.3L1489.5,706.3L1470.4,681.3L1451.4,656.4L1432.5,631.6L1413.6,606.9L1394.8,582.3L1376.1,557.8L1357.4,533.4L1338.9,509.0L1320.4,484.7L1301.9,460.5L1283.6,436.3M1537.5,897.7L1560.0,864.7L1582.9,832.9L1606.0,802.4L1629.3,773.3L1652.7,745.7L1676.2,719.6L1699.6,695.1L1722.8,672.2L1745.9,651.1L1768.7,631.8L1791.1,614.4L1813.1,598.9L1834.5,585.4L1855.4,574.1L1875.5,565.3L1894.9,559.2L1913.3,555.3L1930.9,553.9M1629.4,878.3L1609.7,852.6L1590.1,827.1L1570.6,801.7L1551.2,776.4L1531.8,751.2L1512.6,726.1L1493.4,701.1L1474.3,676.1L1455.2,651.3L1436.3,626.5L1417.4,601.9L1398.5,577.3L1379.8,552.8L1361.1,528.3L1342.5,504.0L1324.0,479.7L1305.5,455.5L1287.2,431.4M1534.2,893.2L1556.7,860.2L1579.5,828.5L1602.6,798.1L1625.9,769.0L1649.3,741.4L1672.7,715.3L1696.1,690.9L1719.3,668.1L1742.4,647.0L1765.2,627.8L1787.6,610.5L1809.6,595.1L1831.0,581.7L1851.9,570.4L1872.1,561.8L1891.4,555.7L1909.9,551.9L1927.5,550.4M1633.4,872.9L1613.7,847.3L1594.1,821.8L1574.6,796.4L1555.1,771.2L1535.8,746.0L1516.5,720.9L1497.2,695.9L1478.1,671.0L1459.0,646.2L1440.0,621.5L1421.1,596.8L1402.3,572.2L1383.5,547.8L1364.8,523.4L1346.2,499.0L1327.6,474.8L1309.2,450.6L1290.8,426.5M1530.8,888.8L1553.3,855.8L1576.1,824.1L1599.2,793.7L1622.5,764.7L1645.8,737.1L1669.2,711.1L1692.6,686.7L1715.9,664.0L1738.9,643.0L1761.7,623.9L1784.1,606.6L1806.1,591.3L1827.6,578.0L1848.5,566.8L1868.6,558.2L1888.0,552.1L1906.6,548.4L1924.2,547.0M1637.5,867.6L1617.8,842.0L1598.1,816.5L1578.6,791.2L1559.1,766.0L1539.7,740.8L1520.4,715.8L1501.1,690.8L1482.0,665.9L1462.9,641.1L1443.8,616.4L1424.9,591.8L1406.0,567.3L1387.2,542.8L1368.5,518.4L1349.9,494.1L1331.3,469.9L1312.8,445.7L1294.4,421.6M1527.5,884.3L1550.0,851.4L1572.8,819.7L1595.8,789.3L1619.0,760.3L1642.4,732.8L1665.8,706.9L1689.1,682.5L1712.4,659.9L1735.4,639.0L1758.2,619.9L1780.6,602.7L1802.6,587.5L1824.1,574.3L1845.0,563.2L1865.2,554.7L1884.6,548.6L1903.2,544.9L1920.8,543.6M1641.5,862.2L1621.8,836.7L1602.1,811.3L1582.6,786.0L1563.1,760.8L1543.6,735.7L1524.3,710.7L1505.0,685.7L1485.8,660.9L1466.7,636.1L1447.7,611.5L1428.7,586.9L1409.8,562.4L1391.0,537.9L1372.2,513.6L1353.6,489.3L1335.0,465.1L1316.5,440.9L1298.0,416.8M1524.2,879.9L1546.6,846.9L1569.4,815.3L1592.4,784.9L1615.6,756.0L1639.0,728.5L1662.3,702.6L1685.7,678.4L1708.9,655.8L1731.9,634.9L1754.7,615.9L1777.1,598.8L1799.1,583.7L1820.6,570.6L1841.5,559.6L1861.7,551.1L1881.2,545.1L1899.8,541.5L1917.5,540.2M1645.6,857.0L1625.9,831.5L1606.2,806.1L1586.6,780.8L1567.0,755.7L1547.6,730.6L1528.2,705.6L1508.9,680.7L1489.7,655.9L1470.5,631.2L1451.5,606.5L1432.5,582.0L1413.6,557.5L1394.7,533.1L1376.0,508.8L1357.3,484.5L1338.7,460.3L1320.1,436.2L1301.6,412.1M1520.9,875.4L1543.3,842.5L1566.0,810.9L1589.0,780.6L1612.2,751.7L1635.5,724.3L1658.9,698.4L1682.2,674.2L1705.4,651.7L1728.4,630.9L1751.2,612.0L1773.6,594.9L1795.6,579.9L1817.1,566.8L1838.1,555.9L1858.3,547.6L1877.8,541.6L1896.4,538.0L1914.2,536.8M1649.7,851.7L1629.9,826.3L1610.2,801.0L1590.6,775.7L1571.0,750.6L1551.5,725.5L1532.1,700.6L1512.8,675.7L1493.6,651.0L1474.4,626.3L1455.3,601.7L1436.3,577.1L1417.4,552.7L1398.5,528.3L1379.7,504.0L1361.0,479.7L1342.4,455.6L1323.8,431.5L1305.3,407.4M1517.6,871.0L1540.0,838.1L1562.7,806.5L1585.6,776.2L1608.8,747.4L1632.1,720.0L1655.4,694.2L1678.7,670.0L1701.9,647.6L1725.0,626.9L1747.7,608.0L1770.1,591.1L1792.2,576.1L1813.7,563.1L1834.6,552.3L1854.9,544.0L1874.4,538.1L1893.0,534.6L1910.8,533.4M1653.8,846.5L1634.0,821.1L1614.2,795.8L1594.6,770.6L1575.0,745.6L1555.5,720.6L1536.1,695.6L1516.7,670.8L1497.5,646.1L1478.3,621.4L1459.2,596.8L1440.1,572.3L1421.2,547.9L1402.3,523.6L1383.5,499.3L1364.7,475.1L1346.1,450.9L1327.5,426.8L1309.0,402.8M1514.3,866.5L1536.6,833.7L1559.3,802.1L1582.2,771.9L1605.4,743.0L1628.7,715.7L1652.0,690.0L1675.3,665.9L1698.5,643.5L1721.5,622.9L1744.3,604.1L1766.7,587.2L1788.7,572.3L1810.2,559.4L1831.2,548.7L1851.4,540.4L1871.0,534.6L1889.7,531.1L1907.5,530.0M1657.9,841.4L1638.0,816.0L1618.2,790.8L1598.6,765.6L1579.0,740.6L1559.4,715.6L1540.0,690.7L1520.6,665.9L1501.4,641.2L1482.1,616.6L1463.0,592.1L1444.0,567.6L1425.0,543.2L1406.1,518.9L1387.3,494.6L1368.5,470.4L1349.8,446.3L1331.2,422.3L1312.7,398.3M1511.0,862.1L1533.3,829.2L1555.9,797.7L1578.9,767.5L1602.0,738.7L1625.2,711.4L1648.5,685.8L1671.8,661.7L1695.0,639.4L1718.0,618.8L1740.8,600.1L1763.2,583.3L1785.2,568.5L1806.7,555.7L1827.7,545.1L1848.0,536.9L1867.6,531.1L1886.3,527.6L1904.2,526.6M1661.9,836.3L1642.1,811.0L1622.3,785.7L1602.6,760.6L1583.0,735.6L1563.4,710.7L1543.9,685.9L1524.6,661.1L1505.3,636.4L1486.0,611.8L1466.9,587.3L1447.8,562.9L1428.8,538.5L1409.9,514.2L1391.0,490.0L1372.3,465.9L1353.6,441.8L1334.9,417.7L1316.4,393.8M1507.7,857.6L1530.0,824.8L1552.6,793.3L1575.5,763.1L1598.6,734.4L1621.8,707.2L1645.1,681.5L1668.4,657.6L1691.6,635.3L1714.6,614.8L1737.3,596.2L1759.7,579.4L1781.7,564.7L1803.3,552.0L1824.3,541.5L1844.6,533.3L1864.2,527.6L1883.0,524.2L1900.9,523.2M1666.0,831.2L1646.1,805.9L1626.3,780.8L1606.6,755.7L1587.0,730.7L1567.4,705.8L1547.9,681.0L1528.5,656.3L1509.2,631.7L1489.9,607.1L1470.7,582.6L1451.7,558.2L1432.6,533.9L1413.7,509.7L1394.8,485.5L1376.0,461.3L1357.3,437.3L1338.7,413.3L1320.1,389.3M1504.5,853.2L1526.7,820.4L1549.2,788.9L1572.1,758.8L1595.2,730.1L1618.4,702.9L1641.7,677.3L1664.9,653.4L1688.1,631.2L1711.1,610.8L1733.8,592.2L1756.3,575.6L1778.3,560.9L1799.8,548.3L1820.8,537.8L1841.2,529.8L1860.8,524.1L1879.6,520.7L1897.6,519.8M1670.1,826.2L1650.2,800.9L1630.4,775.8L1610.6,750.8L1591.0,725.9L1571.4,701.0L1551.9,676.3L1532.4,651.6L1513.1,627.0L1493.8,602.5L1474.6,578.0L1455.5,553.6L1436.5,529.4L1417.5,505.1L1398.6,481.0L1379.8,456.9L1361.1,432.8L1342.4,408.8L1323.8,384.9M1501.2,848.8L1523.3,816.0L1545.9,784.5L1568.7,754.5L1591.8,725.8L1615.0,698.6L1638.2,673.1L1661.5,649.3L1684.6,627.1L1707.6,606.8L1730.4,588.3L1752.8,571.7L1774.8,557.1L1796.4,544.6L1817.4,534.2L1837.7,526.2L1857.4,520.6L1876.2,517.3L1894.2,516.4M1674.2,821.2L1654.3,796.0L1634.4,770.9L1614.7,745.9L1595.0,721.0L1575.3,696.2L1555.8,671.5L1536.4,646.9L1517.0,622.3L1497.7,597.8L1478.5,573.4L1459.4,549.1L1440.3,524.8L1421.3,500.6L1402.4,476.5L1383.6,452.4L1364.8,428.4L1346.2,404.5L1327.5,380.6M1497.9,844.3L1520.0,811.6L1542.5,780.2L1565.3,750.1L1588.4,721.5L1611.6,694.4L1634.8,668.9L1658.0,645.1L1681.2,623.0L1704.2,602.8L1726.9,584.3L1749.3,567.8L1771.4,553.3L1792.9,540.9L1814.0,530.6L1834.3,522.7L1854.0,517.1L1872.9,513.8L1890.9,513.0M1678.3,816.2L1658.4,791.1L1638.5,766.1L1618.7,741.1L1599.0,716.3L1579.3,691.5L1559.8,666.8L1540.3,642.2L1520.9,617.7L1501.6,593.3L1482.4,568.9L1463.3,544.6L1444.2,520.4L1425.2,496.2L1406.3,472.1L1387.4,448.1L1368.6,424.1L1349.9,400.2L1331.3,376.3M1494.6,839.9L1516.7,807.2L1539.2,775.8L1562.0,745.8L1585.0,717.2L1608.1,690.1L1631.4,664.7L1654.6,641.0L1677.7,619.0L1700.7,598.7L1723.4,580.4L1745.9,564.0L1767.9,549.5L1789.5,537.2L1810.5,527.0L1830.9,519.2L1850.6,513.6L1869.6,510.4L1887.6,509.5M1682.4,811.3L1662.4,786.2L1642.5,761.2L1622.7,736.4L1603.0,711.6L1583.3,686.8L1563.8,662.2L1544.3,637.7L1524.9,613.2L1505.6,588.8L1486.3,564.4L1467.1,540.2L1448.1,516.0L1429.0,491.9L1410.1,467.8L1391.2,443.8L1372.4,419.8L1353.7,395.9L1335.1,372.1M1491.3,835.5L1513.4,802.8L1535.8,771.4L1558.6,741.4L1581.6,712.9L1604.7,685.9L1627.9,660.5L1651.2,636.8L1674.3,614.9L1697.3,594.7L1720.0,576.4L1742.4,560.1L1764.5,545.8L1786.1,533.5L1807.1,523.4L1827.5,515.6L1847.2,510.1L1866.2,506.9L1884.3,506.1M1686.5,806.5L1666.5,781.4L1646.6,756.5L1626.7,731.6L1607.0,706.9L1587.3,682.2L1567.7,657.6L1548.2,633.1L1528.8,608.7L1509.5,584.3L1490.2,560.0L1471.0,535.8L1451.9,511.6L1432.9,487.5L1413.9,463.5L1395.1,439.5L1376.2,415.6L1357.5,391.8L1338.8,368.0M1488.0,831.1L1510.1,798.4L1532.5,767.0L1555.2,737.1L1578.2,708.6L1601.3,681.6L1624.5,656.3L1647.7,632.7L1670.8,610.8L1693.8,590.7L1716.5,572.5L1739.0,556.2L1761.0,542.0L1782.6,529.8L1803.7,519.8L1824.1,512.0L1843.9,506.6L1862.9,503.4L1881.1,502.6M1690.6,801.6L1670.6,776.6L1650.6,751.8L1630.8,727.0L1611.0,702.3L1591.3,677.6L1571.7,653.1L1552.2,628.6L1532.8,604.2L1513.4,579.9L1494.1,555.6L1474.9,531.5L1455.8,507.3L1436.8,483.3L1417.8,459.3L1398.9,435.3L1380.1,411.5L1361.3,387.6L1342.6,363.9M1484.8,826.7L1506.8,794.0L1529.2,762.7L1551.9,732.8L1574.8,704.3L1597.9,677.4L1621.1,652.1L1644.3,628.5L1667.4,606.7L1690.4,586.7L1713.1,568.6L1735.5,552.4L1757.6,538.2L1779.2,526.1L1800.3,516.2L1820.7,508.5L1840.5,503.0L1859.6,499.8L1877.8,499.1M1694.7,796.9L1674.7,771.9L1654.7,747.1L1634.8,722.3L1615.0,697.7L1595.3,673.1L1575.7,648.6L1556.2,624.2L1536.7,599.8L1517.3,575.5L1498.1,551.3L1478.8,527.2L1459.7,503.1L1440.6,479.1L1421.6,455.1L1402.7,431.2L1383.9,407.4L1365.1,383.6L1346.4,359.8M1481.5,822.2L1503.5,789.6L1525.8,758.3L1548.5,728.4L1571.4,700.0L1594.5,673.1L1617.7,647.9L1640.8,624.4L1663.9,602.6L1686.9,582.7L1709.6,564.6L1732.1,548.5L1754.1,534.4L1775.8,522.4L1796.8,512.6L1817.3,504.9L1837.2,499.5L1856.2,496.3L1874.5,495.6M1698.8,792.1L1678.7,767.2L1658.8,742.4L1638.9,717.7L1619.1,693.1L1599.3,668.6L1579.7,644.1L1560.1,619.8L1540.7,595.5L1521.3,571.2L1502.0,547.1L1482.7,523.0L1463.6,498.9L1444.5,474.9L1425.5,451.0L1406.6,427.1L1387.7,403.3L1368.9,379.6L1350.2,355.8M1478.2,817.8L1500.2,785.2L1522.5,754.0L1545.2,724.1L1568.0,695.7L1591.1,668.9L1614.3,643.7L1637.4,620.3L1660.5,598.6L1683.5,578.7L1706.2,560.7L1728.6,544.7L1750.7,530.7L1772.3,518.7L1793.4,509.0L1813.9,501.4L1833.8,495.9L1852.9,492.8L1871.2,492.0M1702.9,787.4L1682.8,762.6L1662.8,737.9L1642.9,713.2L1623.1,688.6L1603.3,664.2L1583.7,639.8L1564.1,615.4L1544.6,591.2L1525.2,567.0L1505.9,542.8L1486.7,518.8L1467.5,494.8L1448.4,470.8L1429.4,446.9L1410.4,423.1L1391.6,399.3L1372.8,375.6L1354.0,351.9M1474.9,813.4L1496.9,780.8L1519.2,749.6L1541.8,719.8L1564.7,691.4L1587.7,664.6L1610.8,639.5L1634.0,616.1L1657.1,594.5L1680.0,574.7L1702.8,556.8L1725.2,540.8L1747.3,526.9L1768.9,515.0L1790.0,505.4L1810.6,497.8L1830.5,492.4L1849.6,489.2L1868.0,488.5M1707.0,782.8L1686.9,758.0L1666.9,733.3L1647.0,708.7L1627.1,684.2L1607.4,659.8L1587.7,635.4L1568.1,611.2L1548.6,586.9L1529.2,562.8L1509.8,538.7L1490.6,514.7L1471.4,490.8L1452.3,466.9L1433.3,443.0L1414.3,419.2L1395.4,395.5L1376.6,371.8L1357.9,348.2M1471.7,809.0L1493.6,776.5L1515.8,745.2L1538.4,715.4L1561.3,687.1L1584.3,660.4L1607.4,635.3L1630.6,612.0L1653.6,590.4L1676.6,570.7L1699.3,552.8L1721.8,537.0L1743.8,523.1L1765.5,511.4L1786.6,501.8L1807.2,494.3L1827.1,488.9L1846.3,485.8L1864.7,485.1M1711.1,778.2L1691.0,753.5L1670.9,728.8L1651.0,704.3L1631.1,679.8L1611.4,655.5L1591.7,631.2L1572.1,606.9L1552.6,582.8L1533.1,558.7L1513.8,534.7L1494.5,510.7L1475.3,486.8L1456.2,462.9L1437.2,439.2L1418.2,415.4L1399.3,391.7L1380.5,368.1L1361.7,344.5M1468.4,804.6L1490.3,772.1L1512.5,740.9L1535.1,711.1L1557.9,682.9L1580.9,656.1L1604.0,631.1L1627.1,607.9L1650.2,586.4L1673.2,566.7L1695.9,548.9L1718.3,533.1L1740.4,519.3L1762.1,507.7L1783.2,498.2L1803.8,490.7L1823.7,485.4L1843.0,482.4L1861.4,481.7M1715.2,773.6L1695.0,749.0L1675.0,724.4L1655.0,699.9L1635.2,675.5L1615.4,651.2L1595.7,626.9L1576.1,602.8L1556.5,578.7L1537.1,554.6L1517.7,530.7L1498.5,506.7L1479.3,482.9L1460.1,459.1L1441.1,435.4L1422.1,411.7L1403.2,388.0L1384.4,364.4L1365.6,340.9M1465.1,800.2L1487.0,767.7L1509.2,736.5L1531.7,706.8L1554.5,678.6L1577.5,651.9L1600.6,626.9L1623.7,603.7L1646.8,582.3L1669.7,562.7L1692.5,545.0L1714.9,529.3L1737.0,515.6L1758.7,504.0L1779.8,494.6L1800.4,487.2L1820.4,481.9L1839.7,478.9L1858.1,478.4M1719.3,769.1L1699.1,744.5L1679.1,720.0L1659.1,695.6L1639.2,671.2L1619.4,647.0L1599.7,622.8L1580.1,598.7L1560.5,574.6L1541.1,550.6L1521.7,526.7L1502.4,502.9L1483.2,479.1L1464.0,455.3L1445.0,431.6L1426.0,408.0L1407.1,384.4L1388.3,360.8L1369.5,337.3M1461.9,795.8L1483.7,763.3L1505.9,732.2L1528.4,702.5L1551.2,674.3L1574.1,647.7L1597.2,622.8L1620.3,599.6L1643.4,578.2L1666.3,558.7L1689.0,541.1L1711.5,525.4L1733.6,511.8L1755.3,500.3L1776.4,491.0L1797.0,483.7L1817.0,478.5L1836.3,475.5L1854.8,475.0M1723.4,764.6L1703.2,740.1L1683.1,715.6L1663.1,691.3L1643.2,667.0L1623.4,642.8L1603.7,618.7L1584.0,594.6L1564.5,570.6L1545.0,546.7L1525.6,522.8L1506.3,499.0L1487.1,475.3L1468.0,451.6L1448.9,427.9L1429.9,404.3L1411.0,380.8L1392.1,357.3L1373.4,333.9M1458.6,791.5L1480.4,759.0L1502.5,727.9L1525.0,698.2L1547.8,670.0L1570.8,643.4L1593.8,618.6L1616.9,595.5L1639.9,574.2L1662.9,554.7L1685.6,537.2L1708.1,521.6L1730.2,508.0L1751.8,496.6L1773.0,487.4L1793.7,480.2L1813.7,475.0L1833.0,472.1L1851.6,471.6M1727.4,760.2L1707.3,735.7L1687.2,711.3L1667.2,687.0L1647.2,662.8L1627.4,638.7L1607.7,614.6L1588.0,590.6L1568.5,566.7L1549.0,542.8L1529.6,519.0L1510.3,495.2L1491.1,471.5L1471.9,447.9L1452.8,424.3L1433.8,400.8L1414.9,377.3L1396.0,353.8L1377.3,330.4M1455.4,787.1L1477.1,754.6L1499.2,723.5L1521.7,693.9L1544.4,665.8L1567.4,639.2L1590.4,614.4L1613.5,591.4L1636.5,570.1L1659.4,550.7L1682.2,533.2L1704.6,517.7L1726.7,504.3L1748.4,492.9L1769.6,483.8L1790.3,476.6L1810.4,471.5L1829.7,468.7L1848.3,468.3M1731.5,755.9L1711.3,731.4L1691.2,707.1L1671.2,682.9L1651.3,658.7L1631.4,634.6L1611.7,610.6L1592.0,586.6L1572.4,562.8L1553.0,538.9L1533.6,515.2L1514.2,491.5L1495.0,467.9L1475.8,444.3L1456.7,420.7L1437.7,397.3L1418.8,373.8L1400.0,350.4L1381.2,327.1M1452.1,782.7L1473.8,750.2L1495.9,719.2L1518.4,689.6L1541.1,661.5L1564.0,635.0L1587.0,610.2L1610.1,587.3L1633.1,566.1L1656.0,546.7L1678.8,529.3L1701.2,513.9L1723.3,500.5L1745.0,489.2L1766.3,480.2L1786.9,473.1L1807.0,468.0L1826.4,465.2L1845.0,464.9M1735.6,751.5L1715.4,727.2L1695.3,702.9L1675.2,678.7L1655.3,654.6L1635.4,630.6L1615.7,606.6L1596.0,582.7L1576.4,558.9L1556.9,535.2L1537.5,511.5L1518.2,487.8L1498.9,464.2L1479.8,440.7L1460.7,417.2L1441.7,393.8L1422.7,370.4L1403.9,347.1L1385.1,323.8M1448.8,778.3L1470.5,745.9L1492.6,714.8L1515.0,685.3L1537.7,657.2L1560.6,630.8L1583.6,606.1L1606.7,583.1L1629.7,562.0L1652.6,542.7L1675.3,525.4L1697.8,510.0L1719.9,496.7L1741.7,485.6L1762.9,476.6L1783.6,469.6L1803.7,464.6L1823.1,461.8L1841.8,461.5M1739.7,747.3L1719.4,722.9L1699.3,698.7L1679.3,674.6L1659.3,650.6L1639.4,626.6L1619.7,602.7L1600.0,578.9L1580.4,555.1L1560.9,531.4L1541.5,507.8L1522.1,484.2L1502.9,460.7L1483.7,437.2L1464.6,413.8L1445.6,390.4L1426.6,367.1L1407.8,343.8L1389.0,320.5M1445.6,773.9L1467.2,741.5L1489.3,710.5L1511.7,681.0L1534.4,652.9L1557.2,626.5L1580.2,601.9L1603.3,579.0L1626.3,558.0L1649.2,538.8L1671.9,521.5L1694.4,506.2L1716.5,493.0L1738.3,481.9L1759.5,473.0L1780.2,466.1L1800.4,461.1L1819.8,458.4L1838.5,458.1M1743.7,743.0L1723.5,718.8L1703.3,694.6L1683.3,670.6L1663.3,646.6L1643.5,622.7L1623.7,598.9L1604.0,575.1L1584.4,551.4L1564.9,527.7L1545.4,504.2L1526.1,480.6L1506.8,457.2L1487.6,433.8L1468.5,410.4L1449.5,387.1L1430.6,363.8L1411.7,340.6L1392.9,317.4M1442.3,769.6L1463.9,737.2L1486.0,706.2L1508.4,676.7L1531.0,648.7L1553.9,622.3L1576.8,597.7L1599.9,574.9L1622.9,553.9L1645.8,534.8L1668.5,517.6L1691.0,502.4L1713.1,489.2L1734.9,478.2L1756.1,469.4L1776.9,462.5L1797.0,457.6L1816.5,455.0L1835.2,454.8M1747.8,738.8L1727.5,714.7L1707.4,690.6L1687.3,666.6L1667.3,642.7L1647.5,618.8L1627.7,595.1L1608.0,571.3L1588.4,547.7L1568.8,524.1L1549.4,500.6L1530.0,477.1L1510.8,453.7L1491.6,430.4L1472.5,407.1L1453.5,383.8L1434.5,360.6L1415.6,337.4L1396.8,314.2M1439.1,765.2L1460.7,732.8L1482.7,701.8L1505.0,672.4L1527.7,644.4L1550.5,618.1L1573.5,593.5L1596.5,570.8L1619.5,549.9L1642.4,530.8L1665.1,513.7L1687.6,498.5L1709.7,485.5L1731.5,474.5L1752.8,465.8L1773.5,459.0L1793.7,454.1L1813.2,451.6L1832.0,451.4M1751.9,734.7L1731.6,710.6L1711.4,686.6L1691.3,662.6L1671.4,638.8L1651.5,615.0L1631.7,591.3L1612.0,567.7L1592.3,544.1L1572.8,520.6L1553.4,497.1L1534.0,473.7L1514.7,450.3L1495.5,427.0L1476.4,403.8L1457.4,380.6L1438.4,357.4L1419.6,334.3L1400.7,311.2M1435.9,760.8L1457.4,728.5L1479.4,697.5L1501.7,668.1L1524.3,640.2L1547.1,613.9L1570.1,589.4L1593.1,566.7L1616.1,545.8L1639.0,526.8L1661.7,509.7L1684.2,494.7L1706.3,481.7L1728.1,470.9L1749.4,462.2L1770.2,455.5L1790.4,450.7L1809.9,448.1L1828.7,448.0M1755.9,730.6L1735.6,706.6L1715.4,682.6L1695.4,658.8L1675.4,635.0L1655.5,611.3L1635.7,587.6L1615.9,564.0L1596.3,540.5L1576.8,517.1L1557.3,493.7L1538.0,470.3L1518.7,447.0L1499.5,423.8L1480.4,400.6L1461.3,377.4L1442.4,354.3L1423.5,331.2L1404.7,308.2M1432.6,756.5L1454.1,724.1L1476.1,693.2L1498.4,663.8L1521.0,635.9L1543.8,609.7L1566.7,585.2L1589.7,562.6L1612.7,541.8L1635.6,522.8L1658.3,505.8L1680.8,490.9L1703.0,478.0L1724.7,467.2L1746.0,458.6L1766.8,452.0L1787.1,447.2L1806.7,444.7L1825.5,444.7M1760.0,726.6L1739.7,702.6L1719.5,678.7L1699.4,654.9L1679.4,631.2L1659.5,607.6L1639.6,584.0L1619.9,560.5L1600.3,537.0L1580.7,513.6L1561.3,490.3L1541.9,467.0L1522.6,443.8L1503.4,420.6L1484.3,397.4L1465.3,374.3L1446.3,351.3L1427.4,328.3L1408.6,305.3M1429.4,752.1L1450.8,719.8L1472.8,688.9L1495.0,659.5L1517.6,631.7L1540.4,605.4L1563.3,581.0L1586.3,558.5L1609.3,537.7L1632.2,518.9L1654.9,501.9L1677.4,487.0L1699.6,474.2L1721.4,463.5L1742.7,455.0L1763.5,448.5L1783.8,443.7L1803.4,441.3L1822.3,441.3M1764.0,722.6L1743.7,698.7L1723.5,674.9L1703.4,651.1L1683.4,627.5L1663.4,603.9L1643.6,580.4L1623.9,556.9L1604.3,533.5L1584.7,510.2L1565.3,486.9L1545.9,463.7L1526.6,440.5L1507.4,417.4L1488.3,394.3L1469.2,371.3L1450.3,348.3L1431.4,325.4L1412.6,302.4M1426.1,747.7L1447.6,715.4L1469.5,684.6L1491.7,655.2L1514.3,627.4L1537.0,601.2L1559.9,576.9L1582.9,554.4L1605.9,533.7L1628.8,514.9L1651.5,498.0L1674.0,483.2L1696.2,470.5L1718.0,459.8L1739.3,451.5L1760.2,444.9L1780.5,440.3L1800.1,437.9L1819.0,437.9M1768.0,718.7L1747.7,694.8L1727.5,671.1L1707.4,647.4L1687.4,623.8L1667.4,600.3L1647.6,576.9L1627.9,553.5L1608.2,530.1L1588.7,506.9L1569.2,483.7L1549.8,460.5L1530.5,437.4L1511.3,414.3L1492.2,391.3L1473.2,368.3L1454.2,345.4L1435.3,322.5L1416.5,299.6M1422.9,743.4L1444.3,711.1L1466.2,680.3L1488.4,650.9L1510.9,623.2L1533.7,597.0L1556.6,572.7L1579.5,550.3L1602.5,529.6L1625.4,510.9L1648.1,494.1L1670.6,479.4L1692.8,466.7L1714.6,456.2L1736.0,447.9L1756.8,441.4L1777.2,436.8L1796.8,434.4L1815.8,434.5M1772.0,714.8L1751.7,691.0L1731.5,667.3L1711.4,643.7L1691.3,620.2L1671.4,596.8L1651.6,573.4L1631.8,550.1L1612.2,526.8L1592.6,503.6L1573.2,480.4L1553.8,457.3L1534.5,434.3L1515.3,411.3L1496.2,388.3L1477.1,365.4L1458.2,342.6L1439.3,319.7L1420.5,296.9M1419.7,739.0L1441.0,706.8L1462.9,675.9L1485.1,646.6L1507.6,618.9L1530.3,592.8L1553.2,568.6L1576.2,546.2L1599.1,525.6L1622.0,506.9L1644.7,490.2L1667.2,475.5L1689.4,463.0L1711.2,452.5L1732.6,444.3L1753.5,437.9L1773.9,433.3L1793.6,431.0L1812.6,431.2M1776.1,711.0L1755.7,687.3L1735.5,663.6L1715.4,640.1L1695.3,616.7L1675.4,593.3L1655.6,570.0L1635.8,546.7L1616.2,523.5L1596.6,500.4L1577.1,477.3L1557.8,454.3L1538.5,431.3L1519.2,408.3L1500.1,385.4L1481.1,362.6L1462.1,339.8L1443.2,317.0L1424.4,294.2M1416.4,734.7L1437.8,702.4L1459.6,671.6L1481.8,642.4L1504.2,614.7L1527.0,588.6L1549.8,564.4L1572.8,542.1L1595.7,521.6L1618.6,503.0L1641.3,486.3L1663.8,471.7L1686.0,459.2L1707.9,448.8L1729.3,440.7L1750.2,434.4L1770.6,429.9L1790.3,427.6L1809.3,427.8M1780.1,707.2L1759.7,683.5L1739.5,660.0L1719.3,636.5L1699.3,613.2L1679.4,589.8L1659.5,566.6L1639.8,543.4L1620.1,520.3L1600.6,497.2L1581.1,474.2L1561.7,451.2L1542.4,428.3L1523.2,405.4L1504.1,382.6L1485.0,359.8L1466.1,337.0L1447.2,314.3L1428.4,291.6M1413.2,730.3L1434.5,698.1L1456.3,667.3L1478.5,638.1L1500.9,610.4L1523.6,584.4L1546.5,560.3L1569.4,538.0L1592.3,517.5L1615.2,499.0L1638.0,482.4L1660.5,467.9L1682.7,455.5L1704.5,445.2L1725.9,437.1L1746.9,430.9L1767.3,426.4L1787.0,424.2L1806.1,424.4M1784.1,703.4L1763.7,679.9L1743.5,656.4L1723.3,633.0L1703.3,609.7L1683.3,586.5L1663.5,563.3L1643.7,540.2L1624.1,517.1L1604.5,494.1L1585.0,471.2L1565.7,448.3L1546.4,425.4L1527.2,402.6L1508.0,379.8L1489.0,357.1L1470.0,334.4L1451.1,311.7L1432.3,289.1M1410.0,726.0L1431.3,693.8L1453.0,663.0L1475.1,633.8L1497.6,606.2L1520.3,580.2L1543.1,556.1L1566.0,533.9L1589.0,513.5L1611.8,495.0L1634.6,478.5L1657.1,464.1L1679.3,451.7L1701.2,441.5L1722.6,433.5L1743.5,427.4L1764.0,422.9L1783.8,420.8L1802.9,421.0M1788.0,699.8L1767.7,676.3L1747.4,652.9L1727.3,629.6L1707.2,606.3L1687.3,583.1L1667.4,560.0L1647.7,537.0L1628.0,514.0L1608.5,491.1L1589.0,468.2L1569.6,445.3L1550.3,422.5L1531.1,399.8L1512.0,377.1L1492.9,354.4L1474.0,331.8L1455.1,309.2L1436.3,286.6M1406.7,721.6L1428.0,689.5L1449.7,658.7L1471.8,629.5L1494.3,601.9L1516.9,576.0L1539.7,552.0L1562.7,529.8L1585.6,509.5L1608.5,491.1L1631.2,474.6L1653.7,460.2L1675.9,448.0L1697.8,437.8L1719.3,430.0L1740.2,423.9L1760.7,419.5L1780.5,417.3L1799.7,417.6M1792.0,696.1L1771.7,672.7L1751.4,649.4L1731.2,626.2L1711.2,603.0L1691.2,579.9L1671.4,556.8L1651.6,533.9L1632.0,510.9L1612.4,488.1L1592.9,465.3L1573.6,442.5L1554.3,419.8L1535.1,397.1L1515.9,374.4L1496.9,351.8L1477.9,329.3L1459.1,306.7L1440.3,284.2M1403.5,717.3L1424.8,685.1L1446.4,654.4L1468.5,625.3L1490.9,597.7L1513.6,571.8L1536.4,547.8L1559.3,525.7L1582.2,505.4L1605.1,487.1L1627.8,470.7L1650.3,456.4L1672.6,444.2L1694.5,434.2L1715.9,426.4L1736.9,420.3L1757.4,416.0L1777.3,413.9L1796.4,414.3M1796.0,692.6L1775.6,669.2L1755.4,646.0L1735.2,622.8L1715.1,599.7L1695.2,576.7L1675.3,553.7L1655.6,530.8L1635.9,507.9L1616.3,485.1L1596.9,462.4L1577.5,439.7L1558.2,417.0L1539.0,394.4L1519.9,371.9L1500.8,349.3L1481.9,326.8L1463.0,304.3L1444.2,281.9M1400.3,713.0L1421.5,680.8L1443.2,650.1L1465.2,621.0L1487.6,593.5L1510.2,567.6L1533.0,543.7L1555.9,521.6L1578.8,501.4L1601.7,483.1L1624.4,466.8L1647.0,452.6L1669.2,440.5L1691.1,430.5L1712.6,422.8L1733.6,416.8L1754.1,412.5L1774.0,410.5L1793.2,410.9M1799.9,689.1L1779.6,665.8L1759.3,642.6L1739.1,619.5L1719.1,596.5L1699.1,573.5L1679.3,550.6L1659.5,527.8L1639.8,505.0L1620.3,482.3L1600.8,459.6L1581.4,437.0L1562.1,414.4L1542.9,391.8L1523.8,369.3L1504.8,346.8L1485.8,324.4L1467.0,302.0L1448.2,279.6M1397.1,708.6L1418.3,676.5L1439.9,645.8L1461.9,616.7L1484.3,589.2L1506.9,563.4L1529.7,539.5L1552.6,517.5L1575.5,497.4L1598.3,479.2L1621.1,463.0L1643.6,448.8L1665.9,436.7L1687.8,426.9L1709.3,419.2L1730.3,413.3L1750.8,409.1L1770.8,407.1L1790.0,407.5M1803.9,685.6L1783.5,662.4L1763.2,639.3L1743.1,616.3L1723.0,593.3L1703.1,570.4L1683.2,547.6L1663.4,524.8L1643.8,502.1L1624.2,479.5L1604.7,456.9L1585.4,434.3L1566.1,411.8L1546.9,389.3L1527.8,366.9L1508.7,344.4L1489.8,322.1L1470.9,299.7L1452.2,277.4M1393.9,704.3L1415.0,672.2L1436.6,641.6L1458.6,612.5L1481.0,585.0L1503.5,559.2L1526.3,535.4L1549.2,513.4L1572.1,493.4L1595.0,475.2L1617.7,459.1L1640.2,445.0L1662.5,433.0L1684.4,423.2L1705.9,415.6L1727.0,409.8L1747.6,405.6L1767.5,403.6L1786.8,404.1M1807.8,682.2L1787.4,659.1L1767.2,636.0L1747.0,613.1L1726.9,590.2L1707.0,567.4L1687.1,544.6L1667.4,522.0L1647.7,499.3L1628.1,476.7L1608.7,454.2L1589.3,431.7L1570.0,409.2L1550.8,386.8L1531.7,364.5L1512.7,342.1L1493.8,319.8L1474.9,297.5L1456.1,275.3M1390.7,700.0L1411.8,667.9L1433.3,637.3L1455.3,608.2L1477.6,580.8L1500.2,555.1L1523.0,531.2L1545.8,509.3L1568.7,489.3L1591.6,471.3L1614.3,455.2L1636.9,441.2L1659.2,429.3L1681.1,419.5L1702.6,412.1L1723.7,406.3L1744.3,402.1L1764.3,400.2L1783.6,400.8M1811.7,678.8L1791.4,655.8L1771.1,632.8L1750.9,610.0L1730.9,587.2L1710.9,564.4L1691.0,541.7L1671.3,519.1L1651.6,496.6L1632.1,474.0L1612.6,451.6L1593.2,429.1L1573.9,406.8L1554.8,384.4L1535.7,362.1L1516.6,339.8L1497.7,317.6L1478.9,295.4L1460.1,273.2M1387.4,695.7L1408.5,663.6L1430.1,633.0L1452.0,604.0L1474.3,576.6L1496.9,550.9L1519.6,527.1L1542.5,505.3L1565.4,485.3L1588.2,467.3L1611.0,451.3L1633.5,437.3L1655.8,425.5L1677.8,415.9L1699.3,408.5L1720.4,402.8L1741.0,398.7L1761.0,396.9L1780.4,397.6M1815.7,675.5L1795.3,652.6L1775.0,629.7L1754.8,606.9L1734.8,584.2L1714.8,561.5L1694.9,538.9L1675.2,516.4L1655.5,493.9L1636.0,471.4L1616.5,449.0L1597.1,426.7L1577.9,404.4L1558.7,382.1L1539.6,359.8L1520.6,337.6L1501.7,315.5L1482.8,293.3L1464.1,271.2M1384.2,691.4L1405.3,659.3L1426.8,628.7L1448.7,599.7L1471.0,572.3L1493.5,546.7L1516.3,523.0L1539.1,501.2L1562.0,481.3L1584.9,463.3L1607.6,447.4L1630.2,433.5L1652.5,421.8L1674.4,412.2L1696.0,404.9L1717.1,399.3L1737.7,395.4L1757.8,393.7L1777.2,394.4M1819.6,672.3L1799.2,649.4L1778.9,626.6L1758.7,603.9L1738.7,581.2L1718.7,558.6L1698.8,536.1L1679.1,513.6L1659.4,491.2L1639.9,468.9L1620.4,446.5L1601.1,424.3L1581.8,402.0L1562.6,379.8L1543.5,357.6L1524.5,335.5L1505.6,313.4L1486.8,291.3L1468.0,269.2M1381.0,687.0L1402.0,655.0L1423.5,624.4L1445.4,595.5L1467.7,568.1L1490.2,542.5L1512.9,518.8L1535.8,497.1L1558.7,477.3L1581.5,459.4L1604.3,443.5L1626.8,429.7L1649.1,418.0L1671.1,408.6L1692.7,401.3L1713.8,395.9L1734.5,392.0L1754.5,390.4L1774.0,391.3M1823.4,669.1L1803.1,646.3L1782.8,623.6L1762.6,600.9L1742.5,578.4L1722.6,555.8L1702.7,533.4L1683.0,511.0L1663.3,488.6L1643.8,466.4L1624.3,444.1L1605.0,421.9L1585.7,399.7L1566.5,377.6L1547.5,355.5L1528.5,333.4L1509.6,311.4L1490.7,289.4L1472.0,267.4M1377.8,682.7L1398.8,650.7L1420.3,620.1L1442.2,591.2L1464.4,563.9L1486.9,538.3L1509.6,514.7L1532.4,493.0L1555.3,473.3L1578.2,455.4L1600.9,439.6L1623.5,425.9L1645.8,414.3L1667.8,404.9L1689.4,397.8L1710.5,392.4L1731.2,388.7L1751.3,387.2L1770.7,388.2M1827.3,666.0L1806.9,643.2L1786.6,620.6L1766.5,598.0L1746.4,575.5L1726.5,553.1L1706.6,530.7L1686.9,508.4L1667.2,486.1L1647.7,463.9L1628.2,441.7L1608.9,419.6L1589.6,397.5L1570.5,375.4L1551.4,353.4L1532.4,331.4L1513.5,309.4L1494.7,287.5L1475.9,265.6M1374.6,678.4L1395.6,646.4L1417.0,615.9L1438.9,587.0L1461.1,559.7L1483.6,534.1L1506.3,510.6L1529.1,489.0L1552.0,469.2L1574.8,451.5L1597.6,435.7L1620.1,422.1L1642.5,410.6L1664.5,401.3L1686.1,394.2L1707.3,388.9L1727.9,385.3L1748.1,383.9L1767.5,385.0M1831.2,662.9L1810.8,640.2L1790.5,617.7L1770.3,595.2L1750.3,572.8L1730.3,550.4L1710.5,528.1L1690.7,505.9L1671.1,483.7L1651.6,461.5L1632.1,439.4L1612.8,417.4L1593.5,395.4L1574.4,373.4L1555.3,351.4L1536.3,329.5L1517.4,307.6L1498.6,285.7L1479.9,263.8M1371.4,674.1L1392.3,642.1L1413.8,611.6L1435.6,582.7L1457.8,555.5L1480.2,530.0L1502.9,506.4L1525.8,484.9L1548.6,465.2L1571.5,447.5L1594.2,431.9L1616.8,418.3L1639.1,406.8L1661.2,397.6L1682.8,390.6L1704.0,385.5L1724.7,382.0L1744.8,380.7L1764.3,381.9M1835.0,659.9L1814.6,637.3L1794.3,614.8L1774.2,592.4L1754.1,570.1L1734.2,547.8L1714.3,525.6L1694.6,503.4L1675.0,481.3L1655.4,459.2L1636.0,437.2L1616.7,415.2L1597.4,393.3L1578.3,371.3L1559.2,349.5L1540.3,327.6L1521.4,305.8L1502.6,284.0L1483.9,262.2M1368.2,669.8L1389.1,637.8L1410.5,607.3L1432.3,578.5L1454.5,551.3L1476.9,525.8L1499.6,502.3L1522.4,480.8L1545.3,461.2L1568.1,443.6L1590.9,428.0L1613.5,414.5L1635.8,403.1L1657.8,394.0L1679.5,387.1L1700.7,382.0L1721.4,378.6L1741.6,377.4L1761.1,378.7M1838.8,656.9L1818.5,634.4L1798.2,612.0L1778.0,589.7L1758.0,567.4L1738.0,545.2L1718.2,523.1L1698.4,501.0L1678.8,479.0L1659.3,457.0L1639.9,435.0L1620.5,413.1L1601.3,391.2L1582.2,369.4L1563.1,347.6L1544.2,325.8L1525.3,304.0L1506.5,282.3L1487.8,260.6M1365.0,665.5L1385.9,633.5L1407.2,603.1L1429.0,574.2L1451.2,547.1L1473.6,521.6L1496.3,498.2L1519.1,476.7L1541.9,457.2L1564.8,439.6L1587.5,424.1L1610.1,410.7L1632.5,399.4L1654.5,390.3L1676.2,383.5L1697.4,378.5L1718.2,375.2L1738.4,374.2L1758.0,375.6M1842.7,654.0L1822.3,631.6L1802.0,609.3L1781.8,587.0L1761.8,564.9L1741.8,542.7L1722.0,520.7L1702.3,498.7L1682.7,476.7L1663.2,454.8L1643.7,432.9L1624.4,411.1L1605.2,389.3L1586.1,367.5L1567.0,345.8L1548.1,324.1L1529.2,302.4L1510.5,280.7L1491.8,259.0M1361.8,661.2L1382.7,629.2L1404.0,598.8L1425.8,570.0L1447.9,542.9L1470.3,517.5L1492.9,494.1L1515.7,472.7L1538.6,453.2L1561.4,435.7L1584.2,420.2L1606.8,406.9L1629.2,395.6L1651.2,386.6L1672.9,379.9L1694.2,375.1L1714.9,371.9L1735.2,370.9L1754.8,372.5M1846.5,651.1L1826.1,628.8L1805.8,606.6L1785.6,584.4L1765.6,562.3L1745.7,540.3L1725.8,518.3L1706.1,496.4L1686.5,474.5L1667.0,452.7L1647.6,430.9L1628.3,409.1L1609.1,387.4L1590.0,365.7L1570.9,344.0L1552.0,322.4L1533.2,300.8L1514.4,279.2L1495.7,257.6M1358.6,656.9L1379.4,624.9L1400.7,594.5L1422.5,565.8L1444.6,538.7L1467.0,513.3L1489.6,489.9L1512.4,468.6L1535.3,449.2L1558.1,431.7L1580.9,416.4L1603.5,403.1L1625.8,391.9L1647.9,383.0L1669.6,376.4L1690.9,371.6L1711.7,368.5L1732.0,367.7L1751.6,369.3M1850.2,648.4L1829.9,626.1L1809.6,604.0L1789.4,581.9L1769.4,559.9L1749.5,537.9L1729.7,516.0L1709.9,494.2L1690.3,472.4L1670.8,450.6L1651.4,428.9L1632.1,407.2L1613.0,385.6L1593.8,363.9L1574.8,342.3L1555.9,320.8L1537.1,299.2L1518.3,277.7L1499.7,256.2M1355.4,652.6L1376.2,620.7L1397.5,590.3L1419.2,561.5L1441.3,534.4L1463.7,509.1L1486.3,485.8L1509.1,464.5L1531.9,445.2L1554.8,427.8L1577.5,412.5L1600.1,399.3L1622.5,388.2L1644.6,379.3L1666.3,372.8L1687.6,368.1L1708.5,365.2L1728.7,364.4L1748.4,366.2M1854.0,645.6L1833.6,623.5L1813.4,601.4L1793.2,579.4L1773.2,557.5L1753.3,535.6L1733.5,513.8L1713.8,492.0L1694.2,470.3L1674.7,448.6L1655.3,427.0L1636.0,405.4L1616.8,383.8L1597.7,362.2L1578.7,340.7L1559.8,319.2L1541.0,297.8L1522.3,276.3L1503.6,254.9M1352.3,648.3L1373.0,616.4L1394.2,586.0L1415.9,557.3L1438.0,530.2L1460.4,505.0L1483.0,481.7L1505.7,460.5L1528.6,441.2L1551.4,423.9L1574.2,408.6L1596.8,395.5L1619.2,384.5L1641.3,375.7L1663.1,369.2L1684.4,364.7L1705.2,361.8L1725.5,361.2L1745.2,363.0M1857.8,642.9L1837.4,620.9L1817.1,598.9L1797.0,577.0L1777.0,555.1L1757.0,533.4L1737.2,511.6L1717.5,489.9L1698.0,468.3L1678.5,446.7L1659.1,425.1L1639.8,403.6L1620.7,382.1L1601.6,360.6L1582.6,339.2L1563.7,317.8L1544.9,296.4L1526.2,275.0L1507.6,253.6M1349.1,644.0L1369.8,612.1L1391.0,581.8L1412.7,553.1L1434.7,526.0L1457.1,500.8L1479.7,477.6L1502.4,456.4L1525.3,437.2L1548.1,419.9L1570.9,404.7L1593.5,391.6L1615.9,380.7L1638.0,372.0L1659.8,365.6L1681.1,361.2L1702.0,358.5L1722.3,357.9L1742.0,359.9M1861.5,640.3L1841.1,618.4L1820.9,596.5L1800.7,574.6L1780.7,552.9L1760.8,531.2L1741.0,509.5L1721.3,487.9L1701.8,466.3L1682.3,444.8L1662.9,423.3L1643.7,401.9L1624.5,380.5L1605.4,359.1L1586.5,337.7L1567.6,316.4L1548.8,295.0L1530.1,273.7L1511.5,252.4M1345.9,639.7L1366.6,607.8L1387.8,577.5L1409.4,548.8L1431.4,521.9L1453.8,496.6L1476.3,473.5L1499.1,452.3L1521.9,433.2L1544.8,416.0L1567.5,400.9L1590.2,387.8L1612.6,377.0L1634.7,368.4L1656.5,362.1L1677.9,357.8L1698.8,355.1L1719.1,354.7L1738.9,356.8M1865.2,637.8L1844.8,615.9L1824.6,594.1L1804.5,572.3L1784.5,550.7L1764.6,529.0L1744.8,507.5L1725.1,485.9L1705.5,464.5L1686.1,443.0L1666.7,421.6L1647.5,400.2L1628.3,378.9L1609.3,357.6L1590.3,336.3L1571.5,315.0L1552.7,293.8L1534.0,272.5L1515.4,251.3M1342.7,635.5L1363.3,603.6L1384.5,573.3L1406.1,544.6L1428.1,517.7L1450.5,492.5L1473.0,469.4L1495.8,448.3L1518.6,429.2L1541.4,412.0L1564.2,397.0L1586.8,384.0L1609.3,373.3L1631.4,364.8L1653.2,358.5L1674.6,354.3L1695.5,351.8L1715.9,351.4L1735.7,353.6M1868.9,635.3L1848.5,613.5L1828.3,591.8L1808.2,570.1L1788.2,548.5L1768.3,527.0L1748.5,505.5L1728.9,484.0L1709.3,462.6L1689.9,441.3L1670.5,420.0L1651.3,398.7L1632.2,377.4L1613.1,356.2L1594.2,335.0L1575.3,313.8L1556.6,292.6L1537.9,271.4L1519.3,250.3M1339.5,631.2L1360.1,599.3L1381.3,569.0L1402.9,540.4L1424.9,513.5L1447.2,488.3L1469.7,465.2L1492.5,444.2L1515.3,425.2L1538.1,408.1L1560.9,393.1L1583.5,380.3L1606.0,369.6L1628.1,361.1L1650.0,354.9L1671.4,350.8L1692.3,348.4L1712.7,348.2L1732.5,350.5M1872.6,632.9L1852.2,611.1L1832.0,589.5L1811.9,567.9L1791.9,546.4L1772.0,525.0L1752.3,503.6L1732.6,482.2L1713.1,460.9L1693.6,439.6L1674.3,418.4L1655.1,397.2L1636.0,376.0L1617.0,354.8L1598.0,333.7L1579.2,312.6L1560.5,291.5L1541.8,270.4L1523.3,249.3M1336.3,626.9L1356.9,595.0L1378.0,564.8L1399.6,536.2L1421.6,509.3L1443.9,484.2L1466.4,461.1L1489.1,440.2L1512.0,421.2L1534.8,404.2L1557.6,389.3L1580.2,376.5L1602.7,365.8L1624.9,357.5L1646.7,351.4L1668.1,347.4L1689.1,345.0L1709.5,344.9L1729.4,347.3M1876.2,630.5L1855.9,608.9L1835.7,587.3L1815.6,565.8L1795.6,544.4L1775.7,523.0L1756.0,501.7L1736.3,480.4L1716.8,459.2L1697.4,438.0L1678.1,416.9L1658.9,395.7L1639.8,374.6L1620.8,353.5L1601.9,332.5L1583.1,311.5L1564.3,290.4L1545.7,269.4L1527.2,248.4M1333.2,622.6L1353.7,590.8L1374.8,560.5L1396.4,531.9L1418.3,505.1L1440.6,480.0L1463.1,457.0L1485.8,436.1L1508.6,417.2L1531.5,400.2L1554.3,385.4L1576.9,372.7L1599.4,362.1L1621.6,353.8L1643.4,347.8L1664.9,343.9L1685.9,341.7L1706.4,341.7L1726.2,344.2M1879.9,628.2L1859.6,606.6L1839.3,585.2L1819.2,563.8L1799.3,542.5L1779.4,521.2L1759.7,499.9L1740.1,478.7L1720.5,457.6L1701.1,436.5L1681.9,415.4L1662.7,394.4L1643.6,373.3L1624.6,352.3L1605.7,331.4L1586.9,310.4L1568.2,289.4L1549.6,268.5L1531.1,247.6M1330.0,618.4L1350.5,586.5L1371.6,556.3L1393.1,527.7L1415.0,500.9L1437.3,475.9L1459.8,452.9L1482.5,432.1L1505.3,413.2L1528.2,396.3L1550.9,381.5L1573.6,368.9L1596.1,358.4L1618.3,350.2L1640.2,344.3L1661.6,340.4L1682.7,338.3L1703.2,338.4L1723.1,341.1M1883.5,625.9L1863.2,604.5L1843.0,583.1L1822.9,561.8L1802.9,540.6L1783.1,519.4L1763.4,498.2L1743.8,477.1L1724.3,456.0L1704.9,435.0L1685.6,414.0L1666.4,393.1L1647.4,372.1L1628.4,351.2L1609.5,330.3L1590.8,309.4L1572.1,288.5L1553.5,267.7L1535.0,246.8M1326.8,614.1L1347.3,582.3L1368.4,552.1L1389.9,523.5L1411.8,496.7L1434.0,471.7L1456.5,448.8L1479.2,428.0L1502.0,409.2L1524.8,392.4L1547.6,377.7L1570.3,365.1L1592.8,354.7L1615.0,346.5L1636.9,340.7L1658.4,337.0L1679.5,335.0L1700.0,335.2L1719.9,337.9M1887.1,623.7L1866.8,602.4L1846.6,581.1L1826.5,559.9L1806.6,538.7L1786.8,517.6L1767.0,496.6L1747.4,475.5L1728.0,454.6L1708.6,433.6L1689.3,412.7L1670.2,391.8L1651.1,371.0L1632.2,350.1L1613.3,329.3L1594.6,308.5L1575.9,287.7L1557.4,266.9L1538.9,246.1M1323.7,609.8L1344.1,578.0L1365.1,547.8L1386.6,519.3L1408.5,492.5L1430.7,467.6L1453.2,444.7L1475.9,424.0L1498.7,405.2L1521.5,388.4L1544.3,373.8L1567.0,361.3L1589.5,351.0L1611.7,342.9L1633.7,337.1L1655.2,333.5L1676.3,331.6L1696.8,332.0L1716.8,334.8M1890.7,621.6L1870.4,600.4L1850.2,579.2L1830.1,558.0L1810.2,537.0L1790.4,515.9L1770.7,495.0L1751.1,474.0L1731.7,453.1L1712.3,432.3L1693.1,411.5L1673.9,390.7L1654.9,369.9L1636.0,349.1L1617.1,328.4L1598.4,307.7L1579.8,286.9L1561.2,266.2L1542.8,245.5M1320.5,605.6L1340.9,573.8L1361.9,543.6L1383.4,515.1L1405.2,488.4L1427.4,463.4L1449.9,440.6L1472.6,419.9L1495.4,401.2L1518.2,384.5L1541.0,369.9L1563.7,357.5L1586.2,347.2L1608.5,339.2L1630.4,333.6L1652.0,330.1L1673.1,328.3L1693.6,328.7L1713.7,331.6M1894.3,619.6L1874.0,598.4L1853.8,577.3L1833.7,556.3L1813.8,535.3L1794.0,514.3L1774.3,493.5L1754.8,472.6L1735.3,451.8L1716.0,431.0L1696.8,410.3L1677.6,389.6L1658.6,368.9L1639.7,348.2L1620.9,327.5L1602.2,306.9L1583.6,286.2L1565.1,265.6L1546.6,245.0M1317.3,601.3L1337.7,569.5L1358.7,539.4L1380.1,510.9L1402.0,484.2L1424.1,459.3L1446.6,436.5L1469.3,415.9L1492.1,397.2L1514.9,380.6L1537.7,366.1L1560.4,353.7L1582.9,343.5L1605.2,335.6L1627.2,330.0L1648.7,326.6L1669.9,324.9L1690.5,325.5L1710.5,328.5M1897.8,617.6L1877.5,596.5L1857.4,575.5L1837.3,554.5L1817.4,533.6L1797.6,512.8L1778.0,492.0L1758.4,471.2L1739.0,450.5L1719.7,429.8L1700.5,409.2L1681.4,388.5L1662.4,367.9L1643.5,347.3L1624.7,326.8L1606.0,306.2L1587.4,285.6L1568.9,265.1L1550.5,244.5M1314.2,597.1L1334.5,565.3L1355.5,535.1L1376.9,506.7L1398.7,480.0L1420.9,455.1L1443.3,432.4L1466.0,411.8L1488.8,393.2L1511.6,376.7L1534.4,362.2L1557.1,349.9L1579.7,339.8L1601.9,332.0L1623.9,326.4L1645.5,323.1L1666.7,321.6L1687.3,322.2L1707.4,325.4M1901.3,615.6L1881.0,594.7L1860.9,573.7L1840.9,552.9L1821.0,532.1L1801.2,511.3L1781.6,490.6L1762.0,469.9L1742.6,449.3L1723.3,428.7L1704.1,408.1L1685.1,387.6L1666.1,367.1L1647.2,346.5L1628.5,326.0L1609.8,305.6L1591.2,285.1L1572.7,264.6L1554.4,244.1M1311.0,592.8L1331.3,561.0L1352.2,530.9L1373.6,502.5L1395.4,475.8L1417.6,451.0L1440.0,428.3L1462.7,407.8L1485.5,389.2L1508.3,372.7L1531.1,358.3L1553.8,346.1L1576.4,336.1L1598.7,328.3L1620.7,322.9L1642.3,319.7L1663.5,318.2L1684.1,319.0L1704.3,322.2M1904.8,613.8L1884.6,592.9L1864.4,572.1L1844.4,551.3L1824.5,530.6L1804.8,509.9L1785.2,489.3L1765.6,468.7L1746.2,448.2L1727.0,427.6L1707.8,407.2L1688.7,386.7L1669.8,366.2L1651.0,345.8L1632.2,325.4L1613.6,305.0L1595.0,284.6L1576.6,264.2L1558.2,243.8M1307.9,588.6L1328.2,556.8L1349.0,526.7L1370.4,498.3L1392.2,471.7L1414.3,446.8L1436.7,424.2L1459.4,403.7L1482.2,385.2L1505.0,368.8L1527.8,354.5L1550.5,342.3L1573.1,332.4L1595.4,324.7L1617.4,319.3L1639.1,316.2L1660.3,314.9L1681.0,315.7L1701.1,319.1M1908.3,612.1L1888.0,591.3L1867.9,570.5L1847.9,549.8L1828.1,529.2L1808.3,508.6L1788.7,488.0L1769.2,467.5L1749.9,447.0L1730.6,426.5L1711.5,406.1L1692.4,385.8L1673.5,365.4L1654.7,345.1L1636.0,324.8L1617.3,304.5L1598.8,284.2L1580.4,263.9L1562.0,243.6M1304.7,584.3L1325.0,552.6L1345.8,522.5L1367.2,494.1L1388.9,467.5L1411.0,442.7L1433.5,420.1L1456.1,399.7L1478.9,381.3L1501.7,364.9L1524.5,350.6L1547.3,338.5L1569.8,328.6L1592.2,321.0L1614.2,315.8L1635.9,312.8L1657.1,311.5L1677.8,312.5L1698.0,315.9M1911.7,610.6L1891.4,589.8L1871.4,569.1L1851.4,548.5L1831.6,527.9L1811.9,507.3L1792.3,486.8L1772.8,466.3L1753.5,445.9L1734.2,425.5L1715.1,405.1L1696.1,384.9L1677.2,364.7L1658.4,344.5L1639.7,324.3L1621.1,304.1L1602.6,283.9L1584.2,263.6L1565.9,243.4M1301.5,580.1L1321.8,548.3L1342.6,518.2L1363.9,489.9L1385.7,463.3L1407.8,438.6L1430.2,416.0L1452.8,395.6L1475.6,377.3L1498.4,361.0L1521.2,346.8L1544.0,334.7L1566.6,324.9L1588.9,317.4L1611.0,312.2L1632.7,309.3L1653.9,308.2L1674.7,309.2L1694.9,312.8M1915.0,609.2L1894.9,588.4L1874.8,567.8L1854.9,547.2L1835.1,526.6L1815.4,506.1L1795.8,485.6L1776.4,465.2L1757.0,444.8L1737.8,424.5L1718.7,404.2L1699.7,384.1L1680.8,364.0L1662.1,343.9L1643.4,323.8L1624.8,303.7L1606.4,283.6L1588.0,263.5L1569.7,243.3M1298.4,575.8L1318.6,544.1L1339.4,514.0L1360.7,485.7L1382.4,459.1L1404.5,434.4L1426.9,411.9L1449.5,391.6L1472.3,373.3L1495.1,357.0L1518.0,342.9L1540.7,330.9L1563.3,321.2L1585.7,313.8L1607.7,308.6L1629.4,305.8L1650.7,304.8L1671.5,306.0L1691.8,309.7M1918.4,607.8L1898.2,587.1L1878.2,566.5L1858.3,546.0L1838.5,525.5L1818.9,505.0L1799.3,484.5L1779.9,464.2L1760.6,443.8L1741.4,423.6L1722.3,403.3L1703.4,383.3L1684.5,363.3L1665.7,343.4L1647.1,323.4L1628.6,303.5L1610.1,283.4L1591.8,263.3L1573.5,243.3M1295.2,571.6L1315.4,539.9L1336.2,509.8L1357.5,481.5L1379.2,455.0L1401.2,430.3L1423.6,407.8L1446.2,387.6L1469.0,369.3L1491.8,353.1L1514.7,339.1L1537.4,327.2L1560.0,317.5L1582.4,310.1L1604.5,305.1L1626.2,302.4L1647.6,301.5L1668.4,302.7L1688.7,306.5M1921.7,606.5L1901.6,585.8L1881.6,565.3L1861.7,544.8L1842.0,524.4L1822.3,503.9L1802.8,483.5L1783.4,463.2L1764.2,442.9L1745.0,422.7L1725.9,402.5L1707.0,382.6L1688.1,362.8L1669.4,342.9L1650.8,323.1L1632.3,303.3L1613.9,283.3L1595.5,263.3L1577.3,243.3M1292.1,567.3L1312.2,535.6L1333.0,505.6L1354.2,477.3L1375.9,450.8L1398.0,426.2L1420.3,403.7L1443.0,383.5L1465.7,365.3L1488.6,349.2L1511.4,335.2L1534.1,323.4L1556.8,313.8L1579.2,306.5L1601.3,301.5L1623.0,298.9L1644.4,298.1L1665.3,299.5L1685.6,303.4M1925.1,605.2L1904.9,584.6L1885.0,564.2L1865.1,543.7L1845.4,523.3L1825.8,502.9L1806.3,482.5L1786.9,462.3L1767.7,442.1L1748.6,421.9L1729.5,401.7L1710.6,382.0L1691.8,362.2L1673.1,342.5L1654.5,322.7L1636.0,303.0L1617.6,283.2L1599.3,263.2L1581.1,243.3M1289.0,563.1L1309.1,531.4L1329.8,501.4L1351.0,473.1L1372.7,446.7L1394.7,422.0L1417.1,399.7L1439.7,379.5L1462.4,361.4L1485.3,345.3L1508.1,331.3L1530.9,319.6L1553.5,310.1L1575.9,302.8L1598.1,298.0L1619.9,295.5L1641.2,294.7L1662.1,296.2L1682.5,300.1M1928.3,604.0L1908.3,583.5L1888.3,563.1L1868.5,542.7L1848.8,522.3L1829.2,501.9L1809.8,481.6L1790.4,461.4L1771.2,441.2L1752.1,421.1L1733.1,401.0L1714.2,381.3L1695.4,361.7L1676.7,342.1L1658.1,322.4L1639.7,302.8L1621.3,283.0L1603.0,263.2L1584.9,243.3M1285.8,558.9L1305.9,527.2L1326.6,497.2L1347.8,468.9L1369.4,442.5L1391.4,417.9L1413.8,395.6L1436.4,375.5L1459.2,357.4L1482.0,341.4L1504.8,327.5L1527.6,315.8L1550.3,306.4L1572.7,299.2L1594.8,294.4L1616.7,292.0L1638.1,291.3L1659.0,292.8L1679.4,296.9M1931.6,602.9L1911.5,582.5L1891.6,562.1L1871.8,541.7L1852.2,521.4L1832.6,501.0L1813.2,480.7L1793.9,460.6L1774.7,440.5L1755.6,420.4L1736.6,400.3L1717.8,380.8L1699.0,361.2L1680.3,341.7L1661.8,322.2L1643.3,302.7L1625.0,282.9L1606.8,263.1L1588.6,243.3M1282.7,554.7L1302.7,523.0L1323.4,493.0L1344.6,464.8L1366.2,438.3L1388.2,413.8L1410.5,391.5L1433.1,371.4L1455.9,353.4L1478.7,337.5L1501.6,323.6L1524.3,312.0L1547.0,302.6L1569.4,295.6L1591.6,290.8L1613.5,288.5L1634.9,287.9L1655.8,289.5L1676.3,293.6M1934.8,601.8L1914.8,581.5L1894.9,561.1L1875.2,540.8L1855.5,520.6L1836.0,500.2L1816.6,479.9L1797.4,459.9L1778.2,439.8L1759.1,419.7L1740.2,399.7L1721.3,380.3L1702.6,360.8L1683.9,341.4L1665.4,322.0L1647.0,302.6L1628.7,282.9L1610.5,263.2L1592.4,243.5M1279.5,550.4L1299.6,518.8L1320.2,488.8L1341.3,460.6L1362.9,434.2L1384.9,409.6L1407.2,387.4L1429.8,367.4L1452.6,349.4L1475.4,333.5L1498.3,319.8L1521.1,308.2L1543.7,298.9L1566.2,291.9L1588.4,287.3L1610.3,285.0L1631.7,284.5L1652.7,286.1L1673.2,290.3M1938.0,600.9L1918.0,580.5L1898.2,560.3L1878.5,540.0L1858.9,519.8L1839.4,499.5L1820.0,479.2L1800.8,459.2L1781.6,439.2L1762.6,419.2L1743.7,399.2L1724.8,379.9L1706.1,360.5L1687.5,341.2L1669.0,321.9L1650.6,302.6L1632.4,283.0L1614.2,263.4L1596.1,243.7M1276.4,546.2L1296.4,514.5L1317.0,484.6L1338.1,456.4L1359.7,430.0L1381.7,405.5L1404.0,383.3L1426.6,363.4L1449.3,345.5L1472.2,329.6L1495.0,315.9L1517.8,304.5L1540.5,295.2L1563.0,288.3L1585.2,283.7L1607.1,281.5L1628.6,281.1L1649.6,282.8L1670.1,287.0M1941.2,600.0L1921.3,579.7L1901.4,559.5L1881.7,539.3L1862.2,519.1L1842.7,498.8L1823.4,478.6L1804.2,458.6L1785.1,438.6L1766.1,418.6L1747.2,398.8L1728.4,379.5L1709.7,360.3L1691.1,341.1L1672.6,321.9L1654.3,302.7L1636.0,283.2L1617.9,263.6L1599.8,243.9M1273.3,542.0L1293.2,510.3L1313.8,480.4L1334.9,452.2L1356.5,425.9L1378.4,401.4L1400.7,379.2L1423.3,359.3L1446.0,341.5L1468.9,325.7L1491.7,312.1L1514.6,300.7L1537.3,291.5L1559.8,284.7L1582.0,280.2L1603.9,278.1L1625.4,277.7L1646.5,279.4L1667.0,283.8M1944.4,599.1L1924.4,578.9L1904.7,558.7L1885.0,538.6L1865.5,518.5L1846.1,498.2L1826.8,478.0L1807.6,458.1L1788.5,438.1L1769.5,418.2L1750.7,398.4L1731.9,379.2L1713.2,360.1L1694.7,341.0L1676.2,321.9L1657.9,302.8L1639.7,283.4L1621.6,263.9L1603.5,244.3M1270.1,537.8L1290.1,506.1L1310.6,476.2L1331.7,448.0L1353.2,421.7L1375.2,397.3L1397.5,375.2L1420.0,355.3L1442.8,337.5L1465.6,321.8L1488.5,308.2L1511.3,296.9L1534.0,287.8L1556.5,281.0L1578.8,276.6L1600.7,274.6L1622.3,274.3L1643.4,276.1L1663.9,280.5M1947.5,598.3L1927.6,578.2L1907.8,558.1L1888.2,538.0L1868.7,517.9L1849.4,497.6L1830.1,477.5L1810.9,457.6L1791.9,437.7L1773.0,417.9L1754.1,398.1L1735.4,379.0L1716.7,360.0L1698.2,341.0L1679.8,322.0L1661.5,303.0L1643.3,283.7L1625.2,264.2L1607.2,244.7M1267.0,533.5L1286.9,501.9L1307.4,472.0L1328.5,443.9L1350.0,417.6L1371.9,393.2L1394.2,371.1L1416.8,351.3L1439.5,333.5L1462.4,317.9L1485.2,304.4L1508.0,293.1L1530.8,284.1L1553.3,277.4L1575.6,273.0L1597.6,271.1L1619.1,270.8L1640.2,272.8L1660.9,277.2M1950.6,597.6L1930.7,577.5L1911.0,557.5L1891.4,537.4L1872.0,517.4L1852.6,497.2L1833.4,477.1L1814.3,457.2L1795.3,437.4L1776.4,417.6L1757.6,397.8L1738.8,378.9L1720.2,360.0L1701.7,341.1L1683.3,322.2L1665.1,303.3L1646.9,284.1L1628.9,264.7L1610.9,245.2M1263.9,529.3L1283.7,497.7L1304.2,467.8L1325.3,439.7L1346.8,413.4L1368.7,389.0L1390.9,367.0L1413.5,347.3L1436.2,329.6L1459.1,314.0L1482.0,300.5L1504.8,289.3L1527.5,280.4L1550.1,273.7L1572.4,269.5L1594.4,267.6L1616.0,267.4L1637.1,269.4L1657.8,273.9M1953.6,597.0L1933.8,577.0L1914.1,557.0L1894.6,537.0L1875.2,517.0L1855.9,496.8L1836.7,476.7L1817.6,456.9L1798.6,437.2L1779.8,417.4L1761.0,397.7L1742.3,378.9L1723.7,360.1L1705.2,341.3L1686.9,322.5L1668.6,303.7L1650.5,284.5L1632.5,265.2L1614.6,245.8M1260.7,525.1L1280.6,493.5L1301.1,463.6L1322.1,435.5L1343.5,409.3L1365.4,384.9L1387.7,362.9L1410.2,343.2L1433.0,325.6L1455.8,310.1L1478.7,296.7L1501.5,285.6L1524.3,276.7L1546.9,270.1L1569.2,265.9L1591.2,264.1L1612.8,264.0L1634.0,266.1L1654.7,270.6M1956.7,596.5L1936.9,576.5L1917.3,556.5L1897.7,536.6L1878.4,516.6L1859.1,496.5L1840.0,476.4L1820.9,456.7L1802.0,437.0L1783.1,417.2L1764.4,397.6L1745.7,378.9L1727.2,360.2L1708.7,341.5L1690.4,322.8L1672.2,304.2L1654.1,285.1L1636.1,265.8L1618.3,246.5M1257.6,520.9L1277.4,489.3L1297.9,459.4L1318.8,431.4L1340.3,405.1L1362.2,380.8L1384.4,358.9L1407.0,339.2L1429.7,321.6L1452.6,306.2L1475.4,292.9L1498.3,281.8L1521.1,273.0L1543.7,266.5L1566.0,262.4L1588.0,260.7L1609.7,260.6L1630.9,262.7L1651.6,267.4M1959.7,596.0L1939.9,576.0L1920.3,556.1L1900.9,536.2L1881.5,516.4L1862.3,496.2L1843.2,476.2L1824.2,456.5L1805.3,436.9L1786.5,417.2L1767.8,397.6L1749.1,379.0L1730.6,360.4L1712.2,341.8L1693.9,323.3L1675.7,304.7L1657.7,285.7L1639.8,266.5L1621.9,247.2M1254.5,516.7L1274.3,485.1L1294.7,455.3L1315.6,427.2L1337.1,401.0L1358.9,376.7L1381.2,354.8L1403.7,335.2L1426.5,317.7L1449.3,302.3L1472.2,289.0L1495.1,278.0L1517.8,269.3L1540.4,262.8L1562.8,258.8L1584.9,257.2L1606.6,257.2L1627.8,259.4L1648.6,264.1M1962.6,595.6L1943.0,575.7L1923.4,555.8L1904.0,536.0L1884.6,516.2L1865.5,496.0L1846.4,476.1L1827.4,456.5L1808.6,436.8L1789.8,417.2L1771.1,397.6L1752.5,379.2L1734.0,360.7L1715.6,342.2L1697.4,323.8L1679.3,305.3L1661.2,286.4L1643.3,267.2L1625.5,248.0M1251.4,512.5L1271.1,480.9L1291.5,451.1L1312.4,423.0L1333.9,396.9L1355.7,372.6L1377.9,350.7L1400.5,331.2L1423.2,313.7L1446.0,298.3L1468.9,285.2L1491.8,274.2L1514.6,265.5L1537.2,259.2L1559.6,255.2L1581.7,253.7L1603.4,253.8L1624.7,256.0L1645.5,260.8M1965.6,595.2L1945.9,575.4L1926.4,555.6L1907.0,535.8L1887.7,516.0L1868.6,495.9L1849.6,476.0L1830.7,456.4L1811.8,436.9L1793.1,417.3L1774.5,397.8L1755.9,379.4L1737.4,361.1L1719.1,342.7L1700.9,324.3L1682.8,306.0L1664.8,287.1L1646.9,268.0L1629.1,248.9M1248.3,508.3L1268.0,476.7L1288.3,446.9L1309.2,418.9L1330.6,392.7L1352.5,368.5L1374.7,346.7L1397.2,327.2L1419.9,309.7L1442.8,294.4L1465.7,281.3L1488.6,270.4L1511.4,261.8L1534.0,255.6L1556.4,251.7L1578.6,250.2L1600.3,250.4L1621.6,252.7L1642.4,257.5M1968.5,594.9L1948.9,575.2L1929.4,555.4L1910.1,535.7L1890.8,516.0L1871.8,495.9L1852.8,476.0L1833.9,456.5L1815.1,437.0L1796.4,417.4L1777.8,398.0L1759.2,379.7L1740.8,361.5L1722.5,343.2L1704.3,325.0L1686.2,306.7L1668.3,287.9L1650.5,268.9L1632.7,249.9M1245.1,504.1L1264.8,472.5L1285.2,442.7L1306.0,414.7L1327.4,388.6L1349.2,364.4L1371.4,342.6L1394.0,323.1L1416.7,305.8L1439.5,290.5L1462.4,277.5L1485.3,266.7L1508.2,258.1L1530.8,251.9L1553.2,248.1L1575.4,246.7L1597.2,247.0L1618.5,249.3L1639.4,254.2M1971.4,594.8L1951.8,575.1L1932.4,555.4L1913.1,535.7L1893.9,516.0L1874.9,496.0L1855.9,476.1L1837.1,456.6L1818.3,437.2L1799.7,417.6L1781.1,398.3L1762.6,380.1L1744.2,362.0L1725.9,343.9L1707.7,325.7L1689.7,307.6L1671.8,288.9L1654.0,269.9L1636.3,250.9M1242.0,499.9L1261.7,468.3L1282.0,438.5L1302.9,410.6L1324.2,384.4L1346.0,360.3L1368.2,338.5L1390.7,319.1L1413.4,301.8L1436.3,286.6L1459.2,273.6L1482.1,262.9L1504.9,254.4L1527.6,248.3L1550.1,244.6L1572.2,243.3L1594.0,243.5L1615.4,246.0L1636.3,250.9" fill="none" stroke="#000" stroke-opacity="0.52" stroke-width="2.1"/>
</g>
<ellipse cx="1633.0" cy="244.0" rx="5.8" ry="7.2" fill="#c80000" stroke="#6a0000" stroke-width="1"/>
<ellipse cx="1608.0" cy="478.0" rx="5.8" ry="7.2" fill="#c80000" stroke="#6a0000" stroke-width="1"/>
<ellipse cx="1400.3" cy="710.6" rx="5.8" ry="7.2" fill="#c80000" stroke="#6a0000" stroke-width="1"/>
<ellipse cx="1970.5" cy="595.5" rx="5.8" ry="7.2" fill="#c80000" stroke="#6a0000" stroke-width="1"/>
<ellipse cx="1792.9" cy="689.3" rx="5.8" ry="7.2" fill="#c80000" stroke="#6a0000" stroke-width="1"/>
<text x="1175.7" y="385.2" font-family='"Liberation Sans", sans-serif' font-size="32" fill="#333" textLength="29.5" lengthAdjust="spacingAndGlyphs" stroke="#333" stroke-width="0.5">60</text>
<text x="1183.7" y="429.5" font-family='"Liberation Sans", sans-serif' font-size="32" fill="#333" textLength="29.5" lengthAdjust="spacingAndGlyphs" stroke="#333" stroke-width="0.5">55</text>
<text x="1194.0" y="473.7" font-family='"Liberation Sans", sans-serif' font-size="32" fill="#333" textLength="29.0" lengthAdjust="spacingAndGlyphs" stroke="#333" stroke-width="0.5">50</text>
<text x="1204.5" y="517.7" font-family='"Liberation Sans", sans-serif' font-size="32" fill="#333" textLength="28.9" lengthAdjust="spacingAndGlyphs" stroke="#333" stroke-width="0.5">45</text>
<text x="1212.6" y="563.6" font-family='"Liberation Sans", sans-serif' font-size="32" fill="#333" textLength="29.4" lengthAdjust="spacingAndGlyphs" stroke="#333" stroke-width="0.5">40</text>
<text x="1222.2" y="607.5" font-family='"Liberation Sans", sans-serif' font-size="32" fill="#333" textLength="29.8" lengthAdjust="spacingAndGlyphs" stroke="#333" stroke-width="0.5">35</text>
<text x="1252.0" y="707.0" font-family='"Liberation Sans", sans-serif' font-size="32" fill="#333" textLength="12.9" lengthAdjust="spacingAndGlyphs" stroke="#333" stroke-width="0.5">2</text>
<text x="1292.0" y="799.0" font-family='"Liberation Sans", sans-serif' font-size="32" fill="#333" textLength="34.3" lengthAdjust="spacingAndGlyphs" stroke="#333" stroke-width="0.5">1.8</text>
<text x="1352.0" y="888.0" font-family='"Liberation Sans", sans-serif' font-size="32" fill="#333" textLength="34.0" lengthAdjust="spacingAndGlyphs" stroke="#333" stroke-width="0.5">1.6</text>
<text x="1414.0" y="978.0" font-family='"Liberation Sans", sans-serif' font-size="32" fill="#333" textLength="34.0" lengthAdjust="spacingAndGlyphs" stroke="#333" stroke-width="0.5">1.4</text>
<text x="1473.9" y="1067.0" font-family='"Liberation Sans", sans-serif' font-size="32" fill="#333" textLength="35.1" lengthAdjust="spacingAndGlyphs" stroke="#333" stroke-width="0.5">1.2</text>
<text x="1555.0" y="1153.4" font-family='"Liberation Sans", sans-serif' font-size="32" fill="#333" textLength="13.0" lengthAdjust="spacingAndGlyphs" stroke="#333" stroke-width="0.5">1</text>
<text x="1598.0" y="1153.4" font-family='"Liberation Sans", sans-serif' font-size="32" fill="#333" textLength="13.0" lengthAdjust="spacingAndGlyphs" stroke="#333" stroke-width="0.5">1</text>
<text x="1670.0" y="1078.0" font-family='"Liberation Sans", sans-serif' font-size="32" fill="#333" textLength="35.0" lengthAdjust="spacingAndGlyphs" stroke="#333" stroke-width="0.5">1.2</text>
<text x="1740.0" y="1000.5" font-family='"Liberation Sans", sans-serif' font-size="32" fill="#333" textLength="35.0" lengthAdjust="spacingAndGlyphs" stroke="#333" stroke-width="0.5">1.4</text>
<text x="1810.0" y="923.0" font-family='"Liberation Sans", sans-serif' font-size="32" fill="#333" textLength="35.0" lengthAdjust="spacingAndGlyphs" stroke="#333" stroke-width="0.5">1.6</text>
<text x="1882.5" y="843.0" font-family='"Liberation Sans", sans-serif' font-size="32" fill="#333" textLength="35.5" lengthAdjust="spacingAndGlyphs" stroke="#333" stroke-width="0.5">1.8</text>
<text x="1950.0" y="768.0" font-family='"Liberation Sans", sans-serif' font-size="32" fill="#333" textLength="15.0" lengthAdjust="spacingAndGlyphs" stroke="#333" stroke-width="0.5">2</text>
<text x="1187.5" y="1052.0" font-family='"Liberation Sans", sans-serif' font-size="43" fill="#2a2a2a" textLength="256.5" lengthAdjust="spacingAndGlyphs" stroke="#2a2a2a" stroke-width="0.5">B: PVA Fiber (%)</text>
<text x="1775.0" y="1104.0" font-family='"Liberation Sans", sans-serif' font-size="43" fill="#2a2a2a" textLength="177.5" lengthAdjust="spacingAndGlyphs" stroke="#2a2a2a" stroke-width="0.5">A: TiO2 (%)</text>
<text x="1140.3" y="824.0" font-family='"Liberation Sans", sans-serif' font-size="34" fill="#222" textLength="560.0" lengthAdjust="spacingAndGlyphs" transform="rotate(-90 1140.3 824.0)" stroke="#222" stroke-width="0.5">CS due to Acid Attack (MPa)</text>
<text x="1551.0" y="1200.5" font-family='"Liberation Serif", serif' font-size="44" fill="#111" stroke="#111" stroke-width="0.4">(<tspan font-weight="bold">b</tspan>)</text>
</g>
</svg>
</body></html>
